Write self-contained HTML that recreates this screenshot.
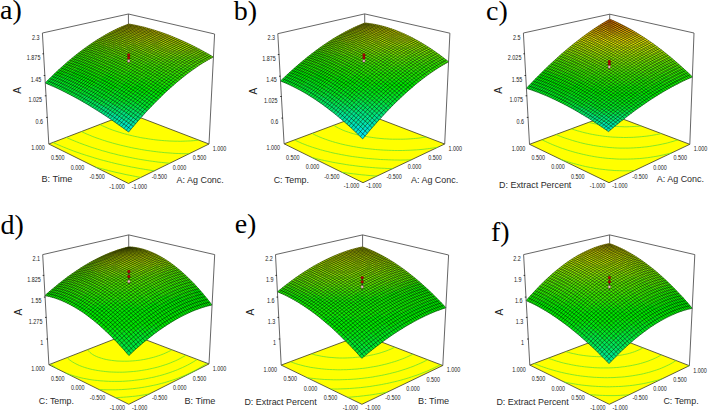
<!DOCTYPE html><html><head><meta charset="utf-8"><style>
html,body{margin:0;padding:0;background:#fff;}
svg{display:block;}
text{font-family:"Liberation Sans",sans-serif;fill:#333;}
.tk{font-size:6.6px;fill:#222;}
.tt{font-size:9.7px;fill:#2a2a2a;}
.pl{font-family:"Liberation Serif",serif;font-size:28px;fill:#000;}
</style></head><body>
<svg width="708" height="411" viewBox="0 0 708 411">
<path d="M48.8 144.0L128.5 183.5L209.0 144.0L129.0 113.3Z" fill="#ffff00" stroke="#3a3a20" stroke-width="0.8"/>
<path d="M141.1 177.5L137.8 176.9L135.3 176.4L132.4 175.8L129.2 175.2L126.1 174.6L123.0 173.9L120.0 173.2L117.0 172.6L114.1 171.9L111.2 171.2L108.3 170.5L105.5 169.7L102.7 169.0L100.0 168.3L97.2 167.5L95.6 167.1M154.5 170.9L152.1 170.5L148.9 170.0L145.6 169.5L143.3 169.1L140.2 168.6L137.0 168.0L133.9 167.4L131.4 167.0L128.8 166.4L125.8 165.8L122.8 165.2L119.9 164.5L117.1 163.9L114.2 163.2L111.5 162.5L108.7 161.8L106.0 161.1L103.3 160.4L99.9 159.5L97.3 158.7L94.8 158.0L92.3 157.2L89.1 156.2L86.7 155.5L84.3 154.7L81.2 153.7L79.0 152.9L76.0 151.9L73.8 151.1L71.0 150.0L68.8 149.2L66.1 148.1L63.4 147.0L61.4 146.2L58.9 145.1L56.3 144.0L53.9 142.9L52.7 142.3M169.9 163.3L167.0 163.0L164.0 162.7L161.5 162.4L158.2 162.1L155.6 161.7L152.6 161.3L149.5 160.9L147.2 160.5L144.0 160.0L140.9 159.5L138.4 159.1L135.8 158.6L132.8 158.0L129.9 157.4L127.0 156.8L124.2 156.2L121.4 155.6L118.6 155.0L116.0 154.3L113.3 153.6L110.7 153.0L108.1 152.3L105.1 151.4L102.3 150.7L99.9 149.9L97.5 149.2L94.4 148.2L92.1 147.5L89.2 146.5L87.0 145.7L84.1 144.7L82.0 143.9L79.3 142.9L76.6 141.8L74.6 141.0L72.1 140.0L69.6 138.9L67.2 137.8L66.0 137.2M189.5 153.7L186.7 153.7L184.0 153.7L181.2 153.6L178.2 153.5L175.1 153.4L172.5 153.2L170.1 153.0L167.0 152.8L164.2 152.6L161.7 152.3L158.6 152.0L156.2 151.7L153.1 151.3L150.3 150.9L147.9 150.6L144.8 150.1L141.8 149.6L139.5 149.2L137.0 148.7L134.1 148.2L131.3 147.6L128.6 147.0L125.9 146.4L123.3 145.8L120.7 145.2L118.1 144.5L114.9 143.7L112.5 143.0L110.1 142.3L107.2 141.5L104.8 140.7L102.5 140.0L99.7 139.0L97.0 138.1L94.8 137.3L92.2 136.3L89.6 135.2L87.1 134.2L84.7 133.1L82.3 132.0L81.2 131.5M198.3 140.1L195.3 140.5L193.2 140.7L190.5 140.9L187.7 141.0L185.3 141.1L182.9 141.2L180.3 141.3L177.7 141.2L175.0 141.2L172.1 141.1L169.2 141.0L166.7 140.8L164.4 140.7L161.2 140.4L158.9 140.2L155.9 139.9L153.7 139.6L150.7 139.2L148.2 138.8L145.8 138.4L143.0 138.0L140.2 137.5L137.6 136.9L134.9 136.4L132.4 135.8L129.9 135.2L127.5 134.6L124.6 133.8L122.1 133.1L119.9 132.4L117.0 131.5L114.9 130.8L112.2 129.9L109.6 128.9L107.2 127.9L104.8 126.8L102.5 125.8L100.3 124.7L99.8 124.4" fill="none" stroke="#5ee030" stroke-width="0.75"/>
<path d="M129.0 113.3L128.4 14.0" stroke="#555" stroke-width="0.9"/>
<path d="M128.6 132.0L133.3 126.4L128.6 123.0L123.9 128.5Z" fill="#00e6c9" stroke="#00e6c9" stroke-width="0.4"/>
<path d="M123.9 128.5L128.6 123.0L123.9 119.7L119.2 125.2Z" fill="#00e6ba" stroke="#00e6ba" stroke-width="0.4"/>
<path d="M119.2 125.2L123.9 119.7L119.3 116.5L114.6 122.0Z" fill="#00e6ac" stroke="#00e6ac" stroke-width="0.4"/>
<path d="M114.6 122.0L119.3 116.5L114.8 113.4L110.1 118.8ZM133.3 126.4L138.0 121.0L133.2 117.6L128.6 123.0Z" fill="#00e69e" stroke="#00e69e" stroke-width="0.4"/>
<path d="M110.1 118.8L114.8 113.4L110.3 110.5L105.6 115.8ZM128.6 123.0L133.2 117.6L128.6 114.4L123.9 119.7Z" fill="#00e68f" stroke="#00e68f" stroke-width="0.4"/>
<path d="M105.6 115.8L110.3 110.5L105.8 107.6L101.2 112.9ZM123.9 119.7L128.6 114.4L124.0 111.2L119.3 116.5Z" fill="#00e681" stroke="#00e681" stroke-width="0.4"/>
<path d="M101.2 112.9L105.8 107.6L101.5 104.9L96.8 110.1ZM119.3 116.5L124.0 111.2L119.4 108.2L114.8 113.4ZM138.0 121.0L142.6 115.8L137.8 112.5L133.2 117.6Z" fill="#00e673" stroke="#00e673" stroke-width="0.4"/>
<path d="M96.8 110.1L101.5 104.9L97.2 102.3L92.5 107.5ZM114.8 113.4L119.4 108.2L114.9 105.3L110.3 110.5ZM133.2 117.6L137.8 112.5L133.2 109.3L128.6 114.4Z" fill="#00e664" stroke="#00e664" stroke-width="0.4"/>
<path d="M92.5 107.5L97.2 102.3L92.9 99.7L88.3 104.9ZM88.3 104.9L92.9 99.7L88.7 97.3L84.1 102.4ZM110.3 110.5L114.9 105.3L110.5 102.5L105.8 107.6ZM128.6 114.4L133.2 109.3L128.6 106.2L124.0 111.2ZM142.6 115.8L147.1 110.8L142.4 107.5L137.8 112.5Z" fill="#00e656" stroke="#00e656" stroke-width="0.4"/>
<path d="M84.1 102.4L88.7 97.3L84.6 95.0L79.9 100.0ZM105.8 107.6L110.5 102.5L106.1 99.8L101.5 104.9ZM124.0 111.2L128.6 106.2L124.0 103.2L119.4 108.2ZM137.8 112.5L142.4 107.5L137.7 104.4L133.2 109.3Z" fill="#00e648" stroke="#00e648" stroke-width="0.4"/>
<path d="M79.9 100.0L84.6 95.0L80.5 92.8L75.9 97.8ZM75.9 97.8L80.5 92.8L76.4 90.7L71.8 95.6ZM101.5 104.9L106.1 99.8L101.8 97.3L97.2 102.3ZM119.4 108.2L124.0 103.2L119.5 100.4L114.9 105.3ZM133.2 109.3L137.7 104.4L133.1 101.3L128.6 106.2Z" fill="#00e639" stroke="#00e639" stroke-width="0.4"/>
<path d="M71.8 95.6L76.4 90.7L72.5 88.6L67.9 93.5ZM67.9 93.5L72.5 88.6L68.5 86.7L64.0 91.5ZM64.0 91.5L68.5 86.7L64.7 84.9L60.1 89.6ZM60.1 89.6L64.7 84.9L60.8 83.1L56.3 87.8ZM56.3 87.8L60.8 83.1L57.1 81.5L52.5 86.1ZM52.5 86.1L57.1 81.5L53.4 79.9L48.8 84.5ZM48.8 84.5L53.4 79.9L49.7 78.5L45.2 83.0ZM97.2 102.3L101.8 97.3L97.5 94.8L92.9 99.7ZM92.9 99.7L97.5 94.8L93.3 92.4L88.7 97.3ZM88.7 97.3L93.3 92.4L89.2 90.1L84.6 95.0ZM84.6 95.0L89.2 90.1L85.1 88.0L80.5 92.8ZM114.9 105.3L119.5 100.4L115.1 97.6L110.5 102.5ZM110.5 102.5L115.1 97.6L110.7 95.0L106.1 99.8ZM128.6 106.2L133.1 101.3L128.6 98.4L124.0 103.2ZM147.1 110.8L151.7 106.0L146.9 102.8L142.4 107.5ZM142.4 107.5L146.9 102.8L142.3 99.7L137.7 104.4Z" fill="#00e62b" stroke="#00e62b" stroke-width="0.4"/>
<path d="M80.5 92.8L85.1 88.0L81.0 85.9L76.4 90.7ZM76.4 90.7L81.0 85.9L77.0 83.9L72.5 88.6ZM72.5 88.6L77.0 83.9L73.1 82.1L68.5 86.7ZM68.5 86.7L73.1 82.1L69.2 80.3L64.7 84.9ZM64.7 84.9L69.2 80.3L65.4 78.6L60.8 83.1ZM60.8 83.1L65.4 78.6L61.6 77.0L57.1 81.5ZM57.1 81.5L61.6 77.0L57.9 75.5L53.4 79.9ZM53.4 79.9L57.9 75.5L54.2 74.1L49.7 78.5ZM106.1 99.8L110.7 95.0L106.4 92.4L101.8 97.3ZM101.8 97.3L106.4 92.4L102.1 90.0L97.5 94.8ZM97.5 94.8L102.1 90.0L97.9 87.7L93.3 92.4ZM93.3 92.4L97.9 87.7L93.7 85.5L89.2 90.1ZM124.0 103.2L128.6 98.4L124.1 95.6L119.5 100.4ZM119.5 100.4L124.1 95.6L119.6 92.9L115.1 97.6ZM115.1 97.6L119.6 92.9L115.2 90.3L110.7 95.0ZM137.7 104.4L142.3 99.7L137.6 96.7L133.1 101.3ZM133.1 101.3L137.6 96.7L133.1 93.8L128.6 98.4ZM151.7 106.0L156.1 101.4L151.4 98.2L146.9 102.8ZM146.9 102.8L151.4 98.2L146.7 95.2L142.3 99.7Z" fill="#00e61d" stroke="#00e61d" stroke-width="0.4"/>
<path d="M89.2 90.1L93.7 85.5L89.6 83.4L85.1 88.0ZM85.1 88.0L89.6 83.4L85.5 81.4L81.0 85.9ZM81.0 85.9L85.5 81.4L81.5 79.4L77.0 83.9ZM77.0 83.9L81.5 79.4L77.6 77.6L73.1 82.1ZM73.1 82.1L77.6 77.6L73.7 75.9L69.2 80.3ZM69.2 80.3L73.7 75.9L69.9 74.3L65.4 78.6ZM65.4 78.6L69.9 74.3L66.1 72.7L61.6 77.0ZM110.7 95.0L115.2 90.3L110.9 87.8L106.4 92.4ZM106.4 92.4L110.9 87.8L106.6 85.5L102.1 90.0ZM102.1 90.0L106.6 85.5L102.4 83.2L97.9 87.7ZM97.9 87.7L102.4 83.2L98.2 81.0L93.7 85.5ZM128.6 98.4L133.1 93.8L128.6 91.0L124.1 95.6ZM124.1 95.6L128.6 91.0L124.1 88.4L119.6 92.9ZM119.6 92.9L124.1 88.4L119.7 85.8L115.2 90.3ZM142.3 99.7L146.7 95.2L142.1 92.2L137.6 96.7ZM137.6 96.7L142.1 92.2L137.5 89.4L133.1 93.8ZM156.1 101.4L160.6 97.0L155.8 93.9L151.4 98.2ZM151.4 98.2L155.8 93.9L151.1 90.8L146.7 95.2Z" fill="#00e60e" stroke="#00e60e" stroke-width="0.4"/>
<path d="M61.6 77.0L66.1 72.7L62.3 71.3L57.9 75.5ZM57.9 75.5L62.3 71.3L58.6 69.9L54.2 74.1ZM93.7 85.5L98.2 81.0L94.1 79.0L89.6 83.4ZM89.6 83.4L94.1 79.0L90.0 77.0L85.5 81.4ZM85.5 81.4L90.0 77.0L86.0 75.1L81.5 79.4ZM81.5 79.4L86.0 75.1L82.1 73.4L77.6 77.6ZM77.6 77.6L82.1 73.4L78.2 71.7L73.7 75.9ZM73.7 75.9L78.2 71.7L74.3 70.1L69.9 74.3ZM115.2 90.3L119.7 85.8L115.4 83.4L110.9 87.8ZM110.9 87.8L115.4 83.4L111.1 81.1L106.6 85.5ZM106.6 85.5L111.1 81.1L106.9 78.9L102.4 83.2ZM102.4 83.2L106.9 78.9L102.7 76.7L98.2 81.0ZM133.1 93.8L137.5 89.4L133.0 86.7L128.6 91.0ZM128.6 91.0L133.0 86.7L128.6 84.1L124.1 88.4ZM124.1 88.4L128.6 84.1L124.2 81.6L119.7 85.8ZM146.7 95.2L151.1 90.8L146.5 87.9L142.1 92.2ZM142.1 92.2L146.5 87.9L141.9 85.2L137.5 89.4ZM137.5 89.4L141.9 85.2L137.4 82.5L133.0 86.7ZM160.6 97.0L164.9 92.8L160.2 89.7L155.8 93.9ZM155.8 93.9L160.2 89.7L155.5 86.7L151.1 90.8ZM164.9 92.8L169.3 88.8L164.5 85.7L160.2 89.7Z" fill="#00e600" stroke="#00e600" stroke-width="0.4"/>
<path d="M69.9 74.3L74.3 70.1L70.5 68.6L66.1 72.7ZM66.1 72.7L70.5 68.6L66.8 67.2L62.3 71.3ZM62.3 71.3L66.8 67.2L63.1 65.9L58.6 69.9ZM98.2 81.0L102.7 76.7L98.6 74.7L94.1 79.0ZM94.1 79.0L98.6 74.7L94.5 72.8L90.0 77.0ZM90.0 77.0L94.5 72.8L90.5 71.0L86.0 75.1ZM86.0 75.1L90.5 71.0L86.5 69.3L82.1 73.4ZM82.1 73.4L86.5 69.3L82.6 67.6L78.2 71.7ZM78.2 71.7L82.6 67.6L78.7 66.1L74.3 70.1ZM119.7 85.8L124.2 81.6L119.8 79.2L115.4 83.4ZM115.4 83.4L119.8 79.2L115.5 76.9L111.1 81.1ZM111.1 81.1L115.5 76.9L111.3 74.7L106.9 78.9ZM106.9 78.9L111.3 74.7L107.1 72.6L102.7 76.7ZM133.0 86.7L137.4 82.5L133.0 79.9L128.6 84.1ZM128.6 84.1L133.0 79.9L128.6 77.5L124.2 81.6ZM151.1 90.8L155.5 86.7L150.9 83.9L146.5 87.9ZM146.5 87.9L150.9 83.9L146.3 81.1L141.9 85.2ZM141.9 85.2L146.3 81.1L141.8 78.5L137.4 82.5ZM160.2 89.7L164.5 85.7L159.8 82.8L155.5 86.7ZM155.5 86.7L159.8 82.8L155.2 80.0L150.9 83.9ZM169.3 88.8L173.5 85.0L168.8 82.0L164.5 85.7Z" fill="#0ee600" stroke="#0ee600" stroke-width="0.4"/>
<path d="M74.3 70.1L78.7 66.1L74.9 64.7L70.5 68.6ZM70.5 68.6L74.9 64.7L71.2 63.3L66.8 67.2ZM66.8 67.2L71.2 63.3L67.5 62.1L63.1 65.9ZM102.7 76.7L107.1 72.6L103.0 70.7L98.6 74.7ZM98.6 74.7L103.0 70.7L98.9 68.8L94.5 72.8ZM94.5 72.8L98.9 68.8L94.9 67.0L90.5 71.0ZM90.5 71.0L94.9 67.0L90.9 65.4L86.5 69.3ZM86.5 69.3L90.9 65.4L87.0 63.8L82.6 67.6ZM82.6 67.6L87.0 63.8L83.1 62.3L78.7 66.1ZM78.7 66.1L83.1 62.3L79.3 60.9L74.9 64.7ZM74.9 64.7L79.3 60.9L75.5 59.6L71.2 63.3ZM124.2 81.6L128.6 77.5L124.2 75.1L119.8 79.2ZM119.8 79.2L124.2 75.1L119.9 72.9L115.5 76.9ZM115.5 76.9L119.9 72.9L115.7 70.7L111.3 74.7ZM111.3 74.7L115.7 70.7L111.5 68.7L107.1 72.6ZM137.4 82.5L141.8 78.5L137.3 76.0L133.0 79.9ZM133.0 79.9L137.3 76.0L132.9 73.6L128.6 77.5ZM128.6 77.5L132.9 73.6L128.6 71.3L124.2 75.1ZM150.9 83.9L155.2 80.0L150.6 77.3L146.3 81.1ZM146.3 81.1L150.6 77.3L146.1 74.7L141.8 78.5ZM164.5 85.7L168.8 82.0L164.1 79.1L159.8 82.8ZM159.8 82.8L164.1 79.1L159.5 76.3L155.2 80.0ZM173.5 85.0L177.7 81.4L173.0 78.4L168.8 82.0ZM168.8 82.0L173.0 78.4L168.3 75.5L164.1 79.1Z" fill="#1de600" stroke="#1de600" stroke-width="0.4"/>
<path d="M71.2 63.3L75.5 59.6L71.8 58.4L67.5 62.1ZM107.1 72.6L111.5 68.7L107.3 66.8L103.0 70.7ZM103.0 70.7L107.3 66.8L103.3 65.0L98.9 68.8ZM98.9 68.8L103.3 65.0L99.2 63.3L94.9 67.0ZM94.9 67.0L99.2 63.3L95.3 61.6L90.9 65.4ZM90.9 65.4L95.3 61.6L91.3 60.1L87.0 63.8ZM87.0 63.8L91.3 60.1L87.5 58.7L83.1 62.3ZM83.1 62.3L87.5 58.7L83.6 57.3L79.3 60.9ZM79.3 60.9L83.6 57.3L79.9 56.1L75.5 59.6ZM75.5 59.6L79.9 56.1L76.1 54.9L71.8 58.4ZM124.2 75.1L128.6 71.3L124.3 69.1L119.9 72.9ZM119.9 72.9L124.3 69.1L120.0 67.0L115.7 70.7ZM115.7 70.7L120.0 67.0L115.8 65.0L111.5 68.7ZM111.5 68.7L115.8 65.0L111.7 63.1L107.3 66.8ZM141.8 78.5L146.1 74.7L141.6 72.2L137.3 76.0ZM137.3 76.0L141.6 72.2L137.2 69.8L132.9 73.6ZM132.9 73.6L137.2 69.8L132.9 67.6L128.6 71.3ZM155.2 80.0L159.5 76.3L154.9 73.6L150.6 77.3ZM150.6 77.3L154.9 73.6L150.4 71.1L146.1 74.7ZM146.1 74.7L150.4 71.1L145.9 68.6L141.6 72.2ZM164.1 79.1L168.3 75.5L163.7 72.8L159.5 76.3ZM159.5 76.3L163.7 72.8L159.1 70.1L154.9 73.6ZM177.7 81.4L181.9 78.0L177.2 75.0L173.0 78.4ZM173.0 78.4L177.2 75.0L172.5 72.2L168.3 75.5ZM181.9 78.0L186.0 74.7L181.3 71.8L177.2 75.0Z" fill="#2be600" stroke="#2be600" stroke-width="0.4"/>
<path d="M107.3 66.8L111.7 63.1L107.6 61.3L103.3 65.0ZM103.3 65.0L107.6 61.3L103.6 59.6L99.2 63.3ZM99.2 63.3L103.6 59.6L99.6 58.1L95.3 61.6ZM95.3 61.6L99.6 58.1L95.6 56.6L91.3 60.1ZM91.3 60.1L95.6 56.6L91.8 55.2L87.5 58.7ZM87.5 58.7L91.8 55.2L87.9 53.9L83.6 57.3ZM83.6 57.3L87.9 53.9L84.1 52.7L79.9 56.1ZM79.9 56.1L84.1 52.7L80.4 51.6L76.1 54.9ZM128.6 71.3L132.9 67.6L128.6 65.4L124.3 69.1ZM124.3 69.1L128.6 65.4L124.3 63.4L120.0 67.0ZM120.0 67.0L124.3 63.4L120.1 61.4L115.8 65.0ZM115.8 65.0L120.1 61.4L116.0 59.6L111.7 63.1ZM111.7 63.1L116.0 59.6L111.9 57.9L107.6 61.3ZM141.6 72.2L145.9 68.6L141.5 66.3L137.2 69.8ZM137.2 69.8L141.5 66.3L137.1 64.1L132.9 67.6ZM132.9 67.6L137.1 64.1L132.8 62.0L128.6 65.4ZM154.9 73.6L159.1 70.1L154.6 67.6L150.4 71.1ZM150.4 71.1L154.6 67.6L150.1 65.2L145.9 68.6ZM145.9 68.6L150.1 65.2L145.7 62.9L141.5 66.3ZM168.3 75.5L172.5 72.2L167.9 69.4L163.7 72.8ZM163.7 72.8L167.9 69.4L163.3 66.9L159.1 70.1ZM159.1 70.1L163.3 66.9L158.8 64.4L154.6 67.6ZM177.2 75.0L181.3 71.8L176.6 69.0L172.5 72.2ZM172.5 72.2L176.6 69.0L172.0 66.3L167.9 69.4ZM186.0 74.7L190.1 71.6L185.4 68.8L181.3 71.8ZM181.3 71.8L185.4 68.8L180.7 66.0L176.6 69.0ZM190.1 71.6L194.1 68.8L189.4 65.9L185.4 68.8Z" fill="#39e600" stroke="#39e600" stroke-width="0.4"/>
<path d="M107.6 61.3L111.9 57.9L107.8 56.2L103.6 59.6ZM103.6 59.6L107.8 56.2L103.8 54.7L99.6 58.1ZM99.6 58.1L103.8 54.7L99.9 53.2L95.6 56.6ZM95.6 56.6L99.9 53.2L96.0 51.9L91.8 55.2ZM91.8 55.2L96.0 51.9L92.2 50.6L87.9 53.9ZM87.9 53.9L92.2 50.6L88.4 49.5L84.1 52.7ZM84.1 52.7L88.4 49.5L84.7 48.4L80.4 51.6ZM128.6 65.4L132.8 62.0L128.6 59.9L124.3 63.4ZM124.3 63.4L128.6 59.9L124.4 58.0L120.1 61.4ZM120.1 61.4L124.4 58.0L120.2 56.3L116.0 59.6ZM116.0 59.6L120.2 56.3L116.1 54.6L111.9 57.9ZM141.5 66.3L145.7 62.9L141.4 60.7L137.1 64.1ZM137.1 64.1L141.4 60.7L137.0 58.7L132.8 62.0ZM154.6 67.6L158.8 64.4L154.3 62.0L150.1 65.2ZM150.1 65.2L154.3 62.0L149.9 59.7L145.7 62.9ZM167.9 69.4L172.0 66.3L167.4 63.7L163.3 66.9ZM163.3 66.9L167.4 63.7L162.9 61.3L158.8 64.4ZM176.6 69.0L180.7 66.0L176.1 63.3L172.0 66.3ZM172.0 66.3L176.1 63.3L171.5 60.8L167.4 63.7ZM185.4 68.8L189.4 65.9L184.7 63.2L180.7 66.0ZM194.1 68.8L198.0 66.1L193.3 63.2L189.4 65.9Z" fill="#48e600" stroke="#48e600" stroke-width="0.4"/>
<path d="M111.9 57.9L116.1 54.6L112.1 53.0L107.8 56.2ZM107.8 56.2L112.1 53.0L108.1 51.5L103.8 54.7ZM103.8 54.7L108.1 51.5L104.1 50.1L99.9 53.2ZM99.9 53.2L104.1 50.1L100.2 48.8L96.0 51.9ZM96.0 51.9L100.2 48.8L96.4 47.5L92.2 50.6ZM92.2 50.6L96.4 47.5L92.6 46.4L88.4 49.5ZM88.4 49.5L92.6 46.4L88.9 45.4L84.7 48.4ZM132.8 62.0L137.0 58.7L132.8 56.7L128.6 59.9ZM128.6 59.9L132.8 56.7L128.6 54.8L124.4 58.0ZM124.4 58.0L128.6 54.8L124.4 53.1L120.2 56.3ZM145.7 62.9L149.9 59.7L145.5 57.6L141.4 60.7ZM141.4 60.7L145.5 57.6L141.2 55.6L137.0 58.7ZM158.8 64.4L162.9 61.3L158.4 59.0L154.3 62.0ZM154.3 62.0L158.4 59.0L154.0 56.7L149.9 59.7ZM167.4 63.7L171.5 60.8L167.0 58.4L162.9 61.3ZM180.7 66.0L184.7 63.2L180.1 60.6L176.1 63.3ZM176.1 63.3L180.1 60.6L175.5 58.1L171.5 60.8ZM189.4 65.9L193.3 63.2L188.7 60.5L184.7 63.2ZM184.7 63.2L188.7 60.5L184.0 57.9L180.1 60.6ZM198.0 66.1L201.9 63.5L197.2 60.7L193.3 63.2ZM193.3 63.2L197.2 60.7L192.6 58.1L188.7 60.5ZM201.9 63.5L205.8 61.2L201.1 58.4L197.2 60.7Z" fill="#56e600" stroke="#56e600" stroke-width="0.4"/>
<path d="M120.2 56.3L124.4 53.1L120.3 51.4L116.1 54.6ZM116.1 54.6L120.3 51.4L116.3 49.9L112.1 53.0ZM112.1 53.0L116.3 49.9L112.3 48.4L108.1 51.5ZM108.1 51.5L112.3 48.4L108.3 47.1L104.1 50.1ZM104.1 50.1L108.3 47.1L104.4 45.8L100.2 48.8ZM100.2 48.8L104.4 45.8L100.6 44.6L96.4 47.5ZM96.4 47.5L100.6 44.6L96.8 43.5L92.6 46.4ZM92.6 46.4L96.8 43.5L93.0 42.6L88.9 45.4ZM137.0 58.7L141.2 55.6L136.9 53.6L132.8 56.7ZM132.8 56.7L136.9 53.6L132.7 51.8L128.6 54.8ZM149.9 59.7L154.0 56.7L149.6 54.6L145.5 57.6ZM145.5 57.6L149.6 54.6L145.3 52.6L141.2 55.6ZM162.9 61.3L167.0 58.4L162.5 56.1L158.4 59.0ZM158.4 59.0L162.5 56.1L158.1 53.9L154.0 56.7ZM171.5 60.8L175.5 58.1L171.0 55.7L167.0 58.4ZM180.1 60.6L184.0 57.9L179.5 55.5L175.5 58.1ZM188.7 60.5L192.6 58.1L187.9 55.5L184.0 57.9ZM197.2 60.7L201.1 58.4L196.4 55.8L192.6 58.1ZM205.8 61.2L209.6 59.0L204.9 56.3L201.1 58.4ZM209.6 59.0L213.3 57.0L208.6 54.3L204.9 56.3Z" fill="#64e600" stroke="#64e600" stroke-width="0.4"/>
<path d="M128.6 54.8L132.7 51.8L128.6 50.1L124.4 53.1ZM124.4 53.1L128.6 50.1L124.5 48.5L120.3 51.4ZM120.3 51.4L124.5 48.5L120.4 47.0L116.3 49.9ZM116.3 49.9L120.4 47.0L116.4 45.5L112.3 48.4ZM141.2 55.6L145.3 52.6L141.1 50.7L136.9 53.6ZM136.9 53.6L141.1 50.7L136.9 48.9L132.7 51.8ZM154.0 56.7L158.1 53.9L153.7 51.8L149.6 54.6ZM167.0 58.4L171.0 55.7L166.5 53.4L162.5 56.1ZM175.5 58.1L179.5 55.5L175.0 53.1L171.0 55.7ZM184.0 57.9L187.9 55.5L183.4 53.1L179.5 55.5ZM192.6 58.1L196.4 55.8L191.8 53.2L187.9 55.5ZM201.1 58.4L204.9 56.3L200.2 53.6L196.4 55.8ZM204.9 56.3L208.6 54.3L204.0 51.7L200.2 53.6Z" fill="#73e600" stroke="#73e600" stroke-width="0.4"/>
<path d="M112.3 48.4L116.4 45.5L112.5 44.2L108.3 47.1ZM108.3 47.1L112.5 44.2L108.6 43.0L104.4 45.8ZM104.4 45.8L108.6 43.0L104.7 41.9L100.6 44.6ZM100.6 44.6L104.7 41.9L100.9 40.8L96.8 43.5ZM96.8 43.5L100.9 40.8L97.1 39.9L93.0 42.6ZM132.7 51.8L136.9 48.9L132.7 47.3L128.6 50.1ZM128.6 50.1L132.7 47.3L128.6 45.7L124.5 48.5ZM149.6 54.6L153.7 51.8L149.4 49.9L145.3 52.6ZM145.3 52.6L149.4 49.9L145.1 48.0L141.1 50.7ZM162.5 56.1L166.5 53.4L162.1 51.2L158.1 53.9ZM158.1 53.9L162.1 51.2L157.7 49.2L153.7 51.8ZM171.0 55.7L175.0 53.1L170.5 50.9L166.5 53.4ZM179.5 55.5L183.4 53.1L178.9 50.7L175.0 53.1ZM187.9 55.5L191.8 53.2L187.3 50.8L183.4 53.1ZM196.4 55.8L200.2 53.6L195.6 51.1L191.8 53.2ZM200.2 53.6L204.0 51.7L199.4 49.2L195.6 51.1Z" fill="#81e600" stroke="#81e600" stroke-width="0.4"/>
<path d="M124.5 48.5L128.6 45.7L124.5 44.2L120.4 47.0ZM120.4 47.0L124.5 44.2L120.5 42.8L116.4 45.5ZM116.4 45.5L120.5 42.8L116.6 41.5L112.5 44.2ZM112.5 44.2L116.6 41.5L112.7 40.4L108.6 43.0ZM108.6 43.0L112.7 40.4L108.8 39.3L104.7 41.9ZM104.7 41.9L108.8 39.3L105.0 38.3L100.9 40.8ZM100.9 40.8L105.0 38.3L101.2 37.4L97.1 39.9ZM141.1 50.7L145.1 48.0L140.9 46.3L136.9 48.9ZM136.9 48.9L140.9 46.3L136.8 44.6L132.7 47.3ZM132.7 47.3L136.8 44.6L132.7 43.1L128.6 45.7ZM153.7 51.8L157.7 49.2L153.4 47.3L149.4 49.9ZM149.4 49.9L153.4 47.3L149.2 45.4L145.1 48.0ZM166.5 53.4L170.5 50.9L166.1 48.8L162.1 51.2ZM162.1 51.2L166.1 48.8L161.7 46.7L157.7 49.2ZM175.0 53.1L178.9 50.7L174.4 48.5L170.5 50.9ZM183.4 53.1L187.3 50.8L182.8 48.5L178.9 50.7ZM191.8 53.2L195.6 51.1L191.1 48.7L187.3 50.8ZM195.6 51.1L199.4 49.2L194.8 46.8L191.1 48.7Z" fill="#8fe600" stroke="#8fe600" stroke-width="0.4"/>
<path d="M128.6 45.7L132.7 43.1L128.6 41.6L124.5 44.2ZM124.5 44.2L128.6 41.6L124.6 40.3L120.5 42.8ZM120.5 42.8L124.6 40.3L120.6 39.0L116.6 41.5ZM116.6 41.5L120.6 39.0L116.7 37.9L112.7 40.4ZM112.7 40.4L116.7 37.9L112.8 36.8L108.8 39.3ZM108.8 39.3L112.8 36.8L109.0 35.9L105.0 38.3ZM105.0 38.3L109.0 35.9L105.3 35.0L101.2 37.4ZM145.1 48.0L149.2 45.4L145.0 43.7L140.9 46.3ZM140.9 46.3L145.0 43.7L140.8 42.1L136.8 44.6ZM157.7 49.2L161.7 46.7L157.4 44.8L153.4 47.3ZM153.4 47.3L157.4 44.8L153.1 43.1L149.2 45.4ZM170.5 50.9L174.4 48.5L170.0 46.4L166.1 48.8ZM166.1 48.8L170.0 46.4L165.6 44.5L161.7 46.7ZM178.9 50.7L182.8 48.5L178.3 46.4L174.4 48.5ZM174.4 48.5L178.3 46.4L173.9 44.3L170.0 46.4ZM187.3 50.8L191.1 48.7L186.6 46.5L182.8 48.5ZM182.8 48.5L186.6 46.5L182.1 44.3L178.3 46.4ZM191.1 48.7L194.8 46.8L190.3 44.6L186.6 46.5Z" fill="#9ee600" stroke="#9ee600" stroke-width="0.4"/>
<path d="M136.8 44.6L140.8 42.1L136.7 40.6L132.7 43.1ZM132.7 43.1L136.7 40.6L132.6 39.2L128.6 41.6ZM128.6 41.6L132.6 39.2L128.6 37.9L124.6 40.3ZM124.6 40.3L128.6 37.9L124.6 36.7L120.6 39.0ZM120.6 39.0L124.6 36.7L120.7 35.6L116.7 37.9ZM116.7 37.9L120.7 35.6L116.9 34.5L112.8 36.8ZM112.8 36.8L116.9 34.5L113.0 33.6L109.0 35.9ZM109.0 35.9L113.0 33.6L109.3 32.8L105.3 35.0ZM149.2 45.4L153.1 43.1L148.9 41.4L145.0 43.7ZM145.0 43.7L148.9 41.4L144.8 39.8L140.8 42.1ZM161.7 46.7L165.6 44.5L161.3 42.6L157.4 44.8ZM157.4 44.8L161.3 42.6L157.1 40.8L153.1 43.1ZM170.0 46.4L173.9 44.3L169.5 42.3L165.6 44.5ZM178.3 46.4L182.1 44.3L177.7 42.3L173.9 44.3ZM186.6 46.5L190.3 44.6L185.9 42.5L182.1 44.3Z" fill="#ace600" stroke="#ace600" stroke-width="0.4"/>
<path d="M140.8 42.1L144.8 39.8L140.7 38.3L136.7 40.6ZM136.7 40.6L140.7 38.3L136.6 36.9L132.6 39.2ZM132.6 39.2L136.6 36.9L132.6 35.7L128.6 37.9ZM128.6 37.9L132.6 35.7L128.6 34.5L124.6 36.7ZM124.6 36.7L128.6 34.5L124.7 33.4L120.7 35.6ZM120.7 35.6L124.7 33.4L120.8 32.4L116.9 34.5ZM116.9 34.5L120.8 32.4L117.0 31.5L113.0 33.6ZM113.0 33.6L117.0 31.5L113.2 30.7L109.3 32.8ZM153.1 43.1L157.1 40.8L152.9 39.2L148.9 41.4ZM148.9 41.4L152.9 39.2L148.7 37.6L144.8 39.8ZM165.6 44.5L169.5 42.3L165.2 40.5L161.3 42.6ZM161.3 42.6L165.2 40.5L161.0 38.8L157.1 40.8ZM173.9 44.3L177.7 42.3L173.4 40.4L169.5 42.3ZM169.5 42.3L173.4 40.4L169.1 38.6L165.2 40.5ZM182.1 44.3L185.9 42.5L181.5 40.5L177.7 42.3ZM177.7 42.3L181.5 40.5L177.1 38.6L173.4 40.4Z" fill="#bae600" stroke="#bae600" stroke-width="0.4"/>
<path d="M144.8 39.8L148.7 37.6L144.6 36.2L140.7 38.3ZM140.7 38.3L144.6 36.2L140.5 34.8L136.6 36.9ZM136.6 36.9L140.5 34.8L136.5 33.6L132.6 35.7ZM132.6 35.7L136.5 33.6L132.5 32.4L128.6 34.5ZM128.6 34.5L132.5 32.4L128.6 31.4L124.7 33.4ZM124.7 33.4L128.6 31.4L124.7 30.4L120.8 32.4ZM120.8 32.4L124.7 30.4L120.9 29.6L117.0 31.5ZM117.0 31.5L120.9 29.6L117.1 28.8L113.2 30.7ZM157.1 40.8L161.0 38.8L156.8 37.1L152.9 39.2ZM152.9 39.2L156.8 37.1L152.6 35.6L148.7 37.6ZM148.7 37.6L152.6 35.6L148.5 34.2L144.6 36.2ZM165.2 40.5L169.1 38.6L164.8 36.9L161.0 38.8ZM161.0 38.8L164.8 36.9L160.6 35.3L156.8 37.1ZM173.4 40.4L177.1 38.6L172.8 36.8L169.1 38.6Z" fill="#c9e600" stroke="#c9e600" stroke-width="0.4"/>
<path d="M144.6 36.2L148.5 34.2L144.4 32.9L140.5 34.8ZM140.5 34.8L144.4 32.9L140.4 31.7L136.5 33.6ZM136.5 33.6L140.4 31.7L136.4 30.6L132.5 32.4ZM132.5 32.4L136.4 30.6L132.5 29.5L128.6 31.4ZM128.6 31.4L132.5 29.5L128.6 28.6L124.7 30.4ZM124.7 30.4L128.6 28.6L124.8 27.8L120.9 29.6ZM120.9 29.6L124.8 27.8L121.0 27.1L117.1 28.8ZM156.8 37.1L160.6 35.3L156.4 33.8L152.6 35.6ZM152.6 35.6L156.4 33.8L152.3 32.4L148.5 34.2ZM148.5 34.2L152.3 32.4L148.3 31.1L144.4 32.9ZM144.4 32.9L148.3 31.1L144.2 29.9L140.4 31.7ZM124.8 27.8L128.6 26.2L124.9 25.5L121.0 27.1ZM169.1 38.6L172.8 36.8L168.6 35.1L164.8 36.9ZM164.8 36.9L168.6 35.1L164.4 33.5L160.6 35.3ZM160.6 35.3L164.4 33.5L160.2 32.1L156.4 33.8Z" fill="#d7e600" stroke="#d7e600" stroke-width="0.4"/>
<path d="M140.4 31.7L144.2 29.9L140.3 28.8L136.4 30.6ZM136.4 30.6L140.3 28.8L136.3 27.8L132.5 29.5ZM132.5 29.5L136.3 27.8L132.5 27.0L128.6 28.6ZM128.6 28.6L132.5 27.0L128.6 26.2L124.8 27.8ZM156.4 33.8L160.2 32.1L156.1 30.7L152.3 32.4ZM152.3 32.4L156.1 30.7L152.1 29.5L148.3 31.1ZM148.3 31.1L152.1 29.5L148.0 28.3L144.2 29.9ZM144.2 29.9L148.0 28.3L144.1 27.2L140.3 28.8ZM140.3 28.8L144.1 27.2L140.1 26.3L136.3 27.8ZM136.3 27.8L140.1 26.3L136.3 25.4L132.5 27.0ZM132.5 27.0L136.3 25.4L132.4 24.7L128.6 26.2ZM128.6 26.2L132.4 24.7L128.7 24.0L124.9 25.5Z" fill="#e6e600" stroke="#e6e600" stroke-width="0.4"/>
<path d="M128.6 132.0L122.3 127.4L116.1 123.0L110.1 118.8L104.1 114.8L98.3 111.1L92.5 107.5L86.9 104.0L81.3 100.8L75.9 97.8L70.5 94.9L65.3 92.2L60.1 89.6L55.0 87.3L50.0 85.1L45.2 83.0M128.6 132.0L134.8 124.6L141.0 117.5L147.1 110.8L153.2 104.4L159.1 98.5L164.9 92.8L170.7 87.5L176.3 82.6L181.9 78.0L187.4 73.7L192.8 69.7L198.0 66.1L203.2 62.7L208.3 59.7L213.3 57.0M130.9 129.2L124.7 124.6L118.5 120.3L112.4 116.1L106.5 112.2L100.6 108.4L94.8 104.8L89.2 101.5L83.6 98.3L78.2 95.2L72.8 92.4L67.6 89.7L62.4 87.2L57.3 84.9L52.3 82.7L47.4 80.7M126.2 130.3L132.5 122.8L138.7 115.8L144.8 109.1L150.8 102.8L156.7 96.9L162.6 91.2L168.3 86.0L174.0 81.1L179.5 76.5L185.0 72.2L190.4 68.3L195.7 64.6L200.9 61.3L206.0 58.3L211.0 55.6M133.3 126.4L127.0 121.9L120.8 117.5L114.8 113.4L108.8 109.5L102.9 105.8L97.2 102.3L91.5 98.9L85.9 95.8L80.5 92.8L75.1 90.0L69.8 87.3L64.7 84.9L59.6 82.6L54.6 80.4L49.7 78.5M123.9 128.5L130.1 121.2L136.3 114.2L142.4 107.5L148.4 101.2L154.4 95.3L160.2 89.7L165.9 84.5L171.6 79.6L177.2 75.0L182.6 70.8L188.0 66.8L193.3 63.2L198.5 59.9L203.6 57.0L208.6 54.3M135.6 123.7L129.3 119.2L123.2 114.9L117.1 110.8L111.1 106.9L105.2 103.2L99.5 99.7L93.8 96.4L88.2 93.3L82.8 90.4L77.4 87.6L72.1 85.0L66.9 82.6L61.8 80.3L56.9 78.2L51.9 76.3M121.5 126.8L127.8 119.5L134.0 112.5L140.1 105.9L146.1 99.7L152.0 93.8L157.8 88.2L163.6 83.0L169.3 78.1L174.8 73.6L180.3 69.3L185.7 65.4L191.0 61.9L196.2 58.6L201.3 55.6L206.3 53.0M138.0 121.0L131.7 116.5L125.5 112.3L119.4 108.2L113.4 104.4L107.6 100.7L101.8 97.3L96.1 94.0L90.5 90.9L85.1 88.0L79.7 85.3L74.4 82.7L69.2 80.3L64.1 78.1L59.1 76.0L54.2 74.1M119.2 125.2L125.5 117.9L131.6 110.9L137.7 104.4L143.8 98.1L149.7 92.3L155.5 86.7L161.3 81.5L166.9 76.7L172.5 72.2L178.0 68.0L183.4 64.1L188.7 60.5L193.9 57.3L199.0 54.3L204.0 51.7M140.3 118.4L134.0 113.9L127.8 109.7L121.7 105.7L115.7 101.9L109.9 98.3L104.1 94.8L98.4 91.6L92.8 88.5L87.3 85.7L81.9 83.0L76.7 80.4L71.5 78.1L66.4 75.9L61.3 73.9L56.4 72.0M116.9 123.6L123.2 116.3L129.3 109.4L135.4 102.8L141.4 96.6L147.4 90.8L153.2 85.3L158.9 80.1L164.6 75.3L170.2 70.8L175.7 66.6L181.0 62.8L186.3 59.2L191.5 56.0L196.7 53.1L201.7 50.4M142.6 115.8L136.3 111.4L130.1 107.2L124.0 103.2L118.0 99.4L112.1 95.8L106.4 92.4L100.7 89.2L95.1 86.2L89.6 83.4L84.2 80.7L78.9 78.2L73.7 75.9L68.6 73.7L63.6 71.8L58.6 69.9M114.6 122.0L120.9 114.7L127.0 107.8L133.1 101.3L139.1 95.2L145.0 89.3L150.9 83.9L156.6 78.7L162.3 73.9L167.9 69.4L173.3 65.3L178.7 61.5L184.0 57.9L189.2 54.7L194.4 51.8L199.4 49.2M144.9 113.3L138.6 108.9L132.4 104.7L126.3 100.8L120.3 97.0L114.4 93.5L108.6 90.1L102.9 86.9L97.3 84.0L91.9 81.1L86.5 78.5L81.2 76.1L75.9 73.8L70.8 71.7L65.8 69.7L60.9 67.9M112.3 120.4L118.6 113.2L124.7 106.3L130.8 99.9L136.8 93.7L142.8 87.9L148.6 82.5L154.3 77.4L160.0 72.6L165.6 68.1L171.1 64.0L176.4 60.2L181.7 56.7L187.0 53.5L192.1 50.6L197.1 48.0M147.1 110.8L140.9 106.5L134.7 102.3L128.6 98.4L122.6 94.7L116.7 91.2L110.9 87.8L105.2 84.7L99.6 81.7L94.1 79.0L88.7 76.4L83.4 73.9L78.2 71.7L73.0 69.6L68.0 67.7L63.1 65.9M110.1 118.8L116.3 111.7L122.5 104.9L128.6 98.4L134.6 92.3L140.5 86.5L146.3 81.1L152.1 76.0L157.7 71.3L163.3 66.9L168.8 62.7L174.2 59.0L179.5 55.5L184.7 52.3L189.8 49.4L194.8 46.8M149.4 108.4L143.1 104.1L136.9 100.0L130.8 96.1L124.8 92.4L118.9 88.9L113.1 85.6L107.4 82.5L101.8 79.6L96.3 76.8L90.9 74.3L85.6 71.9L80.4 69.6L75.3 67.6L70.2 65.7L65.3 64.0M107.8 117.3L114.1 110.2L120.2 103.4L126.3 97.0L132.3 90.9L138.2 85.2L144.0 79.8L149.8 74.7L155.5 70.0L161.0 65.6L166.5 61.5L171.9 57.7L177.2 54.3L182.4 51.1L187.6 48.3L192.6 45.7M151.7 106.0L145.4 101.7L139.2 97.7L133.1 93.8L127.1 90.1L121.2 86.7L115.4 83.4L109.7 80.3L104.1 77.4L98.6 74.7L93.1 72.2L87.8 69.8L82.6 67.6L77.5 65.6L72.4 63.8L67.5 62.1M105.6 115.8L111.8 108.7L118.0 102.0L124.1 95.6L130.1 89.6L136.0 83.8L141.8 78.5L147.5 73.5L153.2 68.7L158.8 64.4L164.3 60.3L169.6 56.6L175.0 53.1L180.2 50.0L185.3 47.1L190.3 44.6M153.9 103.7L147.6 99.4L141.4 95.4L135.3 91.6L129.3 87.9L123.4 84.5L117.6 81.3L111.9 78.2L106.3 75.4L100.8 72.7L95.4 70.2L90.0 67.8L84.8 65.7L79.7 63.7L74.6 61.9L69.6 60.2M103.4 114.4L109.6 107.3L115.8 100.6L121.8 94.2L127.8 88.2L133.7 82.5L139.6 77.2L145.3 72.2L151.0 67.5L156.5 63.2L162.0 59.1L167.4 55.4L172.7 52.0L177.9 48.9L183.1 46.1L188.1 43.5M156.1 101.4L149.8 97.2L143.6 93.2L137.5 89.4L131.5 85.8L125.6 82.4L119.8 79.2L114.1 76.1L108.5 73.3L103.0 70.7L97.5 68.2L92.2 65.9L87.0 63.8L81.8 61.8L76.8 60.0L71.8 58.4M101.2 112.9L107.4 105.9L113.5 99.2L119.6 92.9L125.6 86.9L131.5 81.3L137.3 76.0L143.1 71.0L148.7 66.3L154.3 62.0L159.8 58.0L165.2 54.3L170.5 50.9L175.7 47.8L180.9 45.0L185.9 42.5M158.4 99.2L152.1 95.0L145.8 91.0L139.7 87.2L133.7 83.7L127.8 80.3L122.0 77.1L116.3 74.1L110.7 71.3L105.2 68.7L99.7 66.3L94.4 64.0L89.2 61.9L84.0 60.0L79.0 58.2L74.0 56.6M99.0 111.5L105.2 104.5L111.3 97.9L117.4 91.6L123.4 85.6L129.3 80.0L135.1 74.7L140.9 69.8L146.5 65.2L152.1 60.9L157.6 56.9L163.0 53.2L168.3 49.8L173.5 46.7L178.6 43.9L183.7 41.5M160.6 97.0L154.3 92.8L148.1 88.9L141.9 85.2L135.9 81.6L130.0 78.3L124.2 75.1L118.5 72.2L112.9 69.4L107.3 66.8L101.9 64.4L96.6 62.2L91.3 60.1L86.2 58.2L81.1 56.5L76.1 54.9M96.8 110.1L103.0 103.2L109.2 96.6L115.2 90.3L121.2 84.4L127.1 78.8L132.9 73.6L138.7 68.6L144.3 64.0L149.9 59.7L155.4 55.8L160.8 52.1L166.1 48.8L171.3 45.7L176.4 42.9L181.5 40.5M162.8 94.9L156.5 90.8L150.2 86.8L144.1 83.1L138.1 79.6L132.2 76.3L126.4 73.2L120.7 70.2L115.1 67.5L109.5 64.9L104.1 62.6L98.7 60.3L93.5 58.3L88.3 56.5L83.3 54.8L78.3 53.2M94.7 108.8L100.9 101.9L107.0 95.3L113.0 89.1L119.0 83.2L124.9 77.6L130.7 72.4L136.5 67.5L142.1 62.9L147.7 58.7L153.2 54.7L158.6 51.1L163.9 47.7L169.1 44.7L174.3 42.0L179.3 39.5M164.9 92.8L158.6 88.7L152.4 84.8L146.3 81.1L140.3 77.6L134.4 74.3L128.6 71.3L122.8 68.3L117.2 65.6L111.7 63.1L106.2 60.8L100.9 58.6L95.6 56.6L90.5 54.7L85.4 53.1L80.4 51.6M92.5 107.5L98.7 100.6L104.8 94.0L110.9 87.8L116.9 82.0L122.8 76.4L128.6 71.3L134.3 66.4L140.0 61.8L145.5 57.6L151.0 53.7L156.4 50.1L161.7 46.7L166.9 43.7L172.1 41.0L177.1 38.6M167.1 90.8L160.8 86.7L154.6 82.8L148.5 79.2L142.5 75.7L136.5 72.5L130.7 69.4L125.0 66.5L119.4 63.8L113.8 61.3L108.4 59.0L103.0 56.9L97.8 54.9L92.6 53.1L87.5 51.4L82.5 50.0M90.4 106.1L96.6 99.3L102.7 92.8L108.7 86.6L114.7 80.8L120.6 75.3L126.4 70.1L132.1 65.3L137.8 60.8L143.4 56.6L148.8 52.7L154.2 49.1L159.6 45.8L164.8 42.8L169.9 40.1L175.0 37.7M169.3 88.8L163.0 84.8L156.7 80.9L150.6 77.3L144.6 73.8L138.7 70.6L132.9 67.6L127.1 64.7L121.5 62.1L116.0 59.6L110.5 57.3L105.2 55.2L99.9 53.2L94.7 51.5L89.6 49.9L84.7 48.4M88.3 104.9L94.5 98.1L100.6 91.6L106.6 85.5L112.6 79.7L118.5 74.2L124.3 69.1L130.0 64.2L135.6 59.7L141.2 55.6L146.7 51.7L152.1 48.1L157.4 44.8L162.6 41.9L167.8 39.2L172.8 36.8M171.4 86.9L165.1 82.8L158.9 79.0L152.8 75.4L146.8 72.0L140.8 68.8L135.0 65.8L129.3 63.0L123.6 60.3L118.1 57.9L112.7 55.6L107.3 53.5L102.0 51.6L96.8 49.9L91.8 48.3L86.8 46.9M86.2 103.6L92.3 96.8L98.5 90.4L104.5 84.3L110.4 78.5L116.3 73.1L122.1 68.0L127.9 63.2L133.5 58.7L139.1 54.6L144.6 50.7L150.0 47.2L155.3 43.9L160.5 41.0L165.7 38.3L170.7 35.9M173.5 85.0L167.2 81.0L161.0 77.2L154.9 73.6L148.9 70.2L143.0 67.1L137.1 64.1L131.4 61.3L125.8 58.7L120.2 56.3L114.8 54.0L109.4 52.0L104.1 50.1L99.0 48.3L93.9 46.8L88.9 45.4M84.1 102.4L90.2 95.7L96.4 89.3L102.4 83.2L108.3 77.5L114.2 72.0L120.0 67.0L125.7 62.2L131.4 57.8L136.9 53.6L142.4 49.8L147.8 46.3L153.1 43.1L158.4 40.1L163.5 37.5L168.6 35.1M175.6 83.2L169.3 79.2L163.1 75.4L157.0 71.9L151.0 68.5L145.1 65.3L139.2 62.4L133.5 59.6L127.9 57.0L122.3 54.6L116.9 52.4L111.5 50.4L106.2 48.5L101.0 46.8L96.0 45.3L90.9 44.0M82.0 101.2L88.2 94.5L94.3 88.1L100.3 82.1L106.2 76.4L112.1 71.0L117.9 66.0L123.6 61.2L129.3 56.8L134.8 52.7L140.3 48.9L145.7 45.4L151.0 42.2L156.3 39.3L161.4 36.7L166.5 34.3M177.7 81.4L171.4 77.4L165.2 73.7L159.1 70.1L153.1 66.8L147.2 63.7L141.4 60.7L135.6 58.0L130.0 55.5L124.4 53.1L119.0 50.9L113.6 48.9L108.3 47.1L103.1 45.4L98.0 43.9L93.0 42.6M79.9 100.0L86.1 93.4L92.2 87.0L98.2 81.0L104.2 75.4L110.0 70.0L115.8 65.0L121.5 60.3L127.2 55.9L132.7 51.8L138.2 48.0L143.6 44.6L148.9 41.4L154.2 38.5L159.3 35.9L164.4 33.5M179.8 79.6L173.5 75.7L167.3 72.0L161.2 68.5L155.2 65.2L149.3 62.1L143.4 59.1L137.7 56.4L132.1 53.9L126.5 51.6L121.0 49.4L115.7 47.4L110.4 45.6L105.2 44.0L100.1 42.5L95.1 41.2M77.9 98.9L84.0 92.2L90.1 85.9L96.1 80.0L102.1 74.3L108.0 69.0L113.7 64.0L119.5 59.4L125.1 55.0L130.7 50.9L136.1 47.2L141.5 43.7L146.8 40.6L152.1 37.7L157.2 35.1L162.3 32.8M181.9 78.0L175.6 74.0L169.4 70.3L163.3 66.9L157.3 63.6L151.3 60.5L145.5 57.6L139.8 54.9L134.1 52.4L128.6 50.1L123.1 48.0L117.7 46.0L112.5 44.2L107.3 42.6L102.2 41.2L97.1 39.9M75.9 97.8L82.0 91.2L88.1 84.9L94.1 79.0L100.0 73.4L105.9 68.1L111.7 63.1L117.4 58.5L123.0 54.1L128.6 50.1L134.1 46.4L139.5 42.9L144.8 39.8L150.0 36.9L155.2 34.4L160.2 32.1M184.0 76.3L177.7 72.4L171.5 68.7L165.4 65.3L159.3 62.0L153.4 59.0L147.6 56.1L141.8 53.4L136.2 50.9L130.6 48.7L125.2 46.5L119.8 44.6L114.5 42.9L109.3 41.3L104.2 39.9L99.2 38.6M73.8 96.7L80.0 90.1L86.1 83.9L92.1 78.0L98.0 72.4L103.8 67.1L109.6 62.2L115.3 57.6L121.0 53.3L126.5 49.3L132.0 45.6L137.4 42.2L142.7 39.0L147.9 36.2L153.1 33.7L158.2 31.4M186.0 74.7L179.7 70.8L173.5 67.2L167.4 63.7L161.4 60.5L155.5 57.5L149.6 54.6L143.9 52.0L138.3 49.5L132.7 47.3L127.2 45.2L121.9 43.3L116.6 41.5L111.4 40.0L106.3 38.6L101.2 37.4M71.8 95.6L78.0 89.1L84.0 82.9L90.0 77.0L96.0 71.5L101.8 66.2L107.6 61.3L113.3 56.7L118.9 52.5L124.5 48.5L130.0 44.8L135.3 41.4L140.7 38.3L145.9 35.5L151.0 33.0L156.1 30.7M188.1 73.2L181.8 69.3L175.6 65.7L169.5 62.3L163.4 59.0L157.5 56.0L151.7 53.2L145.9 50.6L140.3 48.2L134.7 45.9L129.3 43.9L123.9 42.0L118.6 40.3L113.4 38.7L108.3 37.4L103.2 36.2M69.8 94.5L76.0 88.0L82.0 81.9L88.0 76.0L93.9 70.5L99.8 65.3L105.6 60.5L111.3 55.9L116.9 51.7L122.4 47.7L127.9 44.0L133.3 40.7L138.6 37.6L143.9 34.8L149.0 32.3L154.1 30.1M190.1 71.6L183.8 67.8L177.6 64.2L171.5 60.8L165.5 57.6L159.5 54.6L153.7 51.8L148.0 49.2L142.3 46.8L136.8 44.6L131.3 42.6L125.9 40.7L120.6 39.0L115.4 37.5L110.3 36.2L105.3 35.0M67.9 93.5L74.0 87.1L80.0 80.9L86.0 75.1L91.9 69.7L97.8 64.5L103.6 59.6L109.3 55.1L114.9 50.9L120.4 47.0L125.9 43.3L131.3 40.0L136.6 36.9L141.8 34.2L147.0 31.7L152.1 29.5M192.1 70.2L185.8 66.4L179.6 62.8L173.5 59.4L167.5 56.2L161.6 53.3L155.7 50.5L150.0 47.9L144.3 45.5L138.8 43.3L133.3 41.3L127.9 39.5L122.6 37.8L117.4 36.3L112.3 35.0L107.3 33.9M65.9 92.5L72.0 86.1L78.1 80.0L84.0 74.2L90.0 68.8L95.8 63.7L101.6 58.8L107.3 54.3L112.9 50.1L118.4 46.2L123.9 42.6L129.3 39.3L134.6 36.3L139.8 33.5L145.0 31.1L150.0 28.9M194.1 68.8L187.8 65.0L181.6 61.4L175.5 58.1L169.5 54.9L163.6 52.0L157.7 49.2L152.0 46.7L146.4 44.3L140.8 42.1L135.3 40.1L129.9 38.3L124.6 36.7L119.4 35.2L114.3 33.9L109.3 32.8M64.0 91.5L70.1 85.1L76.1 79.1L82.1 73.4L88.0 67.9L93.8 62.9L99.6 58.1L105.3 53.6L110.9 49.4L116.4 45.5L121.9 42.0L127.3 38.7L132.6 35.7L137.8 32.9L143.0 30.5L148.0 28.3M196.1 67.4L189.8 63.6L183.6 60.1L177.5 56.7L171.5 53.6L165.6 50.7L159.7 48.0L154.0 45.4L148.3 43.1L142.8 40.9L137.3 39.0L131.9 37.2L126.6 35.6L121.4 34.1L116.3 32.8L111.3 31.7M62.0 90.6L68.1 84.2L74.1 78.2L80.1 72.5L86.0 67.1L91.8 62.1L97.6 57.3L103.3 52.9L108.9 48.7L114.4 44.9L119.9 41.3L125.3 38.0L130.6 35.1L135.8 32.4L141.0 29.9L146.0 27.8M198.0 66.1L191.8 62.3L185.6 58.8L179.5 55.5L173.5 52.4L167.5 49.5L161.7 46.7L156.0 44.2L150.3 41.9L144.8 39.8L139.3 37.8L133.9 36.1L128.6 34.5L123.4 33.1L118.3 31.8L113.2 30.7M60.1 89.6L66.2 83.3L72.2 77.3L78.2 71.7L84.1 66.3L89.9 61.3L95.6 56.6L101.3 52.2L106.9 48.0L112.5 44.2L117.9 40.7L123.3 37.4L128.6 34.5L133.8 31.8L139.0 29.4L144.1 27.2M200.0 64.8L193.7 61.1L187.5 57.5L181.4 54.2L175.4 51.2L169.5 48.3L163.7 45.6L158.0 43.1L152.3 40.8L146.7 38.7L141.3 36.8L135.9 35.0L130.6 33.4L125.4 32.0L120.2 30.8L115.2 29.8M58.2 88.7L64.3 82.5L70.3 76.5L76.2 70.9L82.1 65.6L87.9 60.6L93.7 55.9L99.4 51.5L105.0 47.4L110.5 43.6L116.0 40.1L121.3 36.9L126.6 33.9L131.9 31.3L137.0 28.9L142.1 26.8M201.9 63.5L195.7 59.8L189.5 56.3L183.4 53.1L177.4 50.0L171.5 47.1L165.6 44.5L159.9 42.0L154.3 39.7L148.7 37.6L143.2 35.7L137.8 34.0L132.5 32.4L127.3 31.1L122.2 29.9L117.1 28.8M56.3 87.8L62.4 81.6L68.4 75.7L74.3 70.1L80.2 64.8L86.0 59.9L91.8 55.2L97.4 50.8L103.0 46.8L108.6 43.0L114.0 39.5L119.4 36.3L124.7 33.4L129.9 30.8L135.1 28.4L140.1 26.3M203.9 62.3L197.6 58.7L191.4 55.2L185.3 51.9L179.3 48.9L173.4 46.0L167.6 43.4L161.9 40.9L156.2 38.7L150.7 36.6L145.2 34.7L139.8 33.0L134.5 31.5L129.3 30.1L124.1 28.9L119.1 27.9M54.4 87.0L60.5 80.8L66.5 74.9L72.4 69.3L78.3 64.1L84.1 59.2L89.8 54.5L95.5 50.2L101.1 46.2L106.6 42.4L112.1 39.0L117.5 35.8L122.8 32.9L128.0 30.3L133.1 27.9L138.2 25.9M205.8 61.2L199.5 57.5L193.3 54.1L187.3 50.8L181.3 47.8L175.4 45.0L169.5 42.3L163.8 39.9L158.2 37.7L152.6 35.6L147.1 33.7L141.7 32.1L136.4 30.6L131.2 29.2L126.1 28.1L121.0 27.1M52.5 86.1L58.6 80.0L64.6 74.1L70.5 68.6L76.4 63.4L82.2 58.5L87.9 53.9L93.6 49.6L99.2 45.6L104.7 41.9L110.2 38.4L115.5 35.3L120.8 32.4L126.0 29.8L131.2 27.5L136.3 25.4M207.7 60.1L201.4 56.4L195.3 53.0L189.2 49.8L183.2 46.8L177.3 43.9L171.5 41.3L165.7 38.9L160.1 36.7L154.5 34.7L149.0 32.8L143.7 31.2L138.4 29.7L133.1 28.4L128.0 27.2L122.9 26.2M50.7 85.3L56.7 79.2L62.7 73.4L68.6 67.9L74.5 62.7L80.3 57.8L86.0 53.3L91.7 49.0L97.3 45.0L102.8 41.3L108.2 37.9L113.6 34.8L118.9 32.0L124.1 29.4L129.3 27.1L134.3 25.0M209.6 59.0L203.3 55.4L197.2 52.0L191.1 48.7L185.1 45.8L179.2 43.0L173.4 40.4L167.6 38.0L162.0 35.8L156.4 33.8L151.0 31.9L145.6 30.3L140.3 28.8L135.0 27.5L129.9 26.4L124.9 25.5M48.8 84.5L54.9 78.4L60.8 72.7L66.8 67.2L72.6 62.1L78.4 57.2L84.1 52.7L89.8 48.4L95.4 44.5L100.9 40.8L106.3 37.4L111.7 34.4L117.0 31.5L122.2 29.0L127.4 26.7L132.4 24.7M211.4 58.0L205.2 54.4L199.0 51.0L193.0 47.8L187.0 44.8L181.1 42.0L175.3 39.4L169.5 37.1L163.9 34.9L158.3 32.9L152.9 31.1L147.5 29.5L142.2 28.0L137.0 26.7L131.8 25.6L126.8 24.7M47.0 83.8L53.0 77.7L59.0 72.0L64.9 66.6L70.8 61.4L76.6 56.6L82.3 52.1L87.9 47.9L93.5 44.0L99.0 40.3L104.5 37.0L109.8 33.9L115.1 31.1L120.3 28.6L125.5 26.3L130.5 24.3M213.3 57.0L207.1 53.4L200.9 50.0L194.8 46.8L188.9 43.9L183.0 41.1L177.1 38.6L171.4 36.2L165.8 34.0L160.2 32.1L154.8 30.3L149.4 28.7L144.1 27.2L138.8 26.0L133.7 24.9L128.7 24.0M45.2 83.0L51.2 77.0L57.2 71.3L63.1 65.9L68.9 60.8L74.7 56.0L80.4 51.6L86.1 47.4L91.6 43.5L97.1 39.9L102.6 36.6L107.9 33.5L113.2 30.7L118.4 28.2L123.6 26.0L128.7 24.0" fill="none" stroke="#000" stroke-opacity="0.75" stroke-width="0.6"/>
<path d="M48.8 144.0L42.4 33.0L128.4 14.0L214.6 34.0L209.0 144.0" fill="none" stroke="#555" stroke-width="0.9"/>
<text x="0.0" y="19.3" class="pl">a)</text>
<text x="39.6" y="39.6" class="tk" text-anchor="end" textLength="7.52" lengthAdjust="spacingAndGlyphs">2.3</text>
<text x="40.4" y="60.1" class="tk" text-anchor="end" textLength="13.54" lengthAdjust="spacingAndGlyphs">1.875</text>
<path d="M42.4 53.8H43.9" stroke="#222" stroke-width="0.9"/>
<text x="41.3" y="81.8" class="tk" text-anchor="end" textLength="10.53" lengthAdjust="spacingAndGlyphs">1.45</text>
<path d="M43.7 75.5H45.2" stroke="#222" stroke-width="0.9"/>
<text x="42.1" y="102.0" class="tk" text-anchor="end" textLength="13.54" lengthAdjust="spacingAndGlyphs">1.025</text>
<path d="M44.8 95.8H46.3" stroke="#222" stroke-width="0.9"/>
<text x="42.9" y="123.6" class="tk" text-anchor="end" textLength="7.52" lengthAdjust="spacingAndGlyphs">0.6</text>
<path d="M46.1 117.4H47.6" stroke="#222" stroke-width="0.9"/>
<text x="37.9" y="150.4" class="tk" text-anchor="middle" textLength="13.54" lengthAdjust="spacingAndGlyphs">1.000</text>
<text x="57.7" y="160.1" class="tk" text-anchor="middle" textLength="13.54" lengthAdjust="spacingAndGlyphs">0.500</text>
<text x="77.4" y="169.7" class="tk" text-anchor="middle" textLength="13.54" lengthAdjust="spacingAndGlyphs">0.000</text>
<text x="97.2" y="179.3" class="tk" text-anchor="middle" textLength="15.34" lengthAdjust="spacingAndGlyphs">-0.500</text>
<text x="117.0" y="189.0" class="tk" text-anchor="middle" textLength="15.34" lengthAdjust="spacingAndGlyphs">-1.000</text>
<text x="139.4" y="188.7" class="tk" text-anchor="middle" textLength="15.34" lengthAdjust="spacingAndGlyphs">-1.000</text>
<text x="159.4" y="179.2" class="tk" text-anchor="middle" textLength="15.34" lengthAdjust="spacingAndGlyphs">-0.500</text>
<text x="179.5" y="169.8" class="tk" text-anchor="middle" textLength="13.54" lengthAdjust="spacingAndGlyphs">0.000</text>
<text x="199.6" y="160.3" class="tk" text-anchor="middle" textLength="13.54" lengthAdjust="spacingAndGlyphs">0.500</text>
<text x="219.6" y="150.9" class="tk" text-anchor="middle" textLength="13.54" lengthAdjust="spacingAndGlyphs">1.000</text>
<text x="56.9" y="182.3" class="tt" text-anchor="middle" textLength="31.0" lengthAdjust="spacingAndGlyphs">B: Time</text>
<text x="200.2" y="182.6" class="tt" text-anchor="middle" textLength="47.2" lengthAdjust="spacingAndGlyphs">A: Ag Conc.</text>
<text x="21.4" y="90.5" class="tt" text-anchor="middle" style="font-size:10px;fill:#222" transform="rotate(-90 21.4 90.5)">A</text>
<path d="M128.7 55.0V63.6" stroke="#222" stroke-width="0.8"/>
<circle cx="128.7" cy="55.0" r="1.4" fill="#b00606" stroke="#500" stroke-width="0.3"/>
<circle cx="128.7" cy="57.8" r="1.4" fill="#b00606" stroke="#500" stroke-width="0.3"/>
<circle cx="128.7" cy="61.0" r="1.4" fill="#e8c0cc" stroke="#500" stroke-width="0.3"/>
<path d="M284.1 143.8L363.0 182.7L444.7 144.0L365.1 113.5Z" fill="#ffff00" stroke="#3a3a20" stroke-width="0.8"/>
<path d="M377.0 176.0L374.3 175.9L370.8 175.6L368.0 175.4L365.4 175.1L361.8 174.8L359.4 174.5L356.0 174.1L353.4 173.8L350.0 173.4L347.6 173.1L344.2 172.6L341.8 172.3M392.7 168.6L389.9 168.6L387.2 168.5L384.5 168.3L381.3 168.2L378.0 168.0L375.4 167.8L372.8 167.6L369.3 167.3L366.8 167.1L363.9 166.8L360.9 166.5L358.2 166.2L355.2 165.8L352.3 165.4L349.6 165.1L346.4 164.6L344.1 164.2L341.1 163.7L338.0 163.2L335.2 162.7L332.9 162.3L330.1 161.7L327.2 161.1L324.4 160.5L321.6 159.9L318.9 159.3L316.3 158.6L313.7 157.9L311.7 157.4M411.2 159.8L408.5 159.9L405.8 160.0L403.0 160.0L400.2 160.1L397.4 160.0L394.5 160.0L391.5 159.9L388.5 159.8L385.9 159.7L383.3 159.6L380.5 159.5L377.2 159.2L374.6 159.0L372.1 158.8L368.7 158.5L366.4 158.3L363.1 157.9L360.8 157.6L357.6 157.2L355.2 156.9L352.3 156.5L349.2 156.0L346.8 155.6L344.2 155.1L341.3 154.6L338.5 154.0L335.7 153.5L333.0 152.9L330.4 152.3L327.8 151.6L325.2 151.0L322.7 150.3L320.3 149.7L317.2 148.7L314.9 148.0L312.6 147.3L309.7 146.3L307.6 145.6L304.9 144.5L302.3 143.5L299.8 142.4L298.0 141.6L295.7 140.5L294.6 139.9M437.8 147.3L435.3 147.7L432.4 148.1L429.6 148.5L427.3 148.8L424.2 149.2L422.0 149.4L418.9 149.7L416.3 149.9L414.0 150.0L410.9 150.2L407.9 150.3L405.3 150.4L402.7 150.5L400.0 150.5L397.3 150.5L394.5 150.5L391.6 150.4L388.7 150.3L386.2 150.2L383.7 150.1L380.8 149.9L377.8 149.7L375.5 149.5L372.3 149.2L369.9 148.9L366.9 148.6L364.6 148.3L361.5 147.9L358.9 147.5L356.6 147.1L353.7 146.6L350.9 146.1L348.2 145.5L345.5 145.0L342.9 144.4L340.4 143.8L337.9 143.1L335.5 142.5L332.5 141.6L330.2 140.9L327.8 140.1L325.3 139.2L322.6 138.2L320.1 137.2L318.2 136.4L316.5 135.6L314.2 134.5L312.1 133.3M426.4 137.0L423.6 137.4L420.8 137.8L418.8 138.1L415.7 138.4L413.5 138.6L410.7 138.8L407.9 139.0L405.6 139.1L403.2 139.2L400.5 139.2L397.8 139.2L395.2 139.2L392.6 139.2L389.7 139.1L386.7 138.9L384.4 138.8L382.0 138.6L378.9 138.3L376.8 138.1L373.8 137.7L371.2 137.3L368.9 137.0L366.1 136.5L363.4 136.0L360.8 135.5L358.3 135.0L355.9 134.4L353.4 133.7L350.6 132.9L348.5 132.2L345.8 131.3L343.2 130.3L340.8 129.2L338.6 128.2L337.0 127.3L335.1 126.2L333.8 125.2" fill="none" stroke="#5ee030" stroke-width="0.75"/>
<path d="M365.1 113.5L364.7 13.9" stroke="#555" stroke-width="0.9"/>
<path d="M362.7 138.9L367.4 133.2L362.8 128.8L358.1 134.4Z" fill="#00e6e6" stroke="#00e6e6" stroke-width="0.4"/>
<path d="M358.1 134.4L362.8 128.8L358.2 124.5L353.5 130.1Z" fill="#00e6d7" stroke="#00e6d7" stroke-width="0.4"/>
<path d="M367.4 133.2L372.1 127.7L367.5 123.3L362.8 128.8Z" fill="#00e6c9" stroke="#00e6c9" stroke-width="0.4"/>
<path d="M353.5 130.1L358.2 124.5L353.7 120.5L349.0 126.0Z" fill="#00e6ba" stroke="#00e6ba" stroke-width="0.4"/>
<path d="M349.0 126.0L353.7 120.5L349.2 116.6L344.5 122.0ZM362.8 128.8L367.5 123.3L362.9 119.2L358.2 124.5ZM372.1 127.7L376.8 122.4L372.1 118.1L367.5 123.3Z" fill="#00e6ac" stroke="#00e6ac" stroke-width="0.4"/>
<path d="M344.5 122.0L349.2 116.6L344.8 112.9L340.1 118.2ZM358.2 124.5L362.9 119.2L358.4 115.2L353.7 120.5Z" fill="#00e69e" stroke="#00e69e" stroke-width="0.4"/>
<path d="M340.1 118.2L344.8 112.9L340.5 109.3L335.8 114.6ZM353.7 120.5L358.4 115.2L353.9 111.3L349.2 116.6ZM367.5 123.3L372.1 118.1L367.6 114.0L362.9 119.2ZM376.8 122.4L381.4 117.3L376.7 113.1L372.1 118.1Z" fill="#00e68f" stroke="#00e68f" stroke-width="0.4"/>
<path d="M349.2 116.6L353.9 111.3L349.5 107.7L344.8 112.9ZM362.9 119.2L367.6 114.0L363.0 110.0L358.4 115.2Z" fill="#00e681" stroke="#00e681" stroke-width="0.4"/>
<path d="M335.8 114.6L340.5 109.3L336.2 106.0L331.5 111.2ZM358.4 115.2L363.0 110.0L358.5 106.3L353.9 111.3ZM372.1 118.1L376.7 113.1L372.1 109.0L367.6 114.0ZM381.4 117.3L385.9 112.4L381.3 108.2L376.7 113.1Z" fill="#00e673" stroke="#00e673" stroke-width="0.4"/>
<path d="M331.5 111.2L336.2 106.0L331.9 102.8L327.2 107.9ZM327.2 107.9L331.9 102.8L327.7 99.7L323.0 104.8ZM344.8 112.9L349.5 107.7L345.1 104.2L340.5 109.3ZM367.6 114.0L372.1 109.0L367.6 105.1L363.0 110.0Z" fill="#00e664" stroke="#00e664" stroke-width="0.4"/>
<path d="M323.0 104.8L327.7 99.7L323.6 96.9L318.9 101.9ZM340.5 109.3L345.1 104.2L340.8 100.9L336.2 106.0ZM353.9 111.3L358.5 106.3L354.1 102.7L349.5 107.7ZM363.0 110.0L367.6 105.1L363.1 101.4L358.5 106.3ZM376.7 113.1L381.3 108.2L376.7 104.2L372.1 109.0ZM385.9 112.4L390.4 107.7L385.8 103.6L381.3 108.2Z" fill="#00e656" stroke="#00e656" stroke-width="0.4"/>
<path d="M318.9 101.9L323.6 96.9L319.5 94.1L314.8 99.1ZM336.2 106.0L340.8 100.9L336.5 97.8L331.9 102.8ZM349.5 107.7L354.1 102.7L349.7 99.3L345.1 104.2ZM358.5 106.3L363.1 101.4L358.7 97.9L354.1 102.7ZM372.1 109.0L376.7 104.2L372.2 100.4L367.6 105.1ZM381.3 108.2L385.8 103.6L381.2 99.6L376.7 104.2Z" fill="#00e648" stroke="#00e648" stroke-width="0.4"/>
<path d="M314.8 99.1L319.5 94.1L315.4 91.6L310.8 96.5ZM310.8 96.5L315.4 91.6L311.5 89.2L306.8 94.0ZM331.9 102.8L336.5 97.8L332.3 94.8L327.7 99.7ZM327.7 99.7L332.3 94.8L328.2 92.0L323.6 96.9ZM345.1 104.2L349.7 99.3L345.4 96.0L340.8 100.9ZM367.6 105.1L372.2 100.4L367.7 96.8L363.1 101.4ZM390.4 107.7L394.9 103.2L390.3 99.1L385.8 103.6Z" fill="#00e639" stroke="#00e639" stroke-width="0.4"/>
<path d="M306.8 94.0L311.5 89.2L307.5 87.0L302.9 91.7ZM302.9 91.7L307.5 87.0L303.6 84.9L299.0 89.6ZM323.6 96.9L328.2 92.0L324.1 89.4L319.5 94.1ZM340.8 100.9L345.4 96.0L341.1 93.0L336.5 97.8ZM354.1 102.7L358.7 97.9L354.3 94.5L349.7 99.3ZM363.1 101.4L367.7 96.8L363.2 93.3L358.7 97.9ZM376.7 104.2L381.2 99.6L376.7 95.9L372.2 100.4ZM385.8 103.6L390.3 99.1L385.7 95.2L381.2 99.6ZM394.9 103.2L399.3 98.9L394.7 94.9L390.3 99.1Z" fill="#00e62b" stroke="#00e62b" stroke-width="0.4"/>
<path d="M299.0 89.6L303.6 84.9L299.8 82.9L295.2 87.6ZM295.2 87.6L299.8 82.9L296.1 81.2L291.5 85.7ZM291.5 85.7L296.1 81.2L292.3 79.5L287.8 84.0ZM287.8 84.0L292.3 79.5L288.7 78.0L284.1 82.4ZM284.1 82.4L288.7 78.0L285.1 76.7L280.5 81.0ZM319.5 94.1L324.1 89.4L320.0 86.9L315.4 91.6ZM315.4 91.6L320.0 86.9L316.0 84.5L311.5 89.2ZM311.5 89.2L316.0 84.5L312.1 82.4L307.5 87.0ZM307.5 87.0L312.1 82.4L308.2 80.4L303.6 84.9ZM336.5 97.8L341.1 93.0L336.9 90.1L332.3 94.8ZM332.3 94.8L336.9 90.1L332.8 87.3L328.2 92.0ZM328.2 92.0L332.8 87.3L328.7 84.7L324.1 89.4ZM349.7 99.3L354.3 94.5L350.0 91.4L345.4 96.0ZM345.4 96.0L350.0 91.4L345.7 88.3L341.1 93.0ZM358.7 97.9L363.2 93.3L358.8 90.0L354.3 94.5ZM372.2 100.4L376.7 95.9L372.2 92.3L367.7 96.8ZM367.7 96.8L372.2 92.3L367.7 88.9L363.2 93.3ZM381.2 99.6L385.7 95.2L381.1 91.5L376.7 95.9ZM390.3 99.1L394.7 94.9L390.1 91.0L385.7 95.2ZM399.3 98.9L403.7 94.8L399.1 90.8L394.7 94.9Z" fill="#00e61d" stroke="#00e61d" stroke-width="0.4"/>
<path d="M303.6 84.9L308.2 80.4L304.4 78.5L299.8 82.9ZM299.8 82.9L304.4 78.5L300.6 76.8L296.1 81.2ZM296.1 81.2L300.6 76.8L296.9 75.2L292.3 79.5ZM292.3 79.5L296.9 75.2L293.2 73.8L288.7 78.0ZM288.7 78.0L293.2 73.8L289.6 72.5L285.1 76.7ZM324.1 89.4L328.7 84.7L324.6 82.3L320.0 86.9ZM320.0 86.9L324.6 82.3L320.6 80.1L316.0 84.5ZM316.0 84.5L320.6 80.1L316.6 77.9L312.1 82.4ZM312.1 82.4L316.6 77.9L312.8 76.0L308.2 80.4ZM341.1 93.0L345.7 88.3L341.5 85.5L336.9 90.1ZM336.9 90.1L341.5 85.5L337.3 82.8L332.8 87.3ZM332.8 87.3L337.3 82.8L333.2 80.3L328.7 84.7ZM354.3 94.5L358.8 90.0L354.5 86.9L350.0 91.4ZM350.0 91.4L354.5 86.9L350.2 83.9L345.7 88.3ZM363.2 93.3L367.7 88.9L363.3 85.6L358.8 90.0ZM358.8 90.0L363.3 85.6L359.0 82.5L354.5 86.9ZM376.7 95.9L381.1 91.5L376.6 88.0L372.2 92.3ZM372.2 92.3L376.6 88.0L372.2 84.6L367.7 88.9ZM385.7 95.2L390.1 91.0L385.5 87.4L381.1 91.5ZM381.1 91.5L385.5 87.4L381.0 83.9L376.6 88.0ZM394.7 94.9L399.1 90.8L394.5 87.0L390.1 91.0ZM403.7 94.8L408.0 90.9L403.4 87.0L399.1 90.8Z" fill="#00e60e" stroke="#00e60e" stroke-width="0.4"/>
<path d="M308.2 80.4L312.8 76.0L308.9 74.2L304.4 78.5ZM304.4 78.5L308.9 74.2L305.1 72.5L300.6 76.8ZM300.6 76.8L305.1 72.5L301.4 71.0L296.9 75.2ZM296.9 75.2L301.4 71.0L297.7 69.7L293.2 73.8ZM293.2 73.8L297.7 69.7L294.1 68.4L289.6 72.5ZM328.7 84.7L333.2 80.3L329.1 77.9L324.6 82.3ZM324.6 82.3L329.1 77.9L325.1 75.7L320.6 80.1ZM320.6 80.1L325.1 75.7L321.2 73.7L316.6 77.9ZM316.6 77.9L321.2 73.7L317.3 71.8L312.8 76.0ZM345.7 88.3L350.2 83.9L346.0 81.1L341.5 85.5ZM341.5 85.5L346.0 81.1L341.8 78.5L337.3 82.8ZM337.3 82.8L341.8 78.5L337.7 76.0L333.2 80.3ZM354.5 86.9L359.0 82.5L354.7 79.6L350.2 83.9ZM350.2 83.9L354.7 79.6L350.5 76.9L346.0 81.1ZM367.7 88.9L372.2 84.6L367.8 81.4L363.3 85.6ZM363.3 85.6L367.8 81.4L363.4 78.4L359.0 82.5ZM376.6 88.0L381.0 83.9L376.6 80.6L372.2 84.6ZM390.1 91.0L394.5 87.0L389.9 83.4L385.5 87.4ZM385.5 87.4L389.9 83.4L385.4 80.0L381.0 83.9ZM399.1 90.8L403.4 87.0L398.8 83.2L394.5 87.0ZM394.5 87.0L398.8 83.2L394.2 79.6L389.9 83.4ZM408.0 90.9L412.3 87.2L407.7 83.3L403.4 87.0ZM403.4 87.0L407.7 83.3L403.1 79.6L398.8 83.2ZM412.3 87.2L416.5 83.6L411.9 79.8L407.7 83.3Z" fill="#00e600" stroke="#00e600" stroke-width="0.4"/>
<path d="M312.8 76.0L317.3 71.8L313.4 70.1L308.9 74.2ZM308.9 74.2L313.4 70.1L309.6 68.5L305.1 72.5ZM305.1 72.5L309.6 68.5L305.9 67.0L301.4 71.0ZM301.4 71.0L305.9 67.0L302.2 65.7L297.7 69.7ZM297.7 69.7L302.2 65.7L298.5 64.6L294.1 68.4ZM333.2 80.3L337.7 76.0L333.6 73.7L329.1 77.9ZM329.1 77.9L333.6 73.7L329.6 71.6L325.1 75.7ZM325.1 75.7L329.6 71.6L325.6 69.6L321.2 73.7ZM321.2 73.7L325.6 69.6L321.7 67.8L317.3 71.8ZM346.0 81.1L350.5 76.9L346.3 74.4L341.8 78.5ZM341.8 78.5L346.3 74.4L342.2 71.9L337.7 76.0ZM359.0 82.5L363.4 78.4L359.1 75.6L354.7 79.6ZM354.7 79.6L359.1 75.6L354.9 72.9L350.5 76.9ZM372.2 84.6L376.6 80.6L372.2 77.4L367.8 81.4ZM367.8 81.4L372.2 77.4L367.8 74.5L363.4 78.4ZM381.0 83.9L385.4 80.0L381.0 76.7L376.6 80.6ZM389.9 83.4L394.2 79.6L389.7 76.2L385.4 80.0ZM398.8 83.2L403.1 79.6L398.5 76.0L394.2 79.6ZM407.7 83.3L411.9 79.8L407.3 76.1L403.1 79.6ZM416.5 83.6L420.7 80.3L416.1 76.5L411.9 79.8Z" fill="#0ee600" stroke="#0ee600" stroke-width="0.4"/>
<path d="M317.3 71.8L321.7 67.8L317.9 66.1L313.4 70.1ZM313.4 70.1L317.9 66.1L314.0 64.6L309.6 68.5ZM309.6 68.5L314.0 64.6L310.3 63.2L305.9 67.0ZM305.9 67.0L310.3 63.2L306.6 62.0L302.2 65.7ZM302.2 65.7L306.6 62.0L302.9 60.9L298.5 64.6ZM337.7 76.0L342.2 71.9L338.1 69.7L333.6 73.7ZM333.6 73.7L338.1 69.7L334.0 67.6L329.6 71.6ZM329.6 71.6L334.0 67.6L330.1 65.7L325.6 69.6ZM325.6 69.6L330.1 65.7L326.1 63.9L321.7 67.8ZM321.7 67.8L326.1 63.9L322.3 62.3L317.9 66.1ZM350.5 76.9L354.9 72.9L350.7 70.4L346.3 74.4ZM346.3 74.4L350.7 70.4L346.6 68.0L342.2 71.9ZM342.2 71.9L346.6 68.0L342.5 65.8L338.1 69.7ZM363.4 78.4L367.8 74.5L363.5 71.7L359.1 75.6ZM359.1 75.6L363.5 71.7L359.3 69.0L354.9 72.9ZM376.6 80.6L381.0 76.7L376.6 73.6L372.2 77.4ZM372.2 77.4L376.6 73.6L372.2 70.7L367.8 74.5ZM385.4 80.0L389.7 76.2L385.3 73.0L381.0 76.7ZM381.0 76.7L385.3 73.0L380.9 70.0L376.6 73.6ZM394.2 79.6L398.5 76.0L394.0 72.7L389.7 76.2ZM389.7 76.2L394.0 72.7L389.6 69.5L385.3 73.0ZM403.1 79.6L407.3 76.1L402.7 72.6L398.5 76.0ZM398.5 76.0L402.7 72.6L398.2 69.3L394.0 72.7ZM411.9 79.8L416.1 76.5L411.5 72.8L407.3 76.1ZM407.3 76.1L411.5 72.8L406.9 69.4L402.7 72.6ZM420.7 80.3L424.8 77.1L420.2 73.3L416.1 76.5ZM416.1 76.5L420.2 73.3L415.6 69.7L411.5 72.8ZM424.8 77.1L428.9 74.1L424.3 70.4L420.2 73.3Z" fill="#1de600" stroke="#1de600" stroke-width="0.4"/>
<path d="M317.9 66.1L322.3 62.3L318.5 60.8L314.0 64.6ZM314.0 64.6L318.5 60.8L314.7 59.5L310.3 63.2ZM310.3 63.2L314.7 59.5L311.0 58.3L306.6 62.0ZM306.6 62.0L311.0 58.3L307.3 57.3L302.9 60.9ZM338.1 69.7L342.5 65.8L338.4 63.8L334.0 67.6ZM334.0 67.6L338.4 63.8L334.5 62.0L330.1 65.7ZM330.1 65.7L334.5 62.0L330.5 60.2L326.1 63.9ZM326.1 63.9L330.5 60.2L326.7 58.7L322.3 62.3ZM322.3 62.3L326.7 58.7L322.8 57.3L318.5 60.8ZM318.5 60.8L322.8 57.3L319.0 56.0L314.7 59.5ZM314.7 59.5L319.0 56.0L315.3 54.9L311.0 58.3ZM311.0 58.3L315.3 54.9L311.7 53.9L307.3 57.3ZM354.9 72.9L359.3 69.0L355.1 66.6L350.7 70.4ZM350.7 70.4L355.1 66.6L351.0 64.3L346.6 68.0ZM346.6 68.0L351.0 64.3L346.9 62.2L342.5 65.8ZM367.8 74.5L372.2 70.7L367.9 67.9L363.5 71.7ZM363.5 71.7L367.9 67.9L363.6 65.4L359.3 69.0ZM359.3 69.0L363.6 65.4L359.4 63.0L355.1 66.6ZM376.6 73.6L380.9 70.0L376.5 67.1L372.2 70.7ZM372.2 70.7L376.5 67.1L372.2 64.4L367.9 67.9ZM385.3 73.0L389.6 69.5L385.1 66.5L380.9 70.0ZM394.0 72.7L398.2 69.3L393.8 66.2L389.6 69.5ZM402.7 72.6L406.9 69.4L402.4 66.1L398.2 69.3ZM411.5 72.8L415.6 69.7L411.1 66.3L406.9 69.4ZM420.2 73.3L424.3 70.4L419.7 66.8L415.6 69.7ZM428.9 74.1L433.0 71.3L428.3 67.6L424.3 70.4ZM424.3 70.4L428.3 67.6L423.7 64.1L419.7 66.8ZM433.0 71.3L436.9 68.7L432.3 65.0L428.3 67.6ZM436.9 68.7L440.9 66.2L436.2 62.5L432.3 65.0Z" fill="#2be600" stroke="#2be600" stroke-width="0.4"/>
<path d="M342.5 65.8L346.9 62.2L342.8 60.2L338.4 63.8ZM338.4 63.8L342.8 60.2L338.8 58.4L334.5 62.0ZM334.5 62.0L338.8 58.4L334.9 56.7L330.5 60.2ZM330.5 60.2L334.9 56.7L331.0 55.2L326.7 58.7ZM326.7 58.7L331.0 55.2L327.2 53.8L322.8 57.3ZM322.8 57.3L327.2 53.8L323.4 52.6L319.0 56.0ZM319.0 56.0L323.4 52.6L319.6 51.6L315.3 54.9ZM315.3 54.9L319.6 51.6L316.0 50.6L311.7 53.9ZM355.1 66.6L359.4 63.0L355.3 60.7L351.0 64.3ZM351.0 64.3L355.3 60.7L351.2 58.6L346.9 62.2ZM367.9 67.9L372.2 64.4L368.0 61.9L363.6 65.4ZM363.6 65.4L368.0 61.9L363.7 59.5L359.4 63.0ZM380.9 70.0L385.1 66.5L380.8 63.7L376.5 67.1ZM376.5 67.1L380.8 63.7L376.5 61.0L372.2 64.4ZM389.6 69.5L393.8 66.2L389.4 63.2L385.1 66.5ZM385.1 66.5L389.4 63.2L385.0 60.4L380.8 63.7ZM398.2 69.3L402.4 66.1L398.0 63.0L393.8 66.2ZM406.9 69.4L411.1 66.3L406.6 63.1L402.4 66.1ZM415.6 69.7L419.7 66.8L415.2 63.4L411.1 66.3ZM411.1 66.3L415.2 63.4L410.7 60.2L406.6 63.1ZM419.7 66.8L423.7 64.1L419.2 60.7L415.2 63.4ZM428.3 67.6L432.3 65.0L427.7 61.5L423.7 64.1ZM432.3 65.0L436.2 62.5L431.7 59.1L427.7 61.5ZM440.9 66.2L444.7 63.9L440.1 60.3L436.2 62.5ZM444.7 63.9L448.6 61.8L444.0 58.2L440.1 60.3Z" fill="#39e600" stroke="#39e600" stroke-width="0.4"/>
<path d="M346.9 62.2L351.2 58.6L347.1 56.7L342.8 60.2ZM342.8 60.2L347.1 56.7L343.1 55.0L338.8 58.4ZM338.8 58.4L343.1 55.0L339.2 53.3L334.9 56.7ZM334.9 56.7L339.2 53.3L335.3 51.9L331.0 55.2ZM319.6 51.6L323.9 48.4L320.2 47.5L316.0 50.6ZM359.4 63.0L363.7 59.5L359.6 57.3L355.3 60.7ZM355.3 60.7L359.6 57.3L355.5 55.3L351.2 58.6ZM372.2 64.4L376.5 61.0L372.2 58.5L368.0 61.9ZM368.0 61.9L372.2 58.5L368.0 56.2L363.7 59.5ZM380.8 63.7L385.0 60.4L380.7 57.8L376.5 61.0ZM393.8 66.2L398.0 63.0L393.6 60.1L389.4 63.2ZM389.4 63.2L393.6 60.1L389.2 57.3L385.0 60.4ZM402.4 66.1L406.6 63.1L402.1 60.0L398.0 63.0ZM415.2 63.4L419.2 60.7L414.7 57.5L410.7 60.2ZM423.7 64.1L427.7 61.5L423.2 58.2L419.2 60.7ZM436.2 62.5L440.1 60.3L435.6 56.9L431.7 59.1Z" fill="#48e600" stroke="#48e600" stroke-width="0.4"/>
<path d="M331.0 55.2L335.3 51.9L331.5 50.6L327.2 53.8ZM327.2 53.8L331.5 50.6L327.7 49.4L323.4 52.6ZM323.4 52.6L327.7 49.4L323.9 48.4L319.6 51.6ZM351.2 58.6L355.5 55.3L351.4 53.4L347.1 56.7ZM347.1 56.7L351.4 53.4L347.4 51.7L343.1 55.0ZM363.7 59.5L368.0 56.2L363.8 54.1L359.6 57.3ZM376.5 61.0L380.7 57.8L376.4 55.4L372.2 58.5ZM385.0 60.4L389.2 57.3L384.9 54.8L380.7 57.8ZM398.0 63.0L402.1 60.0L397.7 57.1L393.6 60.1ZM406.6 63.1L410.7 60.2L406.2 57.2L402.1 60.0ZM410.7 60.2L414.7 57.5L410.2 54.6L406.2 57.2ZM419.2 60.7L423.2 58.2L418.7 55.0L414.7 57.5ZM427.7 61.5L431.7 59.1L427.1 55.8L423.2 58.2ZM431.7 59.1L435.6 56.9L431.0 53.6L427.1 55.8ZM440.1 60.3L444.0 58.2L439.4 54.8L435.6 56.9Z" fill="#56e600" stroke="#56e600" stroke-width="0.4"/>
<path d="M343.1 55.0L347.4 51.7L343.5 50.1L339.2 53.3ZM339.2 53.3L343.5 50.1L339.6 48.7L335.3 51.9ZM335.3 51.9L339.6 48.7L335.7 47.5L331.5 50.6ZM331.5 50.6L335.7 47.5L331.9 46.4L327.7 49.4ZM327.7 49.4L331.9 46.4L328.2 45.4L323.9 48.4ZM323.9 48.4L328.2 45.4L324.5 44.6L320.2 47.5ZM359.6 57.3L363.8 54.1L359.7 52.1L355.5 55.3ZM355.5 55.3L359.7 52.1L355.7 50.3L351.4 53.4ZM372.2 58.5L376.4 55.4L372.2 53.1L368.0 56.2ZM368.0 56.2L372.2 53.1L368.1 51.0L363.8 54.1ZM380.7 57.8L384.9 54.8L380.6 52.4L376.4 55.4ZM393.6 60.1L397.7 57.1L393.3 54.4L389.2 57.3ZM389.2 57.3L393.3 54.4L389.0 51.9L384.9 54.8ZM402.1 60.0L406.2 57.2L401.8 54.4L397.7 57.1ZM414.7 57.5L418.7 55.0L414.2 52.1L410.2 54.6ZM423.2 58.2L427.1 55.8L422.6 52.7L418.7 55.0ZM435.6 56.9L439.4 54.8L434.9 51.6L431.0 53.6Z" fill="#64e600" stroke="#64e600" stroke-width="0.4"/>
<path d="M351.4 53.4L355.7 50.3L351.7 48.6L347.4 51.7ZM347.4 51.7L351.7 48.6L347.7 47.1L343.5 50.1ZM343.5 50.1L347.7 47.1L343.8 45.7L339.6 48.7ZM339.6 48.7L343.8 45.7L339.9 44.5L335.7 47.5ZM335.7 47.5L339.9 44.5L336.1 43.5L331.9 46.4ZM331.9 46.4L336.1 43.5L332.4 42.6L328.2 45.4ZM328.2 45.4L332.4 42.6L328.7 41.8L324.5 44.6ZM363.8 54.1L368.1 51.0L363.9 49.1L359.7 52.1ZM359.7 52.1L363.9 49.1L359.9 47.3L355.7 50.3ZM376.4 55.4L380.6 52.4L376.4 50.2L372.2 53.1ZM384.9 54.8L389.0 51.9L384.8 49.6L380.6 52.4ZM397.7 57.1L401.8 54.4L397.4 51.7L393.3 54.4ZM406.2 57.2L410.2 54.6L405.8 51.8L401.8 54.4ZM410.2 54.6L414.2 52.1L409.8 49.3L405.8 51.8ZM418.7 55.0L422.6 52.7L418.2 49.8L414.2 52.1ZM427.1 55.8L431.0 53.6L426.5 50.5L422.6 52.7ZM431.0 53.6L434.9 51.6L430.4 48.5L426.5 50.5Z" fill="#73e600" stroke="#73e600" stroke-width="0.4"/>
<path d="M355.7 50.3L359.9 47.3L355.9 45.7L351.7 48.6ZM351.7 48.6L355.9 45.7L351.9 44.2L347.7 47.1ZM347.7 47.1L351.9 44.2L348.0 42.9L343.8 45.7ZM343.8 45.7L348.0 42.9L344.1 41.7L339.9 44.5ZM339.9 44.5L344.1 41.7L340.3 40.7L336.1 43.5ZM336.1 43.5L340.3 40.7L336.5 39.9L332.4 42.6ZM332.4 42.6L336.5 39.9L332.8 39.1L328.7 41.8ZM372.2 53.1L376.4 50.2L372.2 48.1L368.1 51.0ZM368.1 51.0L372.2 48.1L368.1 46.2L363.9 49.1ZM380.6 52.4L384.8 49.6L380.5 47.4L376.4 50.2ZM393.3 54.4L397.4 51.7L393.1 49.2L389.0 51.9ZM389.0 51.9L393.1 49.2L388.8 46.9L384.8 49.6ZM401.8 54.4L405.8 51.8L401.5 49.1L397.4 51.7ZM397.4 51.7L401.5 49.1L397.2 46.7L393.1 49.2ZM405.8 51.8L409.8 49.3L405.5 46.7L401.5 49.1ZM414.2 52.1L418.2 49.8L413.8 47.0L409.8 49.3ZM422.6 52.7L426.5 50.5L422.1 47.6L418.2 49.8ZM426.5 50.5L430.4 48.5L426.0 45.7L422.1 47.6Z" fill="#81e600" stroke="#81e600" stroke-width="0.4"/>
<path d="M363.9 49.1L368.1 46.2L364.0 44.5L359.9 47.3ZM359.9 47.3L364.0 44.5L360.0 42.9L355.9 45.7ZM355.9 45.7L360.0 42.9L356.1 41.5L351.9 44.2ZM351.9 44.2L356.1 41.5L352.1 40.2L348.0 42.9ZM340.3 40.7L344.4 38.1L340.7 37.3L336.5 39.9ZM336.5 39.9L340.7 37.3L336.9 36.6L332.8 39.1ZM376.4 50.2L380.5 47.4L376.4 45.4L372.2 48.1ZM372.2 48.1L376.4 45.4L372.2 43.5L368.1 46.2ZM384.8 49.6L388.8 46.9L384.6 44.8L380.5 47.4ZM393.1 49.2L397.2 46.7L392.9 44.4L388.8 46.9ZM401.5 49.1L405.5 46.7L401.2 44.3L397.2 46.7ZM409.8 49.3L413.8 47.0L409.4 44.5L405.5 46.7ZM418.2 49.8L422.1 47.6L417.7 44.9L413.8 47.0ZM422.1 47.6L426.0 45.7L421.6 43.0L417.7 44.9Z" fill="#8fe600" stroke="#8fe600" stroke-width="0.4"/>
<path d="M348.0 42.9L352.1 40.2L348.3 39.1L344.1 41.7ZM344.1 41.7L348.3 39.1L344.4 38.1L340.3 40.7ZM368.1 46.2L372.2 43.5L368.2 41.8L364.0 44.5ZM364.0 44.5L368.2 41.8L364.1 40.3L360.0 42.9ZM360.0 42.9L364.1 40.3L360.2 38.9L356.1 41.5ZM356.1 41.5L360.2 38.9L356.2 37.7L352.1 40.2ZM344.4 38.1L348.5 35.7L344.8 34.9L340.7 37.3ZM340.7 37.3L344.8 34.9L341.0 34.3L336.9 36.6ZM380.5 47.4L384.6 44.8L380.5 42.8L376.4 45.4ZM376.4 45.4L380.5 42.8L376.3 41.0L372.2 43.5ZM388.8 46.9L392.9 44.4L388.7 42.3L384.6 44.8ZM397.2 46.7L401.2 44.3L396.9 42.1L392.9 44.4ZM405.5 46.7L409.4 44.5L405.1 42.1L401.2 44.3ZM413.8 47.0L417.7 44.9L413.3 42.4L409.4 44.5ZM417.7 44.9L421.6 43.0L417.2 40.5L413.3 42.4Z" fill="#9ee600" stroke="#9ee600" stroke-width="0.4"/>
<path d="M352.1 40.2L356.2 37.7L352.4 36.6L348.3 39.1ZM348.3 39.1L352.4 36.6L348.5 35.7L344.4 38.1ZM372.2 43.5L376.3 41.0L372.2 39.3L368.2 41.8ZM368.2 41.8L372.2 39.3L368.2 37.8L364.1 40.3ZM364.1 40.3L368.2 37.8L364.2 36.5L360.2 38.9ZM360.2 38.9L364.2 36.5L360.3 35.3L356.2 37.7ZM356.2 37.7L360.3 35.3L356.4 34.3L352.4 36.6ZM352.4 36.6L356.4 34.3L352.6 33.4L348.5 35.7ZM348.5 35.7L352.6 33.4L348.8 32.6L344.8 34.9ZM344.8 34.9L348.8 32.6L345.1 32.0L341.0 34.3ZM384.6 44.8L388.7 42.3L384.5 40.3L380.5 42.8ZM380.5 42.8L384.5 40.3L380.4 38.6L376.3 41.0ZM392.9 44.4L396.9 42.1L392.7 40.0L388.7 42.3ZM388.7 42.3L392.7 40.0L388.5 38.1L384.5 40.3ZM401.2 44.3L405.1 42.1L400.9 39.9L396.9 42.1ZM409.4 44.5L413.3 42.4L409.0 40.0L405.1 42.1ZM413.3 42.4L417.2 40.5L412.9 38.1L409.0 40.0Z" fill="#ace600" stroke="#ace600" stroke-width="0.4"/>
<path d="M376.3 41.0L380.4 38.6L376.3 36.9L372.2 39.3ZM372.2 39.3L376.3 36.9L372.3 35.5L368.2 37.8ZM368.2 37.8L372.3 35.5L368.3 34.2L364.2 36.5ZM364.2 36.5L368.3 34.2L364.3 33.0L360.3 35.3ZM360.3 35.3L364.3 33.0L360.5 32.1L356.4 34.3ZM356.4 34.3L360.5 32.1L356.6 31.2L352.6 33.4ZM352.6 33.4L356.6 31.2L352.8 30.5L348.8 32.6ZM348.8 32.6L352.8 30.5L349.1 30.0L345.1 32.0ZM384.5 40.3L388.5 38.1L384.4 36.3L380.4 38.6ZM380.4 38.6L384.4 36.3L380.3 34.7L376.3 36.9ZM396.9 42.1L400.9 39.9L396.6 37.8L392.7 40.0ZM392.7 40.0L396.6 37.8L392.5 36.0L388.5 38.1ZM405.1 42.1L409.0 40.0L404.8 37.9L400.9 39.9ZM400.9 39.9L404.8 37.9L400.5 35.8L396.6 37.8ZM409.0 40.0L412.9 38.1L408.6 36.0L404.8 37.9Z" fill="#bae600" stroke="#bae600" stroke-width="0.4"/>
<path d="M376.3 36.9L380.3 34.7L376.3 33.3L372.3 35.5ZM372.3 35.5L376.3 33.3L372.3 32.1L368.3 34.2ZM368.3 34.2L372.3 32.1L368.3 31.0L364.3 33.0ZM364.3 33.0L368.3 31.0L364.4 30.0L360.5 32.1ZM360.5 32.1L364.4 30.0L360.6 29.2L356.6 31.2ZM356.6 31.2L360.6 29.2L356.8 28.5L352.8 30.5ZM352.8 30.5L356.8 28.5L353.1 28.0L349.1 30.0ZM388.5 38.1L392.5 36.0L388.3 34.2L384.4 36.3ZM384.4 36.3L388.3 34.2L384.2 32.7L380.3 34.7ZM380.3 34.7L384.2 32.7L380.2 31.3L376.3 33.3ZM356.8 28.5L360.7 26.7L357.0 26.2L353.1 28.0ZM396.6 37.8L400.5 35.8L396.4 34.0L392.5 36.0ZM392.5 36.0L396.4 34.0L392.2 32.3L388.3 34.2ZM404.8 37.9L408.6 36.0L404.4 34.0L400.5 35.8ZM400.5 35.8L404.4 34.0L400.2 32.2L396.4 34.0Z" fill="#c9e600" stroke="#c9e600" stroke-width="0.4"/>
<path d="M376.3 33.3L380.2 31.3L376.2 30.1L372.3 32.1ZM372.3 32.1L376.2 30.1L372.3 29.0L368.3 31.0ZM368.3 31.0L372.3 29.0L368.4 28.1L364.4 30.0ZM364.4 30.0L368.4 28.1L364.5 27.3L360.6 29.2ZM360.6 29.2L364.5 27.3L360.7 26.7L356.8 28.5ZM388.3 34.2L392.2 32.3L388.2 30.8L384.2 32.7ZM384.2 32.7L388.2 30.8L384.1 29.4L380.2 31.3ZM380.2 31.3L384.1 29.4L380.1 28.2L376.2 30.1ZM376.2 30.1L380.1 28.2L376.2 27.2L372.3 29.0ZM372.3 29.0L376.2 27.2L372.3 26.3L368.4 28.1ZM368.4 28.1L372.3 26.3L368.4 25.6L364.5 27.3ZM364.5 27.3L368.4 25.6L364.6 25.0L360.7 26.7ZM360.7 26.7L364.6 25.0L360.9 24.5L357.0 26.2ZM396.4 34.0L400.2 32.2L396.1 30.5L392.2 32.3ZM392.2 32.3L396.1 30.5L392.0 29.0L388.2 30.8ZM388.2 30.8L392.0 29.0L388.0 27.7L384.1 29.4ZM384.1 29.4L388.0 27.7L384.0 26.5L380.1 28.2ZM380.1 28.2L384.0 26.5L380.0 25.5L376.2 27.2ZM376.2 27.2L380.0 25.5L376.1 24.7L372.3 26.3ZM372.3 26.3L376.1 24.7L372.3 24.0L368.4 25.6ZM368.4 25.6L372.3 24.0L368.5 23.4L364.6 25.0ZM364.6 25.0L368.5 23.4L364.7 23.0L360.9 24.5Z" fill="#d7e600" stroke="#d7e600" stroke-width="0.4"/>
<path d="M362.7 138.9L356.6 133.0L350.5 127.3L344.5 122.0L338.7 117.0L332.9 112.3L327.2 107.9L321.7 103.8L316.2 100.0L310.8 96.5L305.5 93.3L300.3 90.3L295.2 87.6L290.2 85.1L285.3 82.9L280.5 81.0M362.7 138.9L369.0 131.3L375.2 124.2L381.4 117.3L387.4 110.8L393.4 104.7L399.3 98.9L405.2 93.5L410.9 88.4L416.5 83.6L422.1 79.2L427.6 75.1L433.0 71.3L438.2 67.8L443.5 64.7L448.6 61.8M365.1 136.0L358.9 130.1L352.9 124.5L346.9 119.3L341.0 114.3L335.3 109.7L329.6 105.3L324.0 101.3L318.5 97.5L313.1 94.0L307.8 90.8L302.6 87.9L297.5 85.2L292.5 82.8L287.6 80.7L282.8 78.8M360.4 136.6L366.7 129.1L372.9 122.0L379.1 115.2L385.1 108.7L391.1 102.6L397.0 96.9L402.8 91.5L408.6 86.4L414.2 81.7L419.8 77.3L425.2 73.2L430.6 69.4L435.9 66.0L441.1 62.8L446.3 60.0M367.4 133.2L361.3 127.3L355.2 121.8L349.2 116.6L343.4 111.7L337.6 107.1L331.9 102.8L326.3 98.8L320.8 95.0L315.4 91.6L310.1 88.4L304.9 85.6L299.8 82.9L294.8 80.6L289.9 78.5L285.1 76.7M358.1 134.4L364.4 126.9L370.6 119.8L376.7 113.1L382.8 106.7L388.8 100.6L394.7 94.9L400.5 89.5L406.2 84.5L411.9 79.8L417.5 75.4L422.9 71.3L428.3 67.6L433.6 64.1L438.8 61.0L444.0 58.2M369.8 130.4L363.6 124.6L357.6 119.1L351.6 113.9L345.7 109.1L339.9 104.5L334.2 100.2L328.6 96.3L323.1 92.6L317.7 89.2L312.4 86.1L307.2 83.3L302.1 80.7L297.1 78.4L292.2 76.3L287.3 74.5M355.8 132.2L362.1 124.8L368.3 117.7L374.4 111.0L380.5 104.6L386.5 98.6L392.4 92.9L398.2 87.6L403.9 82.6L409.6 77.9L415.2 73.6L420.6 69.5L426.0 65.8L431.3 62.4L436.5 59.3L441.7 56.5M372.1 127.7L366.0 121.9L359.9 116.5L353.9 111.3L348.0 106.5L342.2 102.0L336.5 97.8L330.9 93.8L325.4 90.2L320.0 86.9L314.7 83.8L309.5 81.0L304.4 78.5L299.4 76.2L294.4 74.2L289.6 72.5M353.5 130.1L359.8 122.7L366.0 115.7L372.1 109.0L378.2 102.7L384.2 96.7L390.1 91.0L395.9 85.7L401.6 80.7L407.3 76.1L412.9 71.8L418.3 67.8L423.7 64.1L429.0 60.7L434.3 57.6L439.4 54.8M374.5 125.0L368.3 119.3L362.2 113.9L356.2 108.8L350.3 104.0L344.6 99.5L338.9 95.3L333.2 91.5L327.7 87.9L322.3 84.6L317.0 81.5L311.8 78.8L306.6 76.3L301.6 74.1L296.7 72.1L291.8 70.4M351.3 128.0L357.5 120.7L363.7 113.7L369.9 107.0L375.9 100.8L381.9 94.8L387.8 89.2L393.6 83.9L399.4 78.9L405.0 74.3L410.6 70.0L416.1 66.0L421.5 62.4L426.8 59.0L432.0 55.9L437.1 53.2M376.8 122.4L370.6 116.7L364.5 111.3L358.5 106.3L352.6 101.5L346.9 97.1L341.1 93.0L335.5 89.1L330.0 85.6L324.6 82.3L319.3 79.3L314.0 76.6L308.9 74.2L303.9 72.0L298.9 70.1L294.1 68.4M349.0 126.0L355.3 118.7L361.5 111.7L367.6 105.1L373.7 98.9L379.6 93.0L385.5 87.4L391.4 82.1L397.1 77.2L402.7 72.6L408.3 68.3L413.8 64.4L419.2 60.7L424.5 57.4L429.7 54.3L434.9 51.6M379.1 119.8L372.9 114.2L366.8 108.8L360.8 103.8L354.9 99.1L349.1 94.7L343.4 90.6L337.8 86.8L332.3 83.3L326.9 80.1L321.5 77.2L316.3 74.5L311.2 72.1L306.1 70.0L301.2 68.1L296.3 66.5M346.8 124.0L353.0 116.7L359.2 109.8L365.4 103.3L371.4 97.0L377.4 91.1L383.3 85.6L389.1 80.4L394.8 75.5L400.5 70.9L406.1 66.7L411.5 62.7L416.9 59.1L422.3 55.8L427.5 52.8L432.6 50.0M381.4 117.3L375.2 111.7L369.1 106.4L363.1 101.4L357.2 96.8L351.4 92.4L345.7 88.3L340.1 84.6L334.6 81.1L329.1 77.9L323.8 75.0L318.5 72.4L313.4 70.1L308.3 68.0L303.4 66.1L298.5 64.6M344.5 122.0L350.8 114.8L357.0 107.9L363.1 101.4L369.2 95.2L375.1 89.4L381.0 83.9L386.9 78.7L392.6 73.8L398.2 69.3L403.8 65.1L409.3 61.2L414.7 57.5L420.0 54.2L425.2 51.2L430.4 48.5M383.7 114.8L377.5 109.3L371.4 104.0L365.4 99.1L359.5 94.4L353.7 90.1L348.0 86.1L342.3 82.4L336.8 79.0L331.4 75.8L326.0 73.0L320.8 70.4L315.6 68.1L310.6 66.0L305.6 64.2L300.7 62.7M342.3 120.1L348.6 112.9L354.8 106.1L360.9 99.6L366.9 93.5L372.9 87.7L378.8 82.2L384.6 77.0L390.4 72.2L396.0 67.7L401.6 63.5L407.1 59.6L412.5 56.0L417.8 52.7L423.0 49.8L428.2 47.1M385.9 112.4L379.8 106.9L373.7 101.7L367.7 96.8L361.8 92.2L355.9 87.9L350.2 83.9L344.6 80.2L339.1 76.8L333.6 73.7L328.3 70.9L323.0 68.4L317.9 66.1L312.8 64.1L307.8 62.4L302.9 60.9M340.1 118.2L346.4 111.1L352.6 104.3L358.7 97.9L364.7 91.8L370.7 86.0L376.6 80.6L382.4 75.4L388.1 70.6L393.8 66.2L399.4 62.0L404.8 58.1L410.2 54.6L415.6 51.3L420.8 48.3L426.0 45.7M388.2 110.1L382.0 104.5L375.9 99.4L369.9 94.5L364.0 89.9L358.2 85.7L352.5 81.8L346.8 78.1L341.3 74.8L335.8 71.7L330.5 68.9L325.2 66.4L320.1 64.2L315.0 62.2L310.0 60.5L305.1 59.1M337.9 116.4L344.2 109.3L350.4 102.6L356.5 96.2L362.5 90.1L368.5 84.4L374.4 79.0L380.2 73.9L385.9 69.1L391.6 64.7L397.1 60.5L402.6 56.7L408.0 53.1L413.4 49.9L418.6 47.0L423.7 44.3M390.4 107.7L384.3 102.3L378.2 97.1L372.2 92.3L366.3 87.8L360.4 83.5L354.7 79.6L349.1 76.0L343.5 72.7L338.1 69.7L332.7 67.0L327.4 64.5L322.3 62.3L317.2 60.4L312.2 58.7L307.3 57.3M335.8 114.6L342.0 107.6L348.2 100.9L354.3 94.5L360.3 88.5L366.3 82.8L372.2 77.4L378.0 72.4L383.7 67.6L389.4 63.2L394.9 59.1L400.4 55.3L405.8 51.8L411.2 48.5L416.4 45.6L421.6 43.0M392.7 105.5L386.5 100.0L380.4 94.9L374.4 90.1L368.5 85.6L362.7 81.5L356.9 77.6L351.3 74.0L345.7 70.7L340.3 67.8L334.9 65.1L329.6 62.6L324.5 60.5L319.4 58.6L314.4 57.0L309.5 55.6M333.6 112.9L339.9 105.9L346.0 99.3L352.1 92.9L358.2 86.9L364.1 81.3L370.0 75.9L375.8 70.9L381.5 66.2L387.2 61.8L392.8 57.7L398.2 53.9L403.6 50.4L409.0 47.2L414.2 44.3L419.4 41.7M394.9 103.2L388.7 97.8L382.6 92.7L376.6 88.0L370.7 83.5L364.9 79.4L359.1 75.6L353.5 72.0L347.9 68.8L342.5 65.8L337.1 63.2L331.8 60.8L326.7 58.7L321.6 56.8L316.6 55.2L311.7 53.9M331.5 111.2L337.7 104.3L343.9 97.6L350.0 91.4L356.0 85.4L362.0 79.8L367.8 74.5L373.6 69.5L379.4 64.8L385.0 60.4L390.6 56.4L396.1 52.6L401.5 49.1L406.8 46.0L412.0 43.1L417.2 40.5M397.1 101.1L390.9 95.7L384.8 90.6L378.8 85.9L372.9 81.5L367.1 77.4L361.3 73.6L355.7 70.1L350.1 66.9L344.7 64.0L339.3 61.4L334.0 59.0L328.8 56.9L323.7 55.1L318.7 53.6L313.8 52.3M329.4 109.6L335.6 102.6L341.7 96.1L347.8 89.8L353.9 83.9L359.8 78.3L365.7 73.0L371.5 68.1L377.2 63.4L382.9 59.1L388.4 55.1L393.9 51.3L399.3 47.9L404.6 44.7L409.9 41.9L415.0 39.3M399.3 98.9L393.1 93.6L387.0 88.6L381.0 83.9L375.1 79.5L369.3 75.4L363.5 71.7L357.9 68.2L352.3 65.0L346.9 62.2L341.5 59.6L336.2 57.3L331.0 55.2L325.9 53.4L320.9 51.9L316.0 50.6M327.2 107.9L333.5 101.1L339.6 94.5L345.7 88.3L351.7 82.5L357.7 76.9L363.5 71.7L369.3 66.7L375.1 62.1L380.7 57.8L386.3 53.8L391.8 50.1L397.2 46.7L402.5 43.6L407.7 40.7L412.9 38.1M401.5 96.9L395.3 91.5L389.2 86.6L383.2 81.9L377.3 77.5L371.5 73.5L365.7 69.8L360.1 66.4L354.5 63.2L349.0 60.4L343.6 57.8L338.4 55.5L333.2 53.5L328.0 51.8L323.0 50.3L318.1 49.1M325.1 106.4L331.4 99.6L337.5 93.1L343.6 86.9L349.6 81.1L355.5 75.5L361.4 70.3L367.2 65.4L372.9 60.9L378.6 56.6L384.1 52.6L389.6 48.9L395.0 45.5L400.3 42.4L405.6 39.6L410.8 37.0M403.7 94.8L397.5 89.5L391.4 84.6L385.4 80.0L379.5 75.6L373.6 71.6L367.9 67.9L362.2 64.5L356.7 61.4L351.2 58.6L345.8 56.1L340.5 53.9L335.3 51.9L330.2 50.2L325.2 48.7L320.2 47.5M323.0 104.8L329.3 98.1L335.4 91.6L341.5 85.5L347.5 79.7L353.4 74.2L359.3 69.0L365.1 64.2L370.8 59.6L376.4 55.4L382.0 51.4L387.5 47.8L392.9 44.4L398.2 41.3L403.5 38.5L408.6 36.0M405.9 92.8L399.7 87.6L393.6 82.7L387.6 78.1L381.6 73.8L375.8 69.8L370.1 66.1L364.4 62.8L358.8 59.7L353.3 56.9L347.9 54.4L342.6 52.2L337.4 50.3L332.3 48.6L327.3 47.2L322.4 46.1M321.0 103.3L327.2 96.6L333.3 90.2L339.4 84.1L345.4 78.4L351.3 72.9L357.2 67.8L363.0 63.0L368.7 58.4L374.3 54.2L379.9 50.3L385.4 46.7L390.8 43.3L396.1 40.3L401.3 37.5L406.5 35.0M408.0 90.9L401.8 85.7L395.7 80.8L389.7 76.2L383.8 72.0L378.0 68.0L372.2 64.4L366.5 61.1L361.0 58.0L355.5 55.3L350.1 52.8L344.8 50.6L339.6 48.7L334.4 47.1L329.4 45.7L324.5 44.6M318.9 101.9L325.1 95.2L331.2 88.9L337.3 82.8L343.3 77.1L349.2 71.7L355.1 66.6L360.9 61.8L366.6 57.3L372.2 53.1L377.8 49.2L383.3 45.6L388.7 42.3L394.0 39.3L399.2 36.5L404.4 34.0M410.2 89.0L404.0 83.8L397.9 79.0L391.9 74.4L385.9 70.2L380.1 66.3L374.3 62.7L368.7 59.4L363.1 56.4L357.6 53.7L352.2 51.2L346.9 49.1L341.7 47.2L336.6 45.6L331.5 44.3L326.6 43.2M316.9 100.5L323.1 93.9L329.2 87.5L335.2 81.5L341.2 75.9L347.2 70.5L353.0 65.4L358.8 60.7L364.5 56.2L370.1 52.0L375.7 48.2L381.2 44.6L386.6 41.3L391.9 38.3L397.1 35.5L402.3 33.1M412.3 87.2L406.1 82.0L400.0 77.2L394.0 72.7L388.1 68.5L382.2 64.6L376.5 61.0L370.8 57.8L365.2 54.8L359.7 52.1L354.3 49.7L349.0 47.6L343.8 45.7L338.7 44.2L333.6 42.9L328.7 41.8M314.8 99.1L321.0 92.5L327.1 86.3L333.2 80.3L339.2 74.7L345.1 69.3L351.0 64.3L356.7 59.6L362.4 55.1L368.1 51.0L373.6 47.2L379.1 43.6L384.5 40.3L389.8 37.4L395.1 34.6L400.2 32.2M414.4 85.4L408.2 80.2L402.1 75.4L396.1 71.0L390.2 66.8L384.4 62.9L378.6 59.4L372.9 56.2L367.3 53.2L361.8 50.6L356.4 48.2L351.1 46.1L345.9 44.3L340.8 42.8L335.7 41.5L330.7 40.5M312.8 97.8L319.0 91.2L325.1 85.0L331.2 79.1L337.1 73.5L343.1 68.2L348.9 63.2L354.7 58.5L360.4 54.1L366.0 50.0L371.5 46.2L377.0 42.7L382.4 39.4L387.7 36.5L393.0 33.8L398.2 31.3M416.5 83.6L410.4 78.5L404.3 73.7L398.2 69.3L392.3 65.2L386.5 61.3L380.7 57.8L375.0 54.6L369.4 51.7L363.9 49.1L358.5 46.7L353.2 44.7L348.0 42.9L342.8 41.4L337.8 40.1L332.8 39.1M310.8 96.5L317.0 90.0L323.1 83.8L329.1 77.9L335.1 72.4L341.0 67.1L346.9 62.2L352.6 57.5L358.3 53.1L363.9 49.1L369.5 45.3L375.0 41.8L380.4 38.6L385.7 35.6L390.9 32.9L396.1 30.5M418.6 81.9L412.5 76.8L406.4 72.1L400.3 67.7L394.4 63.6L388.6 59.8L382.8 56.3L377.1 53.1L371.5 50.2L366.0 47.6L360.6 45.3L355.3 43.3L350.1 41.5L344.9 40.1L339.9 38.8L334.9 37.9M308.8 95.3L315.0 88.8L321.1 82.7L327.1 76.8L333.1 71.3L339.0 66.1L344.8 61.2L350.6 56.5L356.3 52.2L361.9 48.2L367.5 44.4L372.9 40.9L378.3 37.7L383.6 34.8L388.9 32.2L394.1 29.8M420.7 80.3L414.5 75.2L408.4 70.5L402.4 66.1L396.5 62.0L390.6 58.2L384.9 54.8L379.2 51.6L373.6 48.8L368.1 46.2L362.7 43.9L357.4 41.9L352.1 40.2L347.0 38.8L341.9 37.6L336.9 36.6M306.8 94.0L313.0 87.6L319.1 81.5L325.1 75.7L331.1 70.3L337.0 65.1L342.8 60.2L348.6 55.6L354.3 51.3L359.9 47.3L365.4 43.6L370.9 40.1L376.3 36.9L381.6 34.0L386.9 31.4L392.0 29.0M422.8 78.7L416.6 73.6L410.5 68.9L404.5 64.6L398.6 60.5L392.7 56.8L387.0 53.3L381.3 50.2L375.7 47.4L370.2 44.8L364.8 42.6L359.4 40.6L354.2 38.9L349.0 37.5L344.0 36.3L339.0 35.4M304.9 92.9L311.0 86.5L317.1 80.4L323.1 74.7L329.1 69.3L335.0 64.1L340.8 59.3L346.6 54.7L352.3 50.4L357.9 46.5L363.4 42.8L368.9 39.3L374.3 36.2L379.6 33.3L384.8 30.7L390.0 28.4M424.8 77.1L418.7 72.1L412.6 67.4L406.6 63.1L400.6 59.0L394.8 55.3L389.0 51.9L383.3 48.8L377.7 46.0L372.2 43.5L366.8 41.3L361.5 39.3L356.2 37.7L351.1 36.3L346.0 35.1L341.0 34.3M302.9 91.7L309.1 85.4L315.1 79.4L321.2 73.7L327.1 68.3L333.0 63.2L338.8 58.4L344.6 53.9L350.3 49.6L355.9 45.7L361.4 42.0L366.9 38.6L372.3 35.5L377.6 32.6L382.8 30.0L388.0 27.7M426.9 75.6L420.7 70.6L414.6 65.9L408.6 61.6L402.7 57.6L396.8 53.9L391.1 50.5L385.4 47.5L379.8 44.7L374.3 42.2L368.9 40.0L363.5 38.1L358.3 36.5L353.1 35.1L348.0 34.0L343.1 33.1M301.0 90.6L307.1 84.4L313.2 78.4L319.2 72.7L325.1 67.4L331.0 62.3L336.8 57.5L342.6 53.0L348.3 48.8L353.9 44.9L359.4 41.3L364.9 37.9L370.3 34.8L375.6 32.0L380.8 29.4L386.0 27.1M428.9 74.1L422.8 69.2L416.7 64.5L410.7 60.2L404.7 56.2L398.9 52.6L393.1 49.2L387.4 46.2L381.8 43.4L376.3 41.0L370.9 38.8L365.6 36.9L360.3 35.3L355.1 33.9L350.1 32.9L345.1 32.0M299.0 89.6L305.2 83.4L311.2 77.4L317.3 71.8L323.2 66.5L329.1 61.5L334.9 56.7L340.6 52.3L346.3 48.1L351.9 44.2L357.4 40.6L362.9 37.3L368.3 34.2L373.6 31.4L378.8 28.8L384.0 26.5M430.9 72.7L424.8 67.7L418.7 63.1L412.7 58.9L406.8 54.9L400.9 51.3L395.1 47.9L389.5 44.9L383.9 42.2L378.4 39.7L372.9 37.6L367.6 35.7L362.3 34.1L357.2 32.8L352.1 31.8L347.1 31.0M297.1 88.6L303.3 82.4L309.3 76.5L315.3 70.9L321.3 65.6L327.1 60.6L332.9 55.9L338.7 51.5L344.3 47.4L349.9 43.5L355.5 40.0L360.9 36.6L366.3 33.6L371.6 30.8L376.8 28.3L382.0 26.0M433.0 71.3L426.8 66.4L420.7 61.8L414.7 57.5L408.8 53.6L402.9 50.0L397.2 46.7L391.5 43.7L385.9 41.0L380.4 38.6L374.9 36.4L369.6 34.6L364.3 33.0L359.2 31.8L354.1 30.7L349.1 30.0M295.2 87.6L301.3 81.4L307.4 75.6L313.4 70.1L319.3 64.8L325.2 59.9L331.0 55.2L336.7 50.8L342.4 46.7L348.0 42.9L353.5 39.3L359.0 36.1L364.3 33.0L369.6 30.3L374.9 27.8L380.0 25.5M435.0 70.0L428.8 65.1L422.7 60.5L416.7 56.3L410.8 52.4L404.9 48.8L399.2 45.5L393.5 42.5L387.9 39.8L382.4 37.4L376.9 35.3L371.6 33.5L366.3 32.0L361.2 30.7L356.1 29.7L351.1 29.0M293.3 86.6L299.5 80.5L305.5 74.7L311.5 69.3L317.4 64.1L323.3 59.1L329.1 54.5L334.8 50.2L340.5 46.1L346.0 42.3L351.6 38.8L357.0 35.5L362.4 32.5L367.7 29.8L372.9 27.3L378.1 25.1M436.9 68.7L430.8 63.8L424.7 59.3L418.7 55.0L412.8 51.1L406.9 47.6L401.2 44.3L395.5 41.4L389.9 38.7L384.4 36.3L378.9 34.3L373.6 32.5L368.3 31.0L363.2 29.7L358.1 28.7L353.1 28.0M291.5 85.7L297.6 79.7L303.6 73.9L309.6 68.5L315.5 63.3L321.4 58.4L327.2 53.8L332.9 49.5L338.5 45.5L344.1 41.7L349.6 38.2L355.1 35.0L360.5 32.1L365.8 29.3L371.0 26.9L376.1 24.7M438.9 67.4L432.8 62.6L426.7 58.0L420.7 53.8L414.8 50.0L408.9 46.4L403.1 43.2L397.5 40.2L391.9 37.6L386.3 35.3L380.9 33.2L375.6 31.5L370.3 30.0L365.1 28.7L360.0 27.8L355.0 27.1M289.6 84.8L295.7 78.8L301.7 73.1L307.7 67.7L313.6 62.6L319.5 57.8L325.3 53.2L331.0 48.9L336.6 44.9L342.2 41.2L347.7 37.8L353.2 34.6L358.5 31.6L363.8 28.9L369.1 26.5L374.2 24.3M440.9 66.2L434.7 61.4L428.6 56.9L422.6 52.7L416.7 48.9L410.9 45.3L405.1 42.1L399.4 39.2L393.8 36.6L388.3 34.2L382.9 32.2L377.5 30.5L372.3 29.0L367.1 27.8L362.0 26.9L357.0 26.2M287.8 84.0L293.9 78.1L299.9 72.4L305.9 67.0L311.8 62.0L317.6 57.2L323.4 52.6L329.1 48.4L334.7 44.4L340.3 40.7L345.8 37.3L351.2 34.1L356.6 31.2L361.9 28.5L367.1 26.1L372.3 24.0M442.8 65.0L436.7 60.2L430.6 55.7L424.6 51.6L418.7 47.8L412.8 44.2L407.1 41.0L401.4 38.2L395.8 35.6L390.3 33.3L384.8 31.3L379.5 29.5L374.2 28.1L369.0 26.9L363.9 26.0L358.9 25.4M285.9 83.2L292.0 77.3L298.0 71.7L304.0 66.4L309.9 61.3L315.7 56.6L321.5 52.1L327.2 47.9L332.8 43.9L338.4 40.3L343.9 36.9L349.4 33.7L354.7 30.8L360.0 28.2L365.2 25.8L370.4 23.7M444.7 63.9L438.6 59.1L432.5 54.7L426.5 50.5L420.6 46.7L414.8 43.2L409.0 40.0L403.3 37.2L397.8 34.6L392.2 32.3L386.8 30.3L381.4 28.6L376.2 27.2L371.0 26.0L365.9 25.2L360.9 24.5M284.1 82.4L290.2 76.6L296.2 71.0L302.2 65.7L308.0 60.7L313.9 56.0L319.6 51.6L325.3 47.4L331.0 43.5L336.5 39.9L342.0 36.5L347.5 33.4L352.8 30.5L358.1 27.9L363.3 25.5L368.5 23.4M446.7 62.8L440.5 58.1L434.5 53.6L428.5 49.5L422.6 45.7L416.7 42.2L411.0 39.1L405.3 36.2L399.7 33.7L394.2 31.4L388.7 29.4L383.4 27.8L378.1 26.4L372.9 25.2L367.8 24.4L362.8 23.8M282.3 81.7L288.4 75.9L294.4 70.4L300.3 65.1L306.2 60.2L312.0 55.5L317.8 51.1L323.5 47.0L329.1 43.1L334.7 39.5L340.2 36.1L345.6 33.1L351.0 30.2L356.2 27.6L361.5 25.3L366.6 23.2M448.6 61.8L442.4 57.0L436.4 52.6L430.4 48.5L424.5 44.7L418.6 41.3L412.9 38.1L407.2 35.3L401.6 32.8L396.1 30.5L390.7 28.6L385.3 26.9L380.0 25.5L374.9 24.4L369.7 23.6L364.7 23.0M280.5 81.0L286.6 75.2L292.6 69.8L298.5 64.6L304.4 59.7L310.2 55.0L316.0 50.6L321.6 46.5L327.3 42.7L332.8 39.1L338.3 35.8L343.7 32.8L349.1 30.0L354.4 27.4L359.6 25.1L364.7 23.0" fill="none" stroke="#000" stroke-opacity="0.75" stroke-width="0.6"/>
<path d="M284.1 143.8L277.8 33.7L364.7 13.9L449.9 33.2L444.7 144.0" fill="none" stroke="#555" stroke-width="0.9"/>
<text x="233.8" y="19.7" class="pl">b)</text>
<text x="275.0" y="40.3" class="tk" text-anchor="end" textLength="7.52" lengthAdjust="spacingAndGlyphs">2.3</text>
<text x="275.8" y="60.8" class="tk" text-anchor="end" textLength="13.54" lengthAdjust="spacingAndGlyphs">1.875</text>
<path d="M277.8 54.5H279.3" stroke="#222" stroke-width="0.9"/>
<text x="276.7" y="82.4" class="tk" text-anchor="end" textLength="10.53" lengthAdjust="spacingAndGlyphs">1.45</text>
<path d="M279.0 76.2H280.5" stroke="#222" stroke-width="0.9"/>
<text x="277.5" y="102.8" class="tk" text-anchor="end" textLength="13.54" lengthAdjust="spacingAndGlyphs">1.025</text>
<path d="M280.2 96.5H281.7" stroke="#222" stroke-width="0.9"/>
<text x="278.3" y="124.3" class="tk" text-anchor="end" textLength="7.52" lengthAdjust="spacingAndGlyphs">0.6</text>
<path d="M281.4 118.1H282.9" stroke="#222" stroke-width="0.9"/>
<text x="273.2" y="150.2" class="tk" text-anchor="middle" textLength="13.54" lengthAdjust="spacingAndGlyphs">1.000</text>
<text x="292.8" y="159.7" class="tk" text-anchor="middle" textLength="13.54" lengthAdjust="spacingAndGlyphs">0.500</text>
<text x="312.4" y="169.2" class="tk" text-anchor="middle" textLength="13.54" lengthAdjust="spacingAndGlyphs">0.000</text>
<text x="331.9" y="178.7" class="tk" text-anchor="middle" textLength="15.34" lengthAdjust="spacingAndGlyphs">-0.500</text>
<text x="351.5" y="188.2" class="tk" text-anchor="middle" textLength="15.34" lengthAdjust="spacingAndGlyphs">-1.000</text>
<text x="373.9" y="187.9" class="tk" text-anchor="middle" textLength="15.34" lengthAdjust="spacingAndGlyphs">-1.000</text>
<text x="394.2" y="178.6" class="tk" text-anchor="middle" textLength="15.34" lengthAdjust="spacingAndGlyphs">-0.500</text>
<text x="414.6" y="169.4" class="tk" text-anchor="middle" textLength="13.54" lengthAdjust="spacingAndGlyphs">0.000</text>
<text x="434.9" y="160.2" class="tk" text-anchor="middle" textLength="13.54" lengthAdjust="spacingAndGlyphs">0.500</text>
<text x="455.3" y="150.9" class="tk" text-anchor="middle" textLength="13.54" lengthAdjust="spacingAndGlyphs">1.000</text>
<text x="291.3" y="182.5" class="tt" text-anchor="middle" textLength="35.2" lengthAdjust="spacingAndGlyphs">C: Temp.</text>
<text x="434.6" y="182.5" class="tt" text-anchor="middle" textLength="47.2" lengthAdjust="spacingAndGlyphs">A: Ag Conc.</text>
<text x="256.8" y="91.2" class="tt" text-anchor="middle" style="font-size:10px;fill:#222" transform="rotate(-90 256.8 91.2)">A</text>
<path d="M363.9 55.0V63.5" stroke="#222" stroke-width="0.8"/>
<circle cx="363.9" cy="55.0" r="1.4" fill="#b00606" stroke="#500" stroke-width="0.3"/>
<circle cx="363.9" cy="57.7" r="1.4" fill="#b00606" stroke="#500" stroke-width="0.3"/>
<circle cx="363.9" cy="60.9" r="1.4" fill="#e8c0cc" stroke="#500" stroke-width="0.3"/>
<path d="M529.5 144.3L609.0 182.7L689.8 144.3L610.4 114.3Z" fill="#ffff00" stroke="#3a3a20" stroke-width="0.8"/>
<path d="M634.5 170.5L631.3 170.7L628.3 170.8L625.4 170.8L622.4 170.8L619.5 170.7L616.8 170.6L614.2 170.5L611.0 170.2L608.0 170.0L605.5 169.7L602.1 169.3L599.5 169.0L596.6 168.6L593.4 168.0L590.5 167.5L588.0 167.0L585.4 166.5L582.6 165.8L579.7 165.1L576.6 164.3L573.7 163.5L571.1 162.8L568.7 162.0L565.5 161.0L563.1 160.2L560.3 159.2M671.9 152.8L669.0 153.6L666.4 154.2L663.8 154.8L661.0 155.4L658.2 156.0L655.9 156.4L653.3 156.8L650.3 157.3L647.6 157.7L644.9 158.0L642.1 158.3L639.2 158.6L636.8 158.7L633.7 158.9L630.6 159.0L627.8 159.1L625.1 159.1L622.2 159.1L619.4 159.1L616.8 159.0L614.2 158.8L611.2 158.6L608.2 158.4L605.9 158.2L602.6 157.8L600.2 157.5L597.3 157.1L594.2 156.6L591.6 156.1L589.3 155.7L586.5 155.1L583.8 154.5L581.2 153.9L578.3 153.2L575.2 152.4L572.8 151.7L570.4 151.0L567.3 150.1L565.1 149.3L562.3 148.4L560.1 147.6L557.3 146.5L555.2 145.7L552.7 144.7L550.2 143.6L547.7 142.5L545.4 141.4L543.0 140.3L541.9 139.8M678.1 139.8L675.2 140.7L673.0 141.4L670.7 142.0L667.6 142.9L665.1 143.5L662.6 144.0L660.0 144.6L657.3 145.1L655.0 145.5L652.6 145.9L649.7 146.4L646.9 146.8L644.6 147.0L641.6 147.3L639.1 147.6L636.6 147.7L633.5 147.9L630.8 148.0L628.2 148.1L625.6 148.1L622.9 148.1L620.0 148.1L617.2 148.0L614.7 147.9L612.4 147.7L609.1 147.5L606.7 147.2L603.8 146.9L601.5 146.6L598.4 146.2L595.9 145.8L593.6 145.5L590.8 144.9L588.1 144.4L585.5 143.9L583.0 143.3L580.5 142.7L577.6 141.9L575.0 141.2L572.7 140.5L569.8 139.6L567.7 138.9L564.9 138.0L562.9 137.3L560.3 136.3L557.8 135.3L556.0 134.5M661.4 133.5L659.0 134.1L656.4 134.6L653.9 135.0L651.8 135.4L649.2 135.8L646.3 136.2L644.2 136.4L641.3 136.7L639.1 136.9L636.1 137.1L633.6 137.3L631.2 137.4L628.8 137.4L626.1 137.5L623.5 137.5L620.9 137.4L618.1 137.3L615.2 137.2L612.8 137.1L610.4 136.9L607.5 136.6L605.3 136.4L602.5 136.0L599.6 135.6L597.6 135.3L595.0 134.9L592.4 134.4L589.8 133.9L587.4 133.3L585.0 132.8L582.3 132.1L579.6 131.4L577.5 130.8L574.7 129.9L572.6 129.3L571.3 128.8M641.4 126.0L639.4 126.2L636.5 126.4L634.1 126.5L631.9 126.6L629.5 126.7L626.9 126.8L624.4 126.8L622.0 126.7L619.4 126.6L616.5 126.5L614.2 126.4L612.0 126.2L609.1 125.9L606.9 125.7L604.3 125.3L601.6 125.0L599.1 124.5L596.8 124.1L594.4 123.7L591.7 123.1L589.5 122.6L588.7 122.4" fill="none" stroke="#5ee030" stroke-width="0.75"/>
<path d="M610.4 114.3L609.7 14.2" stroke="#555" stroke-width="0.9"/>
<path d="M608.5 131.6L613.2 127.6L608.5 124.3L603.8 128.3Z" fill="#00e6ba" stroke="#00e6ba" stroke-width="0.4"/>
<path d="M603.8 128.3L608.5 124.3L603.9 121.1L599.2 125.2Z" fill="#00e6ac" stroke="#00e6ac" stroke-width="0.4"/>
<path d="M613.2 127.6L617.8 123.8L613.2 120.4L608.5 124.3Z" fill="#00e69e" stroke="#00e69e" stroke-width="0.4"/>
<path d="M599.2 125.2L603.9 121.1L599.4 118.1L594.7 122.2Z" fill="#00e68f" stroke="#00e68f" stroke-width="0.4"/>
<path d="M594.7 122.2L599.4 118.1L595.0 115.1L590.3 119.3ZM608.5 124.3L613.2 120.4L608.6 117.2L603.9 121.1ZM617.8 123.8L622.4 120.1L617.8 116.7L613.2 120.4Z" fill="#00e681" stroke="#00e681" stroke-width="0.4"/>
<path d="M590.3 119.3L595.0 115.1L590.5 112.3L585.9 116.6ZM603.9 121.1L608.6 117.2L604.1 114.1L599.4 118.1Z" fill="#00e673" stroke="#00e673" stroke-width="0.4"/>
<path d="M585.9 116.6L590.5 112.3L586.2 109.6L581.5 113.9ZM613.2 120.4L617.8 116.7L613.2 113.4L608.6 117.2ZM622.4 120.1L627.0 116.5L622.3 113.1L617.8 116.7Z" fill="#00e664" stroke="#00e664" stroke-width="0.4"/>
<path d="M581.5 113.9L586.2 109.6L581.9 107.1L577.2 111.4ZM599.4 118.1L604.1 114.1L599.6 111.1L595.0 115.1Z" fill="#00e656" stroke="#00e656" stroke-width="0.4"/>
<path d="M577.2 111.4L581.9 107.1L577.7 104.6L573.0 109.0ZM595.0 115.1L599.6 111.1L595.2 108.2L590.5 112.3ZM608.6 117.2L613.2 113.4L608.7 110.2L604.1 114.1ZM617.8 116.7L622.3 113.1L617.7 109.7L613.2 113.4ZM627.0 116.5L631.5 113.1L626.8 109.6L622.3 113.1Z" fill="#00e648" stroke="#00e648" stroke-width="0.4"/>
<path d="M573.0 109.0L577.7 104.6L573.5 102.3L568.8 106.7ZM590.5 112.3L595.2 108.2L590.8 105.5L586.2 109.6ZM604.1 114.1L608.7 110.2L604.2 107.2L599.6 111.1Z" fill="#00e639" stroke="#00e639" stroke-width="0.4"/>
<path d="M568.8 106.7L573.5 102.3L569.3 100.0L564.7 104.5ZM586.2 109.6L590.8 105.5L586.5 102.9L581.9 107.1ZM613.2 113.4L617.7 109.7L613.2 106.5L608.7 110.2ZM622.3 113.1L626.8 109.6L622.2 106.2L617.7 109.7ZM631.5 113.1L635.9 109.8L631.3 106.2L626.8 109.6Z" fill="#00e62b" stroke="#00e62b" stroke-width="0.4"/>
<path d="M564.7 104.5L569.3 100.0L565.3 97.9L560.6 102.4ZM560.6 102.4L565.3 97.9L561.2 95.9L556.6 100.4ZM556.6 100.4L561.2 95.9L557.3 94.0L552.7 98.6ZM552.7 98.6L557.3 94.0L553.4 92.2L548.8 96.8ZM548.8 96.8L553.4 92.2L549.5 90.5L544.9 95.1ZM544.9 95.1L549.5 90.5L545.7 88.9L541.1 93.6ZM541.1 93.6L545.7 88.9L541.9 87.4L537.4 92.1ZM537.4 92.1L541.9 87.4L538.2 86.0L533.7 90.8ZM533.7 90.8L538.2 86.0L534.6 84.7L530.1 89.5ZM530.1 89.5L534.6 84.7L531.0 83.5L526.5 88.3ZM581.9 107.1L586.5 102.9L582.3 100.3L577.7 104.6ZM577.7 104.6L582.3 100.3L578.1 98.0L573.5 102.3ZM573.5 102.3L578.1 98.0L573.9 95.7L569.3 100.0ZM569.3 100.0L573.9 95.7L569.9 93.5L565.3 97.9ZM599.6 111.1L604.2 107.2L599.8 104.2L595.2 108.2ZM595.2 108.2L599.8 104.2L595.4 101.5L590.8 105.5ZM590.8 105.5L595.4 101.5L591.1 98.8L586.5 102.9ZM608.7 110.2L613.2 106.5L608.7 103.4L604.2 107.2ZM604.2 107.2L608.7 103.4L604.3 100.4L599.8 104.2ZM617.7 109.7L622.2 106.2L617.7 102.9L613.2 106.5ZM613.2 106.5L617.7 102.9L613.2 99.8L608.7 103.4ZM626.8 109.6L631.3 106.2L626.7 102.8L622.2 106.2ZM635.9 109.8L640.3 106.7L635.6 103.0L631.3 106.2ZM640.3 106.7L644.6 103.7L640.0 100.0L635.6 103.0Z" fill="#00e61d" stroke="#00e61d" stroke-width="0.4"/>
<path d="M565.3 97.9L569.9 93.5L565.8 91.5L561.2 95.9ZM561.2 95.9L565.8 91.5L561.8 89.5L557.3 94.0ZM557.3 94.0L561.8 89.5L557.9 87.7L553.4 92.2ZM553.4 92.2L557.9 87.7L554.0 86.0L549.5 90.5ZM549.5 90.5L554.0 86.0L550.2 84.4L545.7 88.9ZM545.7 88.9L550.2 84.4L546.5 82.9L541.9 87.4ZM541.9 87.4L546.5 82.9L542.7 81.4L538.2 86.0ZM538.2 86.0L542.7 81.4L539.1 80.1L534.6 84.7ZM534.6 84.7L539.1 80.1L535.4 78.9L531.0 83.5ZM586.5 102.9L591.1 98.8L586.8 96.2L582.3 100.3ZM582.3 100.3L586.8 96.2L582.6 93.8L578.1 98.0ZM578.1 98.0L582.6 93.8L578.5 91.5L573.9 95.7ZM573.9 95.7L578.5 91.5L574.4 89.3L569.9 93.5ZM599.8 104.2L604.3 100.4L599.9 97.6L595.4 101.5ZM595.4 101.5L599.9 97.6L595.6 94.9L591.1 98.8ZM591.1 98.8L595.6 94.9L591.4 92.3L586.8 96.2ZM608.7 103.4L613.2 99.8L608.8 96.7L604.3 100.4ZM604.3 100.4L608.8 96.7L604.4 93.9L599.9 97.6ZM622.2 106.2L626.7 102.8L622.1 99.4L617.7 102.9ZM617.7 102.9L622.1 99.4L617.7 96.3L613.2 99.8ZM631.3 106.2L635.6 103.0L631.1 99.5L626.7 102.8ZM626.7 102.8L631.1 99.5L626.5 96.1L622.1 99.4ZM635.6 103.0L640.0 100.0L635.4 96.4L631.1 99.5ZM644.6 103.7L648.9 100.8L644.2 97.0L640.0 100.0ZM640.0 100.0L644.2 97.0L639.7 93.4L635.4 96.4ZM648.9 100.8L653.1 98.0L648.5 94.2L644.2 97.0Z" fill="#00e60e" stroke="#00e60e" stroke-width="0.4"/>
<path d="M569.9 93.5L574.4 89.3L570.4 87.2L565.8 91.5ZM565.8 91.5L570.4 87.2L566.4 85.3L561.8 89.5ZM561.8 89.5L566.4 85.3L562.4 83.4L557.9 87.7ZM557.9 87.7L562.4 83.4L558.5 81.6L554.0 86.0ZM554.0 86.0L558.5 81.6L554.7 80.0L550.2 84.4ZM550.2 84.4L554.7 80.0L550.9 78.4L546.5 82.9ZM546.5 82.9L550.9 78.4L547.2 77.0L542.7 81.4ZM542.7 81.4L547.2 77.0L543.5 75.7L539.1 80.1ZM539.1 80.1L543.5 75.7L539.9 74.4L535.4 78.9ZM586.8 96.2L591.4 92.3L587.2 89.8L582.6 93.8ZM582.6 93.8L587.2 89.8L583.0 87.5L578.5 91.5ZM578.5 91.5L583.0 87.5L578.9 85.2L574.4 89.3ZM574.4 89.3L578.9 85.2L574.8 83.1L570.4 87.2ZM599.9 97.6L604.4 93.9L600.1 91.1L595.6 94.9ZM595.6 94.9L600.1 91.1L595.8 88.5L591.4 92.3ZM591.4 92.3L595.8 88.5L591.6 86.0L587.2 89.8ZM613.2 99.8L617.7 96.3L613.2 93.2L608.8 96.7ZM608.8 96.7L613.2 93.2L608.9 90.3L604.4 93.9ZM604.4 93.9L608.9 90.3L604.5 87.5L600.1 91.1ZM622.1 99.4L626.5 96.1L622.0 92.9L617.7 96.3ZM617.7 96.3L622.0 92.9L617.6 89.8L613.2 93.2ZM631.1 99.5L635.4 96.4L630.9 93.0L626.5 96.1ZM626.5 96.1L630.9 93.0L626.4 89.7L622.0 92.9ZM635.4 96.4L639.7 93.4L635.1 89.9L630.9 93.0ZM644.2 97.0L648.5 94.2L643.9 90.5L639.7 93.4ZM653.1 98.0L657.2 95.4L652.6 91.5L648.5 94.2ZM648.5 94.2L652.6 91.5L648.1 87.8L643.9 90.5ZM657.2 95.4L661.4 92.8L656.8 88.9L652.6 91.5ZM661.4 92.8L665.4 90.4L660.8 86.5L656.8 88.9Z" fill="#00e600" stroke="#00e600" stroke-width="0.4"/>
<path d="M570.4 87.2L574.8 83.1L570.9 81.1L566.4 85.3ZM566.4 85.3L570.9 81.1L566.9 79.2L562.4 83.4ZM562.4 83.4L566.9 79.2L563.0 77.4L558.5 81.6ZM558.5 81.6L563.0 77.4L559.2 75.7L554.7 80.0ZM554.7 80.0L559.2 75.7L555.4 74.2L550.9 78.4ZM550.9 78.4L555.4 74.2L551.6 72.7L547.2 77.0ZM547.2 77.0L551.6 72.7L547.9 71.3L543.5 75.7ZM543.5 75.7L547.9 71.3L544.3 70.1L539.9 74.4ZM587.2 89.8L591.6 86.0L587.5 83.6L583.0 87.5ZM583.0 87.5L587.5 83.6L583.4 81.3L578.9 85.2ZM578.9 85.2L583.4 81.3L579.3 79.1L574.8 83.1ZM600.1 91.1L604.5 87.5L600.3 84.8L595.8 88.5ZM595.8 88.5L600.3 84.8L596.0 82.2L591.6 86.0ZM613.2 93.2L617.6 89.8L613.2 86.8L608.9 90.3ZM608.9 90.3L613.2 86.8L608.9 84.0L604.5 87.5ZM622.0 92.9L626.4 89.7L622.0 86.5L617.6 89.8ZM617.6 89.8L622.0 86.5L617.6 83.5L613.2 86.8ZM630.9 93.0L635.1 89.9L630.7 86.6L626.4 89.7ZM626.4 89.7L630.7 86.6L626.2 83.4L622.0 86.5ZM639.7 93.4L643.9 90.5L639.4 87.0L635.1 89.9ZM635.1 89.9L639.4 87.0L634.9 83.6L630.7 86.6ZM643.9 90.5L648.1 87.8L643.6 84.2L639.4 87.0ZM652.6 91.5L656.8 88.9L652.2 85.2L648.1 87.8ZM656.8 88.9L660.8 86.5L656.3 82.7L652.2 85.2ZM665.4 90.4L669.4 88.2L664.8 84.2L660.8 86.5ZM660.8 86.5L664.8 84.2L660.3 80.3L656.3 82.7ZM669.4 88.2L673.4 86.0L668.8 81.9L664.8 84.2ZM673.4 86.0L677.3 84.0L672.7 79.9L668.8 81.9ZM677.3 84.0L681.1 82.0L676.6 77.9L672.7 79.9Z" fill="#0ee600" stroke="#0ee600" stroke-width="0.4"/>
<path d="M574.8 83.1L579.3 79.1L575.3 77.1L570.9 81.1ZM570.9 81.1L575.3 77.1L571.3 75.2L566.9 79.2ZM566.9 79.2L571.3 75.2L567.4 73.3L563.0 77.4ZM563.0 77.4L567.4 73.3L563.6 71.6L559.2 75.7ZM591.6 86.0L596.0 82.2L591.9 79.8L587.5 83.6ZM587.5 83.6L591.9 79.8L587.8 77.5L583.4 81.3ZM604.5 87.5L608.9 84.0L604.6 81.2L600.3 84.8ZM600.3 84.8L604.6 81.2L600.4 78.6L596.0 82.2ZM613.2 86.8L617.6 83.5L613.3 80.6L608.9 84.0ZM622.0 86.5L626.2 83.4L621.9 80.3L617.6 83.5ZM630.7 86.6L634.9 83.6L630.5 80.4L626.2 83.4ZM639.4 87.0L643.6 84.2L639.1 80.8L634.9 83.6ZM648.1 87.8L652.2 85.2L647.7 81.5L643.6 84.2ZM643.6 84.2L647.7 81.5L643.2 78.0L639.1 80.8ZM652.2 85.2L656.3 82.7L651.8 79.0L647.7 81.5ZM664.8 84.2L668.8 81.9L664.3 78.0L660.3 80.3ZM668.8 81.9L672.7 79.9L668.2 75.9L664.3 78.0ZM681.1 82.0L684.9 80.2L680.4 76.0L676.6 77.9ZM684.9 80.2L688.7 78.5L684.2 74.3L680.4 76.0ZM688.7 78.5L692.4 76.9L687.9 72.6L684.2 74.3Z" fill="#1de600" stroke="#1de600" stroke-width="0.4"/>
<path d="M559.2 75.7L563.6 71.6L559.8 70.0L555.4 74.2ZM555.4 74.2L559.8 70.0L556.0 68.5L551.6 72.7ZM551.6 72.7L556.0 68.5L552.3 67.2L547.9 71.3ZM547.9 71.3L552.3 67.2L548.6 65.9L544.3 70.1ZM583.4 81.3L587.8 77.5L583.7 75.3L579.3 79.1ZM579.3 79.1L583.7 75.3L579.7 73.2L575.3 77.1ZM575.3 77.1L579.7 73.2L575.7 71.3L571.3 75.2ZM571.3 75.2L575.7 71.3L571.8 69.4L567.4 73.3ZM596.0 82.2L600.4 78.6L596.3 76.2L591.9 79.8ZM591.9 79.8L596.3 76.2L592.1 73.8L587.8 77.5ZM608.9 84.0L613.3 80.6L609.0 77.8L604.6 81.2ZM604.6 81.2L609.0 77.8L604.8 75.2L600.4 78.6ZM617.6 83.5L621.9 80.3L617.5 77.4L613.3 80.6ZM613.3 80.6L617.5 77.4L613.3 74.6L609.0 77.8ZM626.2 83.4L630.5 80.4L626.1 77.2L621.9 80.3ZM634.9 83.6L639.1 80.8L634.7 77.5L630.5 80.4ZM639.1 80.8L643.2 78.0L638.8 74.7L634.7 77.5ZM647.7 81.5L651.8 79.0L647.3 75.5L643.2 78.0ZM656.3 82.7L660.3 80.3L655.8 76.6L651.8 79.0ZM660.3 80.3L664.3 78.0L659.8 74.3L655.8 76.6ZM664.3 78.0L668.2 75.9L663.7 72.1L659.8 74.3ZM672.7 79.9L676.6 77.9L672.1 73.9L668.2 75.9ZM676.6 77.9L680.4 76.0L675.9 72.0L672.1 73.9ZM680.4 76.0L684.2 74.3L679.7 70.2L675.9 72.0ZM684.2 74.3L687.9 72.6L683.4 68.5L679.7 70.2Z" fill="#2be600" stroke="#2be600" stroke-width="0.4"/>
<path d="M567.4 73.3L571.8 69.4L567.9 67.7L563.6 71.6ZM563.6 71.6L567.9 67.7L564.1 66.1L559.8 70.0ZM559.8 70.0L564.1 66.1L560.4 64.5L556.0 68.5ZM556.0 68.5L560.4 64.5L556.6 63.1L552.3 67.2ZM552.3 67.2L556.6 63.1L553.0 61.8L548.6 65.9ZM587.8 77.5L592.1 73.8L588.1 71.6L583.7 75.3ZM583.7 75.3L588.1 71.6L584.0 69.5L579.7 73.2ZM579.7 73.2L584.0 69.5L580.1 67.5L575.7 71.3ZM600.4 78.6L604.8 75.2L600.6 72.7L596.3 76.2ZM596.3 76.2L600.6 72.7L596.5 70.3L592.1 73.8ZM609.0 77.8L613.3 74.6L609.0 71.9L604.8 75.2ZM621.9 80.3L626.1 77.2L621.8 74.3L617.5 77.4ZM617.5 77.4L621.8 74.3L617.5 71.4L613.3 74.6ZM630.5 80.4L634.7 77.5L630.3 74.3L626.1 77.2ZM626.1 77.2L630.3 74.3L626.0 71.3L621.8 74.3ZM634.7 77.5L638.8 74.7L634.5 71.5L630.3 74.3ZM643.2 78.0L647.3 75.5L642.9 72.1L638.8 74.7ZM651.8 79.0L655.8 76.6L651.4 73.0L647.3 75.5ZM655.8 76.6L659.8 74.3L655.4 70.7L651.4 73.0ZM668.2 75.9L672.1 73.9L667.6 70.0L663.7 72.1ZM672.1 73.9L675.9 72.0L671.4 68.1L667.6 70.0ZM675.9 72.0L679.7 70.2L675.2 66.2L671.4 68.1Z" fill="#39e600" stroke="#39e600" stroke-width="0.4"/>
<path d="M575.7 71.3L580.1 67.5L576.1 65.6L571.8 69.4ZM571.8 69.4L576.1 65.6L572.3 63.9L567.9 67.7ZM567.9 67.7L572.3 63.9L568.4 62.2L564.1 66.1ZM564.1 66.1L568.4 62.2L564.7 60.7L560.4 64.5ZM560.4 64.5L564.7 60.7L560.9 59.2L556.6 63.1ZM592.1 73.8L596.5 70.3L592.4 68.0L588.1 71.6ZM588.1 71.6L592.4 68.0L588.4 65.9L584.0 69.5ZM604.8 75.2L609.0 71.9L604.9 69.3L600.6 72.7ZM600.6 72.7L604.9 69.3L600.7 66.9L596.5 70.3ZM613.3 74.6L617.5 71.4L613.3 68.7L609.0 71.9ZM621.8 74.3L626.0 71.3L621.7 68.4L617.5 71.4ZM630.3 74.3L634.5 71.5L630.1 68.4L626.0 71.3ZM638.8 74.7L642.9 72.1L638.5 68.8L634.5 71.5ZM647.3 75.5L651.4 73.0L647.0 69.6L642.9 72.1ZM651.4 73.0L655.4 70.7L651.0 67.2L647.0 69.6ZM659.8 74.3L663.7 72.1L659.3 68.4L655.4 70.7ZM663.7 72.1L667.6 70.0L663.2 66.3L659.3 68.4ZM667.6 70.0L671.4 68.1L667.0 64.3L663.2 66.3ZM679.7 70.2L683.4 68.5L679.0 64.5L675.2 66.2Z" fill="#48e600" stroke="#48e600" stroke-width="0.4"/>
<path d="M556.6 63.1L560.9 59.2L557.3 57.9L553.0 61.8ZM584.0 69.5L588.4 65.9L584.4 63.9L580.1 67.5ZM580.1 67.5L584.4 63.9L580.4 62.0L576.1 65.6ZM576.1 65.6L580.4 62.0L576.6 60.2L572.3 63.9ZM572.3 63.9L576.6 60.2L572.7 58.5L568.4 62.2ZM596.5 70.3L600.7 66.9L596.7 64.6L592.4 68.0ZM592.4 68.0L596.7 64.6L592.6 62.4L588.4 65.9ZM609.0 71.9L613.3 68.7L609.1 66.1L604.9 69.3ZM604.9 69.3L609.1 66.1L605.0 63.7L600.7 66.9ZM617.5 71.4L621.7 68.4L617.5 65.6L613.3 68.7ZM626.0 71.3L630.1 68.4L625.9 65.5L621.7 68.4ZM634.5 71.5L638.5 68.8L634.2 65.7L630.1 68.4ZM642.9 72.1L647.0 69.6L642.6 66.3L638.5 68.8ZM647.0 69.6L651.0 67.2L646.6 63.9L642.6 66.3ZM655.4 70.7L659.3 68.4L654.9 64.9L651.0 67.2ZM659.3 68.4L663.2 66.3L658.8 62.8L654.9 64.9ZM663.2 66.3L667.0 64.3L662.7 60.7L658.8 62.8ZM671.4 68.1L675.2 66.2L670.8 62.4L667.0 64.3ZM675.2 66.2L679.0 64.5L674.6 60.7L670.8 62.4Z" fill="#56e600" stroke="#56e600" stroke-width="0.4"/>
<path d="M568.4 62.2L572.7 58.5L568.9 56.9L564.7 60.7ZM564.7 60.7L568.9 56.9L565.2 55.5L560.9 59.2ZM560.9 59.2L565.2 55.5L561.5 54.1L557.3 57.9ZM588.4 65.9L592.6 62.4L588.6 60.4L584.4 63.9ZM584.4 63.9L588.6 60.4L584.7 58.5L580.4 62.0ZM600.7 66.9L605.0 63.7L600.9 61.3L596.7 64.6ZM613.3 68.7L617.5 65.6L613.3 63.0L609.1 66.1ZM609.1 66.1L613.3 63.0L609.2 60.5L605.0 63.7ZM621.7 68.4L625.9 65.5L621.6 62.7L617.5 65.6ZM630.1 68.4L634.2 65.7L630.0 62.8L625.9 65.5ZM638.5 68.8L642.6 66.3L638.3 63.1L634.2 65.7ZM642.6 66.3L646.6 63.9L642.3 60.7L638.3 63.1ZM651.0 67.2L654.9 64.9L650.6 61.5L646.6 63.9ZM654.9 64.9L658.8 62.8L654.5 59.4L650.6 61.5ZM667.0 64.3L670.8 62.4L666.5 58.8L662.7 60.7ZM670.8 62.4L674.6 60.7L670.2 57.0L666.5 58.8Z" fill="#64e600" stroke="#64e600" stroke-width="0.4"/>
<path d="M580.4 62.0L584.7 58.5L580.8 56.6L576.6 60.2ZM576.6 60.2L580.8 56.6L577.0 54.9L572.7 58.5ZM572.7 58.5L577.0 54.9L573.2 53.3L568.9 56.9ZM596.7 64.6L600.9 61.3L596.9 59.1L592.6 62.4ZM592.6 62.4L596.9 59.1L592.9 57.0L588.6 60.4ZM605.0 63.7L609.2 60.5L605.1 58.2L600.9 61.3ZM617.5 65.6L621.6 62.7L617.4 60.1L613.3 63.0ZM625.9 65.5L630.0 62.8L625.7 59.9L621.6 62.7ZM634.2 65.7L638.3 63.1L634.0 60.1L630.0 62.8ZM646.6 63.9L650.6 61.5L646.2 58.3L642.3 60.7ZM658.8 62.8L662.7 60.7L658.3 57.3L654.5 59.4Z" fill="#73e600" stroke="#73e600" stroke-width="0.4"/>
<path d="M568.9 56.9L573.2 53.3L569.4 51.9L565.2 55.5ZM565.2 55.5L569.4 51.9L565.7 50.5L561.5 54.1ZM588.6 60.4L592.9 57.0L588.9 55.1L584.7 58.5ZM584.7 58.5L588.9 55.1L585.0 53.2L580.8 56.6ZM600.9 61.3L605.1 58.2L601.0 55.9L596.9 59.1ZM613.3 63.0L617.4 60.1L613.3 57.5L609.2 60.5ZM609.2 60.5L613.3 57.5L609.2 55.1L605.1 58.2ZM621.6 62.7L625.7 59.9L621.5 57.2L617.4 60.1ZM630.0 62.8L634.0 60.1L629.8 57.3L625.7 59.9ZM638.3 63.1L642.3 60.7L638.0 57.6L634.0 60.1ZM642.3 60.7L646.2 58.3L642.0 55.2L638.0 57.6ZM650.6 61.5L654.5 59.4L650.2 56.1L646.2 58.3ZM654.5 59.4L658.3 57.3L654.0 54.0L650.2 56.1ZM662.7 60.7L666.5 58.8L662.1 55.3L658.3 57.3ZM666.5 58.8L670.2 57.0L665.9 53.5L662.1 55.3Z" fill="#81e600" stroke="#81e600" stroke-width="0.4"/>
<path d="M580.8 56.6L585.0 53.2L581.2 51.5L577.0 54.9ZM577.0 54.9L581.2 51.5L577.4 49.9L573.2 53.3ZM573.2 53.3L577.4 49.9L573.6 48.4L569.4 51.9ZM596.9 59.1L601.0 55.9L597.0 53.8L592.9 57.0ZM592.9 57.0L597.0 53.8L593.1 51.8L588.9 55.1ZM605.1 58.2L609.2 55.1L605.2 52.9L601.0 55.9ZM617.4 60.1L621.5 57.2L617.4 54.7L613.3 57.5ZM625.7 59.9L629.8 57.3L625.6 54.5L621.5 57.2ZM634.0 60.1L638.0 57.6L633.8 54.7L629.8 57.3ZM646.2 58.3L650.2 56.1L645.9 53.0L642.0 55.2ZM658.3 57.3L662.1 55.3L657.8 52.0L654.0 54.0Z" fill="#8fe600" stroke="#8fe600" stroke-width="0.4"/>
<path d="M569.4 51.9L573.6 48.4L569.9 47.0L565.7 50.5ZM588.9 55.1L593.1 51.8L589.2 50.0L585.0 53.2ZM585.0 53.2L589.2 50.0L585.3 48.2L581.2 51.5ZM601.0 55.9L605.2 52.9L601.2 50.7L597.0 53.8ZM613.3 57.5L617.4 54.7L613.3 52.2L609.2 55.1ZM609.2 55.1L613.3 52.2L609.3 49.9L605.2 52.9ZM621.5 57.2L625.6 54.5L621.5 51.9L617.4 54.7ZM629.8 57.3L633.8 54.7L629.6 52.0L625.6 54.5ZM638.0 57.6L642.0 55.2L637.8 52.3L633.8 54.7ZM642.0 55.2L645.9 53.0L641.7 50.0L637.8 52.3ZM650.2 56.1L654.0 54.0L649.8 50.8L645.9 53.0ZM662.1 55.3L665.9 53.5L661.6 50.1L657.8 52.0Z" fill="#9ee600" stroke="#9ee600" stroke-width="0.4"/>
<path d="M581.2 51.5L585.3 48.2L581.5 46.6L577.4 49.9ZM577.4 49.9L581.5 46.6L577.8 45.0L573.6 48.4ZM573.6 48.4L577.8 45.0L574.1 43.6L569.9 47.0ZM597.0 53.8L601.2 50.7L597.2 48.7L593.1 51.8ZM593.1 51.8L597.2 48.7L593.3 46.8L589.2 50.0ZM605.2 52.9L609.3 49.9L605.3 47.8L601.2 50.7ZM617.4 54.7L621.5 51.9L617.4 49.5L613.3 52.2ZM625.6 54.5L629.6 52.0L625.5 49.3L621.5 51.9ZM633.8 54.7L637.8 52.3L633.6 49.5L629.6 52.0ZM645.9 53.0L649.8 50.8L645.6 47.8L641.7 50.0ZM654.0 54.0L657.8 52.0L653.6 48.8L649.8 50.8ZM657.8 52.0L661.6 50.1L657.4 46.9L653.6 48.8Z" fill="#ace600" stroke="#ace600" stroke-width="0.4"/>
<path d="M589.2 50.0L593.3 46.8L589.5 45.0L585.3 48.2ZM585.3 48.2L589.5 45.0L585.7 43.4L581.5 46.6ZM581.5 46.6L585.7 43.4L581.9 41.8L577.8 45.0ZM601.2 50.7L605.3 47.8L601.3 45.7L597.2 48.7ZM597.2 48.7L601.3 45.7L597.4 43.8L593.3 46.8ZM613.3 52.2L617.4 49.5L613.3 47.1L609.3 49.9ZM609.3 49.9L613.3 47.1L609.3 44.9L605.3 47.8ZM621.5 51.9L625.5 49.3L621.4 46.8L617.4 49.5ZM629.6 52.0L633.6 49.5L629.5 46.8L625.5 49.3ZM637.8 52.3L641.7 50.0L637.5 47.2L633.6 49.5ZM641.7 50.0L645.6 47.8L641.4 45.0L637.5 47.2ZM649.8 50.8L653.6 48.8L649.4 45.8L645.6 47.8ZM653.6 48.8L657.4 46.9L653.2 43.8L649.4 45.8Z" fill="#bae600" stroke="#bae600" stroke-width="0.4"/>
<path d="M577.8 45.0L581.9 41.8L578.2 40.4L574.1 43.6ZM593.3 46.8L597.4 43.8L593.6 42.0L589.5 45.0ZM589.5 45.0L593.6 42.0L589.7 40.3L585.7 43.4ZM605.3 47.8L609.3 44.9L605.4 42.9L601.3 45.7ZM617.4 49.5L621.4 46.8L617.4 44.5L613.3 47.1ZM625.5 49.3L629.5 46.8L625.4 44.3L621.4 46.8ZM633.6 49.5L637.5 47.2L633.4 44.5L629.5 46.8ZM645.6 47.8L649.4 45.8L645.2 42.9L641.4 45.0Z" fill="#c9e600" stroke="#c9e600" stroke-width="0.4"/>
<path d="M585.7 43.4L589.7 40.3L586.0 38.8L581.9 41.8ZM581.9 41.8L586.0 38.8L582.2 37.3L578.2 40.4ZM601.3 45.7L605.4 42.9L601.5 40.9L597.4 43.8ZM597.4 43.8L601.5 40.9L597.6 39.1L593.6 42.0ZM613.3 47.1L617.4 44.5L613.4 42.2L609.3 44.9ZM609.3 44.9L613.4 42.2L609.4 40.1L605.4 42.9ZM621.4 46.8L625.4 44.3L621.3 41.9L617.4 44.5ZM629.5 46.8L633.4 44.5L629.3 41.9L625.4 44.3ZM637.5 47.2L641.4 45.0L637.3 42.2L633.4 44.5ZM641.4 45.0L645.2 42.9L641.1 40.1L637.3 42.2ZM649.4 45.8L653.2 43.8L649.0 40.9L645.2 42.9Z" fill="#d7e600" stroke="#d7e600" stroke-width="0.4"/>
<path d="M593.6 42.0L597.6 39.1L593.8 37.4L589.7 40.3ZM589.7 40.3L593.8 37.4L590.0 35.8L586.0 38.8ZM605.4 42.9L609.4 40.1L605.5 38.2L601.5 40.9ZM617.4 44.5L621.3 41.9L617.3 39.7L613.4 42.2ZM613.4 42.2L617.3 39.7L613.4 37.5L609.4 40.1ZM625.4 44.3L629.3 41.9L625.3 39.5L621.3 41.9ZM633.4 44.5L637.3 42.2L633.2 39.7L629.3 41.9ZM637.3 42.2L641.1 40.1L637.0 37.5L633.2 39.7ZM645.2 42.9L649.0 40.9L644.9 38.1L641.1 40.1Z" fill="#e6e600" stroke="#e6e600" stroke-width="0.4"/>
<path d="M586.0 38.8L590.0 35.8L586.3 34.3L582.2 37.3ZM601.5 40.9L605.5 38.2L601.6 36.3L597.6 39.1ZM597.6 39.1L601.6 36.3L597.8 34.6L593.8 37.4ZM609.4 40.1L613.4 37.5L609.4 35.5L605.5 38.2ZM621.3 41.9L625.3 39.5L621.3 37.2L617.3 39.7ZM617.3 39.7L621.3 37.2L617.3 35.1L613.4 37.5ZM629.3 41.9L633.2 39.7L629.1 37.2L625.3 39.5ZM633.2 39.7L637.0 37.5L633.0 35.0L629.1 37.2ZM641.1 40.1L644.9 38.1L640.8 35.5L637.0 37.5Z" fill="#e6d700" stroke="#e6d700" stroke-width="0.4"/>
<path d="M593.8 37.4L597.8 34.6L594.0 33.0L590.0 35.8ZM590.0 35.8L594.0 33.0L590.3 31.5L586.3 34.3ZM605.5 38.2L609.4 35.5L605.6 33.7L601.6 36.3ZM601.6 36.3L605.6 33.7L601.8 31.9L597.8 34.6ZM613.4 37.5L617.3 35.1L613.4 33.0L609.4 35.5ZM625.3 39.5L629.1 37.2L625.1 34.9L621.3 37.2ZM621.3 37.2L625.1 34.9L621.2 32.7L617.3 35.1ZM629.1 37.2L633.0 35.0L629.0 32.7L625.1 34.9ZM637.0 37.5L640.8 35.5L636.8 33.0L633.0 35.0Z" fill="#e6c900" stroke="#e6c900" stroke-width="0.4"/>
<path d="M597.8 34.6L601.8 31.9L598.0 30.3L594.0 33.0ZM594.0 33.0L598.0 30.3L594.2 28.8L590.3 31.5ZM609.4 35.5L613.4 33.0L609.5 31.1L605.6 33.7ZM605.6 33.7L609.5 31.1L605.7 29.4L601.8 31.9ZM617.3 35.1L621.2 32.7L617.3 30.7L613.4 33.0ZM625.1 34.9L629.0 32.7L625.0 30.5L621.2 32.7ZM633.0 35.0L636.8 33.0L632.8 30.6L629.0 32.7Z" fill="#e6ba00" stroke="#e6ba00" stroke-width="0.4"/>
<path d="M601.8 31.9L605.7 29.4L601.9 27.7L598.0 30.3ZM598.0 30.3L601.9 27.7L598.1 26.2L594.2 28.8ZM613.4 33.0L617.3 30.7L613.4 28.7L609.5 31.1ZM621.2 32.7L625.0 30.5L621.1 28.4L617.3 30.7ZM629.0 32.7L632.8 30.6L628.8 28.4L625.0 30.5Z" fill="#e6ac00" stroke="#e6ac00" stroke-width="0.4"/>
<path d="M609.5 31.1L613.4 28.7L609.6 27.0L605.7 29.4ZM605.7 29.4L609.6 27.0L605.8 25.3L601.9 27.7ZM617.3 30.7L621.1 28.4L617.2 26.5L613.4 28.7ZM625.0 30.5L628.8 28.4L624.9 26.3L621.1 28.4Z" fill="#e69e00" stroke="#e69e00" stroke-width="0.4"/>
<path d="M601.9 27.7L605.8 25.3L602.0 23.7L598.1 26.2ZM613.4 28.7L617.2 26.5L613.4 24.7L609.6 27.0ZM609.6 27.0L613.4 24.7L609.6 23.0L605.8 25.3ZM621.1 28.4L624.9 26.3L621.0 24.3L617.2 26.5ZM617.2 26.5L621.0 24.3L617.2 22.5L613.4 24.7Z" fill="#e68f00" stroke="#e68f00" stroke-width="0.4"/>
<path d="M605.8 25.3L609.6 23.0L605.9 21.4L602.0 23.7ZM613.4 24.7L617.2 22.5L613.4 20.8L609.6 23.0Z" fill="#e68100" stroke="#e68100" stroke-width="0.4"/>
<path d="M609.6 23.0L613.4 20.8L609.7 19.2L605.9 21.4Z" fill="#e67300" stroke="#e67300" stroke-width="0.4"/>
<path d="M608.5 131.6L602.3 127.3L596.2 123.2L590.3 119.3L584.4 115.7L578.6 112.2L573.0 109.0L567.4 105.9L562.0 103.1L556.6 100.4L551.4 98.0L546.2 95.7L541.1 93.6L536.2 91.7L531.3 89.9L526.5 88.3M608.5 131.6L614.7 126.3L620.9 121.3L627.0 116.5L632.9 112.0L638.8 107.7L644.6 103.7L650.3 99.8L655.9 96.2L661.4 92.8L666.8 89.7L672.1 86.7L677.3 84.0L682.4 81.4L687.4 79.1L692.4 76.9M610.8 129.6L604.6 125.2L598.6 121.1L592.6 117.2L586.7 113.5L581.0 110.0L575.3 106.8L569.8 103.7L564.3 100.8L558.9 98.2L553.7 95.7L548.5 93.4L543.4 91.2L538.4 89.3L533.5 87.5L528.7 85.9M606.1 130.0L612.4 124.6L618.6 119.6L624.6 114.8L630.6 110.2L636.5 105.9L642.3 101.8L648.0 97.9L653.6 94.3L659.1 90.9L664.5 87.7L669.8 84.7L675.0 81.9L680.1 79.3L685.2 76.9L690.1 74.7M613.2 127.6L607.0 123.2L600.9 119.1L595.0 115.1L589.1 111.4L583.3 107.9L577.7 104.6L572.1 101.5L566.6 98.6L561.2 95.9L556.0 93.4L550.8 91.1L545.7 88.9L540.7 86.9L535.8 85.1L531.0 83.5M603.8 128.3L610.1 123.0L616.3 117.9L622.3 113.1L628.3 108.4L634.2 104.1L640.0 100.0L645.7 96.1L651.3 92.4L656.8 88.9L662.2 85.7L667.5 82.7L672.7 79.9L677.9 77.2L682.9 74.8L687.9 72.6M615.5 125.7L609.3 121.3L603.3 117.1L597.3 113.1L591.4 109.3L585.6 105.8L580.0 102.5L574.4 99.3L568.9 96.4L563.5 93.7L558.3 91.1L553.1 88.8L548.0 86.6L543.0 84.6L538.0 82.8L533.2 81.2M601.5 126.8L607.8 121.4L614.0 116.2L620.0 111.4L626.0 106.7L631.9 102.3L637.7 98.2L643.4 94.2L649.0 90.5L654.5 87.0L659.9 83.8L665.2 80.7L670.5 77.9L675.6 75.2L680.7 72.8L685.6 70.5M617.8 123.8L611.6 119.3L605.6 115.1L599.6 111.1L593.7 107.3L587.9 103.7L582.3 100.3L576.7 97.2L571.2 94.2L565.8 91.5L560.5 88.9L555.3 86.6L550.2 84.4L545.2 82.4L540.3 80.5L535.4 78.9M599.2 125.2L605.5 119.8L611.7 114.6L617.7 109.7L623.7 105.0L629.6 100.6L635.4 96.4L641.1 92.4L646.7 88.7L652.2 85.2L657.6 81.9L663.0 78.8L668.2 75.9L673.4 73.2L678.4 70.8L683.4 68.5M620.1 121.9L614.0 117.4L607.9 113.1L601.9 109.1L596.0 105.3L590.2 101.7L584.6 98.3L579.0 95.1L573.5 92.1L568.1 89.3L562.8 86.8L557.6 84.4L552.5 82.2L547.4 80.1L542.5 78.3L537.7 76.6M597.0 123.7L603.2 118.2L609.4 113.0L615.5 108.1L621.4 103.4L627.3 98.9L633.1 94.7L638.8 90.7L644.4 86.9L649.9 83.3L655.4 80.0L660.7 76.9L666.0 74.0L671.1 71.3L676.2 68.8L681.2 66.5M622.4 120.1L616.2 115.6L610.2 111.2L604.2 107.2L598.3 103.3L592.5 99.7L586.8 96.2L581.3 93.0L575.8 90.0L570.4 87.2L565.1 84.6L559.8 82.2L554.7 80.0L549.7 77.9L544.7 76.1L539.9 74.4M594.7 122.2L601.0 116.7L607.1 111.5L613.2 106.5L619.2 101.7L625.1 97.2L630.9 93.0L636.6 88.9L642.2 85.1L647.7 81.5L653.1 78.2L658.5 75.0L663.7 72.1L668.9 69.4L674.0 66.8L679.0 64.5M624.7 118.3L618.5 113.7L612.4 109.4L606.5 105.3L600.6 101.4L594.8 97.7L589.1 94.2L583.5 91.0L578.0 88.0L572.6 85.1L567.3 82.5L562.1 80.1L556.9 77.8L551.9 75.8L546.9 73.9L542.1 72.2M592.5 120.8L598.7 115.2L604.9 109.9L611.0 104.9L616.9 100.1L622.8 95.6L628.6 91.3L634.3 87.2L639.9 83.4L645.5 79.8L650.9 76.4L656.2 73.2L661.5 70.2L666.7 67.5L671.8 64.9L676.8 62.6M627.0 116.5L620.8 111.9L614.7 107.5L608.7 103.4L602.8 99.5L597.1 95.8L591.4 92.3L585.8 89.0L580.3 86.0L574.8 83.1L569.5 80.5L564.3 78.0L559.2 75.7L554.1 73.7L549.2 71.8L544.3 70.1M590.3 119.3L596.5 113.8L602.7 108.5L608.7 103.4L614.7 98.6L620.6 94.0L626.4 89.7L632.1 85.6L637.7 81.7L643.2 78.0L648.7 74.6L654.0 71.4L659.3 68.4L664.5 65.6L669.6 63.1L674.6 60.7M629.2 114.8L623.0 110.2L617.0 105.7L611.0 101.6L605.1 97.6L599.3 93.9L593.6 90.4L588.0 87.1L582.5 84.0L577.1 81.1L571.8 78.4L566.5 76.0L561.4 73.7L556.3 71.6L551.3 69.7L546.5 68.0M588.0 117.9L594.3 112.3L600.4 107.0L606.5 101.9L612.5 97.0L618.4 92.4L624.2 88.1L629.9 83.9L635.5 80.0L641.0 76.4L646.5 72.9L651.8 69.7L657.1 66.7L662.3 63.8L667.4 61.2L672.4 58.8M631.5 113.1L625.3 108.4L619.2 104.0L613.2 99.8L607.3 95.8L601.5 92.0L595.8 88.5L590.2 85.1L584.7 82.0L579.3 79.1L574.0 76.4L568.7 73.9L563.6 71.6L558.5 69.5L553.5 67.6L548.6 65.9M585.9 116.6L592.1 110.9L598.2 105.6L604.3 100.4L610.3 95.5L616.2 90.9L622.0 86.5L627.7 82.3L633.3 78.4L638.8 74.7L644.3 71.2L649.6 68.0L654.9 64.9L660.1 62.1L665.2 59.4L670.2 57.0M633.7 111.5L627.5 106.7L621.4 102.2L615.4 98.0L609.6 94.0L603.8 90.2L598.1 86.6L592.4 83.3L586.9 80.1L581.5 77.2L576.2 74.5L570.9 72.0L565.8 69.6L560.7 67.5L555.7 65.6L550.8 63.8M583.7 115.2L589.9 109.6L596.1 104.2L602.1 99.0L608.1 94.1L614.0 89.4L619.8 85.0L625.5 80.8L631.1 76.8L636.6 73.1L642.1 69.6L647.4 66.3L652.7 63.2L657.9 60.3L663.0 57.7L668.1 55.2M635.9 109.8L629.7 105.1L623.6 100.5L617.7 96.3L611.8 92.2L606.0 88.4L600.3 84.8L594.7 81.4L589.1 78.2L583.7 75.3L578.4 72.6L573.1 70.0L567.9 67.7L562.9 65.5L557.9 63.6L553.0 61.8M581.5 113.9L587.7 108.2L593.9 102.8L599.9 97.6L605.9 92.6L611.8 87.9L617.6 83.5L623.3 79.3L628.9 75.3L634.5 71.5L639.9 68.0L645.3 64.7L650.6 61.5L655.7 58.7L660.9 56.0L665.9 53.5M638.1 108.2L631.9 103.4L625.8 98.9L619.9 94.6L614.0 90.5L608.2 86.6L602.5 83.0L596.8 79.6L591.3 76.4L585.9 73.4L580.5 70.7L575.3 68.1L570.1 65.8L565.0 63.6L560.0 61.6L555.1 59.8M579.4 112.7L585.6 106.9L591.7 101.4L597.8 96.2L603.7 91.2L609.6 86.5L615.4 82.0L621.1 77.8L626.7 73.8L632.3 70.0L637.7 66.4L643.1 63.0L648.4 59.9L653.6 57.0L658.7 54.3L663.8 51.8M640.3 106.7L634.1 101.8L628.0 97.2L622.0 92.9L616.2 88.8L610.4 84.9L604.6 81.2L599.0 77.8L593.5 74.6L588.1 71.6L582.7 68.8L577.5 66.2L572.3 63.9L567.2 61.7L562.2 59.7L557.3 57.9M577.2 111.4L583.4 105.6L589.6 100.1L595.6 94.9L601.6 89.9L607.5 85.1L613.3 80.6L619.0 76.3L624.6 72.3L630.1 68.4L635.6 64.9L641.0 61.5L646.2 58.3L651.5 55.4L656.6 52.7L661.6 50.1M642.4 105.2L636.3 100.3L630.2 95.6L624.2 91.3L618.3 87.1L612.5 83.2L606.8 79.5L601.2 76.1L595.7 72.8L590.2 69.8L584.9 67.0L579.6 64.4L574.4 62.0L569.3 59.8L564.3 57.8L559.4 56.0M575.1 110.2L581.3 104.4L587.4 98.8L593.5 93.6L599.4 88.5L605.3 83.7L611.1 79.2L616.8 74.9L622.4 70.8L628.0 67.0L633.4 63.3L638.8 60.0L644.1 56.8L649.3 53.8L654.4 51.0L659.5 48.5M644.6 103.7L638.4 98.7L632.4 94.1L626.4 89.7L620.5 85.5L614.7 81.5L609.0 77.8L603.4 74.3L597.8 71.1L592.4 68.0L587.0 65.2L581.8 62.6L576.6 60.2L571.5 58.0L566.5 56.0L561.5 54.1M573.0 109.0L579.2 103.2L585.3 97.6L591.4 92.3L597.3 87.2L603.2 82.4L609.0 77.8L614.7 73.5L620.3 69.4L625.9 65.5L631.3 61.9L636.7 58.5L642.0 55.2L647.2 52.3L652.3 49.5L657.4 46.9M646.7 102.2L640.6 97.2L634.5 92.6L628.5 88.1L622.6 83.9L616.8 79.9L611.1 76.2L605.5 72.7L600.0 69.4L594.5 66.3L589.2 63.5L583.9 60.8L578.7 58.4L573.6 56.2L568.6 54.1L563.6 52.3M570.9 107.8L577.1 102.0L583.2 96.4L589.3 91.0L595.2 85.9L601.1 81.1L606.9 76.5L612.6 72.1L618.2 68.0L623.7 64.1L629.2 60.4L634.6 57.0L639.9 53.8L645.1 50.7L650.2 47.9L655.3 45.3M648.9 100.8L642.7 95.8L636.6 91.1L630.7 86.6L624.8 82.3L619.0 78.3L613.3 74.6L607.6 71.0L602.1 67.7L596.7 64.6L591.3 61.7L586.0 59.1L580.8 56.6L575.7 54.4L570.7 52.3L565.7 50.5M568.8 106.7L575.0 100.8L581.1 95.2L587.2 89.8L593.1 84.7L599.0 79.8L604.8 75.2L610.5 70.8L616.1 66.7L621.6 62.7L627.1 59.0L632.5 55.6L637.8 52.3L643.0 49.3L648.1 46.4L653.2 43.8M651.0 99.4L644.8 94.4L638.8 89.6L632.8 85.1L626.9 80.8L621.1 76.8L615.4 73.0L609.8 69.4L604.2 66.1L598.8 63.0L593.4 60.1L588.1 57.4L582.9 54.9L577.8 52.7L572.8 50.6L567.8 48.7M566.8 105.6L572.9 99.7L579.0 94.0L585.1 88.6L591.0 83.5L596.9 78.6L602.7 73.9L608.4 69.5L614.0 65.3L619.5 61.4L625.0 57.7L630.4 54.2L635.7 50.9L640.9 47.8L646.0 45.0L651.1 42.3M653.1 98.0L646.9 92.9L640.9 88.1L634.9 83.6L629.0 79.3L623.2 75.2L617.5 71.4L611.9 67.8L606.3 64.5L600.9 61.3L595.5 58.4L590.2 55.7L585.0 53.2L579.9 50.9L574.9 48.9L569.9 47.0M564.7 104.5L570.9 98.6L577.0 92.9L583.0 87.5L588.9 82.3L594.8 77.4L600.6 72.7L606.3 68.2L611.9 64.0L617.4 60.1L622.9 56.3L628.3 52.8L633.6 49.5L638.8 46.4L644.0 43.6L649.0 40.9M655.2 96.7L649.0 91.6L643.0 86.7L637.0 82.2L631.1 77.8L625.3 73.7L619.6 69.9L614.0 66.3L608.4 62.9L603.0 59.7L597.6 56.8L592.3 54.1L587.1 51.6L582.0 49.3L577.0 47.2L572.0 45.3M562.7 103.4L568.8 97.5L574.9 91.8L580.9 86.3L586.9 81.1L592.7 76.2L598.5 71.5L604.2 67.0L609.8 62.8L615.4 58.8L620.8 55.0L626.2 51.5L631.5 48.2L636.7 45.1L641.9 42.2L647.0 39.5M657.2 95.4L651.1 90.2L645.1 85.4L639.1 80.8L633.2 76.4L627.4 72.3L621.7 68.4L616.1 64.8L610.5 61.4L605.1 58.2L599.7 55.2L594.4 52.5L589.2 50.0L584.1 47.6L579.0 45.5L574.1 43.6M560.6 102.4L566.8 96.4L572.9 90.7L578.9 85.2L584.8 80.0L590.7 75.0L596.5 70.3L602.2 65.8L607.8 61.6L613.3 57.5L618.8 53.8L624.2 50.2L629.5 46.8L634.7 43.7L639.8 40.8L644.9 38.1M659.3 94.1L653.2 88.9L647.1 84.0L641.2 79.4L635.3 75.0L629.5 70.9L623.8 66.9L618.2 63.3L612.6 59.8L607.2 56.6L601.8 53.7L596.5 50.9L591.3 48.4L586.1 46.0L581.1 43.9L576.1 42.0M558.6 101.4L564.8 95.4L570.9 89.7L576.9 84.2L582.8 78.9L588.6 73.9L594.4 69.2L600.1 64.6L605.7 60.4L611.3 56.3L616.7 52.5L622.1 48.9L627.4 45.6L632.6 42.4L637.8 39.5L642.9 36.8M661.4 92.8L655.2 87.7L649.2 82.7L643.2 78.0L637.4 73.6L631.6 69.5L625.9 65.5L620.2 61.8L614.7 58.4L609.2 55.1L603.8 52.1L598.5 49.4L593.3 46.8L588.2 44.5L583.1 42.3L578.2 40.4M556.6 100.4L562.8 94.4L568.9 88.6L574.8 83.1L580.8 77.8L586.6 72.8L592.4 68.0L598.1 63.5L603.7 59.2L609.2 55.1L614.7 51.3L620.1 47.7L625.4 44.3L630.6 41.2L635.8 38.2L640.8 35.5M663.4 91.6L657.3 86.4L651.2 81.4L645.3 76.7L639.4 72.3L633.6 68.1L627.9 64.1L622.3 60.4L616.7 56.9L611.3 53.7L605.9 50.7L600.6 47.9L595.4 45.3L590.2 42.9L585.2 40.8L580.2 38.8M554.6 99.5L560.8 93.4L566.9 87.6L572.8 82.1L578.8 76.8L584.6 71.8L590.4 67.0L596.0 62.4L601.7 58.1L607.2 54.0L612.7 50.1L618.0 46.5L623.3 43.1L628.6 39.9L633.7 37.0L638.8 34.2M665.4 90.4L659.3 85.2L653.3 80.2L647.3 75.5L641.5 71.0L635.7 66.8L630.0 62.8L624.3 59.0L618.8 55.5L613.3 52.2L607.9 49.2L602.6 46.4L597.4 43.8L592.3 41.4L587.2 39.3L582.2 37.3M552.7 98.6L558.8 92.5L564.9 86.7L570.9 81.1L576.8 75.8L582.6 70.7L588.4 65.9L594.0 61.3L599.6 57.0L605.2 52.9L610.6 49.0L616.0 45.4L621.3 41.9L626.6 38.7L631.7 35.7L636.8 33.0M667.4 89.3L661.3 84.0L655.3 79.0L649.3 74.2L643.5 69.7L637.7 65.4L632.0 61.4L626.4 57.7L620.8 54.1L615.4 50.8L610.0 47.8L604.7 45.0L599.5 42.3L594.3 40.0L589.2 37.8L584.3 35.8M550.7 97.7L556.8 91.6L562.9 85.7L568.9 80.1L574.8 74.8L580.6 69.7L586.4 64.9L592.0 60.3L597.6 55.9L603.2 51.8L608.6 47.9L614.0 44.2L619.3 40.8L624.5 37.6L629.7 34.6L634.8 31.8M669.4 88.2L663.3 82.8L657.3 77.8L651.4 73.0L645.5 68.5L639.7 64.2L634.0 60.1L628.4 56.3L622.8 52.8L617.4 49.5L612.0 46.4L606.7 43.5L601.5 40.9L596.3 38.5L591.3 36.3L586.3 34.3M548.8 96.8L554.9 90.7L560.9 84.8L566.9 79.2L572.8 73.8L578.6 68.7L584.4 63.9L590.1 59.3L595.7 54.9L601.2 50.7L606.6 46.8L612.0 43.1L617.3 39.7L622.6 36.4L627.7 33.4L632.8 30.6M671.4 87.1L665.3 81.7L659.3 76.6L653.4 71.8L647.5 67.2L641.7 62.9L636.0 58.9L630.4 55.1L624.9 51.5L619.4 48.1L614.0 45.0L608.7 42.2L603.5 39.5L598.3 37.1L593.3 34.9L588.3 32.9M546.8 96.0L552.9 89.8L559.0 83.9L564.9 78.3L570.8 72.9L576.7 67.8L582.4 62.9L588.1 58.3L593.7 53.9L599.2 49.7L604.7 45.8L610.0 42.1L615.3 38.6L620.6 35.3L625.7 32.3L630.8 29.5M673.4 86.0L667.3 80.6L661.3 75.5L655.4 70.7L649.5 66.1L643.7 61.7L638.0 57.6L632.4 53.8L626.9 50.2L621.4 46.8L616.0 43.7L610.7 40.8L605.5 38.2L600.3 35.7L595.3 33.5L590.3 31.5M544.9 95.1L551.0 89.0L557.1 83.1L563.0 77.4L568.9 72.0L574.7 66.9L580.4 62.0L586.1 57.3L591.7 52.9L597.2 48.7L602.7 44.8L608.1 41.0L613.4 37.5L618.6 34.3L623.8 31.2L628.8 28.4M675.3 85.0L669.3 79.6L663.3 74.4L657.3 69.5L651.5 64.9L645.7 60.5L640.0 56.4L634.4 52.6L628.9 48.9L623.4 45.6L618.0 42.4L612.7 39.5L607.5 36.8L602.3 34.4L597.2 32.1L592.3 30.1M543.0 94.4L549.1 88.2L555.1 82.2L561.1 76.6L567.0 71.1L572.8 66.0L578.5 61.1L584.2 56.4L589.8 51.9L595.3 47.7L600.7 43.8L606.1 40.0L611.4 36.5L616.6 33.2L621.8 30.2L626.9 27.3M677.3 84.0L671.2 78.5L665.2 73.3L659.3 68.4L653.4 63.8L647.7 59.4L642.0 55.2L636.4 51.4L630.8 47.7L625.4 44.3L620.0 41.2L614.7 38.2L609.4 35.5L604.3 33.1L599.2 30.8L594.2 28.8M541.1 93.6L547.2 87.4L553.2 81.4L559.2 75.7L565.0 70.3L570.8 65.1L576.6 60.2L582.2 55.5L587.8 51.0L593.3 46.8L598.8 42.8L604.1 39.1L609.4 35.5L614.7 32.2L619.8 29.1L624.9 26.3M679.2 83.0L673.1 77.5L667.2 72.3L661.2 67.4L655.4 62.7L649.6 58.3L643.9 54.1L638.3 50.2L632.8 46.5L627.3 43.1L622.0 39.9L616.6 37.0L611.4 34.3L606.3 31.8L601.2 29.5L596.2 27.5M539.3 92.8L545.3 86.6L551.3 80.7L557.3 74.9L563.1 69.5L568.9 64.3L574.6 59.3L580.3 54.6L585.9 50.1L591.4 45.9L596.8 41.9L602.2 38.1L607.5 34.6L612.7 31.3L617.9 28.2L623.0 25.3M681.1 82.0L675.1 76.5L669.1 71.3L663.2 66.3L657.3 61.6L651.6 57.2L645.9 53.0L640.3 49.1L634.8 45.4L629.3 41.9L623.9 38.7L618.6 35.8L613.4 33.0L608.2 30.5L603.1 28.3L598.1 26.2M537.4 92.1L543.4 85.9L549.4 79.9L555.4 74.2L561.2 68.7L567.0 63.5L572.7 58.5L578.4 53.8L584.0 49.3L589.5 45.0L594.9 41.0L600.3 37.2L605.6 33.7L610.8 30.3L616.0 27.2L621.0 24.3M683.0 81.1L677.0 75.6L671.0 70.3L665.1 65.3L659.3 60.6L653.5 56.1L647.8 51.9L642.2 47.9L636.7 44.2L631.2 40.8L625.9 37.6L620.6 34.6L615.3 31.8L610.2 29.3L605.1 27.0L600.1 25.0M535.5 91.4L541.6 85.2L547.6 79.2L553.5 73.4L559.3 67.9L565.1 62.7L570.8 57.7L576.5 53.0L582.1 48.5L587.6 44.2L593.0 40.2L598.4 36.4L603.7 32.8L608.9 29.4L614.0 26.3L619.1 23.4M684.9 80.2L678.9 74.6L672.9 69.3L667.0 64.3L661.2 59.6L655.5 55.1L649.8 50.8L644.2 46.9L638.6 43.1L633.2 39.7L627.8 36.4L622.5 33.4L617.3 30.7L612.1 28.1L607.0 25.8L602.0 23.7M533.7 90.8L539.7 84.5L545.7 78.5L551.6 72.7L557.5 67.2L563.2 61.9L568.9 56.9L574.6 52.2L580.2 47.7L585.7 43.4L591.1 39.3L596.5 35.5L601.8 31.9L607.0 28.6L612.1 25.4L617.2 22.5M686.8 79.3L680.8 73.7L674.8 68.4L668.9 63.4L663.1 58.6L657.4 54.1L651.7 49.8L646.1 45.8L640.6 42.1L635.1 38.6L629.7 35.3L624.4 32.3L619.2 29.5L614.0 27.0L609.0 24.7L603.9 22.6M531.9 90.1L537.9 83.8L543.9 77.8L549.8 72.0L555.6 66.5L561.4 61.2L567.1 56.2L572.7 51.4L578.3 46.9L583.8 42.6L589.2 38.5L594.6 34.7L599.9 31.1L605.1 27.7L610.2 24.6L615.3 21.6M688.7 78.5L682.7 72.9L676.7 67.5L670.8 62.4L665.0 57.6L659.3 53.1L653.6 48.8L648.0 44.8L642.5 41.0L637.0 37.5L631.6 34.2L626.3 31.2L621.1 28.4L616.0 25.8L610.9 23.5L605.9 21.4M530.1 89.5L536.1 83.2L542.0 77.1L547.9 71.3L553.8 65.8L559.5 60.5L565.2 55.5L570.8 50.7L576.4 46.1L581.9 41.8L587.3 37.8L592.7 33.9L598.0 30.3L603.2 26.9L608.3 23.7L613.4 20.8M690.5 77.7L684.5 72.0L678.6 66.7L672.7 61.6L666.9 56.7L661.2 52.2L655.5 47.8L649.9 43.8L644.4 40.0L638.9 36.5L633.6 33.2L628.3 30.1L623.0 27.3L617.9 24.7L612.8 22.4L607.8 20.3M528.3 88.9L534.3 82.6L540.2 76.5L546.1 70.7L551.9 65.1L557.7 59.8L563.4 54.8L569.0 50.0L574.5 45.4L580.0 41.1L585.4 37.0L590.8 33.2L596.1 29.5L601.3 26.1L606.5 22.9L611.5 20.0M692.4 76.9L686.4 71.2L680.4 65.8L674.6 60.7L668.8 55.8L663.0 51.2L657.4 46.9L651.8 42.8L646.3 39.0L640.8 35.5L635.5 32.2L630.2 29.1L624.9 26.3L619.8 23.7L614.7 21.3L609.7 19.2M526.5 88.3L532.5 82.0L538.4 75.9L544.3 70.1L550.1 64.5L555.8 59.2L561.5 54.1L567.1 49.3L572.7 44.7L578.2 40.4L583.6 36.3L588.9 32.4L594.2 28.8L599.4 25.4L604.6 22.2L609.7 19.2" fill="none" stroke="#000" stroke-opacity="0.75" stroke-width="0.6"/>
<path d="M529.5 144.3L523.4 33.0L609.7 14.2L694.0 33.0L689.8 144.3" fill="none" stroke="#555" stroke-width="0.9"/>
<text x="486.1" y="19.7" class="pl">c)</text>
<text x="520.6" y="39.6" class="tk" text-anchor="end" textLength="7.52" lengthAdjust="spacingAndGlyphs">2.5</text>
<text x="521.4" y="60.1" class="tk" text-anchor="end" textLength="13.54" lengthAdjust="spacingAndGlyphs">2.025</text>
<path d="M523.3 53.8H524.8" stroke="#222" stroke-width="0.9"/>
<text x="522.3" y="81.8" class="tk" text-anchor="end" textLength="10.53" lengthAdjust="spacingAndGlyphs">1.55</text>
<path d="M524.5 75.5H526.0" stroke="#222" stroke-width="0.9"/>
<text x="523.1" y="102.0" class="tk" text-anchor="end" textLength="13.54" lengthAdjust="spacingAndGlyphs">1.075</text>
<path d="M525.6 95.8H527.1" stroke="#222" stroke-width="0.9"/>
<text x="523.9" y="123.6" class="tk" text-anchor="end" textLength="7.52" lengthAdjust="spacingAndGlyphs">0.6</text>
<path d="M526.8 117.4H528.3" stroke="#222" stroke-width="0.9"/>
<text x="518.6" y="150.7" class="tk" text-anchor="middle" textLength="13.54" lengthAdjust="spacingAndGlyphs">1.000</text>
<text x="538.3" y="160.1" class="tk" text-anchor="middle" textLength="13.54" lengthAdjust="spacingAndGlyphs">0.500</text>
<text x="558.0" y="169.4" class="tk" text-anchor="middle" textLength="13.54" lengthAdjust="spacingAndGlyphs">0.000</text>
<text x="577.8" y="178.8" class="tk" text-anchor="middle" textLength="13.54" lengthAdjust="spacingAndGlyphs">0.500</text>
<text x="597.5" y="188.2" class="tk" text-anchor="middle" textLength="15.34" lengthAdjust="spacingAndGlyphs">-1.000</text>
<text x="619.9" y="187.9" class="tk" text-anchor="middle" textLength="15.34" lengthAdjust="spacingAndGlyphs">-1.000</text>
<text x="640.0" y="178.7" class="tk" text-anchor="middle" textLength="15.34" lengthAdjust="spacingAndGlyphs">-0.500</text>
<text x="660.1" y="169.6" class="tk" text-anchor="middle" textLength="13.54" lengthAdjust="spacingAndGlyphs">0.000</text>
<text x="680.3" y="160.4" class="tk" text-anchor="middle" textLength="13.54" lengthAdjust="spacingAndGlyphs">0.500</text>
<text x="700.4" y="151.2" class="tk" text-anchor="middle" textLength="13.54" lengthAdjust="spacingAndGlyphs">1.000</text>
<text x="535.2" y="187.6" class="tt" text-anchor="middle" textLength="72.3" lengthAdjust="spacingAndGlyphs">D: Extract Percent</text>
<text x="680.4" y="182.0" class="tt" text-anchor="middle" textLength="47.2" lengthAdjust="spacingAndGlyphs">A: Ag Conc.</text>
<text x="502.4" y="90.5" class="tt" text-anchor="middle" style="font-size:10px;fill:#222" transform="rotate(-90 502.4 90.5)">A</text>
<path d="M609.3 61.5V69.6" stroke="#222" stroke-width="0.8"/>
<circle cx="609.3" cy="61.5" r="1.4" fill="#b00606" stroke="#500" stroke-width="0.3"/>
<circle cx="609.3" cy="64.0" r="1.4" fill="#b00606" stroke="#500" stroke-width="0.3"/>
<circle cx="609.3" cy="67.0" r="1.4" fill="#e8c0cc" stroke="#500" stroke-width="0.3"/>
<path d="M48.9 364.7L128.8 404.3L209.0 363.9L129.0 333.4Z" fill="#ffff00" stroke="#3a3a20" stroke-width="0.8"/>
<path d="M149.7 393.9L147.3 394.3L144.3 394.8L140.9 395.4L138.6 395.7L135.1 396.2L132.7 396.4L129.0 396.8L126.4 397.0L123.7 397.2L120.3 397.4L117.1 397.6L115.5 397.6M206.8 363.2L204.9 364.5L203.4 365.5L201.3 366.8L199.2 368.1L197.5 369.1L195.2 370.4L192.8 371.6L190.4 372.8L187.8 374.1L185.8 375.0L183.1 376.1L180.2 377.3L178.0 378.2L175.0 379.3L172.6 380.1L169.4 381.1L166.9 381.9L164.3 382.7L161.6 383.4L158.9 384.1L156.1 384.8L153.2 385.4L150.2 386.0L147.2 386.6L144.5 387.1L141.8 387.5L138.5 388.0L136.2 388.3L132.7 388.7L130.3 388.9L127.2 389.2L124.0 389.4L121.3 389.6L118.6 389.7L115.8 389.8L112.9 389.8L110.0 389.8L107.0 389.8L103.8 389.7L100.6 389.5L98.9 389.4M197.1 359.5L195.7 360.4L193.6 361.7L192.0 362.6L189.8 363.9L187.5 365.1L185.1 366.3L182.6 367.5L180.0 368.6L177.3 369.8L175.2 370.6L172.3 371.7L170.1 372.5L167.0 373.5L164.6 374.3L162.1 375.0L159.5 375.7L156.7 376.4L154.0 377.1L151.4 377.6L148.5 378.2L145.5 378.8L142.4 379.3L140.3 379.6L137.0 380.0L134.5 380.3L131.2 380.7L128.8 380.9L125.9 381.1L122.7 381.3L119.9 381.4L117.1 381.4L114.3 381.4L111.3 381.4L108.6 381.3L106.0 381.2L103.5 381.0L100.0 380.8L97.7 380.5L94.5 380.2L92.2 379.9L89.1 379.4L86.1 378.8L83.7 378.4L81.1 377.8L78.3 377.1L75.4 376.3L73.0 375.6L70.7 374.8L67.8 373.8L65.3 372.8M58.3 369.3L56.2 368.0L54.2 366.6L52.9 365.6L51.6 364.5L50.9 363.8M186.0 355.2L183.9 356.4L182.3 357.3L180.1 358.5L177.8 359.7L175.4 360.8L172.8 361.9L170.4 362.9L168.1 363.8L165.2 364.8L162.9 365.5L160.5 366.3L157.4 367.2L154.8 367.8L152.2 368.4L149.5 369.0L146.7 369.6L144.3 370.0L141.8 370.4L138.7 370.9L136.4 371.2L133.3 371.5L131.0 371.7L127.9 371.9L124.9 372.1L122.3 372.2L119.6 372.2L116.8 372.2L113.9 372.1L111.4 372.0L109.1 371.9L105.8 371.6L103.5 371.3L100.3 370.9L98.2 370.6L95.4 370.1L92.7 369.6L90.1 369.0L87.6 368.3L84.5 367.4L82.3 366.6L79.6 365.6L77.0 364.4L74.7 363.2L72.6 362.0L71.1 361.0L69.3 359.7L68.1 358.6L67.1 357.5M171.9 349.8L170.4 350.7L168.2 351.8L165.8 352.9L163.3 354.0L160.7 355.0L158.7 355.7L155.8 356.6L153.5 357.3L151.1 357.9L148.6 358.5L146.0 359.1L143.3 359.6L140.4 360.1L137.9 360.4L135.3 360.7L132.8 360.9L129.7 361.1L127.2 361.2L124.6 361.2L121.9 361.2L119.2 361.1L117.0 361.0L114.1 360.7L111.7 360.4L108.9 360.0L106.2 359.5L103.7 358.9L101.4 358.2L98.5 357.3L96.6 356.5L94.8 355.7L92.7 354.5L91.3 353.5L89.9 352.4L88.9 351.4L88.0 350.3L87.5 349.5" fill="none" stroke="#5ee030" stroke-width="0.75"/>
<path d="M129.0 333.4L128.7 234.9" stroke="#555" stroke-width="0.9"/>
<path d="M128.9 355.5L133.6 351.1L128.9 345.7L124.1 350.1Z" fill="#00e648" stroke="#00e648" stroke-width="0.4"/>
<path d="M124.1 350.1L128.9 345.7L124.2 340.5L119.5 344.9ZM133.6 351.1L138.2 346.9L133.5 341.5L128.9 345.7ZM138.2 346.9L142.8 343.0L138.1 337.5L133.5 341.5Z" fill="#00e639" stroke="#00e639" stroke-width="0.4"/>
<path d="M119.5 344.9L124.2 340.5L119.6 335.6L114.8 340.0ZM128.9 345.7L133.5 341.5L128.8 336.3L124.2 340.5ZM142.8 343.0L147.4 339.2L142.7 333.8L138.1 337.5Z" fill="#00e62b" stroke="#00e62b" stroke-width="0.4"/>
<path d="M114.8 340.0L119.6 335.6L115.0 331.0L110.3 335.4ZM124.2 340.5L128.8 336.3L124.2 331.4L119.6 335.6ZM133.5 341.5L138.1 337.5L133.5 332.3L128.8 336.3ZM138.1 337.5L142.7 333.8L138.0 328.6L133.5 332.3ZM147.4 339.2L151.9 335.7L147.2 330.2L142.7 333.8ZM151.9 335.7L156.3 332.3L151.6 326.8L147.2 330.2Z" fill="#00e61d" stroke="#00e61d" stroke-width="0.4"/>
<path d="M110.3 335.4L115.0 331.0L110.5 326.6L105.7 331.0ZM119.6 335.6L124.2 331.4L119.7 326.8L115.0 331.0ZM128.8 336.3L133.5 332.3L128.8 327.4L124.2 331.4ZM142.7 333.8L147.2 330.2L142.5 325.0L138.0 328.6ZM156.3 332.3L160.6 329.2L156.0 323.7L151.6 326.8Z" fill="#00e60e" stroke="#00e60e" stroke-width="0.4"/>
<path d="M105.7 331.0L110.5 326.6L106.0 322.5L101.3 326.9ZM101.3 326.9L106.0 322.5L101.6 318.7L96.9 323.1ZM96.9 323.1L101.6 318.7L97.2 315.1L92.5 319.5ZM92.5 319.5L97.2 315.1L92.9 311.8L88.2 316.2ZM88.2 316.2L92.9 311.8L88.7 308.8L84.0 313.1ZM84.0 313.1L88.7 308.8L84.5 306.0L79.8 310.3ZM79.8 310.3L84.5 306.0L80.4 303.4L75.7 307.7ZM75.7 307.7L80.4 303.4L76.3 301.1L71.6 305.4ZM115.0 331.0L119.7 326.8L115.1 322.4L110.5 326.6ZM110.5 326.6L115.1 322.4L110.7 318.3L106.0 322.5ZM106.0 322.5L110.7 318.3L106.3 314.5L101.6 318.7ZM101.6 318.7L106.3 314.5L101.9 310.9L97.2 315.1ZM97.2 315.1L101.9 310.9L97.6 307.7L92.9 311.8ZM92.9 311.8L97.6 307.7L93.3 304.6L88.7 308.8ZM124.2 331.4L128.8 327.4L124.3 322.8L119.7 326.8ZM119.7 326.8L124.3 322.8L119.8 318.4L115.1 322.4ZM115.1 322.4L119.8 318.4L115.3 314.3L110.7 318.3ZM110.7 318.3L115.3 314.3L110.9 310.5L106.3 314.5ZM106.3 314.5L110.9 310.5L106.5 307.0L101.9 310.9ZM101.9 310.9L106.5 307.0L102.2 303.7L97.6 307.7ZM133.5 332.3L138.0 328.6L133.4 323.6L128.8 327.4ZM128.8 327.4L133.4 323.6L128.8 319.0L124.3 322.8ZM124.3 322.8L128.8 319.0L124.3 314.7L119.8 318.4ZM119.8 318.4L124.3 314.7L119.9 310.6L115.3 314.3ZM115.3 314.3L119.9 310.6L115.4 306.8L110.9 310.5ZM138.0 328.6L142.5 325.0L137.9 320.1L133.4 323.6ZM133.4 323.6L137.9 320.1L133.3 315.4L128.8 319.0ZM128.8 319.0L133.3 315.4L128.8 311.1L124.3 314.7ZM124.3 314.7L128.8 311.1L124.4 307.0L119.9 310.6ZM147.2 330.2L151.6 326.8L147.0 321.6L142.5 325.0ZM142.5 325.0L147.0 321.6L142.4 316.7L137.9 320.1ZM137.9 320.1L142.4 316.7L137.8 312.1L133.3 315.4ZM133.3 315.4L137.8 312.1L133.3 307.7L128.8 311.1ZM128.8 311.1L133.3 307.7L128.8 303.6L124.4 307.0ZM151.6 326.8L156.0 323.7L151.3 318.5L147.0 321.6ZM147.0 321.6L151.3 318.5L146.7 313.5L142.4 316.7ZM142.4 316.7L146.7 313.5L142.2 308.9L137.8 312.1ZM137.8 312.1L142.2 308.9L137.7 304.5L133.3 307.7ZM160.6 329.2L165.0 326.2L160.3 320.7L156.0 323.7ZM156.0 323.7L160.3 320.7L155.7 315.5L151.3 318.5ZM151.3 318.5L155.7 315.5L151.1 310.5L146.7 313.5ZM146.7 313.5L151.1 310.5L146.5 305.9L142.2 308.9ZM165.0 326.2L169.2 323.5L164.6 317.9L160.3 320.7ZM160.3 320.7L164.6 317.9L159.9 312.7L155.7 315.5ZM155.7 315.5L159.9 312.7L155.4 307.7L151.1 310.5ZM151.1 310.5L155.4 307.7L150.8 303.1L146.5 305.9ZM169.2 323.5L173.4 320.9L168.8 315.4L164.6 317.9ZM164.6 317.9L168.8 315.4L164.2 310.1L159.9 312.7ZM159.9 312.7L164.2 310.1L159.6 305.1L155.4 307.7ZM155.4 307.7L159.6 305.1L155.1 300.5L150.8 303.1ZM173.4 320.9L177.5 318.5L172.9 313.0L168.8 315.4ZM168.8 315.4L172.9 313.0L168.3 307.7L164.2 310.1ZM164.2 310.1L168.3 307.7L163.8 302.7L159.6 305.1ZM177.5 318.5L181.6 316.3L177.0 310.7L172.9 313.0ZM172.9 313.0L177.0 310.7L172.4 305.5L168.3 307.7ZM168.3 307.7L172.4 305.5L167.9 300.5L163.8 302.7ZM181.6 316.3L185.6 314.3L181.0 308.7L177.0 310.7ZM177.0 310.7L181.0 308.7L176.4 303.4L172.4 305.5ZM172.4 305.5L176.4 303.4L171.9 298.4L167.9 300.5ZM185.6 314.3L189.5 312.5L185.0 306.9L181.0 308.7ZM181.0 308.7L185.0 306.9L180.4 301.6L176.4 303.4ZM176.4 303.4L180.4 301.6L175.9 296.5L171.9 298.4ZM189.5 312.5L193.4 310.8L188.9 305.2L185.0 306.9ZM185.0 306.9L188.9 305.2L184.4 299.9L180.4 301.6ZM180.4 301.6L184.4 299.9L179.9 294.8L175.9 296.5ZM193.4 310.8L197.3 309.3L192.7 303.7L188.9 305.2ZM188.9 305.2L192.7 303.7L188.2 298.3L184.4 299.9ZM197.3 309.3L201.0 308.0L196.5 302.3L192.7 303.7ZM192.7 303.7L196.5 302.3L192.0 297.0L188.2 298.3ZM201.0 308.0L204.7 306.8L200.3 301.2L196.5 302.3ZM196.5 302.3L200.3 301.2L195.8 295.8L192.0 297.0ZM204.7 306.8L208.4 305.8L203.9 300.1L200.3 301.2ZM200.3 301.2L203.9 300.1L199.5 294.8L195.8 295.8ZM195.8 295.8L199.5 294.8L195.0 289.7L191.3 290.7ZM208.4 305.8L212.0 305.0L207.5 299.3L203.9 300.1ZM203.9 300.1L207.5 299.3L203.1 293.9L199.5 294.8ZM199.5 294.8L203.1 293.9L198.7 288.8L195.0 289.7Z" fill="#00e600" stroke="#00e600" stroke-width="0.4"/>
<path d="M71.6 305.4L76.3 301.1L72.3 299.1L67.6 303.3ZM67.6 303.3L72.3 299.1L68.3 297.2L63.7 301.5ZM63.7 301.5L68.3 297.2L64.5 295.6L59.8 299.8ZM59.8 299.8L64.5 295.6L60.6 294.3L56.0 298.4ZM56.0 298.4L60.6 294.3L56.9 293.1L52.2 297.3ZM52.2 297.3L56.9 293.1L53.2 292.2L48.6 296.3ZM48.6 296.3L53.2 292.2L49.5 291.5L44.9 295.6ZM88.7 308.8L93.3 304.6L89.1 301.8L84.5 306.0ZM84.5 306.0L89.1 301.8L85.0 299.3L80.4 303.4ZM80.4 303.4L85.0 299.3L80.9 297.0L76.3 301.1ZM97.6 307.7L102.2 303.7L97.9 300.7L93.3 304.6ZM110.9 310.5L115.4 306.8L111.1 303.2L106.5 307.0ZM106.5 307.0L111.1 303.2L106.8 299.9L102.2 303.7ZM119.9 310.6L124.4 307.0L120.0 303.2L115.4 306.8ZM115.4 306.8L120.0 303.2L115.6 299.6L111.1 303.2ZM124.4 307.0L128.8 303.6L124.4 299.8L120.0 303.2ZM133.3 307.7L137.7 304.5L133.2 300.4L128.8 303.6ZM142.2 308.9L146.5 305.9L142.0 301.5L137.7 304.5ZM146.5 305.9L150.8 303.1L146.3 298.7L142.0 301.5ZM159.6 305.1L163.8 302.7L159.2 298.0L155.1 300.5ZM163.8 302.7L167.9 300.5L163.4 295.8L159.2 298.0ZM167.9 300.5L171.9 298.4L167.4 293.7L163.4 295.8ZM184.4 299.9L188.2 298.3L183.7 293.3L179.9 294.8ZM188.2 298.3L192.0 297.0L187.6 291.9L183.7 293.3ZM192.0 297.0L195.8 295.8L191.3 290.7L187.6 291.9Z" fill="#0ee600" stroke="#0ee600" stroke-width="0.4"/>
<path d="M76.3 301.1L80.9 297.0L76.9 295.0L72.3 299.1ZM72.3 299.1L76.9 295.0L73.0 293.2L68.3 297.2ZM68.3 297.2L73.0 293.2L69.1 291.6L64.5 295.6ZM64.5 295.6L69.1 291.6L65.2 290.3L60.6 294.3ZM60.6 294.3L65.2 290.3L61.4 289.2L56.9 293.1ZM56.9 293.1L61.4 289.2L57.7 288.3L53.2 292.2ZM53.2 292.2L57.7 288.3L54.1 287.7L49.5 291.5ZM93.3 304.6L97.9 300.7L93.7 297.9L89.1 301.8ZM89.1 301.8L93.7 297.9L89.6 295.4L85.0 299.3ZM85.0 299.3L89.6 295.4L85.5 293.1L80.9 297.0ZM102.2 303.7L106.8 299.9L102.5 296.9L97.9 300.7ZM97.9 300.7L102.5 296.9L98.3 294.2L93.7 297.9ZM111.1 303.2L115.6 299.6L111.3 296.4L106.8 299.9ZM120.0 303.2L124.4 299.8L120.1 296.3L115.6 299.6ZM128.8 303.6L133.2 300.4L128.8 296.6L124.4 299.8ZM137.7 304.5L142.0 301.5L137.6 297.4L133.2 300.4ZM142.0 301.5L146.3 298.7L141.9 294.6L137.6 297.4ZM150.8 303.1L155.1 300.5L150.6 296.1L146.3 298.7ZM155.1 300.5L159.2 298.0L154.8 293.7L150.6 296.1ZM159.2 298.0L163.4 295.8L158.9 291.4L154.8 293.7ZM171.9 298.4L175.9 296.5L171.4 291.8L167.4 293.7ZM175.9 296.5L179.9 294.8L175.4 290.1L171.4 291.8ZM179.9 294.8L183.7 293.3L179.3 288.6L175.4 290.1ZM183.7 293.3L187.6 291.9L183.1 287.2L179.3 288.6ZM187.6 291.9L191.3 290.7L186.9 286.0L183.1 287.2ZM191.3 290.7L195.0 289.7L190.6 284.9L186.9 286.0ZM195.0 289.7L198.7 288.8L194.3 284.0L190.6 284.9Z" fill="#1de600" stroke="#1de600" stroke-width="0.4"/>
<path d="M80.9 297.0L85.5 293.1L81.5 291.1L76.9 295.0ZM76.9 295.0L81.5 291.1L77.5 289.3L73.0 293.2ZM73.0 293.2L77.5 289.3L73.6 287.8L69.1 291.6ZM69.1 291.6L73.6 287.8L69.8 286.5L65.2 290.3ZM65.2 290.3L69.8 286.5L66.0 285.4L61.4 289.2ZM61.4 289.2L66.0 285.4L62.3 284.6L57.7 288.3ZM57.7 288.3L62.3 284.6L58.6 284.0L54.1 287.7ZM93.7 297.9L98.3 294.2L94.2 291.7L89.6 295.4ZM89.6 295.4L94.2 291.7L90.1 289.4L85.5 293.1ZM62.3 284.6L66.7 281.0L63.1 280.4L58.6 284.0ZM106.8 299.9L111.3 296.4L107.0 293.4L102.5 296.9ZM102.5 296.9L107.0 293.4L102.8 290.6L98.3 294.2ZM115.6 299.6L120.1 296.3L115.7 293.0L111.3 296.4ZM111.3 296.4L115.7 293.0L111.5 290.0L107.0 293.4ZM124.4 299.8L128.8 296.6L124.5 293.1L120.1 296.3ZM120.1 296.3L124.5 293.1L120.2 289.8L115.7 293.0ZM133.2 300.4L137.6 297.4L133.2 293.6L128.8 296.6ZM128.8 296.6L133.2 293.6L128.8 290.1L124.5 293.1ZM137.6 297.4L141.9 294.6L137.5 290.8L133.2 293.6ZM146.3 298.7L150.6 296.1L146.1 292.0L141.9 294.6ZM150.6 296.1L154.8 293.7L150.3 289.5L146.1 292.0ZM154.8 293.7L158.9 291.4L154.5 287.3L150.3 289.5ZM163.4 295.8L167.4 293.7L163.0 289.3L158.9 291.4ZM167.4 293.7L171.4 291.8L167.0 287.4L163.0 289.3ZM171.4 291.8L175.4 290.1L171.0 285.7L167.0 287.4ZM175.4 290.1L179.3 288.6L174.9 284.1L171.0 285.7ZM179.3 288.6L183.1 287.2L178.7 282.7L174.9 284.1ZM183.1 287.2L186.9 286.0L182.5 281.5L178.7 282.7ZM186.9 286.0L190.6 284.9L186.3 280.5L182.5 281.5ZM190.6 284.9L194.3 284.0L189.9 279.5L186.3 280.5Z" fill="#2be600" stroke="#2be600" stroke-width="0.4"/>
<path d="M85.5 293.1L90.1 289.4L86.0 287.4L81.5 291.1ZM81.5 291.1L86.0 287.4L82.1 285.7L77.5 289.3ZM77.5 289.3L82.1 285.7L78.1 284.2L73.6 287.8ZM73.6 287.8L78.1 284.2L74.3 282.9L69.8 286.5ZM69.8 286.5L74.3 282.9L70.5 281.9L66.0 285.4ZM66.0 285.4L70.5 281.9L66.7 281.0L62.3 284.6ZM98.3 294.2L102.8 290.6L98.7 288.1L94.2 291.7ZM94.2 291.7L98.7 288.1L94.6 285.9L90.1 289.4ZM90.1 289.4L94.6 285.9L90.5 283.9L86.0 287.4ZM66.7 281.0L71.2 277.7L67.5 277.1L63.1 280.4ZM107.0 293.4L111.5 290.0L107.3 287.3L102.8 290.6ZM102.8 290.6L107.3 287.3L103.1 284.8L98.7 288.1ZM115.7 293.0L120.2 289.8L115.9 286.8L111.5 290.0ZM124.5 293.1L128.8 290.1L124.5 286.8L120.2 289.8ZM133.2 293.6L137.5 290.8L133.1 287.3L128.8 290.1ZM141.9 294.6L146.1 292.0L141.7 288.2L137.5 290.8ZM137.5 290.8L141.7 288.2L137.4 284.6L133.1 287.3ZM146.1 292.0L150.3 289.5L145.9 285.7L141.7 288.2ZM150.3 289.5L154.5 287.3L150.1 283.5L145.9 285.7ZM158.9 291.4L163.0 289.3L158.6 285.2L154.5 287.3ZM163.0 289.3L167.0 287.4L162.6 283.3L158.6 285.2ZM167.0 287.4L171.0 285.7L166.6 281.6L162.6 283.3ZM171.0 285.7L174.9 284.1L170.5 280.0L166.6 281.6ZM174.9 284.1L178.7 282.7L174.3 278.6L170.5 280.0ZM178.7 282.7L182.5 281.5L178.2 277.4L174.3 278.6ZM182.5 281.5L186.3 280.5L181.9 276.3L178.2 277.4ZM186.3 280.5L189.9 279.5L185.6 275.4L181.9 276.3Z" fill="#39e600" stroke="#39e600" stroke-width="0.4"/>
<path d="M86.0 287.4L90.5 283.9L86.5 282.2L82.1 285.7ZM82.1 285.7L86.5 282.2L82.6 280.7L78.1 284.2ZM78.1 284.2L82.6 280.7L78.8 279.5L74.3 282.9ZM74.3 282.9L78.8 279.5L74.9 278.5L70.5 281.9ZM70.5 281.9L74.9 278.5L71.2 277.7L66.7 281.0ZM98.7 288.1L103.1 284.8L99.0 282.6L94.6 285.9ZM94.6 285.9L99.0 282.6L95.0 280.6L90.5 283.9ZM90.5 283.9L95.0 280.6L91.0 278.9L86.5 282.2ZM86.5 282.2L91.0 278.9L87.0 277.4L82.6 280.7ZM82.6 280.7L87.0 277.4L83.2 276.2L78.8 279.5ZM78.8 279.5L83.2 276.2L79.4 275.2L74.9 278.5ZM74.9 278.5L79.4 275.2L75.6 274.5L71.2 277.7ZM71.2 277.7L75.6 274.5L71.9 273.9L67.5 277.1ZM111.5 290.0L115.9 286.8L111.7 284.1L107.3 287.3ZM107.3 287.3L111.7 284.1L107.5 281.6L103.1 284.8ZM120.2 289.8L124.5 286.8L120.3 283.8L115.9 286.8ZM115.9 286.8L120.3 283.8L116.0 281.1L111.7 284.1ZM128.8 290.1L133.1 287.3L128.8 284.0L124.5 286.8ZM124.5 286.8L128.8 284.0L124.6 281.0L120.3 283.8ZM133.1 287.3L137.4 284.6L133.1 281.4L128.8 284.0ZM141.7 288.2L145.9 285.7L141.6 282.2L137.4 284.6ZM145.9 285.7L150.1 283.5L145.7 279.9L141.6 282.2ZM154.5 287.3L158.6 285.2L154.2 281.4L150.1 283.5ZM158.6 285.2L162.6 283.3L158.2 279.5L154.2 281.4ZM162.6 283.3L166.6 281.6L162.2 277.7L158.2 279.5ZM166.6 281.6L170.5 280.0L166.1 276.1L162.2 277.7ZM170.5 280.0L174.3 278.6L170.0 274.7L166.1 276.1ZM174.3 278.6L178.2 277.4L173.8 273.5L170.0 274.7ZM178.2 277.4L181.9 276.3L177.6 272.4L173.8 273.5ZM181.9 276.3L185.6 275.4L181.3 271.5L177.6 272.4Z" fill="#48e600" stroke="#48e600" stroke-width="0.4"/>
<path d="M103.1 284.8L107.5 281.6L103.4 279.4L99.0 282.6ZM99.0 282.6L103.4 279.4L99.4 277.5L95.0 280.6ZM95.0 280.6L99.4 277.5L95.4 275.8L91.0 278.9ZM91.0 278.9L95.4 275.8L91.4 274.4L87.0 277.4ZM87.0 277.4L91.4 274.4L87.6 273.1L83.2 276.2ZM83.2 276.2L87.6 273.1L83.7 272.2L79.4 275.2ZM79.4 275.2L83.7 272.2L80.0 271.5L75.6 274.5ZM75.6 274.5L80.0 271.5L76.3 271.0L71.9 273.9ZM111.7 284.1L116.0 281.1L111.9 278.7L107.5 281.6ZM107.5 281.6L111.9 278.7L107.8 276.5L103.4 279.4ZM120.3 283.8L124.6 281.0L120.4 278.3L116.0 281.1ZM116.0 281.1L120.4 278.3L116.2 275.9L111.9 278.7ZM128.8 284.0L133.1 281.4L128.8 278.4L124.6 281.0ZM124.6 281.0L128.8 278.4L124.6 275.7L120.4 278.3ZM137.4 284.6L141.6 282.2L137.3 278.9L133.1 281.4ZM133.1 281.4L137.3 278.9L133.0 276.0L128.8 278.4ZM141.6 282.2L145.7 279.9L141.4 276.7L137.3 278.9ZM150.1 283.5L154.2 281.4L149.8 277.8L145.7 279.9ZM145.7 279.9L149.8 277.8L145.6 274.6L141.4 276.7ZM154.2 281.4L158.2 279.5L153.9 275.9L149.8 277.8ZM158.2 279.5L162.2 277.7L157.9 274.2L153.9 275.9ZM162.2 277.7L166.1 276.1L161.8 272.6L157.9 274.2ZM166.1 276.1L170.0 274.7L165.7 271.2L161.8 272.6ZM170.0 274.7L173.8 273.5L169.5 269.9L165.7 271.2ZM173.8 273.5L177.6 272.4L173.3 268.8L169.5 269.9ZM177.6 272.4L181.3 271.5L177.0 267.9L173.3 268.8Z" fill="#56e600" stroke="#56e600" stroke-width="0.4"/>
<path d="M103.4 279.4L107.8 276.5L103.7 274.6L99.4 277.5ZM99.4 277.5L103.7 274.6L99.7 272.9L95.4 275.8ZM95.4 275.8L99.7 272.9L95.8 271.4L91.4 274.4ZM91.4 274.4L95.8 271.4L91.9 270.3L87.6 273.1ZM87.6 273.1L91.9 270.3L88.1 269.3L83.7 272.2ZM83.7 272.2L88.1 269.3L84.3 268.6L80.0 271.5ZM80.0 271.5L84.3 268.6L80.6 268.1L76.3 271.0ZM111.9 278.7L116.2 275.9L112.1 273.7L107.8 276.5ZM120.4 278.3L124.6 275.7L120.5 273.3L116.2 275.9ZM128.8 278.4L133.0 276.0L128.8 273.3L124.6 275.7ZM137.3 278.9L141.4 276.7L137.2 273.7L133.0 276.0ZM149.8 277.8L153.9 275.9L149.6 272.7L145.6 274.6ZM153.9 275.9L157.9 274.2L153.6 270.9L149.6 272.7Z" fill="#64e600" stroke="#64e600" stroke-width="0.4"/>
<path d="M107.8 276.5L112.1 273.7L108.0 271.8L103.7 274.6ZM103.7 274.6L108.0 271.8L104.0 270.1L99.7 272.9ZM88.1 269.3L92.3 266.6L88.6 265.9L84.3 268.6ZM84.3 268.6L88.6 265.9L84.8 265.5L80.6 268.1ZM116.2 275.9L120.5 273.3L116.3 271.1L112.1 273.7ZM124.6 275.7L128.8 273.3L124.7 270.8L120.5 273.3ZM133.0 276.0L137.2 273.7L133.0 271.0L128.8 273.3ZM141.4 276.7L145.6 274.6L141.3 271.6L137.2 273.7ZM145.6 274.6L149.6 272.7L145.4 269.7L141.3 271.6ZM157.9 274.2L161.8 272.6L157.5 269.3L153.6 270.9ZM161.8 272.6L165.7 271.2L161.4 267.9L157.5 269.3ZM165.7 271.2L169.5 269.9L165.3 266.6L161.4 267.9ZM169.5 269.9L173.3 268.8L169.1 265.5L165.3 266.6ZM173.3 268.8L177.0 267.9L172.8 264.6L169.1 265.5Z" fill="#73e600" stroke="#73e600" stroke-width="0.4"/>
<path d="M99.7 272.9L104.0 270.1L100.1 268.7L95.8 271.4ZM95.8 271.4L100.1 268.7L96.2 267.5L91.9 270.3ZM91.9 270.3L96.2 267.5L92.3 266.6L88.1 269.3ZM112.1 273.7L116.3 271.1L112.3 269.2L108.0 271.8ZM108.0 271.8L112.3 269.2L108.3 267.5L104.0 270.1ZM92.3 266.6L96.6 264.1L92.8 263.4L88.6 265.9ZM88.6 265.9L92.8 263.4L89.1 263.0L84.8 265.5ZM120.5 273.3L124.7 270.8L120.6 268.7L116.3 271.1ZM128.8 273.3L133.0 271.0L128.8 268.6L124.7 270.8ZM137.2 273.7L141.3 271.6L137.1 268.9L133.0 271.0ZM149.6 272.7L153.6 270.9L149.4 267.9L145.4 269.7ZM153.6 270.9L157.5 269.3L153.3 266.3L149.4 267.9ZM157.5 269.3L161.4 267.9L157.2 264.9L153.3 266.3Z" fill="#81e600" stroke="#81e600" stroke-width="0.4"/>
<path d="M104.0 270.1L108.3 267.5L104.3 266.1L100.1 268.7ZM100.1 268.7L104.3 266.1L100.4 265.0L96.2 267.5ZM96.2 267.5L100.4 265.0L96.6 264.1L92.3 266.6ZM116.3 271.1L120.6 268.7L116.5 266.8L112.3 269.2ZM112.3 269.2L116.5 266.8L112.5 265.1L108.3 267.5ZM96.6 264.1L100.8 261.7L97.0 261.1L92.8 263.4ZM92.8 263.4L97.0 261.1L93.2 260.7L89.1 263.0ZM124.7 270.8L128.8 268.6L124.7 266.4L120.6 268.7ZM133.0 271.0L137.1 268.9L132.9 266.5L128.8 268.6ZM141.3 271.6L145.4 269.7L141.2 267.0L137.1 268.9ZM145.4 269.7L149.4 267.9L145.2 265.2L141.2 267.0ZM161.4 267.9L165.3 266.6L161.1 263.7L157.2 264.9ZM165.3 266.6L169.1 265.5L164.9 262.6L161.1 263.7ZM169.1 265.5L172.8 264.6L168.6 261.6L164.9 262.6Z" fill="#8fe600" stroke="#8fe600" stroke-width="0.4"/>
<path d="M108.3 267.5L112.5 265.1L108.5 263.8L104.3 266.1ZM104.3 266.1L108.5 263.8L104.6 262.6L100.4 265.0ZM100.4 265.0L104.6 262.6L100.8 261.7L96.6 264.1ZM120.6 268.7L124.7 266.4L120.7 264.5L116.5 266.8ZM116.5 266.8L120.7 264.5L116.6 262.9L112.5 265.1ZM100.8 261.7L104.9 259.5L101.1 258.9L97.0 261.1ZM97.0 261.1L101.1 258.9L97.4 258.5L93.2 260.7ZM128.8 268.6L132.9 266.5L128.8 264.3L124.7 266.4ZM137.1 268.9L141.2 267.0L137.0 264.6L132.9 266.5ZM141.2 267.0L145.2 265.2L141.0 262.8L137.0 264.6ZM149.4 267.9L153.3 266.3L149.1 263.6L145.2 265.2ZM153.3 266.3L157.2 264.9L153.0 262.2L149.1 263.6ZM157.2 264.9L161.1 263.7L156.9 261.0L153.0 262.2ZM161.1 263.7L164.9 262.6L160.7 259.8L156.9 261.0ZM164.9 262.6L168.6 261.6L164.4 258.9L160.7 259.8Z" fill="#9ee600" stroke="#9ee600" stroke-width="0.4"/>
<path d="M112.5 265.1L116.6 262.9L112.7 261.5L108.5 263.8ZM108.5 263.8L112.7 261.5L108.8 260.4L104.6 262.6ZM104.6 262.6L108.8 260.4L104.9 259.5L100.8 261.7ZM124.7 266.4L128.8 264.3L124.8 262.5L120.7 264.5ZM120.7 264.5L124.8 262.5L120.8 260.8L116.6 262.9ZM116.6 262.9L120.8 260.8L116.8 259.5L112.7 261.5ZM108.8 260.4L112.9 258.4L109.0 257.5L104.9 259.5ZM104.9 259.5L109.0 257.5L105.2 256.9L101.1 258.9ZM101.1 258.9L105.2 256.9L101.5 256.5L97.4 258.5ZM132.9 266.5L137.0 264.6L132.9 262.4L128.8 264.3ZM128.8 264.3L132.9 262.4L128.8 260.5L124.8 262.5ZM105.2 256.9L109.3 255.1L105.5 254.7L101.5 256.5ZM137.0 264.6L141.0 262.8L136.9 260.7L132.9 262.4ZM145.2 265.2L149.1 263.6L145.0 261.2L141.0 262.8ZM149.1 263.6L153.0 262.2L148.9 259.8L145.0 261.2ZM153.0 262.2L156.9 261.0L152.7 258.5L148.9 259.8ZM156.9 261.0L160.7 259.8L156.6 257.4L152.7 258.5ZM160.7 259.8L164.4 258.9L160.3 256.5L156.6 257.4Z" fill="#ace600" stroke="#ace600" stroke-width="0.4"/>
<path d="M112.7 261.5L116.8 259.5L112.9 258.4L108.8 260.4ZM124.8 262.5L128.8 260.5L124.8 258.9L120.8 260.8ZM120.8 260.8L124.8 258.9L120.9 257.6L116.8 259.5ZM116.8 259.5L120.9 257.6L116.9 256.5L112.9 258.4ZM112.9 258.4L116.9 256.5L113.1 255.6L109.0 257.5ZM109.0 257.5L113.1 255.6L109.3 255.1L105.2 256.9ZM132.9 262.4L136.9 260.7L132.8 258.8L128.8 260.5ZM128.8 260.5L132.8 258.8L128.8 257.2L124.8 258.9ZM109.3 255.1L113.3 253.4L109.5 253.0L105.5 254.7ZM141.0 262.8L145.0 261.2L140.9 259.1L136.9 260.7ZM136.9 260.7L140.9 259.1L136.8 257.2L132.8 258.8ZM145.0 261.2L148.9 259.8L144.8 257.7L140.9 259.1ZM148.9 259.8L152.7 258.5L148.7 256.4L144.8 257.7ZM152.7 258.5L156.6 257.4L152.5 255.3L148.7 256.4ZM156.6 257.4L160.3 256.5L156.2 254.3L152.5 255.3Z" fill="#bae600" stroke="#bae600" stroke-width="0.4"/>
<path d="M124.8 258.9L128.8 257.2L124.9 255.9L120.9 257.6ZM120.9 257.6L124.9 255.9L121.0 254.8L116.9 256.5ZM116.9 256.5L121.0 254.8L117.1 253.9L113.1 255.6ZM113.1 255.6L117.1 253.9L113.3 253.4L109.3 255.1ZM132.8 258.8L136.8 257.2L132.8 255.6L128.8 257.2ZM128.8 257.2L132.8 255.6L128.8 254.3L124.9 255.9ZM124.9 255.9L128.8 254.3L124.9 253.2L121.0 254.8ZM121.0 254.8L124.9 253.2L121.1 252.4L117.1 253.9ZM117.1 253.9L121.1 252.4L117.2 251.8L113.3 253.4ZM113.3 253.4L117.2 251.8L113.5 251.5L109.5 253.0ZM140.9 259.1L144.8 257.7L140.7 255.8L136.8 257.2ZM136.8 257.2L140.7 255.8L136.7 254.2L132.8 255.6ZM132.8 255.6L136.7 254.2L132.8 252.9L128.8 254.3ZM128.8 254.3L132.8 252.9L128.8 251.8L124.9 253.2ZM124.9 253.2L128.8 251.8L125.0 251.0L121.1 252.4ZM121.1 252.4L125.0 251.0L121.2 250.4L117.2 251.8ZM117.2 251.8L121.2 250.4L117.4 250.1L113.5 251.5ZM144.8 257.7L148.7 256.4L144.6 254.5L140.7 255.8ZM140.7 255.8L144.6 254.5L140.6 252.9L136.7 254.2ZM136.7 254.2L140.6 252.9L136.6 251.6L132.8 252.9ZM132.8 252.9L136.6 251.6L132.7 250.6L128.8 251.8ZM128.8 251.8L132.7 250.6L128.8 249.7L125.0 251.0ZM125.0 251.0L128.8 249.7L125.0 249.2L121.2 250.4ZM121.2 250.4L125.0 249.2L121.3 248.9L117.4 250.1ZM148.7 256.4L152.5 255.3L148.4 253.4L144.6 254.5ZM144.6 254.5L148.4 253.4L144.4 251.8L140.6 252.9ZM140.6 252.9L144.4 251.8L140.5 250.5L136.6 251.6ZM136.6 251.6L140.5 250.5L136.5 249.4L132.7 250.6ZM132.7 250.6L136.5 249.4L132.7 248.7L128.8 249.7ZM128.8 249.7L132.7 248.7L128.9 248.1L125.0 249.2ZM125.0 249.2L128.9 248.1L125.1 247.8L121.3 248.9ZM152.5 255.3L156.2 254.3L152.2 252.5L148.4 253.4ZM148.4 253.4L152.2 252.5L148.2 250.9L144.4 251.8ZM144.4 251.8L148.2 250.9L144.2 249.5L140.5 250.5ZM140.5 250.5L144.2 249.5L140.3 248.5L136.5 249.4ZM136.5 249.4L140.3 248.5L136.5 247.7L132.7 248.7ZM132.7 248.7L136.5 247.7L132.6 247.2L128.9 248.1ZM128.9 248.1L132.6 247.2L128.9 246.9L125.1 247.8Z" fill="#c9e600" stroke="#c9e600" stroke-width="0.4"/>
<path d="M128.9 355.5L122.6 348.3L116.4 341.6L110.3 335.4L104.2 329.6L98.3 324.3L92.5 319.5L86.8 315.1L81.2 311.2L75.7 307.7L70.3 304.7L65.0 302.0L59.8 299.8L54.7 298.0L49.8 296.6L44.9 295.6M128.9 355.5L135.1 349.7L141.3 344.3L147.4 339.2L153.3 334.5L159.2 330.2L165.0 326.2L170.6 322.6L176.1 319.3L181.6 316.3L186.9 313.7L192.1 311.3L197.3 309.3L202.3 307.6L207.2 306.1L212.0 305.0M131.2 353.3L124.9 346.1L118.7 339.4L112.6 333.1L106.6 327.4L100.7 322.1L94.9 317.3L89.2 312.9L83.5 309.0L78.0 305.5L72.6 302.5L67.3 299.9L62.1 297.7L57.1 295.9L52.1 294.5L47.2 293.5M126.5 352.7L132.8 346.9L138.9 341.5L145.0 336.5L151.0 331.8L156.9 327.4L162.6 323.4L168.3 319.8L173.8 316.5L179.3 313.5L184.6 310.8L189.9 308.5L195.0 306.5L200.0 304.7L204.9 303.3L209.8 302.1M133.6 351.1L127.3 343.9L121.1 337.2L115.0 331.0L109.0 325.2L103.0 319.9L97.2 315.1L91.5 310.8L85.9 306.9L80.4 303.4L75.0 300.4L69.7 297.8L64.5 295.6L59.4 293.9L54.4 292.5L49.5 291.5M124.1 350.1L130.4 344.2L136.6 338.8L142.7 333.8L148.6 329.1L154.5 324.7L160.3 320.7L166.0 317.1L171.5 313.7L177.0 310.7L182.3 308.1L187.6 305.7L192.7 303.7L197.8 301.9L202.7 300.5L207.5 299.3M135.9 349.0L129.6 341.8L123.4 335.1L117.3 328.8L111.3 323.1L105.4 317.8L99.6 313.0L93.8 308.7L88.2 304.8L82.7 301.3L77.3 298.3L72.0 295.8L66.8 293.6L61.7 291.9L56.7 290.5L51.8 289.6M121.8 347.4L128.1 341.6L134.3 336.2L140.3 331.1L146.3 326.4L152.2 322.1L158.0 318.1L163.7 314.4L169.2 311.1L174.7 308.1L180.1 305.4L185.3 303.0L190.5 301.0L195.5 299.2L200.5 297.7L205.3 296.6M138.2 346.9L132.0 339.7L125.8 333.0L119.7 326.8L113.6 321.0L107.7 315.7L101.9 310.9L96.2 306.6L90.5 302.7L85.0 299.3L79.6 296.3L74.3 293.8L69.1 291.6L64.0 289.9L59.0 288.6L54.1 287.7M119.5 344.9L125.7 339.1L131.9 333.6L138.0 328.6L144.0 323.8L149.9 319.5L155.7 315.5L161.4 311.8L166.9 308.5L172.4 305.5L177.8 302.8L183.1 300.4L188.2 298.3L193.3 296.6L198.2 295.1L203.1 293.9M140.5 344.9L134.3 337.7L128.1 331.0L122.0 324.8L116.0 319.0L110.0 313.7L104.2 308.9L98.5 304.6L92.8 300.7L87.3 297.3L81.9 294.4L76.6 291.8L71.3 289.7L66.2 288.0L61.2 286.7L56.3 285.8M117.1 342.4L123.4 336.6L129.6 331.1L135.7 326.1L141.7 321.4L147.6 317.0L153.4 313.0L159.1 309.3L164.6 306.0L170.1 302.9L175.5 300.2L180.8 297.9L186.0 295.8L191.0 294.0L196.0 292.5L200.9 291.3M142.8 343.0L136.6 335.8L130.4 329.0L124.3 322.8L118.3 317.0L112.3 311.8L106.5 307.0L100.8 302.7L95.1 298.8L89.6 295.4L84.2 292.4L78.8 289.9L73.6 287.8L68.5 286.1L63.5 284.8L58.6 284.0M114.8 340.0L121.1 334.2L127.3 328.7L133.4 323.6L139.4 318.9L145.3 314.6L151.1 310.5L156.8 306.9L162.4 303.5L167.9 300.5L173.3 297.8L178.5 295.4L183.7 293.3L188.8 291.5L193.8 290.0L198.7 288.8M145.1 341.1L138.8 333.8L132.7 327.1L126.6 320.9L120.5 315.1L114.6 309.9L108.8 305.1L103.1 300.8L97.4 296.9L91.9 293.5L86.5 290.6L81.1 288.0L75.9 286.0L70.8 284.3L65.7 283.0L60.8 282.2M112.5 337.6L118.8 331.8L125.0 326.4L131.1 321.3L137.1 316.6L143.0 312.2L148.8 308.2L154.5 304.5L160.1 301.1L165.6 298.1L171.0 295.4L176.3 293.0L181.5 290.9L186.6 289.1L191.6 287.6L196.5 286.4M147.4 339.2L141.1 332.0L134.9 325.3L128.8 319.0L122.8 313.3L116.9 308.0L111.1 303.2L105.3 298.9L99.7 295.1L94.2 291.7L88.7 288.7L83.4 286.2L78.1 284.2L73.0 282.5L68.0 281.3L63.1 280.4M110.3 335.4L116.5 329.5L122.7 324.1L128.8 319.0L134.8 314.3L140.7 309.9L146.5 305.9L152.3 302.2L157.9 298.8L163.4 295.8L168.8 293.1L174.1 290.7L179.3 288.6L184.4 286.8L189.4 285.3L194.3 284.0M149.6 337.4L143.4 330.2L137.2 323.4L131.1 317.2L125.1 311.4L119.2 306.2L113.3 301.4L107.6 297.1L102.0 293.3L96.4 289.9L91.0 287.0L85.6 284.5L80.4 282.4L75.2 280.8L70.2 279.6L65.3 278.8M108.0 333.1L114.3 327.3L120.5 321.9L126.6 316.8L132.6 312.1L138.5 307.7L144.3 303.7L150.0 300.0L155.6 296.6L161.1 293.6L166.5 290.8L171.9 288.4L177.1 286.3L182.2 284.5L187.2 283.0L192.1 281.7M151.9 335.7L145.6 328.4L139.4 321.7L133.3 315.4L127.3 309.7L121.4 304.4L115.6 299.6L109.8 295.3L104.2 291.5L98.7 288.1L93.2 285.2L87.9 282.8L82.6 280.7L77.5 279.1L72.4 277.9L67.5 277.1M105.7 331.0L112.0 325.2L118.2 319.7L124.3 314.7L130.3 309.9L136.2 305.5L142.0 301.5L147.8 297.8L153.4 294.4L158.9 291.4L164.3 288.7L169.6 286.2L174.9 284.1L180.0 282.3L185.0 280.8L189.9 279.5M154.1 334.0L147.8 326.7L141.7 320.0L135.6 313.7L129.6 308.0L123.7 302.7L117.8 297.9L112.1 293.6L106.4 289.8L100.9 286.5L95.4 283.5L90.1 281.1L84.8 279.1L79.7 277.5L74.6 276.3L69.7 275.5M103.5 328.9L109.8 323.1L116.0 317.7L122.1 312.6L128.1 307.9L134.0 303.5L139.8 299.4L145.5 295.7L151.2 292.4L156.7 289.3L162.1 286.6L167.4 284.1L172.7 282.0L177.8 280.2L182.8 278.7L187.8 277.4M156.3 332.3L150.0 325.1L143.9 318.3L137.8 312.1L131.8 306.3L125.9 301.0L120.1 296.3L114.3 292.0L108.7 288.2L103.1 284.8L97.7 281.9L92.3 279.5L87.0 277.4L81.9 275.9L76.8 274.7L71.9 273.9M101.3 326.9L107.6 321.1L113.8 315.7L119.9 310.6L125.9 305.8L131.8 301.5L137.6 297.4L143.3 293.7L148.9 290.3L154.5 287.3L159.9 284.6L165.2 282.1L170.5 280.0L175.6 278.2L180.7 276.6L185.6 275.4M158.5 330.7L152.2 323.5L146.1 316.7L140.0 310.4L134.0 304.7L128.1 299.4L122.3 294.7L116.5 290.4L110.9 286.5L105.3 283.2L99.9 280.3L94.5 277.9L89.2 275.9L84.1 274.3L79.0 273.2L74.1 272.4M99.1 324.9L105.3 319.1L111.5 313.7L117.6 308.6L123.6 303.9L129.6 299.5L135.4 295.5L141.1 291.8L146.7 288.4L152.3 285.3L157.7 282.6L163.1 280.2L168.3 278.0L173.5 276.2L178.5 274.6L183.5 273.4M160.6 329.2L154.4 321.9L148.3 315.1L142.2 308.9L136.2 303.1L130.3 297.9L124.5 293.1L118.7 288.8L113.1 285.0L107.5 281.6L102.1 278.8L96.7 276.3L91.4 274.4L86.3 272.8L81.2 271.7L76.3 271.0M96.9 323.1L103.1 317.3L109.3 311.8L115.4 306.8L121.4 302.0L127.4 297.7L133.2 293.6L138.9 289.9L144.6 286.5L150.1 283.5L155.5 280.7L160.9 278.3L166.1 276.1L171.3 274.3L176.3 272.8L181.3 271.5M162.8 327.7L156.6 320.4L150.4 313.6L144.4 307.4L138.4 301.6L132.5 296.3L126.7 291.6L120.9 287.3L115.3 283.5L109.7 280.1L104.2 277.3L98.9 274.9L93.6 272.9L88.4 271.3L83.4 270.2L78.4 269.5M94.7 321.2L101.0 315.5L107.1 310.0L113.2 305.0L119.3 300.2L125.2 295.9L131.0 291.8L136.7 288.1L142.4 284.7L147.9 281.7L153.4 278.9L158.7 276.5L164.0 274.3L169.1 272.5L174.2 270.9L179.2 269.6M165.0 326.2L158.7 318.9L152.6 312.2L146.5 305.9L140.6 300.1L134.6 294.9L128.8 290.1L123.1 285.8L117.4 282.0L111.9 278.7L106.4 275.8L101.0 273.4L95.8 271.4L90.6 269.9L85.5 268.8L80.6 268.1M92.5 319.5L98.8 313.7L105.0 308.3L111.1 303.2L117.1 298.5L123.0 294.1L128.8 290.1L134.6 286.4L140.2 283.0L145.7 279.9L151.2 277.2L156.6 274.7L161.8 272.6L167.0 270.7L172.1 269.2L177.0 267.9M167.1 324.8L160.9 317.5L154.8 310.7L148.7 304.5L142.7 298.7L136.8 293.4L131.0 288.7L125.2 284.4L119.6 280.6L114.0 277.3L108.6 274.4L103.2 272.0L97.9 270.1L92.8 268.5L87.7 267.5L82.7 266.8M90.4 317.8L96.6 312.0L102.8 306.6L108.9 301.5L114.9 296.8L120.8 292.5L126.7 288.4L132.4 284.7L138.0 281.3L143.6 278.3L149.0 275.5L154.4 273.1L159.7 270.9L164.9 269.1L169.9 267.5L174.9 266.2M169.2 323.5L163.0 316.2L156.9 309.4L150.8 303.1L144.9 297.3L139.0 292.0L133.1 287.3L127.4 283.0L121.8 279.2L116.2 275.9L110.7 273.0L105.3 270.6L100.1 268.7L94.9 267.2L89.8 266.1L84.8 265.5M88.2 316.2L94.5 310.4L100.7 305.0L106.8 299.9L112.8 295.2L118.7 290.9L124.5 286.8L130.3 283.1L135.9 279.7L141.4 276.7L146.9 273.9L152.3 271.5L157.5 269.3L162.7 267.5L167.8 265.9L172.8 264.6M171.3 322.2L165.1 314.8L159.0 308.0L153.0 301.8L147.0 296.0L141.1 290.7L135.3 285.9L129.5 281.7L123.9 277.9L118.3 274.6L112.9 271.7L107.5 269.3L102.2 267.4L97.0 265.9L91.9 264.9L86.9 264.2M86.1 314.6L92.4 308.8L98.5 303.4L104.6 298.4L110.6 293.7L116.5 289.3L122.4 285.3L128.1 281.6L133.8 278.2L139.3 275.2L144.8 272.4L150.1 270.0L155.4 267.8L160.6 265.9L165.7 264.4L170.7 263.1M173.4 320.9L167.2 313.6L161.1 306.8L155.1 300.5L149.1 294.7L143.2 289.4L137.4 284.6L131.7 280.4L126.0 276.6L120.5 273.3L115.0 270.4L109.6 268.1L104.3 266.1L99.1 264.7L94.0 263.6L89.1 263.0M84.0 313.1L90.2 307.4L96.4 302.0L102.5 296.9L108.5 292.2L114.4 287.9L120.3 283.8L126.0 280.1L131.6 276.8L137.2 273.7L142.7 271.0L148.0 268.5L153.3 266.3L158.5 264.5L163.6 262.9L168.6 261.6M175.5 319.7L169.3 312.3L163.2 305.5L157.2 299.2L151.2 293.4L145.3 288.2L139.5 283.4L133.8 279.1L128.1 275.3L122.6 272.0L117.1 269.2L111.7 266.8L106.4 264.9L101.2 263.5L96.1 262.4L91.1 261.8M81.9 311.7L88.1 305.9L94.3 300.6L100.4 295.5L106.4 290.8L112.3 286.5L118.1 282.5L123.9 278.8L129.5 275.4L135.1 272.3L140.6 269.6L145.9 267.1L151.2 265.0L156.4 263.1L161.5 261.5L166.5 260.2M177.5 318.5L171.4 311.2L165.3 304.3L159.2 298.0L153.3 292.3L147.4 287.0L141.6 282.2L135.9 277.9L130.2 274.1L124.7 270.8L119.2 268.0L113.8 265.7L108.5 263.8L103.3 262.3L98.2 261.3L93.2 260.7M79.8 310.3L86.1 304.6L92.2 299.2L98.3 294.2L104.3 289.5L110.2 285.1L116.0 281.1L121.8 277.4L127.4 274.1L133.0 271.0L138.5 268.3L143.8 265.8L149.1 263.6L154.3 261.8L159.4 260.2L164.4 258.9M179.6 317.4L173.4 310.0L167.3 303.2L161.3 296.9L155.4 291.1L149.5 285.8L143.7 281.0L138.0 276.8L132.3 273.0L126.8 269.7L121.3 266.9L115.9 264.5L110.6 262.6L105.4 261.2L100.3 260.2L95.3 259.6M77.7 309.0L84.0 303.3L90.1 297.9L96.2 292.9L102.2 288.2L108.1 283.9L114.0 279.9L119.7 276.2L125.3 272.8L130.9 269.8L136.4 267.0L141.8 264.6L147.0 262.4L152.2 260.5L157.4 259.0L162.4 257.6M181.6 316.3L175.5 309.0L169.4 302.1L163.4 295.8L157.4 290.0L151.5 284.7L145.7 279.9L140.0 275.7L134.4 271.9L128.8 268.6L123.4 265.8L118.0 263.4L112.7 261.5L107.5 260.1L102.4 259.1L97.4 258.5M75.7 307.7L81.9 302.0L88.1 296.7L94.2 291.7L100.1 287.0L106.1 282.7L111.9 278.7L117.6 275.0L123.3 271.6L128.8 268.6L134.3 265.8L139.7 263.4L145.0 261.2L150.2 259.4L155.3 257.8L160.3 256.5M183.6 315.3L177.5 307.9L171.4 301.1L165.4 294.7L159.5 288.9L153.6 283.6L147.8 278.9L142.1 274.6L136.4 270.8L130.9 267.5L125.4 264.7L120.0 262.4L114.7 260.5L109.5 259.1L104.4 258.1L99.4 257.5M73.6 306.5L79.9 300.8L86.0 295.5L92.1 290.5L98.1 285.9L104.0 281.5L109.8 277.5L115.6 273.9L121.2 270.5L126.8 267.5L132.2 264.7L137.6 262.3L142.9 260.1L148.1 258.3L153.2 256.7L158.3 255.4M185.6 314.3L179.5 306.9L173.4 300.1L167.4 293.7L161.5 287.9L155.6 282.6L149.8 277.8L144.1 273.6L138.5 269.8L132.9 266.5L127.5 263.7L122.1 261.3L116.8 259.5L111.6 258.1L106.5 257.1L101.5 256.5M71.6 305.4L77.9 299.7L84.0 294.4L90.1 289.4L96.1 284.8L102.0 280.5L107.8 276.5L113.5 272.8L119.2 269.5L124.7 266.4L130.2 263.7L135.6 261.2L140.9 259.1L146.1 257.2L151.2 255.6L156.2 254.3M187.6 313.4L181.5 306.0L175.4 299.1L169.4 292.8L163.5 286.9L157.7 281.6L151.9 276.9L146.2 272.6L140.5 268.8L135.0 265.5L129.5 262.7L124.1 260.4L118.8 258.5L113.6 257.1L108.5 256.1L103.5 255.6M69.6 304.3L75.8 298.7L82.0 293.4L88.0 288.4L94.0 283.8L99.9 279.5L105.7 275.5L111.5 271.8L117.1 268.5L122.7 265.4L128.2 262.7L133.5 260.3L138.8 258.1L144.0 256.3L149.2 254.7L154.2 253.4M189.5 312.5L183.5 305.1L177.4 298.2L171.4 291.8L165.5 286.0L159.7 280.7L153.9 275.9L148.2 271.6L142.6 267.9L137.0 264.6L131.5 261.8L126.2 259.4L120.9 257.6L115.6 256.2L110.5 255.2L105.5 254.7M67.6 303.3L73.8 297.7L80.0 292.4L86.0 287.4L92.0 282.8L97.9 278.5L103.7 274.6L109.4 270.9L115.1 267.6L120.7 264.5L126.1 261.8L131.5 259.4L136.8 257.2L142.0 255.4L147.2 253.8L152.2 252.5M191.5 311.6L185.4 304.2L179.4 297.3L173.4 291.0L167.5 285.1L161.7 279.8L155.9 275.0L150.2 270.7L144.6 267.0L139.0 263.7L133.5 260.9L128.2 258.6L122.9 256.7L117.7 255.3L112.5 254.4L107.5 253.8M65.7 302.4L71.9 296.7L78.0 291.5L84.0 286.5L90.0 281.9L95.9 277.6L101.7 273.7L107.4 270.0L113.1 266.7L118.6 263.7L124.1 261.0L129.5 258.5L134.8 256.4L140.0 254.5L145.1 252.9L150.2 251.6M193.4 310.8L187.4 303.4L181.4 296.5L175.4 290.1L169.5 284.3L163.7 279.0L157.9 274.2L152.2 269.9L146.6 266.1L141.0 262.8L135.5 260.0L130.2 257.7L124.9 255.9L119.7 254.5L114.5 253.5L109.5 253.0M63.7 301.5L69.9 295.9L76.0 290.6L82.1 285.7L88.0 281.1L93.9 276.8L99.7 272.9L105.4 269.2L111.1 265.9L116.6 262.9L122.1 260.2L127.5 257.8L132.8 255.6L138.0 253.8L143.1 252.2L148.2 250.9M195.4 310.0L189.3 302.6L183.3 295.7L177.3 289.3L171.5 283.5L165.6 278.2L159.9 273.4L154.2 269.1L148.5 265.3L143.0 262.0L137.5 259.2L132.2 256.9L126.9 255.0L121.7 253.7L116.5 252.7L111.5 252.2M61.7 300.6L67.9 295.0L74.1 289.8L80.1 284.9L86.1 280.3L91.9 276.1L97.7 272.1L103.5 268.5L109.1 265.2L114.7 262.2L120.1 259.5L125.5 257.1L130.8 254.9L136.0 253.1L141.2 251.5L146.2 250.2M197.3 309.3L191.2 301.9L185.2 294.9L179.3 288.6L173.4 282.7L167.6 277.4L161.8 272.6L156.1 268.3L150.5 264.5L145.0 261.2L139.5 258.4L134.1 256.1L128.8 254.3L123.6 252.9L118.5 252.0L113.5 251.5M59.8 299.8L66.0 294.3L72.1 289.1L78.1 284.2L84.1 279.6L90.0 275.4L95.8 271.4L101.5 267.8L107.1 264.5L112.7 261.5L118.2 258.8L123.5 256.4L128.8 254.3L134.1 252.4L139.2 250.9L144.2 249.5M199.2 308.6L193.1 301.2L187.1 294.2L181.2 287.9L175.3 282.0L169.5 276.7L163.8 271.9L158.1 267.6L152.5 263.8L146.9 260.5L141.5 257.7L136.1 255.4L130.8 253.6L125.6 252.2L120.5 251.3L115.4 250.8M57.9 299.1L64.1 293.6L70.2 288.4L76.2 283.5L82.2 279.0L88.0 274.7L93.8 270.8L99.5 267.2L105.2 263.9L110.7 260.9L116.2 258.2L121.6 255.8L126.9 253.7L132.1 251.9L137.2 250.3L142.3 249.0M201.0 308.0L195.0 300.5L189.0 293.6L183.1 287.2L177.3 281.3L171.5 276.0L165.7 271.2L160.0 266.9L154.4 263.1L148.9 259.8L143.4 257.0L138.1 254.7L132.8 252.9L127.5 251.5L122.4 250.6L117.4 250.1M56.0 298.4L62.2 292.9L68.3 287.7L74.3 282.9L80.2 278.4L86.1 274.2L91.9 270.3L97.6 266.7L103.2 263.4L108.8 260.4L114.2 257.7L119.6 255.3L124.9 253.2L130.1 251.4L135.3 249.8L140.3 248.5M202.9 307.4L196.9 299.9L190.9 293.0L185.0 286.6L179.2 280.7L173.4 275.4L167.6 270.5L162.0 266.2L156.4 262.4L150.8 259.2L145.4 256.4L140.0 254.1L134.7 252.2L129.5 250.9L124.4 250.0L119.3 249.5M54.1 297.8L60.3 292.3L66.4 287.2L72.4 282.3L78.3 277.8L84.2 273.6L90.0 269.8L95.7 266.2L101.3 262.9L106.8 259.9L112.3 257.3L117.7 254.9L123.0 252.8L128.2 250.9L133.3 249.4L138.4 248.1M204.7 306.8L198.8 299.3L192.8 292.4L186.9 286.0L181.1 280.1L175.3 274.7L169.5 269.9L163.9 265.6L158.3 261.8L152.7 258.5L147.3 255.7L141.9 253.4L136.6 251.6L131.4 250.3L126.3 249.4L121.3 248.9M52.2 297.3L58.4 291.8L64.5 286.7L70.5 281.9L76.4 277.4L82.3 273.2L88.1 269.3L93.8 265.8L99.4 262.5L104.9 259.5L110.4 256.9L115.8 254.5L121.1 252.4L126.3 250.6L131.4 249.0L136.5 247.7M206.6 306.3L200.6 298.8L194.7 291.9L188.8 285.4L182.9 279.5L177.2 274.2L171.4 269.4L165.8 265.0L160.2 261.3L154.7 258.0L149.2 255.2L143.8 252.9L138.6 251.0L133.3 249.7L128.2 248.8L123.2 248.3M50.4 296.8L56.5 291.3L62.6 286.2L68.6 281.4L74.5 276.9L80.4 272.8L86.2 268.9L91.9 265.4L97.5 262.1L103.0 259.2L108.5 256.5L113.8 254.2L119.1 252.1L124.4 250.3L129.5 248.7L134.5 247.4M208.4 305.8L202.4 298.3L196.5 291.4L190.6 284.9L184.8 279.0L179.0 273.7L173.3 268.8L167.7 264.5L162.1 260.7L156.6 257.4L151.1 254.6L145.7 252.3L140.5 250.5L135.2 249.2L130.1 248.3L125.1 247.8M48.6 296.3L54.7 290.9L60.8 285.8L66.7 281.0L72.7 276.6L78.5 272.4L84.3 268.6L90.0 265.1L95.6 261.8L101.1 258.9L106.6 256.3L111.9 253.9L117.2 251.8L122.5 250.0L127.6 248.5L132.6 247.2M210.2 305.4L204.3 297.9L198.3 290.9L192.5 284.5L186.7 278.6L180.9 273.2L175.2 268.3L169.5 264.0L164.0 260.2L158.4 256.9L153.0 254.1L147.6 251.8L142.4 250.0L137.1 248.7L132.0 247.8L127.0 247.3M46.7 295.9L52.9 290.5L58.9 285.5L64.9 280.7L70.8 276.3L76.7 272.2L82.4 268.3L88.1 264.8L93.7 261.6L99.2 258.7L104.7 256.1L110.1 253.7L115.4 251.6L120.6 249.8L125.7 248.3L130.7 247.0M212.0 305.0L206.1 297.5L200.2 290.5L194.3 284.0L188.5 278.1L182.7 272.7L177.0 267.9L171.4 263.6L165.8 259.8L160.3 256.5L154.9 253.7L149.5 251.4L144.2 249.5L139.0 248.2L133.9 247.3L128.9 246.9M44.9 295.6L51.0 290.2L57.1 285.2L63.1 280.4L69.0 276.0L74.8 271.9L80.6 268.1L86.2 264.6L91.8 261.4L97.4 258.5L102.8 255.9L108.2 253.6L113.5 251.5L118.7 249.7L123.8 248.2L128.9 246.9" fill="none" stroke="#000" stroke-opacity="0.75" stroke-width="0.6"/>
<path d="M48.9 364.7L42.7 254.6L128.7 234.9L214.7 254.6L209.0 363.9" fill="none" stroke="#555" stroke-width="0.9"/>
<text x="0.5" y="233.9" class="pl">d)</text>
<text x="39.9" y="261.2" class="tk" text-anchor="end" textLength="7.52" lengthAdjust="spacingAndGlyphs">2.1</text>
<text x="40.7" y="281.7" class="tk" text-anchor="end" textLength="13.54" lengthAdjust="spacingAndGlyphs">1.825</text>
<path d="M42.7 275.4H44.2" stroke="#222" stroke-width="0.9"/>
<text x="41.6" y="303.4" class="tk" text-anchor="end" textLength="10.53" lengthAdjust="spacingAndGlyphs">1.55</text>
<path d="M43.9 297.1H45.4" stroke="#222" stroke-width="0.9"/>
<text x="42.4" y="323.7" class="tk" text-anchor="end" textLength="13.54" lengthAdjust="spacingAndGlyphs">1.275</text>
<path d="M45.0 317.4H46.5" stroke="#222" stroke-width="0.9"/>
<text x="43.2" y="345.2" class="tk" text-anchor="end" textLength="3.01" lengthAdjust="spacingAndGlyphs">1</text>
<path d="M46.3 339.0H47.8" stroke="#222" stroke-width="0.9"/>
<text x="38.0" y="371.1" class="tk" text-anchor="middle" textLength="13.54" lengthAdjust="spacingAndGlyphs">1.000</text>
<text x="57.8" y="380.8" class="tk" text-anchor="middle" textLength="13.54" lengthAdjust="spacingAndGlyphs">0.500</text>
<text x="77.7" y="390.4" class="tk" text-anchor="middle" textLength="13.54" lengthAdjust="spacingAndGlyphs">0.000</text>
<text x="97.5" y="400.1" class="tk" text-anchor="middle" textLength="15.34" lengthAdjust="spacingAndGlyphs">-0.500</text>
<text x="117.3" y="409.8" class="tk" text-anchor="middle" textLength="15.34" lengthAdjust="spacingAndGlyphs">-1.000</text>
<text x="139.7" y="409.5" class="tk" text-anchor="middle" textLength="15.34" lengthAdjust="spacingAndGlyphs">-1.000</text>
<text x="159.7" y="399.8" class="tk" text-anchor="middle" textLength="15.34" lengthAdjust="spacingAndGlyphs">-0.500</text>
<text x="179.7" y="390.1" class="tk" text-anchor="middle" textLength="13.54" lengthAdjust="spacingAndGlyphs">0.000</text>
<text x="199.6" y="380.5" class="tk" text-anchor="middle" textLength="13.54" lengthAdjust="spacingAndGlyphs">0.500</text>
<text x="219.6" y="370.8" class="tk" text-anchor="middle" textLength="13.54" lengthAdjust="spacingAndGlyphs">1.000</text>
<text x="56.4" y="403.7" class="tt" text-anchor="middle" textLength="35.2" lengthAdjust="spacingAndGlyphs">C: Temp.</text>
<text x="199.9" y="403.7" class="tt" text-anchor="middle" textLength="31.0" lengthAdjust="spacingAndGlyphs">B: Time</text>
<text x="21.7" y="312.1" class="tt" text-anchor="middle" style="font-size:10px;fill:#222" transform="rotate(-90 21.7 312.1)">A</text>
<path d="M128.9 271.5V284.1" stroke="#222" stroke-width="0.8"/>
<circle cx="128.9" cy="271.5" r="1.4" fill="#b00606" stroke="#500" stroke-width="0.3"/>
<circle cx="128.9" cy="276.5" r="1.4" fill="#b00606" stroke="#500" stroke-width="0.3"/>
<circle cx="128.9" cy="281.5" r="1.4" fill="#e8c0cc" stroke="#500" stroke-width="0.3"/>
<path d="M281.2 365.1L361.9 404.3L442.8 365.5L362.4 334.7Z" fill="#ffff00" stroke="#3a3a20" stroke-width="0.8"/>
<path d="M387.3 392.1L384.8 392.6L381.6 393.2L378.4 393.7L375.4 394.2L372.9 394.6L369.5 395.1L366.9 395.4L363.7 395.8L360.9 396.1L357.6 396.5L355.1 396.7L351.6 397.0L348.6 397.2L347.3 397.2M440.5 364.5L438.9 365.5L436.6 366.6L434.3 367.8L431.9 369.0L429.3 370.1L426.7 371.3L424.7 372.1L422.0 373.2L419.1 374.3L417.0 375.1L413.9 376.1L411.6 376.9L408.5 377.9L406.0 378.7L403.5 379.4L400.8 380.2L397.5 381.0L394.8 381.7L392.1 382.3L389.2 383.0L386.4 383.6L383.7 384.1L381.3 384.6L378.3 385.1L375.2 385.6L372.2 386.1L369.8 386.5L366.5 386.9L364.0 387.2L360.7 387.6L358.3 387.8L354.7 388.1L352.1 388.3L349.5 388.5L346.1 388.7L343.0 388.8L340.3 388.9L337.5 389.0L334.6 389.0L331.7 389.0L330.2 388.9M427.7 359.6L425.5 360.8L423.2 362.0L420.8 363.1L418.3 364.2L415.7 365.3L413.1 366.4L410.3 367.4L408.1 368.2L405.2 369.2L402.9 369.9L400.1 370.8L397.4 371.6L394.9 372.3L392.3 372.9L389.7 373.6L387.0 374.2L384.3 374.8L381.5 375.4L378.6 375.9L375.7 376.4L372.6 377.0L370.3 377.3L367.4 377.7L364.2 378.1L361.9 378.4L358.6 378.7L356.1 379.0L353.3 379.2L350.0 379.4L347.5 379.5L344.9 379.6L342.1 379.7L339.2 379.8L336.3 379.8L333.5 379.8L330.8 379.7L327.9 379.6L324.8 379.5L321.9 379.3L319.5 379.1L316.3 378.8L313.8 378.5L310.8 378.2L308.4 377.8L306.8 377.6M413.1 354.0L410.9 355.2L409.1 356.0L406.7 357.1L404.2 358.2L402.3 358.9L399.6 359.9L396.8 360.9L394.6 361.6L391.6 362.5L389.2 363.2L386.8 363.9L384.2 364.5L381.3 365.2L378.6 365.8L376.1 366.3L373.6 366.7L370.7 367.2L367.8 367.7L365.1 368.1L362.6 368.4L359.4 368.7L357.1 369.0L354.2 369.2L351.3 369.4L348.9 369.5L346.3 369.7L343.4 369.7L340.6 369.8L337.8 369.8L335.2 369.7L332.6 369.6L329.7 369.5L326.6 369.3L324.3 369.1L321.5 368.8L318.9 368.5L315.9 368.1L313.8 367.8L310.9 367.4L308.2 366.8L305.5 366.3L303.0 365.7L300.6 365.0L298.2 364.4L295.3 363.5L293.1 362.7L290.4 361.7M395.0 347.1L393.3 347.9L391.1 349.0L388.6 350.0L386.0 351.0L384.0 351.7L381.2 352.6L379.0 353.3L375.9 354.1L373.4 354.7L370.9 355.2L368.3 355.7L365.5 356.2L363.4 356.5L360.7 356.9L357.7 357.2L355.5 357.4L352.7 357.7L349.9 357.8L347.5 357.9L345.0 358.0L342.5 358.0L339.8 358.0L336.9 357.9L334.1 357.7L331.9 357.5L329.0 357.3L326.7 357.0L323.8 356.6L321.3 356.2L319.0 355.7L316.4 355.2L313.7 354.5L311.5 353.8" fill="none" stroke="#5ee030" stroke-width="0.75"/>
<path d="M362.4 334.7L362.6 234.9" stroke="#555" stroke-width="0.9"/>
<path d="M361.8 358.3L366.5 354.3L361.9 349.1L357.1 353.1ZM366.5 354.3L371.2 350.5L366.5 345.4L361.9 349.1Z" fill="#00e639" stroke="#00e639" stroke-width="0.4"/>
<path d="M357.1 353.1L361.9 349.1L357.2 344.1L352.5 348.1ZM352.5 348.1L357.2 344.1L352.6 339.4L347.9 343.3ZM361.9 349.1L366.5 345.4L361.9 340.4L357.2 344.1ZM371.2 350.5L375.8 346.9L371.2 341.7L366.5 345.4ZM375.8 346.9L380.4 343.4L375.7 338.3L371.2 341.7Z" fill="#00e62b" stroke="#00e62b" stroke-width="0.4"/>
<path d="M347.9 343.3L352.6 339.4L348.1 334.8L343.3 338.7ZM357.2 344.1L361.9 340.4L357.3 335.6L352.6 339.4ZM366.5 345.4L371.2 341.7L366.5 336.8L361.9 340.4ZM371.2 341.7L375.7 338.3L371.1 333.3L366.5 336.8ZM380.4 343.4L384.9 340.1L380.2 335.0L375.7 338.3ZM384.9 340.1L389.3 337.0L384.7 331.8L380.2 335.0ZM389.3 337.0L393.7 333.9L389.1 328.8L384.7 331.8Z" fill="#00e61d" stroke="#00e61d" stroke-width="0.4"/>
<path d="M343.3 338.7L348.1 334.8L343.6 330.4L338.8 334.3ZM352.6 339.4L357.3 335.6L352.8 331.1L348.1 334.8ZM361.9 340.4L366.5 336.8L361.9 332.0L357.3 335.6ZM357.3 335.6L361.9 332.0L357.4 327.5L352.8 331.1ZM366.5 336.8L371.1 333.3L366.5 328.6L361.9 332.0ZM375.7 338.3L380.2 335.0L375.6 330.1L371.1 333.3ZM380.2 335.0L384.7 331.8L380.1 326.9L375.6 330.1ZM384.7 331.8L389.1 328.8L384.5 324.0L380.1 326.9ZM393.7 333.9L398.1 331.1L393.4 326.0L389.1 328.8ZM398.1 331.1L402.4 328.4L397.7 323.3L393.4 326.0ZM402.4 328.4L406.6 325.8L402.0 320.8L397.7 323.3Z" fill="#00e60e" stroke="#00e60e" stroke-width="0.4"/>
<path d="M338.8 334.3L343.6 330.4L339.1 326.2L334.4 330.1ZM334.4 330.1L339.1 326.2L334.7 322.3L330.0 326.1ZM330.0 326.1L334.7 322.3L330.4 318.5L325.6 322.4ZM325.6 322.4L330.4 318.5L326.1 314.9L321.3 318.8ZM348.1 334.8L352.8 331.1L348.3 326.7L343.6 330.4ZM343.6 330.4L348.3 326.7L343.8 322.5L339.1 326.2ZM339.1 326.2L343.8 322.5L339.4 318.6L334.7 322.3ZM334.7 322.3L339.4 318.6L335.1 314.8L330.4 318.5ZM352.8 331.1L357.4 327.5L352.9 323.1L348.3 326.7ZM348.3 326.7L352.9 323.1L348.4 319.0L343.8 322.5ZM343.8 322.5L348.4 319.0L344.0 315.0L339.4 318.6ZM361.9 332.0L366.5 328.6L362.0 324.1L357.4 327.5ZM357.4 327.5L362.0 324.1L357.5 319.7L352.9 323.1ZM352.9 323.1L357.5 319.7L353.0 315.6L348.4 319.0ZM371.1 333.3L375.6 330.1L371.0 325.3L366.5 328.6ZM366.5 328.6L371.0 325.3L366.5 320.8L362.0 324.1ZM362.0 324.1L366.5 320.8L362.0 316.5L357.5 319.7ZM375.6 330.1L380.1 326.9L375.5 322.2L371.0 325.3ZM371.0 325.3L375.5 322.2L371.0 317.7L366.5 320.8ZM366.5 320.8L371.0 317.7L366.5 313.4L362.0 316.5ZM380.1 326.9L384.5 324.0L379.9 319.3L375.5 322.2ZM375.5 322.2L379.9 319.3L375.4 314.8L371.0 317.7ZM389.1 328.8L393.4 326.0L388.8 321.1L384.5 324.0ZM384.5 324.0L388.8 321.1L384.3 316.5L379.9 319.3ZM379.9 319.3L384.3 316.5L379.8 312.0L375.4 314.8ZM393.4 326.0L397.7 323.3L393.1 318.5L388.8 321.1ZM388.8 321.1L393.1 318.5L388.6 313.8L384.3 316.5ZM397.7 323.3L402.0 320.8L397.4 315.9L393.1 318.5ZM393.1 318.5L397.4 315.9L392.9 311.3L388.6 313.8ZM406.6 325.8L410.8 323.4L406.2 318.4L402.0 320.8ZM402.0 320.8L406.2 318.4L401.6 313.6L397.4 315.9ZM397.4 315.9L401.6 313.6L397.1 308.9L392.9 311.3ZM410.8 323.4L414.9 321.1L410.3 316.1L406.2 318.4ZM406.2 318.4L410.3 316.1L405.7 311.3L401.6 313.6ZM414.9 321.1L418.9 319.0L414.4 314.0L410.3 316.1ZM410.3 316.1L414.4 314.0L409.8 309.2L405.7 311.3ZM418.9 319.0L423.0 317.0L418.4 312.0L414.4 314.0ZM414.4 314.0L418.4 312.0L413.9 307.3L409.8 309.2ZM423.0 317.0L426.9 315.1L422.4 310.2L418.4 312.0ZM418.4 312.0L422.4 310.2L417.8 305.5L413.9 307.3ZM426.9 315.1L430.8 313.3L426.3 308.5L422.4 310.2ZM422.4 310.2L426.3 308.5L421.8 303.8L417.8 305.5ZM430.8 313.3L434.7 311.7L430.1 306.9L426.3 308.5ZM426.3 308.5L430.1 306.9L425.6 302.2L421.8 303.8ZM434.7 311.7L438.5 310.3L433.9 305.4L430.1 306.9ZM430.1 306.9L433.9 305.4L429.5 300.8L425.6 302.2ZM438.5 310.3L442.2 308.9L437.7 304.1L433.9 305.4ZM433.9 305.4L437.7 304.1L433.2 299.5L429.5 300.8ZM442.2 308.9L445.9 307.7L441.4 302.9L437.7 304.1ZM437.7 304.1L441.4 302.9L436.9 298.3L433.2 299.5Z" fill="#00e600" stroke="#00e600" stroke-width="0.4"/>
<path d="M321.3 318.8L326.1 314.9L321.8 311.6L317.1 315.4ZM317.1 315.4L321.8 311.6L317.6 308.4L312.9 312.2ZM312.9 312.2L317.6 308.4L313.5 305.4L308.7 309.2ZM308.7 309.2L313.5 305.4L309.4 302.6L304.6 306.4ZM304.6 306.4L309.4 302.6L305.3 300.0L300.6 303.8ZM300.6 303.8L305.3 300.0L301.3 297.5L296.6 301.3ZM296.6 301.3L301.3 297.5L297.4 295.3L292.7 299.1ZM292.7 299.1L297.4 295.3L293.5 293.2L288.8 297.0ZM330.4 318.5L335.1 314.8L330.7 311.3L326.1 314.9ZM326.1 314.9L330.7 311.3L326.5 307.9L321.8 311.6ZM321.8 311.6L326.5 307.9L322.3 304.7L317.6 308.4ZM317.6 308.4L322.3 304.7L318.1 301.7L313.5 305.4ZM313.5 305.4L318.1 301.7L314.0 298.9L309.4 302.6ZM309.4 302.6L314.0 298.9L310.0 296.3L305.3 300.0ZM339.4 318.6L344.0 315.0L339.7 311.3L335.1 314.8ZM335.1 314.8L339.7 311.3L335.4 307.7L330.7 311.3ZM330.7 311.3L335.4 307.7L331.1 304.4L326.5 307.9ZM326.5 307.9L331.1 304.4L326.9 301.2L322.3 304.7ZM322.3 304.7L326.9 301.2L322.8 298.3L318.1 301.7ZM318.1 301.7L322.8 298.3L318.6 295.5L314.0 298.9ZM348.4 319.0L353.0 315.6L348.6 311.7L344.0 315.0ZM344.0 315.0L348.6 311.7L344.3 307.9L339.7 311.3ZM339.7 311.3L344.3 307.9L340.0 304.4L335.4 307.7ZM335.4 307.7L340.0 304.4L335.7 301.1L331.1 304.4ZM331.1 304.4L335.7 301.1L331.5 297.9L326.9 301.2ZM357.5 319.7L362.0 316.5L357.6 312.4L353.0 315.6ZM353.0 315.6L357.6 312.4L353.2 308.5L348.6 311.7ZM348.6 311.7L353.2 308.5L348.8 304.7L344.3 307.9ZM344.3 307.9L348.8 304.7L344.5 301.2L340.0 304.4ZM340.0 304.4L344.5 301.2L340.2 297.9L335.7 301.1ZM362.0 316.5L366.5 313.4L362.1 309.3L357.6 312.4ZM357.6 312.4L362.1 309.3L357.7 305.4L353.2 308.5ZM353.2 308.5L357.7 305.4L353.3 301.7L348.8 304.7ZM348.8 304.7L353.3 301.7L349.0 298.2L344.5 301.2ZM371.0 317.7L375.4 314.8L370.9 310.5L366.5 313.4ZM366.5 313.4L370.9 310.5L366.5 306.4L362.1 309.3ZM362.1 309.3L366.5 306.4L362.1 302.5L357.7 305.4ZM357.7 305.4L362.1 302.5L357.7 298.8L353.3 301.7ZM375.4 314.8L379.8 312.0L375.3 307.7L370.9 310.5ZM370.9 310.5L375.3 307.7L370.9 303.7L366.5 306.4ZM366.5 306.4L370.9 303.7L366.5 299.8L362.1 302.5ZM362.1 302.5L366.5 299.8L362.1 296.1L357.7 298.8ZM384.3 316.5L388.6 313.8L384.1 309.4L379.8 312.0ZM379.8 312.0L384.1 309.4L379.6 305.1L375.3 307.7ZM375.3 307.7L379.6 305.1L375.2 301.1L370.9 303.7ZM370.9 303.7L375.2 301.1L370.8 297.2L366.5 299.8ZM388.6 313.8L392.9 311.3L388.4 306.9L384.1 309.4ZM384.1 309.4L388.4 306.9L383.9 302.6L379.6 305.1ZM379.6 305.1L383.9 302.6L379.5 298.6L375.2 301.1ZM375.2 301.1L379.5 298.6L375.1 294.8L370.8 297.2ZM392.9 311.3L397.1 308.9L392.6 304.5L388.4 306.9ZM388.4 306.9L392.6 304.5L388.1 300.3L383.9 302.6ZM383.9 302.6L388.1 300.3L383.7 296.3L379.5 298.6ZM401.6 313.6L405.7 311.3L401.2 306.7L397.1 308.9ZM397.1 308.9L401.2 306.7L396.7 302.3L392.6 304.5ZM392.6 304.5L396.7 302.3L392.3 298.1L388.1 300.3ZM388.1 300.3L392.3 298.1L387.9 294.1L383.7 296.3ZM405.7 311.3L409.8 309.2L405.3 304.7L401.2 306.7ZM401.2 306.7L405.3 304.7L400.8 300.3L396.7 302.3ZM396.7 302.3L400.8 300.3L396.4 296.1L392.3 298.1ZM392.3 298.1L396.4 296.1L392.0 292.1L387.9 294.1ZM409.8 309.2L413.9 307.3L409.4 302.7L405.3 304.7ZM405.3 304.7L409.4 302.7L404.9 298.4L400.8 300.3ZM400.8 300.3L404.9 298.4L400.5 294.2L396.4 296.1ZM396.4 296.1L400.5 294.2L396.1 290.3L392.0 292.1ZM413.9 307.3L417.8 305.5L413.3 300.9L409.4 302.7ZM409.4 302.7L413.3 300.9L408.9 296.6L404.9 298.4ZM404.9 298.4L408.9 296.6L404.5 292.5L400.5 294.2ZM417.8 305.5L421.8 303.8L417.3 299.3L413.3 300.9ZM413.3 300.9L417.3 299.3L412.8 295.0L408.9 296.6ZM408.9 296.6L412.8 295.0L408.4 290.9L404.5 292.5ZM421.8 303.8L425.6 302.2L421.2 297.7L417.3 299.3ZM417.3 299.3L421.2 297.7L416.7 293.5L412.8 295.0ZM412.8 295.0L416.7 293.5L412.3 289.4L408.4 290.9ZM425.6 302.2L429.5 300.8L425.0 296.4L421.2 297.7ZM421.2 297.7L425.0 296.4L420.6 292.1L416.7 293.5ZM416.7 293.5L420.6 292.1L416.2 288.0L412.3 289.4ZM429.5 300.8L433.2 299.5L428.8 295.1L425.0 296.4ZM425.0 296.4L428.8 295.1L424.4 290.9L420.6 292.1ZM420.6 292.1L424.4 290.9L420.0 286.8L416.2 288.0ZM433.2 299.5L436.9 298.3L432.5 293.9L428.8 295.1ZM428.8 295.1L432.5 293.9L428.1 289.7L424.4 290.9ZM424.4 290.9L428.1 289.7L423.7 285.7L420.0 286.8Z" fill="#0ee600" stroke="#0ee600" stroke-width="0.4"/>
<path d="M288.8 297.0L293.5 293.2L289.6 291.3L285.0 295.1ZM285.0 295.1L289.6 291.3L285.8 289.6L281.2 293.4ZM281.2 293.4L285.8 289.6L282.1 288.0L277.5 291.8ZM305.3 300.0L310.0 296.3L306.0 293.9L301.3 297.5ZM301.3 297.5L306.0 293.9L302.0 291.7L297.4 295.3ZM314.0 298.9L318.6 295.5L314.6 292.9L310.0 296.3ZM326.9 301.2L331.5 297.9L327.3 294.9L322.8 298.3ZM335.7 301.1L340.2 297.9L336.0 294.7L331.5 297.9ZM344.5 301.2L349.0 298.2L344.7 294.9L340.2 297.9ZM353.3 301.7L357.7 298.8L353.4 295.3L349.0 298.2ZM357.7 298.8L362.1 296.1L357.8 292.6L353.4 295.3ZM366.5 299.8L370.8 297.2L366.5 293.5L362.1 296.1ZM379.5 298.6L383.7 296.3L379.3 292.5L375.1 294.8ZM383.7 296.3L387.9 294.1L383.5 290.3L379.3 292.5ZM400.5 294.2L404.5 292.5L400.1 288.5L396.1 290.3ZM404.5 292.5L408.4 290.9L404.0 286.9L400.1 288.5ZM408.4 290.9L412.3 289.4L408.0 285.5L404.0 286.9ZM412.3 289.4L416.2 288.0L411.8 284.2L408.0 285.5ZM416.2 288.0L420.0 286.8L415.6 283.0L411.8 284.2ZM420.0 286.8L423.7 285.7L419.4 281.9L415.6 283.0Z" fill="#1de600" stroke="#1de600" stroke-width="0.4"/>
<path d="M297.4 295.3L302.0 291.7L298.1 289.6L293.5 293.2ZM293.5 293.2L298.1 289.6L294.3 287.7L289.6 291.3ZM289.6 291.3L294.3 287.7L290.5 286.0L285.8 289.6ZM310.0 296.3L314.6 292.9L310.6 290.4L306.0 293.9ZM322.8 298.3L327.3 294.9L323.2 292.2L318.6 295.5ZM331.5 297.9L336.0 294.7L331.9 291.8L327.3 294.9ZM340.2 297.9L344.7 294.9L340.5 291.7L336.0 294.7ZM349.0 298.2L353.4 295.3L349.2 292.0L344.7 294.9ZM362.1 296.1L366.5 293.5L362.2 290.1L357.8 292.6ZM370.8 297.2L375.1 294.8L370.7 291.1L366.5 293.5ZM375.1 294.8L379.3 292.5L375.0 288.8L370.7 291.1ZM387.9 294.1L392.0 292.1L387.6 288.3L383.5 290.3ZM392.0 292.1L396.1 290.3L391.7 286.5L387.6 288.3Z" fill="#2be600" stroke="#2be600" stroke-width="0.4"/>
<path d="M285.8 289.6L290.5 286.0L286.7 284.4L282.1 288.0ZM306.0 293.9L310.6 290.4L306.6 288.2L302.0 291.7ZM302.0 291.7L306.6 288.2L302.7 286.1L298.1 289.6ZM318.6 295.5L323.2 292.2L319.2 289.6L314.6 292.9ZM314.6 292.9L319.2 289.6L315.1 287.2L310.6 290.4ZM327.3 294.9L331.9 291.8L327.7 289.0L323.2 292.2ZM336.0 294.7L340.5 291.7L336.4 288.8L331.9 291.8ZM344.7 294.9L349.2 292.0L345.0 288.9L340.5 291.7ZM353.4 295.3L357.8 292.6L353.6 289.3L349.2 292.0ZM366.5 293.5L370.7 291.1L366.5 287.6L362.2 290.1ZM379.3 292.5L383.5 290.3L379.2 286.7L375.0 288.8ZM383.5 290.3L387.6 288.3L383.3 284.7L379.2 286.7ZM396.1 290.3L400.1 288.5L395.7 284.8L391.7 286.5ZM400.1 288.5L404.0 286.9L399.7 283.2L395.7 284.8ZM404.0 286.9L408.0 285.5L403.6 281.8L399.7 283.2ZM408.0 285.5L411.8 284.2L407.5 280.5L403.6 281.8ZM411.8 284.2L415.6 283.0L411.3 279.3L407.5 280.5ZM415.6 283.0L419.4 281.9L415.1 278.2L411.3 279.3Z" fill="#39e600" stroke="#39e600" stroke-width="0.4"/>
<path d="M298.1 289.6L302.7 286.1L298.8 284.3L294.3 287.7ZM294.3 287.7L298.8 284.3L295.0 282.5L290.5 286.0ZM290.5 286.0L295.0 282.5L291.3 281.0L286.7 284.4ZM310.6 290.4L315.1 287.2L311.2 284.9L306.6 288.2ZM323.2 292.2L327.7 289.0L323.7 286.4L319.2 289.6ZM331.9 291.8L336.4 288.8L332.2 286.0L327.7 289.0ZM340.5 291.7L345.0 288.9L340.8 286.0L336.4 288.8ZM349.2 292.0L353.6 289.3L349.3 286.2L345.0 288.9ZM357.8 292.6L362.2 290.1L357.9 286.8L353.6 289.3ZM362.2 290.1L366.5 287.6L362.2 284.4L357.9 286.8ZM370.7 291.1L375.0 288.8L370.7 285.4L366.5 287.6ZM375.0 288.8L379.2 286.7L374.9 283.3L370.7 285.4ZM387.6 288.3L391.7 286.5L387.4 282.9L383.3 284.7ZM391.7 286.5L395.7 284.8L391.4 281.2L387.4 282.9ZM395.7 284.8L399.7 283.2L395.4 279.7L391.4 281.2Z" fill="#48e600" stroke="#48e600" stroke-width="0.4"/>
<path d="M306.6 288.2L311.2 284.9L307.3 282.9L302.7 286.1ZM302.7 286.1L307.3 282.9L303.4 281.0L298.8 284.3ZM298.8 284.3L303.4 281.0L299.6 279.3L295.0 282.5ZM319.2 289.6L323.7 286.4L319.7 284.0L315.1 287.2ZM315.1 287.2L319.7 284.0L315.7 281.8L311.2 284.9ZM327.7 289.0L332.2 286.0L328.2 283.5L323.7 286.4ZM336.4 288.8L340.8 286.0L336.7 283.2L332.2 286.0ZM345.0 288.9L349.3 286.2L345.2 283.3L340.8 286.0ZM353.6 289.3L357.9 286.8L353.7 283.7L349.3 286.2ZM366.5 287.6L370.7 285.4L366.4 282.1L362.2 284.4ZM379.2 286.7L383.3 284.7L379.0 281.3L374.9 283.3ZM383.3 284.7L387.4 282.9L383.1 279.5L379.0 281.3ZM399.7 283.2L403.6 281.8L399.3 278.2L395.4 279.7ZM403.6 281.8L407.5 280.5L403.2 277.0L399.3 278.2ZM407.5 280.5L411.3 279.3L407.0 275.8L403.2 277.0ZM411.3 279.3L415.1 278.2L410.8 274.8L407.0 275.8Z" fill="#56e600" stroke="#56e600" stroke-width="0.4"/>
<path d="M295.0 282.5L299.6 279.3L295.8 277.7L291.3 281.0ZM311.2 284.9L315.7 281.8L311.8 279.8L307.3 282.9ZM307.3 282.9L311.8 279.8L307.9 277.9L303.4 281.0ZM303.4 281.0L307.9 277.9L304.1 276.2L299.6 279.3ZM323.7 286.4L328.2 283.5L324.1 281.1L319.7 284.0ZM319.7 284.0L324.1 281.1L320.2 278.8L315.7 281.8ZM332.2 286.0L336.7 283.2L332.6 280.6L328.2 283.5ZM340.8 286.0L345.2 283.3L341.1 280.5L336.7 283.2ZM349.3 286.2L353.7 283.7L349.5 280.8L345.2 283.3ZM357.9 286.8L362.2 284.4L358.0 281.3L353.7 283.7ZM353.7 283.7L358.0 281.3L353.8 278.4L349.5 280.8ZM362.2 284.4L366.4 282.1L362.2 279.1L358.0 281.3ZM370.7 285.4L374.9 283.3L370.6 280.0L366.4 282.1ZM374.9 283.3L379.0 281.3L374.8 278.1L370.6 280.0ZM379.0 281.3L383.1 279.5L378.9 276.3L374.8 278.1ZM387.4 282.9L391.4 281.2L387.1 277.8L383.1 279.5ZM391.4 281.2L395.4 279.7L391.1 276.3L387.1 277.8ZM395.4 279.7L399.3 278.2L395.1 274.9L391.1 276.3ZM399.3 278.2L403.2 277.0L399.0 273.6L395.1 274.9ZM403.2 277.0L407.0 275.8L402.8 272.5L399.0 273.6ZM407.0 275.8L410.8 274.8L406.6 271.5L402.8 272.5Z" fill="#64e600" stroke="#64e600" stroke-width="0.4"/>
<path d="M299.6 279.3L304.1 276.2L300.3 274.6L295.8 277.7ZM315.7 281.8L320.2 278.8L316.2 276.8L311.8 279.8ZM311.8 279.8L316.2 276.8L312.4 274.9L307.9 277.9ZM307.9 277.9L312.4 274.9L308.5 273.2L304.1 276.2ZM328.2 283.5L332.6 280.6L328.6 278.3L324.1 281.1ZM324.1 281.1L328.6 278.3L324.6 276.0L320.2 278.8ZM336.7 283.2L341.1 280.5L337.0 278.0L332.6 280.6ZM332.6 280.6L337.0 278.0L333.0 275.6L328.6 278.3ZM345.2 283.3L349.5 280.8L345.4 278.0L341.1 280.5ZM341.1 280.5L345.4 278.0L341.3 275.5L337.0 278.0ZM349.5 280.8L353.8 278.4L349.7 275.7L345.4 278.0ZM358.0 281.3L362.2 279.1L358.1 276.2L353.8 278.4ZM366.4 282.1L370.6 280.0L366.4 277.0L362.2 279.1ZM370.6 280.0L374.8 278.1L370.6 275.1L366.4 277.0ZM374.8 278.1L378.9 276.3L374.7 273.3L370.6 275.1ZM383.1 279.5L387.1 277.8L382.9 274.6L378.9 276.3ZM387.1 277.8L391.1 276.3L386.9 273.1L382.9 274.6ZM391.1 276.3L395.1 274.9L390.9 271.7L386.9 273.1ZM395.1 274.9L399.0 273.6L394.8 270.5L390.9 271.7ZM399.0 273.6L402.8 272.5L398.6 269.4L394.8 270.5ZM402.8 272.5L406.6 271.5L402.4 268.4L398.6 269.4Z" fill="#73e600" stroke="#73e600" stroke-width="0.4"/>
<path d="M304.1 276.2L308.5 273.2L304.7 271.7L300.3 274.6ZM320.2 278.8L324.6 276.0L320.7 274.0L316.2 276.8ZM316.2 276.8L320.7 274.0L316.8 272.2L312.4 274.9ZM312.4 274.9L316.8 272.2L312.9 270.5L308.5 273.2ZM308.5 273.2L312.9 270.5L309.1 268.9L304.7 271.7ZM328.6 278.3L333.0 275.6L329.0 273.4L324.6 276.0ZM324.6 276.0L329.0 273.4L325.0 271.4L320.7 274.0ZM337.0 278.0L341.3 275.5L337.3 273.1L333.0 275.6ZM345.4 278.0L349.7 275.7L345.6 273.1L341.3 275.5ZM353.8 278.4L358.1 276.2L353.9 273.5L349.7 275.7ZM362.2 279.1L366.4 277.0L362.3 274.1L358.1 276.2ZM358.1 276.2L362.3 274.1L358.1 271.4L353.9 273.5ZM366.4 277.0L370.6 275.1L366.4 272.2L362.3 274.1ZM370.6 275.1L374.7 273.3L370.5 270.4L366.4 272.2ZM378.9 276.3L382.9 274.6L378.7 271.6L374.7 273.3ZM382.9 274.6L386.9 273.1L382.7 270.1L378.7 271.6ZM386.9 273.1L390.9 271.7L386.7 268.8L382.7 270.1ZM390.9 271.7L394.8 270.5L390.6 267.5L386.7 268.8ZM394.8 270.5L398.6 269.4L394.4 266.4L390.6 267.5ZM398.6 269.4L402.4 268.4L398.2 265.5L394.4 266.4Z" fill="#81e600" stroke="#81e600" stroke-width="0.4"/>
<path d="M320.7 274.0L325.0 271.4L321.1 269.5L316.8 272.2ZM316.8 272.2L321.1 269.5L317.3 267.9L312.9 270.5ZM312.9 270.5L317.3 267.9L313.5 266.3L309.1 268.9ZM333.0 275.6L337.3 273.1L333.3 270.9L329.0 273.4ZM329.0 273.4L333.3 270.9L329.4 268.9L325.0 271.4ZM325.0 271.4L329.4 268.9L325.5 267.1L321.1 269.5ZM341.3 275.5L345.6 273.1L341.6 270.8L337.3 273.1ZM337.3 273.1L341.6 270.8L337.6 268.6L333.3 270.9ZM349.7 275.7L353.9 273.5L349.9 271.0L345.6 273.1ZM345.6 273.1L349.9 271.0L345.8 268.6L341.6 270.8ZM353.9 273.5L358.1 271.4L354.1 268.9L349.9 271.0ZM362.3 274.1L366.4 272.2L362.3 269.5L358.1 271.4ZM366.4 272.2L370.5 270.4L366.4 267.8L362.3 269.5ZM374.7 273.3L378.7 271.6L374.6 268.8L370.5 270.4ZM370.5 270.4L374.6 268.8L370.5 266.1L366.4 267.8ZM378.7 271.6L382.7 270.1L378.6 267.3L374.6 268.8ZM382.7 270.1L386.7 268.8L382.5 266.0L378.6 267.3ZM386.7 268.8L390.6 267.5L386.4 264.8L382.5 266.0ZM390.6 267.5L394.4 266.4L390.3 263.7L386.4 264.8ZM394.4 266.4L398.2 265.5L394.1 262.7L390.3 263.7Z" fill="#8fe600" stroke="#8fe600" stroke-width="0.4"/>
<path d="M321.1 269.5L325.5 267.1L321.6 265.4L317.3 267.9ZM317.3 267.9L321.6 265.4L317.8 263.9L313.5 266.3ZM333.3 270.9L337.6 268.6L333.7 266.6L329.4 268.9ZM329.4 268.9L333.7 266.6L329.8 264.8L325.5 267.1ZM325.5 267.1L329.8 264.8L325.9 263.1L321.6 265.4ZM341.6 270.8L345.8 268.6L341.8 266.4L337.6 268.6ZM337.6 268.6L341.8 266.4L337.9 264.4L333.7 266.6ZM349.9 271.0L354.1 268.9L350.0 266.6L345.8 268.6ZM345.8 268.6L350.0 266.6L346.0 264.4L341.8 266.4ZM358.1 271.4L362.3 269.5L358.2 267.0L354.1 268.9ZM354.1 268.9L358.2 267.0L354.2 264.7L350.0 266.6ZM362.3 269.5L366.4 267.8L362.3 265.3L358.2 267.0ZM366.4 267.8L370.5 266.1L366.4 263.7L362.3 265.3ZM374.6 268.8L378.6 267.3L374.5 264.7L370.5 266.1ZM370.5 266.1L374.5 264.7L370.4 262.2L366.4 263.7ZM378.6 267.3L382.5 266.0L378.4 263.3L374.5 264.7ZM382.5 266.0L386.4 264.8L382.3 262.1L378.4 263.3ZM386.4 264.8L390.3 263.7L386.2 261.1L382.3 262.1ZM390.3 263.7L394.1 262.7L390.0 260.2L386.2 261.1Z" fill="#9ee600" stroke="#9ee600" stroke-width="0.4"/>
<path d="M321.6 265.4L325.9 263.1L322.1 261.6L317.8 263.9ZM333.7 266.6L337.9 264.4L334.0 262.6L329.8 264.8ZM329.8 264.8L334.0 262.6L330.1 261.0L325.9 263.1ZM325.9 263.1L330.1 261.0L326.3 259.5L322.1 261.6ZM341.8 266.4L346.0 264.4L342.1 262.4L337.9 264.4ZM337.9 264.4L342.1 262.4L338.2 260.6L334.0 262.6ZM350.0 266.6L354.2 264.7L350.2 262.5L346.0 264.4ZM346.0 264.4L350.2 262.5L346.3 260.6L342.1 262.4ZM358.2 267.0L362.3 265.3L358.3 263.0L354.2 264.7ZM354.2 264.7L358.3 263.0L354.3 260.8L350.2 262.5ZM362.3 265.3L366.4 263.7L362.4 261.4L358.3 263.0ZM358.3 263.0L362.4 261.4L358.4 259.3L354.3 260.8ZM366.4 263.7L370.4 262.2L366.4 259.9L362.4 261.4ZM374.5 264.7L378.4 263.3L374.4 260.9L370.4 262.2ZM370.4 262.2L374.4 260.9L370.3 258.6L366.4 259.9ZM378.4 263.3L382.3 262.1L378.3 259.7L374.4 260.9ZM374.4 260.9L378.3 259.7L374.3 257.5L370.3 258.6ZM382.3 262.1L386.2 261.1L382.2 258.7L378.3 259.7ZM378.3 259.7L382.2 258.7L378.1 256.4L374.3 257.5ZM386.2 261.1L390.0 260.2L386.0 257.8L382.2 258.7ZM382.2 258.7L386.0 257.8L382.0 255.5L378.1 256.4Z" fill="#ace600" stroke="#ace600" stroke-width="0.4"/>
<path d="M334.0 262.6L338.2 260.6L334.3 259.0L330.1 261.0ZM330.1 261.0L334.3 259.0L330.5 257.5L326.3 259.5ZM342.1 262.4L346.3 260.6L342.4 258.8L338.2 260.6ZM338.2 260.6L342.4 258.8L338.5 257.1L334.3 259.0ZM334.3 259.0L338.5 257.1L334.7 255.7L330.5 257.5ZM350.2 262.5L354.3 260.8L350.4 258.9L346.3 260.6ZM346.3 260.6L350.4 258.9L346.5 257.1L342.4 258.8ZM342.4 258.8L346.5 257.1L342.6 255.4L338.5 257.1ZM354.3 260.8L358.4 259.3L354.4 257.3L350.4 258.9ZM350.4 258.9L354.4 257.3L350.5 255.5L346.5 257.1ZM362.4 261.4L366.4 259.9L362.4 257.8L358.4 259.3ZM358.4 259.3L362.4 257.8L358.4 255.9L354.4 257.3ZM366.4 259.9L370.3 258.6L366.4 256.5L362.4 257.8ZM362.4 257.8L366.4 256.5L362.4 254.6L358.4 255.9ZM370.3 258.6L374.3 257.5L370.3 255.4L366.4 256.5ZM374.3 257.5L378.1 256.4L374.2 254.4L370.3 255.4ZM378.1 256.4L382.0 255.5L378.0 253.5L374.2 254.4Z" fill="#bae600" stroke="#bae600" stroke-width="0.4"/>
<path d="M338.5 257.1L342.6 255.4L338.8 254.0L334.7 255.7ZM346.5 257.1L350.5 255.5L346.7 253.9L342.6 255.4ZM342.6 255.4L346.7 253.9L342.9 252.4L338.8 254.0ZM354.4 257.3L358.4 255.9L354.5 254.1L350.5 255.5ZM350.5 255.5L354.5 254.1L350.7 252.5L346.7 253.9ZM346.7 253.9L350.7 252.5L346.9 251.0L342.9 252.4ZM358.4 255.9L362.4 254.6L358.5 252.8L354.5 254.1ZM354.5 254.1L358.5 252.8L354.7 251.2L350.7 252.5ZM366.4 256.5L370.3 255.4L366.3 253.5L362.4 254.6ZM362.4 254.6L366.3 253.5L362.4 251.7L358.5 252.8ZM358.5 252.8L362.4 251.7L358.6 250.1L354.7 251.2ZM370.3 255.4L374.2 254.4L370.2 252.5L366.3 253.5ZM366.3 253.5L370.2 252.5L366.3 250.7L362.4 251.7ZM362.4 251.7L366.3 250.7L362.5 249.1L358.6 250.1ZM374.2 254.4L378.0 253.5L374.1 251.6L370.2 252.5ZM370.2 252.5L374.1 251.6L370.2 249.9L366.3 250.7ZM366.3 250.7L370.2 249.9L366.3 248.3L362.5 249.1Z" fill="#c9e600" stroke="#c9e600" stroke-width="0.4"/>
<path d="M350.7 252.5L354.7 251.2L350.8 249.8L346.9 251.0ZM354.7 251.2L358.6 250.1L354.8 248.7L350.8 249.8ZM358.6 250.1L362.5 249.1L358.7 247.7L354.8 248.7ZM362.5 249.1L366.3 248.3L362.5 246.9L358.7 247.7Z" fill="#d7e600" stroke="#d7e600" stroke-width="0.4"/>
<path d="M361.8 358.3L355.6 351.4L349.4 344.9L343.3 338.7L337.3 332.9L331.4 327.4L325.6 322.4L319.9 317.6L314.3 313.3L308.7 309.2L303.3 305.5L297.9 302.1L292.7 299.1L287.5 296.3L282.4 293.9L277.5 291.8M361.8 358.3L368.1 353.1L374.3 348.1L380.4 343.4L386.4 339.0L392.3 334.9L398.1 331.1L403.8 327.5L409.4 324.2L414.9 321.1L420.3 318.3L425.6 315.7L430.8 313.3L435.9 311.2L441.0 309.4L445.9 307.7M364.2 356.3L357.9 349.4L351.8 342.9L345.7 336.7L339.7 330.9L333.8 325.5L328.0 320.4L322.3 315.7L316.7 311.3L311.1 307.3L305.7 303.6L300.3 300.2L295.0 297.2L289.9 294.4L284.8 292.0L279.8 289.9M359.5 355.7L365.8 350.4L371.9 345.5L378.0 340.8L384.0 336.5L389.9 332.4L395.8 328.5L401.5 324.9L407.1 321.6L412.6 318.6L418.0 315.8L423.3 313.2L428.5 310.9L433.7 308.8L438.7 306.9L443.6 305.3M366.5 354.3L360.3 347.5L354.1 340.9L348.1 334.8L342.1 329.0L336.2 323.6L330.4 318.5L324.6 313.8L319.0 309.4L313.5 305.4L308.0 301.7L302.6 298.3L297.4 295.3L292.2 292.6L287.1 290.1L282.1 288.0M357.1 353.1L363.4 347.9L369.6 342.9L375.7 338.3L381.7 333.9L387.6 329.8L393.4 326.0L399.2 322.4L404.8 319.2L410.3 316.1L415.7 313.3L421.0 310.8L426.3 308.5L431.4 306.4L436.4 304.5L441.4 302.9M368.9 352.4L362.6 345.5L356.5 339.0L350.4 332.9L344.4 327.1L338.5 321.7L332.7 316.6L327.0 311.9L321.4 307.6L315.8 303.5L310.3 299.9L305.0 296.5L299.7 293.4L294.5 290.7L289.4 288.3L284.4 286.2M354.8 350.6L361.1 345.3L367.3 340.4L373.4 335.8L379.4 331.4L385.3 327.4L391.1 323.5L396.9 320.0L402.5 316.7L408.0 313.7L413.4 310.9L418.8 308.4L424.0 306.1L429.2 304.0L434.2 302.2L439.2 300.6M371.2 350.5L365.0 343.7L358.8 337.2L352.8 331.1L346.8 325.3L340.9 319.9L335.1 314.8L329.3 310.1L323.7 305.8L318.1 301.7L312.7 298.1L307.3 294.7L302.0 291.7L296.8 288.9L291.7 286.5L286.7 284.4M352.5 348.1L358.8 342.9L365.0 338.0L371.1 333.3L377.1 329.0L383.0 324.9L388.8 321.1L394.6 317.6L400.2 314.3L405.7 311.3L411.2 308.6L416.5 306.0L421.8 303.8L426.9 301.7L432.0 299.9L436.9 298.3M373.5 348.7L367.3 341.9L361.1 335.4L355.1 329.2L349.1 323.5L343.2 318.1L337.4 313.0L331.6 308.3L326.0 304.0L320.4 300.0L315.0 296.3L309.6 292.9L304.3 289.9L299.1 287.2L294.0 284.8L289.0 282.7M350.2 345.6L356.5 340.5L362.7 335.6L368.8 330.9L374.8 326.6L380.7 322.6L386.6 318.8L392.3 315.3L397.9 312.0L403.5 309.0L408.9 306.3L414.3 303.8L419.5 301.5L424.7 299.5L429.7 297.7L434.7 296.1M375.8 346.9L369.6 340.1L363.5 333.6L357.4 327.5L351.4 321.7L345.5 316.3L339.7 311.3L334.0 306.6L328.3 302.3L322.8 298.3L317.3 294.6L311.9 291.2L306.6 288.2L301.4 285.5L296.3 283.1L291.3 281.0M347.9 343.3L354.2 338.1L360.4 333.2L366.5 328.6L372.5 324.3L378.5 320.2L384.3 316.5L390.0 313.0L395.7 309.7L401.2 306.7L406.7 304.0L412.0 301.5L417.3 299.3L422.4 297.3L427.5 295.5L432.5 293.9M378.1 345.2L371.9 338.3L365.8 331.9L359.7 325.8L353.7 320.0L347.8 314.6L342.0 309.6L336.3 304.9L330.6 300.6L325.1 296.6L319.6 292.9L314.2 289.6L308.9 286.5L303.7 283.8L298.6 281.4L293.6 279.3M345.6 341.0L351.9 335.8L358.1 330.9L364.2 326.3L370.3 322.0L376.2 318.0L382.0 314.2L387.8 310.7L393.4 307.5L399.0 304.5L404.4 301.8L409.8 299.3L415.1 297.1L420.2 295.1L425.3 293.3L430.3 291.8M380.4 343.4L374.2 336.6L368.0 330.2L362.0 324.1L356.0 318.3L350.1 313.0L344.3 307.9L338.5 303.3L332.9 298.9L327.3 294.9L321.9 291.3L316.5 287.9L311.2 284.9L306.0 282.2L300.8 279.8L295.8 277.7M343.3 338.7L349.6 333.5L355.9 328.7L362.0 324.1L368.0 319.8L373.9 315.7L379.8 312.0L385.5 308.5L391.2 305.3L396.7 302.3L402.2 299.6L407.6 297.2L412.8 295.0L418.0 293.0L423.1 291.3L428.1 289.7M382.6 341.8L376.4 334.9L370.3 328.5L364.2 322.4L358.3 316.7L352.4 311.3L346.6 306.3L340.8 301.7L335.2 297.3L329.6 293.3L324.1 289.7L318.7 286.3L313.4 283.3L308.2 280.6L303.1 278.3L298.1 276.2M341.1 336.5L347.4 331.3L353.6 326.5L359.7 321.9L365.8 317.6L371.7 313.6L377.5 309.8L383.3 306.4L388.9 303.2L394.5 300.2L400.0 297.5L405.3 295.1L410.6 292.9L415.8 290.9L420.9 289.2L425.9 287.7M384.9 340.1L378.7 333.3L372.6 326.9L366.5 320.8L360.5 315.1L354.6 309.7L348.8 304.7L343.1 300.1L337.4 295.8L331.9 291.8L326.4 288.1L321.0 284.8L315.7 281.8L310.5 279.1L305.3 276.7L300.3 274.6M338.8 334.3L345.1 329.2L351.4 324.3L357.5 319.7L363.5 315.5L369.5 311.5L375.3 307.7L381.1 304.3L386.7 301.1L392.3 298.1L397.8 295.5L403.1 293.0L408.4 290.9L413.6 288.9L418.7 287.2L423.7 285.7M387.1 338.5L380.9 331.7L374.8 325.3L368.7 319.2L362.8 313.5L356.9 308.2L351.1 303.2L345.3 298.6L339.7 294.2L334.1 290.3L328.6 286.6L323.2 283.3L317.9 280.3L312.7 277.6L307.6 275.2L302.5 273.2M336.6 332.2L342.9 327.0L349.1 322.2L355.3 317.6L361.3 313.4L367.2 309.4L373.1 305.7L378.8 302.2L384.5 299.0L390.1 296.1L395.5 293.5L400.9 291.0L406.2 288.9L411.4 286.9L416.5 285.2L421.6 283.8M389.3 337.0L383.1 330.2L377.0 323.8L371.0 317.7L365.0 312.0L359.1 306.7L353.3 301.7L347.6 297.1L341.9 292.8L336.4 288.8L330.9 285.2L325.5 281.8L320.2 278.8L314.9 276.2L309.8 273.8L304.7 271.7M334.4 330.1L340.7 325.0L346.9 320.2L353.0 315.6L359.1 311.3L365.0 307.4L370.9 303.7L376.6 300.2L382.3 297.1L387.9 294.1L393.4 291.5L398.7 289.1L404.0 286.9L409.3 285.0L414.4 283.3L419.4 281.9M391.5 335.4L385.4 328.7L379.2 322.3L373.2 316.2L367.2 310.6L361.3 305.2L355.5 300.2L349.8 295.6L344.1 291.3L338.6 287.4L333.1 283.7L327.7 280.4L322.4 277.4L317.1 274.7L312.0 272.4L306.9 270.3M332.2 328.1L338.5 323.0L344.7 318.2L350.8 313.6L356.9 309.4L362.8 305.4L368.7 301.7L374.4 298.3L380.1 295.1L385.7 292.2L391.2 289.6L396.6 287.2L401.9 285.0L407.1 283.1L412.2 281.5L417.2 280.0M393.7 333.9L387.6 327.2L381.4 320.8L375.4 314.8L369.4 309.1L363.6 303.8L357.7 298.8L352.0 294.2L346.4 289.9L340.8 286.0L335.3 282.3L329.9 279.0L324.6 276.0L319.4 273.4L314.2 271.0L309.1 268.9M330.0 326.1L336.3 321.0L342.5 316.2L348.6 311.7L354.7 307.4L360.6 303.5L366.5 299.8L372.2 296.4L377.9 293.2L383.5 290.3L389.0 287.7L394.4 285.3L399.7 283.2L404.9 281.3L410.1 279.7L415.1 278.2M395.9 332.5L389.7 325.8L383.6 319.4L377.6 313.4L371.6 307.7L365.7 302.4L359.9 297.4L354.2 292.8L348.6 288.5L343.0 284.6L337.5 281.0L332.1 277.7L326.8 274.7L321.5 272.0L316.4 269.7L311.3 267.6M327.8 324.2L334.1 319.1L340.3 314.3L346.4 309.8L352.5 305.5L358.4 301.6L364.3 297.9L370.1 294.5L375.7 291.4L381.3 288.5L386.8 285.9L392.2 283.5L397.5 281.4L402.8 279.5L407.9 277.9L413.0 276.5M398.1 331.1L391.9 324.4L385.8 318.0L379.8 312.0L373.8 306.3L367.9 301.1L362.1 296.1L356.4 291.5L350.7 287.2L345.2 283.3L339.7 279.7L334.3 276.4L329.0 273.4L323.7 270.7L318.6 268.4L313.5 266.3M325.6 322.4L331.9 317.3L338.2 312.5L344.3 307.9L350.3 303.7L356.3 299.8L362.1 296.1L367.9 292.7L373.6 289.6L379.2 286.7L384.7 284.1L390.1 281.8L395.4 279.7L400.6 277.8L405.8 276.2L410.8 274.8M400.2 329.7L394.1 323.0L388.0 316.7L381.9 310.7L376.0 305.0L370.1 299.7L364.3 294.8L358.6 290.2L352.9 285.9L347.4 282.0L341.9 278.4L336.5 275.1L331.1 272.1L325.9 269.5L320.7 267.1L315.7 265.1M323.5 320.6L329.8 315.5L336.0 310.7L342.1 306.1L348.2 301.9L354.1 298.0L360.0 294.3L365.7 290.9L371.4 287.8L377.0 285.0L382.5 282.4L387.9 280.0L393.3 278.0L398.5 276.1L403.6 274.5L408.7 273.1M402.4 328.4L396.2 321.7L390.1 315.3L384.1 309.4L378.1 303.7L372.3 298.5L366.5 293.5L360.7 288.9L355.1 284.7L349.5 280.8L344.0 277.2L338.6 273.9L333.3 270.9L328.1 268.3L322.9 265.9L317.8 263.9M321.3 318.8L327.6 313.7L333.8 308.9L340.0 304.4L346.0 300.2L352.0 296.3L357.8 292.6L363.6 289.2L369.3 286.1L374.9 283.3L380.4 280.7L385.8 278.4L391.1 276.3L396.4 274.5L401.5 272.9L406.6 271.5M404.5 327.1L398.3 320.4L392.2 314.1L386.2 308.1L380.3 302.5L374.4 297.2L368.6 292.3L362.9 287.7L357.2 283.5L351.7 279.6L346.2 276.0L340.8 272.7L335.5 269.7L330.2 267.1L325.1 264.8L320.0 262.7M319.2 317.1L325.5 312.0L331.7 307.2L337.8 302.7L343.9 298.5L349.8 294.6L355.7 290.9L361.5 287.6L367.2 284.5L372.8 281.6L378.3 279.1L383.7 276.8L389.0 274.7L394.3 272.9L399.4 271.3L404.5 269.9M406.6 325.8L400.4 319.1L394.4 312.8L388.4 306.9L382.4 301.3L376.5 296.0L370.7 291.1L365.0 286.5L359.4 282.3L353.8 278.4L348.3 274.8L342.9 271.6L337.6 268.6L332.4 266.0L327.2 263.6L322.1 261.6M317.1 315.4L323.4 310.3L329.6 305.5L335.7 301.1L341.7 296.9L347.7 292.9L353.6 289.3L359.3 286.0L365.0 282.9L370.6 280.0L376.1 277.5L381.6 275.2L386.9 273.1L392.2 271.3L397.3 269.7L402.4 268.4M408.7 324.6L402.5 317.9L396.5 311.6L390.5 305.7L384.5 300.1L378.7 294.9L372.9 290.0L367.2 285.4L361.5 281.2L355.9 277.3L350.5 273.7L345.1 270.4L339.7 267.5L334.5 264.9L329.3 262.5L324.2 260.5M315.0 313.8L321.3 308.7L327.5 303.9L333.6 299.5L339.6 295.3L345.6 291.4L351.5 287.7L357.2 284.4L362.9 281.3L368.5 278.5L374.0 275.9L379.5 273.6L384.8 271.6L390.1 269.8L395.2 268.2L400.3 266.9M410.8 323.4L404.6 316.7L398.6 310.5L392.6 304.5L386.6 299.0L380.8 293.7L375.0 288.8L369.3 284.3L363.6 280.1L358.1 276.2L352.6 272.6L347.2 269.4L341.8 266.4L336.6 263.8L331.4 261.5L326.3 259.5M312.9 312.2L319.2 307.1L325.4 302.4L331.5 297.9L337.5 293.7L343.5 289.8L349.3 286.2L355.1 282.9L360.8 279.8L366.4 277.0L371.9 274.4L377.4 272.2L382.7 270.1L388.0 268.3L393.2 266.8L398.2 265.5M412.8 322.2L406.7 315.6L400.6 309.3L394.7 303.4L388.7 297.9L382.9 292.6L377.1 287.8L371.4 283.2L365.7 279.0L360.2 275.1L354.7 271.6L349.3 268.3L343.9 265.4L338.7 262.8L333.5 260.5L328.4 258.5M310.8 310.7L317.1 305.6L323.3 300.9L329.4 296.4L335.4 292.2L341.4 288.3L347.3 284.7L353.0 281.4L358.7 278.3L364.3 275.5L369.9 273.0L375.3 270.7L380.6 268.7L385.9 266.9L391.1 265.4L396.2 264.1M414.9 321.1L408.8 314.5L402.7 308.2L396.7 302.3L390.8 296.8L385.0 291.6L379.2 286.7L373.5 282.2L367.8 278.0L362.3 274.1L356.8 270.6L351.4 267.3L346.0 264.4L340.8 261.8L335.6 259.5L330.5 257.5M308.7 309.2L315.0 304.2L321.2 299.4L327.3 294.9L333.4 290.8L339.3 286.9L345.2 283.3L351.0 280.0L356.7 276.9L362.3 274.1L367.8 271.6L373.2 269.3L378.6 267.3L383.8 265.5L389.0 264.0L394.1 262.7M416.9 320.0L410.8 313.4L404.8 307.2L398.8 301.3L392.9 295.8L387.0 290.6L381.2 285.7L375.5 281.2L369.9 277.0L364.3 273.1L358.9 269.6L353.5 266.4L348.1 263.5L342.9 260.9L337.7 258.6L332.6 256.5M306.7 307.8L313.0 302.7L319.2 298.0L325.3 293.5L331.3 289.4L337.2 285.5L343.1 281.9L348.9 278.6L354.6 275.5L360.2 272.7L365.7 270.2L371.2 268.0L376.5 266.0L381.8 264.2L387.0 262.7L392.1 261.4M418.9 319.0L412.8 312.4L406.8 306.2L400.8 300.3L394.9 294.8L389.1 289.6L383.3 284.7L377.6 280.2L372.0 276.1L366.4 272.2L360.9 268.7L355.5 265.5L350.2 262.5L344.9 260.0L339.8 257.7L334.7 255.7M304.6 306.4L310.9 301.4L317.1 296.6L323.2 292.2L329.2 288.0L335.2 284.1L341.1 280.5L346.8 277.2L352.5 274.2L358.1 271.4L363.7 268.9L369.1 266.7L374.5 264.7L379.7 262.9L384.9 261.4L390.0 260.2M421.0 317.9L414.9 311.4L408.8 305.2L402.9 299.3L397.0 293.8L391.1 288.6L385.4 283.8L379.7 279.3L374.0 275.1L368.5 271.3L363.0 267.8L357.6 264.6L352.3 261.7L347.0 259.1L341.8 256.8L336.7 254.8M302.6 305.1L308.9 300.0L315.1 295.3L321.2 290.8L327.2 286.7L333.2 282.8L339.0 279.2L344.8 275.9L350.5 272.9L356.1 270.1L361.6 267.6L367.1 265.4L372.4 263.4L377.7 261.7L382.9 260.2L388.0 258.9M423.0 317.0L416.9 310.4L410.8 304.2L404.9 298.4L399.0 292.9L393.2 287.7L387.4 282.9L381.7 278.4L376.1 274.3L370.5 270.4L365.0 266.9L359.6 263.7L354.3 260.8L349.1 258.2L343.9 256.0L338.8 254.0M300.6 303.8L306.9 298.7L313.1 294.0L319.2 289.6L325.2 285.4L331.1 281.6L337.0 278.0L342.8 274.7L348.5 271.7L354.1 268.9L359.6 266.4L365.0 264.2L370.4 262.2L375.7 260.5L380.9 259.0L386.0 257.8M424.9 316.0L418.9 309.5L412.8 303.3L406.9 297.5L401.0 292.0L395.2 286.8L389.4 282.0L383.7 277.6L378.1 273.4L372.5 269.6L367.1 266.1L361.7 262.9L356.3 260.0L351.1 257.4L345.9 255.2L340.8 253.2M298.6 302.5L304.9 297.5L311.0 292.8L317.1 288.3L323.2 284.2L329.1 280.3L335.0 276.8L340.7 273.5L346.4 270.5L352.0 267.7L357.6 265.2L363.0 263.0L368.4 261.1L373.7 259.3L378.9 257.9L384.0 256.6M426.9 315.1L420.8 308.6L414.8 302.4L408.9 296.6L403.0 291.1L397.2 286.0L391.4 281.2L385.7 276.7L380.1 272.6L374.6 268.8L369.1 265.3L363.7 262.1L358.4 259.3L353.1 256.7L347.9 254.4L342.9 252.4M296.6 301.3L302.9 296.3L309.0 291.6L315.1 287.2L321.2 283.0L327.1 279.2L333.0 275.6L338.7 272.3L344.4 269.3L350.0 266.6L355.6 264.1L361.0 261.9L366.4 259.9L371.7 258.2L376.8 256.8L382.0 255.5M428.9 314.2L422.8 307.7L416.8 301.6L410.9 295.8L405.0 290.3L399.2 285.2L393.4 280.4L387.7 276.0L382.1 271.8L376.6 268.0L371.1 264.6L365.7 261.4L360.4 258.5L355.1 256.0L350.0 253.7L344.9 251.7M294.6 300.2L300.9 295.2L307.1 290.4L313.1 286.0L319.2 281.9L325.1 278.0L331.0 274.5L336.7 271.2L342.4 268.2L348.0 265.5L353.6 263.0L359.0 260.8L364.4 258.9L369.7 257.2L374.9 255.7L380.0 254.5M430.8 313.3L424.8 306.9L418.8 300.8L412.8 295.0L407.0 289.5L401.1 284.4L395.4 279.7L389.7 275.2L384.1 271.1L378.6 267.3L373.1 263.8L367.7 260.7L362.4 257.8L357.1 255.3L352.0 253.0L346.9 251.0M292.7 299.1L298.9 294.1L305.1 289.3L311.2 284.9L317.2 280.8L323.1 277.0L329.0 273.4L334.7 270.1L340.4 267.1L346.0 264.4L351.6 262.0L357.0 259.8L362.4 257.8L367.7 256.1L372.9 254.7L378.0 253.5M432.7 312.5L426.7 306.1L420.7 300.0L414.8 294.2L408.9 288.8L403.1 283.7L397.4 278.9L391.7 274.5L386.1 270.4L380.6 266.6L375.1 263.2L369.7 260.0L364.4 257.2L359.1 254.6L354.0 252.4L348.9 250.4M290.7 298.0L297.0 293.0L303.1 288.3L309.2 283.9L315.2 279.7L321.1 275.9L327.0 272.4L332.8 269.1L338.5 266.1L344.1 263.4L349.6 261.0L355.0 258.8L360.4 256.8L365.7 255.1L370.9 253.7L376.0 252.5M434.7 311.7L428.6 305.3L422.6 299.2L416.7 293.5L410.9 288.1L405.1 283.0L399.3 278.2L393.7 273.8L388.1 269.7L382.5 266.0L377.1 262.5L371.7 259.4L366.4 256.5L361.1 254.0L355.9 251.8L350.8 249.8M288.8 297.0L295.0 292.0L301.2 287.3L307.3 282.9L313.3 278.7L319.2 274.9L325.0 271.4L330.8 268.1L336.5 265.1L342.1 262.4L347.6 260.0L353.1 257.8L358.4 255.9L363.7 254.2L368.9 252.8L374.1 251.6M436.6 311.0L430.5 304.6L424.6 298.5L418.7 292.8L412.8 287.4L407.0 282.3L401.3 277.6L395.6 273.2L390.0 269.1L384.5 265.3L379.0 261.9L373.6 258.8L368.3 255.9L363.1 253.4L357.9 251.2L352.8 249.2M286.9 296.0L293.1 291.0L299.2 286.3L305.3 281.9L311.3 277.8L317.2 274.0L323.1 270.4L328.8 267.2L334.5 264.2L340.1 261.5L345.7 259.1L351.1 256.9L356.5 255.0L361.8 253.3L367.0 251.9L372.1 250.7M438.5 310.3L432.4 303.9L426.5 297.8L420.6 292.1L414.7 286.7L408.9 281.7L403.2 277.0L397.6 272.6L392.0 268.5L386.4 264.8L381.0 261.3L375.6 258.2L370.3 255.4L365.0 252.9L359.9 250.6L354.8 248.7M285.0 295.1L291.2 290.1L297.3 285.4L303.4 281.0L309.4 276.9L315.3 273.1L321.1 269.5L326.9 266.3L332.6 263.3L338.2 260.6L343.7 258.2L349.2 256.0L354.5 254.1L359.8 252.4L365.0 251.0L370.2 249.9M440.3 309.6L434.3 303.2L428.4 297.2L422.5 291.5L416.6 286.1L410.9 281.1L405.1 276.4L399.5 272.0L393.9 267.9L388.4 264.2L382.9 260.8L377.5 257.7L372.2 254.9L367.0 252.3L361.8 250.1L356.7 248.2M283.1 294.2L289.3 289.2L295.4 284.5L301.5 280.1L307.5 276.0L313.4 272.2L319.2 268.7L325.0 265.4L330.7 262.5L336.3 259.8L341.8 257.3L347.2 255.2L352.6 253.3L357.9 251.6L363.1 250.2L368.2 249.1M442.2 308.9L436.2 302.6L430.3 296.5L424.4 290.9L418.5 285.5L412.8 280.5L407.0 275.8L401.4 271.4L395.8 267.4L390.3 263.7L384.8 260.3L379.5 257.2L374.2 254.4L368.9 251.9L363.8 249.7L358.7 247.7M281.2 293.4L287.4 288.4L293.5 283.7L299.6 279.3L305.6 275.2L311.5 271.4L317.3 267.9L323.1 264.6L328.7 261.7L334.3 259.0L339.9 256.5L345.3 254.4L350.7 252.5L356.0 250.9L361.2 249.5L366.3 248.3M444.0 308.3L438.1 302.0L432.1 295.9L426.2 290.3L420.4 284.9L414.6 279.9L408.9 275.3L403.3 270.9L397.7 266.9L392.2 263.2L386.8 259.8L381.4 256.7L376.1 253.9L370.8 251.4L365.7 249.2L360.6 247.3M279.3 292.6L285.5 287.6L291.6 282.9L297.7 278.5L303.7 274.4L309.6 270.6L315.4 267.1L321.2 263.8L326.8 260.9L332.4 258.2L338.0 255.8L343.4 253.6L348.8 251.8L354.1 250.1L359.3 248.7L364.4 247.6M445.9 307.7L439.9 301.4L434.0 295.4L428.1 289.7L422.3 284.4L416.5 279.4L410.8 274.8L405.2 270.4L399.6 266.4L394.1 262.7L388.7 259.3L383.3 256.3L378.0 253.5L372.8 251.0L367.6 248.8L362.5 246.9M277.5 291.8L283.7 286.8L289.8 282.1L295.8 277.7L301.8 273.6L307.7 269.8L313.5 266.3L319.3 263.1L324.9 260.2L330.5 257.5L336.1 255.1L341.5 252.9L346.9 251.0L352.2 249.4L357.4 248.0L362.5 246.9" fill="none" stroke="#000" stroke-opacity="0.75" stroke-width="0.6"/>
<path d="M281.2 365.1L275.5 254.6L362.6 234.9L448.6 255.0L442.8 365.5" fill="none" stroke="#555" stroke-width="0.9"/>
<text x="234.7" y="232.8" class="pl">e)</text>
<text x="272.7" y="261.2" class="tk" text-anchor="end" textLength="7.52" lengthAdjust="spacingAndGlyphs">2.2</text>
<text x="273.5" y="281.7" class="tk" text-anchor="end" textLength="7.52" lengthAdjust="spacingAndGlyphs">1.9</text>
<path d="M275.4 275.4H276.9" stroke="#222" stroke-width="0.9"/>
<text x="274.4" y="303.4" class="tk" text-anchor="end" textLength="7.52" lengthAdjust="spacingAndGlyphs">1.6</text>
<path d="M276.5 297.1H278.0" stroke="#222" stroke-width="0.9"/>
<text x="275.2" y="323.7" class="tk" text-anchor="end" textLength="7.52" lengthAdjust="spacingAndGlyphs">1.3</text>
<path d="M277.5 317.4H279.0" stroke="#222" stroke-width="0.9"/>
<text x="276.0" y="345.2" class="tk" text-anchor="end" textLength="3.01" lengthAdjust="spacingAndGlyphs">1</text>
<path d="M278.7 339.0H280.2" stroke="#222" stroke-width="0.9"/>
<text x="270.3" y="371.5" class="tk" text-anchor="middle" textLength="13.54" lengthAdjust="spacingAndGlyphs">1.000</text>
<text x="290.3" y="381.1" class="tk" text-anchor="middle" textLength="13.54" lengthAdjust="spacingAndGlyphs">0.500</text>
<text x="310.4" y="390.6" class="tk" text-anchor="middle" textLength="13.54" lengthAdjust="spacingAndGlyphs">0.000</text>
<text x="330.4" y="400.2" class="tk" text-anchor="middle" textLength="13.54" lengthAdjust="spacingAndGlyphs">0.500</text>
<text x="350.4" y="409.8" class="tk" text-anchor="middle" textLength="15.34" lengthAdjust="spacingAndGlyphs">-1.000</text>
<text x="372.8" y="409.5" class="tk" text-anchor="middle" textLength="15.34" lengthAdjust="spacingAndGlyphs">-1.000</text>
<text x="392.9" y="400.2" class="tk" text-anchor="middle" textLength="15.34" lengthAdjust="spacingAndGlyphs">-0.500</text>
<text x="413.1" y="390.9" class="tk" text-anchor="middle" textLength="13.54" lengthAdjust="spacingAndGlyphs">0.000</text>
<text x="433.2" y="381.7" class="tk" text-anchor="middle" textLength="13.54" lengthAdjust="spacingAndGlyphs">0.500</text>
<text x="453.4" y="372.4" class="tk" text-anchor="middle" textLength="13.54" lengthAdjust="spacingAndGlyphs">1.000</text>
<text x="280.6" y="404.6" class="tt" text-anchor="middle" textLength="72.3" lengthAdjust="spacingAndGlyphs">D: Extract Percent</text>
<text x="433.6" y="403.6" class="tt" text-anchor="middle" textLength="31.0" lengthAdjust="spacingAndGlyphs">B: Time</text>
<text x="254.5" y="312.1" class="tt" text-anchor="middle" style="font-size:10px;fill:#222" transform="rotate(-90 254.5 312.1)">A</text>
<path d="M362.2 277.7V289.5" stroke="#222" stroke-width="0.8"/>
<circle cx="362.2" cy="277.7" r="1.4" fill="#b00606" stroke="#500" stroke-width="0.3"/>
<circle cx="362.2" cy="281.8" r="1.4" fill="#b00606" stroke="#500" stroke-width="0.3"/>
<circle cx="362.2" cy="286.9" r="1.4" fill="#e8c0cc" stroke="#500" stroke-width="0.3"/>
<path d="M529.8 365.1L609.3 404.3L689.4 365.7L609.8 334.9Z" fill="#ffff00" stroke="#3a3a20" stroke-width="0.8"/>
<path d="M628.9 394.8L625.5 395.1L622.9 395.2L620.3 395.4L617.1 395.5L614.0 395.6L611.0 395.6L608.0 395.6L605.2 395.5L602.4 395.4L599.7 395.3L596.4 395.1L593.2 394.9L590.7 394.7L589.4 394.5M662.5 378.6L660.0 379.4L657.6 380.2L654.9 380.9L651.8 381.7L648.9 382.4L646.3 383.0L643.8 383.5L641.2 384.0L638.1 384.5L635.0 385.0L632.8 385.3L629.4 385.7L627.1 385.9L623.8 386.2L621.1 386.4L618.6 386.5L615.6 386.6L612.5 386.7L609.6 386.8L606.7 386.8L603.9 386.7L601.2 386.6L598.6 386.5L595.5 386.3L592.3 386.1L589.9 385.9L586.9 385.6L584.1 385.3L581.3 385.0L578.6 384.6L575.4 384.1L573.1 383.7L570.3 383.2L567.4 382.7L564.5 382.1L563.9 382.0M689.1 365.5L687.6 366.5M676.1 360.5L674.7 361.4L672.6 362.7L670.9 363.7L668.8 364.8L666.4 365.9L663.9 367.1L661.3 368.2L659.3 369.0L656.4 370.0L654.2 370.7L651.1 371.7L648.7 372.4L646.2 373.0L643.6 373.7L640.9 374.3L638.1 374.8L635.2 375.3L632.2 375.8L630.1 376.1L627.0 376.5L624.5 376.8L621.4 377.1L619.0 377.2L616.1 377.4L613.0 377.6L610.2 377.6L607.5 377.7L604.8 377.7L601.9 377.6L599.1 377.5L596.6 377.4L594.1 377.3L591.0 377.0L588.3 376.8L585.9 376.5L582.7 376.2L580.3 375.9L577.5 375.5L574.5 375.0L572.1 374.6L569.6 374.1L566.9 373.6L564.2 373.0L561.5 372.4L559.0 371.8L556.5 371.1L553.9 370.4L550.9 369.5L548.6 368.8L546.4 368.1L543.5 367.1L541.4 366.4L538.7 365.4L536.1 364.3L534.1 363.6M661.4 354.8L659.9 355.7L657.8 356.9L655.5 358.0L653.1 359.1L650.6 360.1L647.9 361.2L645.1 362.1L642.8 362.8L640.5 363.5L637.8 364.2L635.0 364.8L632.5 365.3L630.1 365.8L627.4 366.2L624.4 366.7L622.1 366.9L619.2 367.3L616.8 367.5L613.6 367.7L611.1 367.8L608.6 367.9L606.1 367.9L603.4 367.9L600.7 367.9L597.8 367.8L594.8 367.7L592.4 367.5L590.1 367.3L586.8 367.0L584.7 366.8L581.6 366.4L579.4 366.1L576.7 365.7L573.9 365.2L571.2 364.7L568.6 364.1L566.0 363.6L563.5 363.0L561.1 362.4L558.8 361.7L556.6 361.1L553.7 360.1L551.6 359.4L548.8 358.5L548.2 358.2M643.1 347.7L641.2 348.8L639.4 349.7L637.0 350.7L634.5 351.7L632.5 352.4L629.6 353.3L627.3 353.9L624.8 354.4L622.3 354.9L619.6 355.4L616.7 355.8L614.8 356.0L611.6 356.3L609.5 356.5L606.9 356.6L604.1 356.7L601.4 356.7L598.9 356.7L596.5 356.6L594.2 356.5L591.1 356.3L588.8 356.1L586.1 355.8L583.8 355.5L581.0 355.1L578.4 354.7L576.1 354.2L573.7 353.7L570.9 353.1L568.6 352.4L566.4 351.8L565.7 351.6" fill="none" stroke="#5ee030" stroke-width="0.75"/>
<path d="M609.8 334.9L609.6 234.9" stroke="#555" stroke-width="0.9"/>
<path d="M609.0 363.6L613.7 358.7L609.0 353.9L604.4 358.8Z" fill="#00e68f" stroke="#00e68f" stroke-width="0.4"/>
<path d="M604.4 358.8L609.0 353.9L604.5 349.3L599.8 354.3ZM613.7 358.7L618.3 354.1L613.6 349.3L609.0 353.9Z" fill="#00e681" stroke="#00e681" stroke-width="0.4"/>
<path d="M599.8 354.3L604.5 349.3L599.9 344.9L595.3 349.8Z" fill="#00e673" stroke="#00e673" stroke-width="0.4"/>
<path d="M609.0 353.9L613.6 349.3L609.1 344.6L604.5 349.3ZM618.3 354.1L622.8 349.7L618.2 344.9L613.6 349.3Z" fill="#00e664" stroke="#00e664" stroke-width="0.4"/>
<path d="M595.3 349.8L599.9 344.9L595.4 340.6L590.8 345.6ZM604.5 349.3L609.1 344.6L604.5 340.2L599.9 344.9ZM613.6 349.3L618.2 344.9L613.6 340.2L609.1 344.6ZM622.8 349.7L627.3 345.6L622.7 340.7L618.2 344.9Z" fill="#00e656" stroke="#00e656" stroke-width="0.4"/>
<path d="M590.8 345.6L595.4 340.6L591.0 336.6L586.4 341.6ZM599.9 344.9L604.5 340.2L600.0 335.9L595.4 340.6ZM609.1 344.6L613.6 340.2L609.1 335.7L604.5 340.2ZM618.2 344.9L622.7 340.7L618.1 336.0L613.6 340.2ZM627.3 345.6L631.8 341.6L627.2 336.7L622.7 340.7Z" fill="#00e648" stroke="#00e648" stroke-width="0.4"/>
<path d="M586.4 341.6L591.0 336.6L586.6 332.7L582.0 337.7ZM595.4 340.6L600.0 335.9L595.6 331.8L591.0 336.6ZM622.7 340.7L627.2 336.7L622.6 332.0L618.1 336.0ZM631.8 341.6L636.2 337.9L631.6 333.0L627.2 336.7Z" fill="#00e639" stroke="#00e639" stroke-width="0.4"/>
<path d="M582.0 337.7L586.6 332.7L582.3 328.9L577.7 334.0ZM591.0 336.6L595.6 331.8L591.2 327.9L586.6 332.7ZM604.5 340.2L609.1 335.7L604.6 331.4L600.0 335.9ZM613.6 340.2L618.1 336.0L613.6 331.4L609.1 335.7ZM627.2 336.7L631.6 333.0L627.0 328.2L622.6 332.0ZM636.2 337.9L640.6 334.4L635.9 329.5L631.6 333.0Z" fill="#00e62b" stroke="#00e62b" stroke-width="0.4"/>
<path d="M577.7 334.0L582.3 328.9L578.0 325.4L573.4 330.5ZM586.6 332.7L591.2 327.9L586.9 324.1L582.3 328.9ZM600.0 335.9L604.6 331.4L600.2 327.3L595.6 331.8ZM609.1 335.7L613.6 331.4L609.1 327.1L604.6 331.4ZM618.1 336.0L622.6 332.0L618.1 327.4L613.6 331.4ZM631.6 333.0L635.9 329.5L631.4 324.7L627.0 328.2ZM640.6 334.4L644.9 331.2L640.3 326.2L635.9 329.5ZM644.9 331.2L649.1 328.1L644.5 323.1L640.3 326.2Z" fill="#00e61d" stroke="#00e61d" stroke-width="0.4"/>
<path d="M573.4 330.5L578.0 325.4L573.8 322.0L569.2 327.1ZM569.2 327.1L573.8 322.0L569.6 318.8L565.0 323.9ZM582.3 328.9L586.9 324.1L582.6 320.6L578.0 325.4ZM595.6 331.8L600.2 327.3L595.8 323.3L591.2 327.9ZM591.2 327.9L595.8 323.3L591.4 319.6L586.9 324.1ZM604.6 331.4L609.1 327.1L604.7 323.0L600.2 327.3ZM613.6 331.4L618.1 327.4L613.6 323.1L609.1 327.1ZM622.6 332.0L627.0 328.2L622.5 323.6L618.1 327.4ZM618.1 327.4L622.5 323.6L618.0 319.3L613.6 323.1ZM627.0 328.2L631.4 324.7L626.8 320.1L622.5 323.6ZM635.9 329.5L640.3 326.2L635.7 321.4L631.4 324.7ZM640.3 326.2L644.5 323.1L640.0 318.3L635.7 321.4ZM649.1 328.1L653.3 325.3L648.7 320.3L644.5 323.1ZM653.3 325.3L657.4 322.7L652.9 317.6L648.7 320.3ZM657.4 322.7L661.5 320.3L657.0 315.2L652.9 317.6Z" fill="#00e60e" stroke="#00e60e" stroke-width="0.4"/>
<path d="M565.0 323.9L569.6 318.8L565.5 315.8L560.9 320.9ZM560.9 320.9L565.5 315.8L561.4 312.9L556.8 318.0ZM556.8 318.0L561.4 312.9L557.4 310.2L552.8 315.3ZM552.8 315.3L557.4 310.2L553.4 307.6L548.9 312.7ZM548.9 312.7L553.4 307.6L549.5 305.2L545.0 310.3ZM545.0 310.3L549.5 305.2L545.6 303.0L541.1 308.1ZM541.1 308.1L545.6 303.0L541.8 300.9L537.3 306.0ZM537.3 306.0L541.8 300.9L538.1 298.9L533.6 304.1ZM578.0 325.4L582.6 320.6L578.4 317.2L573.8 322.0ZM573.8 322.0L578.4 317.2L574.2 314.0L569.6 318.8ZM569.6 318.8L574.2 314.0L570.0 310.9L565.5 315.8ZM565.5 315.8L570.0 310.9L566.0 308.0L561.4 312.9ZM561.4 312.9L566.0 308.0L561.9 305.3L557.4 310.2ZM557.4 310.2L561.9 305.3L557.9 302.7L553.4 307.6ZM586.9 324.1L591.4 319.6L587.1 316.0L582.6 320.6ZM582.6 320.6L587.1 316.0L582.9 312.6L578.4 317.2ZM578.4 317.2L582.9 312.6L578.7 309.3L574.2 314.0ZM574.2 314.0L578.7 309.3L574.6 306.3L570.0 310.9ZM600.2 327.3L604.7 323.0L600.3 319.0L595.8 323.3ZM595.8 323.3L600.3 319.0L595.9 315.2L591.4 319.6ZM591.4 319.6L595.9 315.2L591.6 311.6L587.1 316.0ZM587.1 316.0L591.6 311.6L587.4 308.2L582.9 312.6ZM609.1 327.1L613.6 323.1L609.1 318.9L604.7 323.0ZM604.7 323.0L609.1 318.9L604.7 314.9L600.3 319.0ZM600.3 319.0L604.7 314.9L600.4 311.1L595.9 315.2ZM595.9 315.2L600.4 311.1L596.1 307.5L591.6 311.6ZM613.6 323.1L618.0 319.3L613.5 315.1L609.1 318.9ZM609.1 318.9L613.5 315.1L609.2 311.1L604.7 314.9ZM604.7 314.9L609.2 311.1L604.8 307.3L600.4 311.1ZM622.5 323.6L626.8 320.1L622.4 315.7L618.0 319.3ZM618.0 319.3L622.4 315.7L617.9 311.5L613.5 315.1ZM613.5 315.1L617.9 311.5L613.5 307.5L609.2 311.1ZM631.4 324.7L635.7 321.4L631.2 316.8L626.8 320.1ZM626.8 320.1L631.2 316.8L626.7 312.3L622.4 315.7ZM622.4 315.7L626.7 312.3L622.2 308.1L617.9 311.5ZM635.7 321.4L640.0 318.3L635.4 313.6L631.2 316.8ZM631.2 316.8L635.4 313.6L631.0 309.2L626.7 312.3ZM644.5 323.1L648.7 320.3L644.2 315.4L640.0 318.3ZM640.0 318.3L644.2 315.4L639.7 310.8L635.4 313.6ZM635.4 313.6L639.7 310.8L635.2 306.3L631.0 309.2ZM648.7 320.3L652.9 317.6L648.3 312.8L644.2 315.4ZM644.2 315.4L648.3 312.8L643.8 308.1L639.7 310.8ZM652.9 317.6L657.0 315.2L652.4 310.3L648.3 312.8ZM648.3 312.8L652.4 310.3L647.9 305.6L643.8 308.1ZM661.5 320.3L665.6 318.1L661.0 313.0L657.0 315.2ZM657.0 315.2L661.0 313.0L656.5 308.1L652.4 310.3ZM652.4 310.3L656.5 308.1L652.0 303.4L647.9 305.6ZM665.6 318.1L669.5 316.1L665.0 311.0L661.0 313.0ZM661.0 313.0L665.0 311.0L660.5 306.1L656.5 308.1ZM669.5 316.1L673.5 314.3L668.9 309.2L665.0 311.0ZM665.0 311.0L668.9 309.2L664.4 304.3L660.5 306.1ZM673.5 314.3L677.3 312.7L672.8 307.6L668.9 309.2ZM668.9 309.2L672.8 307.6L668.3 302.6L664.4 304.3ZM677.3 312.7L681.1 311.3L676.6 306.2L672.8 307.6ZM672.8 307.6L676.6 306.2L672.2 301.2L668.3 302.6ZM681.1 311.3L684.9 310.1L680.4 305.0L676.6 306.2ZM676.6 306.2L680.4 305.0L676.0 300.0L672.2 301.2ZM684.9 310.1L688.6 309.1L684.1 303.9L680.4 305.0ZM680.4 305.0L684.1 303.9L679.7 299.0L676.0 300.0ZM688.6 309.1L692.2 308.3L687.8 303.1L684.1 303.9ZM684.1 303.9L687.8 303.1L683.4 298.1L679.7 299.0Z" fill="#00e600" stroke="#00e600" stroke-width="0.4"/>
<path d="M533.6 304.1L538.1 298.9L534.4 297.2L529.9 302.3ZM529.9 302.3L534.4 297.2L530.7 295.5L526.2 300.6ZM553.4 307.6L557.9 302.7L554.0 300.3L549.5 305.2ZM549.5 305.2L554.0 300.3L550.1 298.1L545.6 303.0ZM545.6 303.0L550.1 298.1L546.3 296.0L541.8 300.9ZM570.0 310.9L574.6 306.3L570.5 303.4L566.0 308.0ZM566.0 308.0L570.5 303.4L566.4 300.7L561.9 305.3ZM582.9 312.6L587.4 308.2L583.2 305.0L578.7 309.3ZM578.7 309.3L583.2 305.0L579.0 301.9L574.6 306.3ZM591.6 311.6L596.1 307.5L591.8 304.1L587.4 308.2ZM600.4 311.1L604.8 307.3L600.5 303.7L596.1 307.5ZM609.2 311.1L613.5 307.5L609.2 303.7L604.8 307.3ZM617.9 311.5L622.2 308.1L617.9 304.1L613.5 307.5ZM626.7 312.3L631.0 309.2L626.5 305.0L622.2 308.1ZM631.0 309.2L635.2 306.3L630.8 302.1L626.5 305.0ZM639.7 310.8L643.8 308.1L639.4 303.6L635.2 306.3ZM643.8 308.1L647.9 305.6L643.5 301.2L639.4 303.6ZM656.5 308.1L660.5 306.1L656.0 301.4L652.0 303.4ZM660.5 306.1L664.4 304.3L660.0 299.5L656.0 301.4ZM664.4 304.3L668.3 302.6L663.9 297.9L660.0 299.5ZM668.3 302.6L672.2 301.2L667.7 296.5L663.9 297.9ZM672.2 301.2L676.0 300.0L671.5 295.2L667.7 296.5ZM676.0 300.0L679.7 299.0L675.3 294.2L671.5 295.2ZM679.7 299.0L683.4 298.1L679.0 293.4L675.3 294.2Z" fill="#0ee600" stroke="#0ee600" stroke-width="0.4"/>
<path d="M541.8 300.9L546.3 296.0L542.5 294.1L538.1 298.9ZM538.1 298.9L542.5 294.1L538.8 292.3L534.4 297.2ZM534.4 297.2L538.8 292.3L535.1 290.7L530.7 295.5ZM561.9 305.3L566.4 300.7L562.4 298.1L557.9 302.7ZM557.9 302.7L562.4 298.1L558.5 295.7L554.0 300.3ZM554.0 300.3L558.5 295.7L554.6 293.5L550.1 298.1ZM574.6 306.3L579.0 301.9L574.9 299.0L570.5 303.4ZM570.5 303.4L574.9 299.0L570.9 296.3L566.4 300.7ZM587.4 308.2L591.8 304.1L587.6 300.8L583.2 305.0ZM583.2 305.0L587.6 300.8L583.5 297.8L579.0 301.9ZM596.1 307.5L600.5 303.7L596.2 300.2L591.8 304.1ZM604.8 307.3L609.2 303.7L604.9 300.0L600.5 303.7ZM613.5 307.5L617.9 304.1L613.5 300.3L609.2 303.7ZM622.2 308.1L626.5 305.0L622.1 300.9L617.9 304.1ZM626.5 305.0L630.8 302.1L626.4 298.0L622.1 300.9ZM635.2 306.3L639.4 303.6L634.9 299.4L630.8 302.1ZM639.4 303.6L643.5 301.2L639.1 296.9L634.9 299.4ZM647.9 305.6L652.0 303.4L647.6 298.9L643.5 301.2ZM652.0 303.4L656.0 301.4L651.6 296.9L647.6 298.9ZM656.0 301.4L660.0 299.5L655.6 295.0L651.6 296.9ZM660.0 299.5L663.9 297.9L659.5 293.4L655.6 295.0ZM663.9 297.9L667.7 296.5L663.3 291.9L659.5 293.4ZM667.7 296.5L671.5 295.2L667.1 290.7L663.3 291.9ZM671.5 295.2L675.3 294.2L670.9 289.7L667.1 290.7ZM675.3 294.2L679.0 293.4L674.6 288.8L670.9 289.7Z" fill="#1de600" stroke="#1de600" stroke-width="0.4"/>
<path d="M550.1 298.1L554.6 293.5L550.8 291.4L546.3 296.0ZM546.3 296.0L550.8 291.4L547.0 289.5L542.5 294.1ZM542.5 294.1L547.0 289.5L543.2 287.7L538.8 292.3ZM538.8 292.3L543.2 287.7L539.6 286.1L535.1 290.7ZM566.4 300.7L570.9 296.3L566.9 293.7L562.4 298.1ZM562.4 298.1L566.9 293.7L562.9 291.3L558.5 295.7ZM579.0 301.9L583.5 297.8L579.4 294.9L574.9 299.0ZM574.9 299.0L579.4 294.9L575.3 292.1L570.9 296.3ZM591.8 304.1L596.2 300.2L592.0 296.9L587.6 300.8ZM587.6 300.8L592.0 296.9L587.9 293.9L583.5 297.8ZM600.5 303.7L604.9 300.0L600.6 296.6L596.2 300.2ZM609.2 303.7L613.5 300.3L609.2 296.6L604.9 300.0ZM617.9 304.1L622.1 300.9L617.8 297.1L613.5 300.3ZM622.1 300.9L626.4 298.0L622.0 294.1L617.8 297.1ZM630.8 302.1L634.9 299.4L630.6 295.3L626.4 298.0ZM634.9 299.4L639.1 296.9L634.7 292.8L630.6 295.3ZM643.5 301.2L647.6 298.9L643.1 294.6L639.1 296.9ZM647.6 298.9L651.6 296.9L647.2 292.5L643.1 294.6ZM651.6 296.9L655.6 295.0L651.2 290.7L647.2 292.5ZM655.6 295.0L659.5 293.4L655.1 289.1L651.2 290.7ZM659.5 293.4L663.3 291.9L659.0 287.6L655.1 289.1ZM663.3 291.9L667.1 290.7L662.8 286.4L659.0 287.6ZM667.1 290.7L670.9 289.7L666.6 285.3L662.8 286.4ZM670.9 289.7L674.6 288.8L670.3 284.5L666.6 285.3Z" fill="#2be600" stroke="#2be600" stroke-width="0.4"/>
<path d="M558.5 295.7L562.9 291.3L559.0 289.1L554.6 293.5ZM554.6 293.5L559.0 289.1L555.2 287.0L550.8 291.4ZM550.8 291.4L555.2 287.0L551.4 285.1L547.0 289.5ZM547.0 289.5L551.4 285.1L547.6 283.3L543.2 287.7ZM570.9 296.3L575.3 292.1L571.3 289.6L566.9 293.7ZM566.9 293.7L571.3 289.6L567.3 287.2L562.9 291.3ZM583.5 297.8L587.9 293.9L583.8 290.9L579.4 294.9ZM579.4 294.9L583.8 290.9L579.7 288.2L575.3 292.1ZM596.2 300.2L600.6 296.6L596.4 293.3L592.0 296.9ZM592.0 296.9L596.4 293.3L592.2 290.2L587.9 293.9ZM604.9 300.0L609.2 296.6L604.9 293.1L600.6 296.6ZM600.6 296.6L604.9 293.1L600.7 289.9L596.4 293.3ZM613.5 300.3L617.8 297.1L613.5 293.4L609.2 296.6ZM609.2 296.6L613.5 293.4L609.2 289.9L604.9 293.1ZM617.8 297.1L622.0 294.1L617.7 290.5L613.5 293.4ZM626.4 298.0L630.6 295.3L626.2 291.4L622.0 294.1ZM630.6 295.3L634.7 292.8L630.4 288.9L626.2 291.4ZM639.1 296.9L643.1 294.6L638.8 290.5L634.7 292.8ZM643.1 294.6L647.2 292.5L642.8 288.4L638.8 290.5ZM647.2 292.5L651.2 290.7L646.8 286.6L642.8 288.4ZM651.2 290.7L655.1 289.1L650.7 284.9L646.8 286.6ZM666.6 285.3L670.3 284.5L666.0 280.3L662.2 281.2Z" fill="#39e600" stroke="#39e600" stroke-width="0.4"/>
<path d="M543.2 287.7L547.6 283.3L543.9 281.7L539.6 286.1ZM562.9 291.3L567.3 287.2L563.4 284.9L559.0 289.1ZM559.0 289.1L563.4 284.9L559.6 282.9L555.2 287.0ZM555.2 287.0L559.6 282.9L555.8 280.9L551.4 285.1ZM575.3 292.1L579.7 288.2L575.7 285.6L571.3 289.6ZM571.3 289.6L575.7 285.6L571.7 283.2L567.3 287.2ZM587.9 293.9L592.2 290.2L588.1 287.3L583.8 290.9ZM583.8 290.9L588.1 287.3L584.1 284.5L579.7 288.2ZM596.4 293.3L600.7 289.9L596.6 286.8L592.2 290.2ZM604.9 293.1L609.2 289.9L605.0 286.7L600.7 289.9ZM613.5 293.4L617.7 290.5L613.5 287.0L609.2 289.9ZM622.0 294.1L626.2 291.4L621.9 287.7L617.7 290.5ZM626.2 291.4L630.4 288.9L626.1 285.2L621.9 287.7ZM634.7 292.8L638.8 290.5L634.4 286.6L630.4 288.9ZM638.8 290.5L642.8 288.4L638.5 284.5L634.4 286.6ZM642.8 288.4L646.8 286.6L642.5 282.7L638.5 284.5ZM646.8 286.6L650.7 284.9L646.4 281.0L642.5 282.7ZM655.1 289.1L659.0 287.6L654.6 283.5L650.7 284.9ZM659.0 287.6L662.8 286.4L658.5 282.3L654.6 283.5ZM662.8 286.4L666.6 285.3L662.2 281.2L658.5 282.3ZM662.2 281.2L666.0 280.3L661.7 276.4L658.0 277.3Z" fill="#48e600" stroke="#48e600" stroke-width="0.4"/>
<path d="M551.4 285.1L555.8 280.9L552.0 279.2L547.6 283.3ZM547.6 283.3L552.0 279.2L548.3 277.6L543.9 281.7ZM567.3 287.2L571.7 283.2L567.8 281.0L563.4 284.9ZM563.4 284.9L567.8 281.0L563.9 278.9L559.6 282.9ZM559.6 282.9L563.9 278.9L560.1 277.0L555.8 280.9ZM579.7 288.2L584.1 284.5L580.0 282.0L575.7 285.6ZM575.7 285.6L580.0 282.0L576.1 279.6L571.7 283.2ZM592.2 290.2L596.6 286.8L592.4 283.8L588.1 287.3ZM588.1 287.3L592.4 283.8L588.4 281.1L584.1 284.5ZM600.7 289.9L605.0 286.7L600.8 283.6L596.6 286.8ZM596.6 286.8L600.8 283.6L596.7 280.6L592.4 283.8ZM609.2 289.9L613.5 287.0L609.2 283.7L605.0 286.7ZM605.0 286.7L609.2 283.7L605.1 280.6L600.8 283.6ZM617.7 290.5L621.9 287.7L617.7 284.2L613.5 287.0ZM613.5 287.0L617.7 284.2L613.4 280.9L609.2 283.7ZM621.9 287.7L626.1 285.2L621.8 281.7L617.7 284.2ZM630.4 288.9L634.4 286.6L630.2 282.9L626.1 285.2ZM626.1 285.2L630.2 282.9L625.9 279.4L621.8 281.7ZM634.4 286.6L638.5 284.5L634.2 280.8L630.2 282.9ZM638.5 284.5L642.5 282.7L638.2 279.0L634.2 280.8ZM642.5 282.7L646.4 281.0L642.2 277.3L638.2 279.0ZM650.7 284.9L654.6 283.5L650.3 279.6L646.4 281.0ZM654.6 283.5L658.5 282.3L654.2 278.3L650.3 279.6ZM658.5 282.3L662.2 281.2L658.0 277.3L654.2 278.3Z" fill="#56e600" stroke="#56e600" stroke-width="0.4"/>
<path d="M555.8 280.9L560.1 277.0L556.3 275.3L552.0 279.2ZM552.0 279.2L556.3 275.3L552.6 273.7L548.3 277.6ZM571.7 283.2L576.1 279.6L572.1 277.3L567.8 281.0ZM567.8 281.0L572.1 277.3L568.3 275.3L563.9 278.9ZM584.1 284.5L588.4 281.1L584.3 278.5L580.0 282.0ZM592.4 283.8L596.7 280.6L592.6 277.9L588.4 281.1ZM600.8 283.6L605.1 280.6L601.0 277.7L596.7 280.6ZM609.2 283.7L613.4 280.9L609.3 277.8L605.1 280.6ZM617.7 284.2L621.8 281.7L617.6 278.4L613.4 280.9ZM630.2 282.9L634.2 280.8L630.0 277.3L625.9 279.4ZM634.2 280.8L638.2 279.0L634.0 275.5L630.0 277.3ZM646.4 281.0L650.3 279.6L646.1 275.9L642.2 277.3ZM650.3 279.6L654.2 278.3L649.9 274.6L646.1 275.9ZM654.2 278.3L658.0 277.3L653.7 273.6L649.9 274.6ZM658.0 277.3L661.7 276.4L657.5 272.7L653.7 273.6Z" fill="#64e600" stroke="#64e600" stroke-width="0.4"/>
<path d="M563.9 278.9L568.3 275.3L564.4 273.4L560.1 277.0ZM560.1 277.0L564.4 273.4L560.7 271.7L556.3 275.3ZM556.3 275.3L560.7 271.7L556.9 270.1L552.6 273.7ZM580.0 282.0L584.3 278.5L580.4 276.1L576.1 279.6ZM576.1 279.6L580.4 276.1L576.4 273.9L572.1 277.3ZM588.4 281.1L592.6 277.9L588.6 275.3L584.3 278.5ZM596.7 280.6L601.0 277.7L596.9 274.9L592.6 277.9ZM605.1 280.6L609.3 277.8L605.1 274.9L601.0 277.7ZM613.4 280.9L617.6 278.4L613.4 275.3L609.3 277.8ZM621.8 281.7L625.9 279.4L621.7 276.1L617.6 278.4ZM625.9 279.4L630.0 277.3L625.8 274.0L621.7 276.1ZM638.2 279.0L642.2 277.3L637.9 273.8L634.0 275.5ZM642.2 277.3L646.1 275.9L641.8 272.4L637.9 273.8ZM646.1 275.9L649.9 274.6L645.7 271.1L641.8 272.4ZM649.9 274.6L653.7 273.6L649.5 270.1L645.7 271.1ZM653.7 273.6L657.5 272.7L653.3 269.2L649.5 270.1Z" fill="#73e600" stroke="#73e600" stroke-width="0.4"/>
<path d="M572.1 277.3L576.4 273.9L572.6 271.9L568.3 275.3ZM568.3 275.3L572.6 271.9L568.7 270.0L564.4 273.4ZM564.4 273.4L568.7 270.0L564.9 268.2L560.7 271.7ZM584.3 278.5L588.6 275.3L584.6 272.9L580.4 276.1ZM580.4 276.1L584.6 272.9L580.7 270.7L576.4 273.9ZM592.6 277.9L596.9 274.9L592.8 272.3L588.6 275.3ZM601.0 277.7L605.1 274.9L601.1 272.2L596.9 274.9ZM609.3 277.8L613.4 275.3L609.3 272.4L605.1 274.9ZM617.6 278.4L621.7 276.1L617.5 273.0L613.4 275.3ZM621.7 276.1L625.8 274.0L621.6 270.9L617.5 273.0ZM630.0 277.3L634.0 275.5L629.8 272.2L625.8 274.0ZM634.0 275.5L637.9 273.8L633.7 270.5L629.8 272.2ZM637.9 273.8L641.8 272.4L637.6 269.0L633.7 270.5ZM641.8 272.4L645.7 271.1L641.5 267.8L637.6 269.0ZM645.7 271.1L649.5 270.1L645.3 266.7L641.5 267.8ZM649.5 270.1L653.3 269.2L649.1 265.9L645.3 266.7Z" fill="#81e600" stroke="#81e600" stroke-width="0.4"/>
<path d="M560.7 271.7L564.9 268.2L561.2 266.7L556.9 270.1ZM576.4 273.9L580.7 270.7L576.8 268.7L572.6 271.9ZM572.6 271.9L576.8 268.7L573.0 266.8L568.7 270.0ZM588.6 275.3L592.8 272.3L588.9 270.0L584.6 272.9ZM584.6 272.9L588.9 270.0L584.9 267.7L580.7 270.7ZM596.9 274.9L601.1 272.2L597.0 269.6L592.8 272.3ZM605.1 274.9L609.3 272.4L605.2 269.6L601.1 272.2ZM613.4 275.3L617.5 273.0L613.4 270.1L609.3 272.4ZM617.5 273.0L621.6 270.9L617.5 268.0L613.4 270.1ZM625.8 274.0L629.8 272.2L625.6 269.0L621.6 270.9ZM629.8 272.2L633.7 270.5L629.6 267.4L625.6 269.0ZM633.7 270.5L637.6 269.0L633.5 265.9L629.6 267.4ZM637.6 269.0L641.5 267.8L637.4 264.7L633.5 265.9ZM641.5 267.8L645.3 266.7L641.2 263.6L637.4 264.7ZM645.3 266.7L649.1 265.9L645.0 262.8L641.2 263.6Z" fill="#8fe600" stroke="#8fe600" stroke-width="0.4"/>
<path d="M568.7 270.0L573.0 266.8L569.2 265.1L564.9 268.2ZM564.9 268.2L569.2 265.1L565.4 263.5L561.2 266.7ZM580.7 270.7L584.9 267.7L581.0 265.7L576.8 268.7ZM576.8 268.7L581.0 265.7L577.2 263.8L573.0 266.8ZM592.8 272.3L597.0 269.6L593.0 267.2L588.9 270.0ZM588.9 270.0L593.0 267.2L589.1 265.0L584.9 267.7ZM601.1 272.2L605.2 269.6L601.2 267.1L597.0 269.6ZM597.0 269.6L601.2 267.1L597.2 264.7L593.0 267.2ZM609.3 272.4L613.4 270.1L609.3 267.3L605.2 269.6ZM605.2 269.6L609.3 267.3L605.3 264.8L601.2 267.1ZM613.4 270.1L617.5 268.0L613.4 265.2L609.3 267.3ZM621.6 270.9L625.6 269.0L621.5 266.1L617.5 268.0ZM625.6 269.0L629.6 267.4L625.5 264.5L621.5 266.1ZM629.6 267.4L633.5 265.9L629.4 263.0L625.5 264.5ZM633.5 265.9L637.4 264.7L633.3 261.8L629.4 263.0ZM637.4 264.7L641.2 263.6L637.1 260.7L633.3 261.8ZM641.2 263.6L645.0 262.8L640.9 259.9L637.1 260.7Z" fill="#9ee600" stroke="#9ee600" stroke-width="0.4"/>
<path d="M573.0 266.8L577.2 263.8L573.4 262.1L569.2 265.1ZM569.2 265.1L573.4 262.1L569.6 260.6L565.4 263.5ZM584.9 267.7L589.1 265.0L585.2 263.0L581.0 265.7ZM581.0 265.7L585.2 263.0L581.4 261.1L577.2 263.8ZM593.0 267.2L597.2 264.7L593.2 262.5L589.1 265.0ZM601.2 267.1L605.3 264.8L601.3 262.4L597.2 264.7ZM609.3 267.3L613.4 265.2L609.4 262.7L605.3 264.8ZM617.5 268.0L621.5 266.1L617.4 263.4L613.4 265.2ZM613.4 265.2L617.4 263.4L613.4 260.8L609.4 262.7ZM621.5 266.1L625.5 264.5L621.4 261.7L617.4 263.4ZM625.5 264.5L629.4 263.0L625.3 260.3L621.4 261.7ZM629.4 263.0L633.3 261.8L629.2 259.0L625.3 260.3ZM633.3 261.8L637.1 260.7L633.0 258.0L629.2 259.0ZM637.1 260.7L640.9 259.9L636.8 257.2L633.0 258.0Z" fill="#ace600" stroke="#ace600" stroke-width="0.4"/>
<path d="M577.2 263.8L581.4 261.1L577.6 259.4L573.4 262.1ZM573.4 262.1L577.6 259.4L573.8 257.9L569.6 260.6ZM589.1 265.0L593.2 262.5L589.3 260.5L585.2 263.0ZM585.2 263.0L589.3 260.5L585.5 258.6L581.4 261.1ZM581.4 261.1L585.5 258.6L581.7 256.9L577.6 259.4ZM597.2 264.7L601.3 262.4L597.4 260.2L593.2 262.5ZM593.2 262.5L597.4 260.2L593.4 258.2L589.3 260.5ZM605.3 264.8L609.4 262.7L605.4 260.3L601.3 262.4ZM601.3 262.4L605.4 260.3L601.4 258.1L597.4 260.2ZM609.4 262.7L613.4 260.8L609.4 258.5L605.4 260.3ZM617.4 263.4L621.4 261.7L617.3 259.2L613.4 260.8ZM621.4 261.7L625.3 260.3L621.3 257.7L617.3 259.2ZM625.3 260.3L629.2 259.0L625.2 256.5L621.3 257.7ZM629.2 259.0L633.0 258.0L629.0 255.5L625.2 256.5ZM633.0 258.0L636.8 257.2L632.8 254.7L629.0 255.5Z" fill="#bae600" stroke="#bae600" stroke-width="0.4"/>
<path d="M577.6 259.4L581.7 256.9L577.9 255.4L573.8 257.9ZM589.3 260.5L593.4 258.2L589.6 256.4L585.5 258.6ZM585.5 258.6L589.6 256.4L585.8 254.7L581.7 256.9ZM597.4 260.2L601.4 258.1L597.5 256.1L593.4 258.2ZM593.4 258.2L597.5 256.1L593.6 254.3L589.6 256.4ZM605.4 260.3L609.4 258.5L605.4 256.3L601.4 258.1ZM601.4 258.1L605.4 256.3L601.5 254.3L597.5 256.1ZM613.4 260.8L617.3 259.2L613.4 256.8L609.4 258.5ZM609.4 258.5L613.4 256.8L609.4 254.7L605.4 256.3ZM617.3 259.2L621.3 257.7L617.3 255.4L613.4 256.8ZM621.3 257.7L625.2 256.5L621.2 254.2L617.3 255.4ZM625.2 256.5L629.0 255.5L625.0 253.2L621.2 254.2ZM629.0 255.5L632.8 254.7L628.8 252.4L625.0 253.2Z" fill="#c9e600" stroke="#c9e600" stroke-width="0.4"/>
<path d="M581.7 256.9L585.8 254.7L582.0 253.2L577.9 255.4ZM589.6 256.4L593.6 254.3L589.8 252.7L585.8 254.7ZM585.8 254.7L589.8 252.7L586.1 251.2L582.0 253.2ZM597.5 256.1L601.5 254.3L597.7 252.5L593.6 254.3ZM593.6 254.3L597.7 252.5L593.8 250.8L589.8 252.7ZM605.4 256.3L609.4 254.7L605.5 252.7L601.5 254.3ZM601.5 254.3L605.5 252.7L601.6 250.9L597.7 252.5ZM613.4 256.8L617.3 255.4L613.3 253.2L609.4 254.7ZM609.4 254.7L613.3 253.2L609.4 251.3L605.5 252.7ZM617.3 255.4L621.2 254.2L617.2 252.0L613.3 253.2ZM613.3 253.2L617.2 252.0L613.3 250.1L609.4 251.3ZM621.2 254.2L625.0 253.2L621.1 251.0L617.2 252.0ZM617.2 252.0L621.1 251.0L617.2 249.1L613.3 250.1ZM625.0 253.2L628.8 252.4L624.9 250.2L621.1 251.0ZM621.1 251.0L624.9 250.2L621.0 248.3L617.2 249.1Z" fill="#d7e600" stroke="#d7e600" stroke-width="0.4"/>
<path d="M589.8 252.7L593.8 250.8L590.1 249.4L586.1 251.2ZM597.7 252.5L601.6 250.9L597.8 249.2L593.8 250.8ZM593.8 250.8L597.8 249.2L594.1 247.8L590.1 249.4ZM605.5 252.7L609.4 251.3L605.6 249.5L601.6 250.9ZM601.6 250.9L605.6 249.5L601.8 247.9L597.8 249.2ZM597.8 249.2L601.8 247.9L598.0 246.4L594.1 247.8ZM609.4 251.3L613.3 250.1L609.5 248.3L605.6 249.5ZM605.6 249.5L609.5 248.3L605.6 246.7L601.8 247.9ZM613.3 250.1L617.2 249.1L613.3 247.3L609.5 248.3ZM609.5 248.3L613.3 247.3L609.5 245.7L605.6 246.7ZM617.2 249.1L621.0 248.3L617.1 246.5L613.3 247.3ZM613.3 247.3L617.1 246.5L613.3 245.0L609.5 245.7Z" fill="#e6e600" stroke="#e6e600" stroke-width="0.4"/>
<path d="M601.8 247.9L605.6 246.7L601.9 245.3L598.0 246.4ZM605.6 246.7L609.5 245.7L605.7 244.3L601.9 245.3ZM609.5 245.7L613.3 245.0L609.5 243.6L605.7 244.3Z" fill="#e6d700" stroke="#e6d700" stroke-width="0.4"/>
<path d="M609.0 363.6L602.9 357.3L596.8 351.3L590.8 345.6L584.9 340.3L579.1 335.2L573.4 330.5L567.8 326.0L562.3 321.9L556.8 318.0L551.5 314.4L546.3 311.1L541.1 308.1L536.1 305.3L531.1 302.8L526.2 300.6M609.0 363.6L615.2 357.2L621.3 351.2L627.3 345.6L633.3 340.4L639.1 335.6L644.9 331.2L650.5 327.2L656.1 323.5L661.5 320.3L666.9 317.4L672.2 314.9L677.3 312.7L682.4 310.9L687.4 309.4L692.2 308.3M611.3 361.1L605.2 354.8L599.1 348.8L593.1 343.1L587.2 337.7L581.4 332.7L575.7 327.9L570.1 323.4L564.6 319.3L559.1 315.4L553.8 311.8L548.5 308.5L543.4 305.5L538.3 302.7L533.4 300.3L528.5 298.0M606.7 361.2L612.9 354.7L619.0 348.7L625.0 343.1L630.9 337.9L636.8 333.1L642.5 328.6L648.2 324.6L653.8 321.0L659.2 317.7L664.6 314.8L669.9 312.3L675.1 310.1L680.2 308.3L685.1 306.8L690.0 305.7M613.7 358.7L607.5 352.4L601.4 346.3L595.4 340.6L589.5 335.2L583.7 330.2L578.0 325.4L572.4 320.9L566.9 316.8L561.4 312.9L556.1 309.3L550.8 306.0L545.6 303.0L540.6 300.2L535.6 297.7L530.7 295.5M604.4 358.8L610.6 352.4L616.7 346.3L622.7 340.7L628.6 335.4L634.5 330.6L640.3 326.2L645.9 322.1L651.5 318.5L657.0 315.2L662.3 312.3L667.6 309.8L672.8 307.6L677.9 305.7L682.9 304.3L687.8 303.1M616.0 356.4L609.8 350.0L603.7 344.0L597.7 338.2L591.8 332.8L586.0 327.7L580.3 323.0L574.7 318.5L569.1 314.3L563.7 310.4L558.3 306.8L553.1 303.5L547.9 300.5L542.8 297.7L537.8 295.3L532.9 293.1M602.1 356.5L608.3 350.0L614.4 343.9L620.4 338.3L626.4 333.0L632.2 328.2L638.0 323.7L643.6 319.7L649.2 316.0L654.7 312.7L660.1 309.8L665.4 307.3L670.6 305.1L675.7 303.2L680.7 301.8L685.6 300.6M618.3 354.1L612.1 347.7L606.0 341.6L600.0 335.9L594.1 330.5L588.3 325.4L582.6 320.6L577.0 316.1L571.4 311.9L566.0 308.0L560.6 304.4L555.3 301.1L550.1 298.1L545.0 295.3L540.0 292.9L535.1 290.7M599.8 354.3L606.0 347.7L612.1 341.6L618.1 336.0L624.1 330.7L629.9 325.8L635.7 321.4L641.4 317.3L646.9 313.6L652.4 310.3L657.8 307.4L663.1 304.8L668.3 302.6L673.4 300.8L678.5 299.3L683.4 298.1M620.6 351.9L614.4 345.5L608.3 339.4L602.3 333.6L596.4 328.2L590.6 323.1L584.9 318.2L579.2 313.8L573.7 309.6L568.2 305.7L562.8 302.1L557.6 298.8L552.4 295.7L547.3 293.0L542.3 290.5L537.4 288.3M597.5 352.0L603.7 345.5L609.8 339.4L615.9 333.7L621.8 328.4L627.7 323.5L633.4 319.0L639.1 315.0L644.7 311.3L650.2 307.9L655.6 305.0L660.9 302.4L666.1 300.2L671.2 298.4L676.2 296.9L681.2 295.7M622.8 349.7L616.7 343.3L610.6 337.2L604.6 331.4L598.7 325.9L592.9 320.8L587.1 316.0L581.5 311.5L575.9 307.3L570.5 303.4L565.1 299.8L559.8 296.5L554.6 293.5L549.5 290.7L544.5 288.3L539.6 286.1M595.3 349.8L601.5 343.3L607.6 337.2L613.6 331.4L619.5 326.1L625.4 321.2L631.2 316.8L636.8 312.7L642.4 309.0L647.9 305.6L653.3 302.7L658.7 300.1L663.9 297.9L669.0 296.0L674.0 294.5L679.0 293.4M625.1 347.6L618.9 341.1L612.8 335.0L606.9 329.2L600.9 323.8L595.1 318.6L589.4 313.8L583.7 309.3L578.2 305.1L572.7 301.2L567.3 297.6L562.0 294.3L556.8 291.2L551.7 288.5L546.7 286.0L541.8 283.9M593.0 347.7L599.2 341.1L605.3 335.0L611.3 329.3L617.3 323.9L623.1 319.0L628.9 314.5L634.6 310.4L640.2 306.7L645.7 303.4L651.1 300.4L656.4 297.8L661.7 295.6L666.8 293.8L671.8 292.2L676.8 291.1M627.3 345.6L621.2 339.1L615.1 332.9L609.1 327.1L603.2 321.6L597.4 316.5L591.6 311.6L586.0 307.1L580.4 302.9L574.9 299.0L569.5 295.4L564.2 292.1L559.0 289.1L553.9 286.3L548.9 283.9L543.9 281.7M590.8 345.6L597.0 339.0L603.1 332.9L609.1 327.1L615.0 321.8L620.9 316.9L626.7 312.3L632.4 308.2L638.0 304.5L643.5 301.2L648.9 298.2L654.2 295.6L659.5 293.4L664.6 291.5L669.7 290.0L674.6 288.8M629.6 343.6L623.4 337.1L617.3 330.9L611.3 325.1L605.4 319.6L599.6 314.4L593.9 309.6L588.2 305.0L582.6 300.8L577.2 296.9L571.8 293.3L566.5 290.0L561.2 287.0L556.1 284.2L551.1 281.8L546.1 279.6M588.6 343.6L594.8 337.0L600.9 330.8L606.9 325.0L612.8 319.7L618.7 314.7L624.5 310.2L630.2 306.1L635.8 302.3L641.3 299.0L646.7 296.0L652.0 293.4L657.3 291.2L662.4 289.3L667.5 287.8L672.4 286.6M631.8 341.6L625.6 335.1L619.6 328.9L613.6 323.1L607.7 317.6L601.8 312.4L596.1 307.5L590.4 303.0L584.9 298.8L579.4 294.9L574.0 291.2L568.7 287.9L563.4 284.9L558.3 282.2L553.3 279.8L548.3 277.6M586.4 341.6L592.5 334.9L598.6 328.7L604.7 323.0L610.6 317.6L616.5 312.7L622.2 308.1L627.9 304.0L633.5 300.2L639.1 296.9L644.5 293.9L649.8 291.3L655.1 289.1L660.2 287.2L665.3 285.7L670.3 284.5M634.0 339.7L627.8 333.2L621.8 327.0L615.8 321.1L609.9 315.6L604.0 310.4L598.3 305.6L592.6 301.0L587.1 296.8L581.6 292.9L576.2 289.3L570.9 286.0L565.6 282.9L560.5 280.2L555.4 277.8L550.5 275.6M584.2 339.6L590.3 333.0L596.4 326.8L602.5 321.0L608.4 315.6L614.3 310.6L620.0 306.1L625.7 301.9L631.4 298.2L636.9 294.8L642.3 291.8L647.7 289.2L652.9 287.0L658.1 285.1L663.1 283.6L668.1 282.4M636.2 337.9L630.0 331.4L624.0 325.1L618.0 319.3L612.1 313.7L606.2 308.5L600.5 303.7L594.8 299.1L589.3 294.9L583.8 290.9L578.4 287.3L573.0 284.0L567.8 281.0L562.7 278.3L557.6 275.9L552.6 273.7M582.0 337.7L588.2 331.0L594.3 324.8L600.3 319.0L606.2 313.6L612.1 308.7L617.9 304.1L623.5 299.9L629.2 296.2L634.7 292.8L640.1 289.8L645.5 287.2L650.7 284.9L655.9 283.1L661.0 281.5L666.0 280.3M638.4 336.1L632.2 329.6L626.2 323.3L620.2 317.5L614.3 311.9L608.4 306.7L602.7 301.8L597.0 297.2L591.4 293.0L585.9 289.1L580.5 285.5L575.2 282.2L570.0 279.2L564.8 276.4L559.8 274.0L554.8 271.9M579.8 335.8L586.0 329.2L592.1 322.9L598.1 317.1L604.0 311.7L609.9 306.7L615.7 302.1L621.4 298.0L627.0 294.2L632.5 290.8L638.0 287.8L643.3 285.2L648.6 283.0L653.8 281.1L658.8 279.5L663.8 278.4M640.6 334.4L634.4 327.8L628.3 321.6L622.4 315.7L616.4 310.1L610.6 304.9L604.9 300.0L599.2 295.4L593.6 291.2L588.1 287.3L582.7 283.7L577.4 280.4L572.1 277.3L567.0 274.6L561.9 272.2L556.9 270.1M577.7 334.0L583.8 327.3L589.9 321.1L595.9 315.2L601.9 309.8L607.7 304.8L613.5 300.3L619.2 296.1L624.8 292.3L630.4 288.9L635.8 285.9L641.2 283.3L646.4 281.0L651.6 279.1L656.7 277.6L661.7 276.4M642.7 332.8L636.6 326.2L630.5 319.9L624.5 314.0L618.6 308.4L612.8 303.2L607.0 298.3L601.4 293.7L595.8 289.5L590.3 285.5L584.9 281.9L579.5 278.6L574.3 275.6L569.1 272.9L564.1 270.5L559.1 268.4M575.5 332.2L581.7 325.5L587.8 319.3L593.8 313.4L599.7 308.0L605.6 303.0L611.3 298.4L617.0 294.2L622.7 290.4L628.2 287.0L633.7 284.0L639.0 281.4L644.3 279.1L649.5 277.3L654.6 275.7L659.6 274.5M644.9 331.2L638.7 324.5L632.7 318.3L626.7 312.3L620.8 306.8L614.9 301.5L609.2 296.6L603.5 292.0L597.9 287.8L592.4 283.8L587.0 280.2L581.7 276.9L576.4 273.9L571.3 271.2L566.2 268.8L561.2 266.7M573.4 330.5L579.5 323.8L585.6 317.5L591.6 311.6L597.6 306.2L603.4 301.2L609.2 296.6L614.9 292.4L620.5 288.6L626.1 285.2L631.5 282.2L636.9 279.6L642.2 277.3L647.3 275.4L652.4 273.9L657.5 272.7M647.0 329.6L640.9 323.0L634.8 316.7L628.8 310.7L622.9 305.2L617.1 299.9L611.3 295.0L605.7 290.4L600.1 286.1L594.6 282.2L589.2 278.6L583.8 275.3L578.6 272.3L573.4 269.6L568.3 267.2L563.3 265.1M571.3 328.8L577.4 322.0L583.5 315.8L589.5 309.9L595.4 304.5L601.3 299.5L607.1 294.8L612.8 290.6L618.4 286.8L623.9 283.4L629.4 280.4L634.8 277.8L640.0 275.5L645.2 273.6L650.3 272.1L655.4 270.9M649.1 328.1L643.0 321.5L636.9 315.2L631.0 309.2L625.1 303.6L619.2 298.3L613.5 293.4L607.8 288.8L602.2 284.6L596.7 280.6L591.3 277.0L586.0 273.7L580.7 270.7L575.5 268.0L570.4 265.6L565.4 263.5M569.2 327.1L575.3 320.4L581.4 314.1L587.4 308.2L593.3 302.8L599.2 297.7L604.9 293.1L610.6 288.9L616.3 285.1L621.8 281.7L627.3 278.7L632.6 276.1L637.9 273.8L643.1 271.9L648.2 270.4L653.3 269.2M651.2 326.7L645.1 320.0L639.0 313.7L633.1 307.7L627.2 302.1L621.4 296.8L615.6 291.9L609.9 287.3L604.3 283.1L598.8 279.1L593.4 275.5L588.1 272.2L582.8 269.2L577.6 266.5L572.5 264.1L567.5 262.0M567.1 325.5L573.2 318.7L579.3 312.4L585.3 306.6L591.2 301.1L597.0 296.1L602.8 291.5L608.5 287.3L614.2 283.5L619.7 280.0L625.2 277.0L630.5 274.4L635.8 272.1L641.0 270.2L646.1 268.7L651.2 267.5M653.3 325.3L647.2 318.6L641.2 312.3L635.2 306.3L629.3 300.7L623.5 295.4L617.7 290.5L612.1 285.9L606.5 281.6L601.0 277.7L595.5 274.0L590.2 270.7L584.9 267.7L579.7 265.1L574.6 262.7L569.6 260.6M565.0 323.9L571.1 317.2L577.2 310.9L583.2 305.0L589.1 299.5L595.0 294.5L600.7 289.9L606.4 285.6L612.0 281.8L617.6 278.4L623.1 275.4L628.4 272.8L633.7 270.5L638.9 268.6L644.1 267.1L649.1 265.9M655.4 324.0L649.3 317.3L643.2 310.9L637.3 304.9L631.4 299.3L625.6 294.0L619.8 289.1L614.2 284.5L608.6 280.2L603.1 276.2L597.6 272.6L592.3 269.3L587.0 266.3L581.8 263.7L576.7 261.3L571.7 259.2M563.0 322.4L569.1 315.6L575.1 309.3L581.1 303.4L587.0 298.0L592.9 292.9L598.6 288.3L604.3 284.1L610.0 280.3L615.5 276.8L621.0 273.8L626.3 271.2L631.6 268.9L636.9 267.0L642.0 265.5L647.0 264.3M657.4 322.7L651.3 316.0L645.3 309.6L639.4 303.6L633.5 298.0L627.7 292.7L621.9 287.7L616.2 283.1L610.7 278.8L605.1 274.9L599.7 271.3L594.4 268.0L589.1 265.0L583.9 262.3L578.8 260.0L573.8 257.9M560.9 320.9L567.0 314.1L573.1 307.8L579.0 301.9L584.9 296.4L590.8 291.4L596.6 286.8L602.3 282.5L607.9 278.7L613.4 275.3L618.9 272.3L624.3 269.6L629.6 267.4L634.8 265.5L639.9 264.0L645.0 262.8M659.5 321.5L653.4 314.7L647.4 308.4L641.4 302.4L635.5 296.7L629.7 291.4L624.0 286.4L618.3 281.8L612.7 277.6L607.2 273.6L601.8 270.0L596.4 266.7L591.2 263.7L586.0 261.1L580.9 258.7L575.9 256.6M558.9 319.4L565.0 312.7L571.0 306.3L577.0 300.4L582.9 295.0L588.7 289.9L594.5 285.3L600.2 281.1L605.8 277.2L611.4 273.8L616.8 270.8L622.2 268.2L627.5 265.9L632.7 264.0L637.9 262.5L642.9 261.3M661.5 320.3L655.5 313.5L649.4 307.2L643.5 301.2L637.6 295.5L631.8 290.2L626.1 285.2L620.4 280.6L614.8 276.3L609.3 272.4L603.9 268.8L598.5 265.5L593.2 262.5L588.1 259.8L582.9 257.5L577.9 255.4M556.8 318.0L562.9 311.2L569.0 304.9L574.9 299.0L580.8 293.5L586.7 288.5L592.4 283.8L598.1 279.6L603.8 275.8L609.3 272.4L614.8 269.3L620.2 266.7L625.5 264.5L630.7 262.6L635.8 261.1L640.9 259.9M663.6 319.2L657.5 312.4L651.5 306.0L645.5 300.0L639.7 294.3L633.8 289.0L628.1 284.0L622.5 279.4L616.9 275.1L611.4 271.2L605.9 267.6L600.6 264.3L595.3 261.3L590.1 258.7L585.0 256.3L580.0 254.3M554.8 316.6L560.9 309.9L566.9 303.5L572.9 297.6L578.8 292.1L584.6 287.1L590.4 282.4L596.1 278.2L601.7 274.4L607.3 271.0L612.7 268.0L618.1 265.3L623.4 263.1L628.6 261.2L633.8 259.7L638.8 258.5M665.6 318.1L659.5 311.3L653.5 304.9L647.6 298.9L641.7 293.2L635.9 287.9L630.2 282.9L624.5 278.3L618.9 274.0L613.4 270.1L608.0 266.5L602.6 263.2L597.4 260.2L592.2 257.6L587.0 255.2L582.0 253.2M552.8 315.3L558.9 308.5L564.9 302.2L570.9 296.3L576.8 290.8L582.6 285.7L588.4 281.1L594.1 276.9L599.7 273.0L605.2 269.6L610.7 266.6L616.1 264.0L621.4 261.7L626.6 259.8L631.8 258.3L636.8 257.2M667.6 317.1L661.5 310.3L655.5 303.9L649.6 297.8L643.7 292.2L637.9 286.8L632.2 281.9L626.5 277.2L621.0 272.9L615.4 269.0L610.0 265.4L604.7 262.1L599.4 259.1L594.2 256.5L589.1 254.2L584.0 252.2M550.9 314.0L556.9 307.2L562.9 300.9L568.9 295.0L574.8 289.5L580.6 284.4L586.3 279.8L592.0 275.6L597.7 271.7L603.2 268.3L608.7 265.3L614.1 262.7L619.4 260.4L624.6 258.6L629.7 257.1L634.8 255.9M669.5 316.1L663.5 309.3L657.5 302.9L651.6 296.9L645.7 291.2L639.9 285.8L634.2 280.8L628.6 276.2L623.0 271.9L617.5 268.0L612.0 264.4L606.7 261.1L601.4 258.1L596.2 255.5L591.1 253.2L586.1 251.2M548.9 312.7L554.9 306.0L560.9 299.6L566.9 293.7L572.8 288.2L578.6 283.2L584.3 278.5L590.0 274.3L595.6 270.5L601.2 267.1L606.6 264.1L612.0 261.4L617.3 259.2L622.6 257.3L627.7 255.8L632.8 254.7M671.5 315.2L665.5 308.4L659.5 302.0L653.6 295.9L647.7 290.2L641.9 284.9L636.2 279.9L630.6 275.3L625.0 271.0L619.5 267.0L614.1 263.4L608.7 260.1L603.4 257.2L598.2 254.6L593.1 252.3L588.1 250.3M546.9 311.5L553.0 304.7L559.0 298.4L564.9 292.5L570.8 287.0L576.6 281.9L582.3 277.3L588.0 273.1L593.6 269.3L599.2 265.9L604.6 262.8L610.0 260.2L615.3 258.0L620.6 256.1L625.7 254.6L630.8 253.5M673.5 314.3L667.4 307.5L661.5 301.1L655.6 295.0L649.7 289.3L643.9 284.0L638.2 279.0L632.6 274.3L627.0 270.1L621.5 266.1L616.1 262.5L610.7 259.2L605.4 256.3L600.2 253.7L595.1 251.4L590.1 249.4M545.0 310.3L551.0 303.6L557.0 297.2L562.9 291.3L568.8 285.8L574.6 280.8L580.4 276.1L586.0 271.9L591.7 268.1L597.2 264.7L602.7 261.7L608.0 259.1L613.4 256.8L618.6 255.0L623.7 253.5L628.8 252.4M675.4 313.5L669.4 306.7L663.4 300.2L657.5 294.2L651.7 288.5L645.9 283.1L640.2 278.1L634.5 273.5L629.0 269.2L623.5 265.3L618.1 261.7L612.7 258.4L607.4 255.5L602.2 252.8L597.1 250.5L592.1 248.6M543.0 309.2L549.1 302.4L555.1 296.1L561.0 290.2L566.8 284.7L572.6 279.6L578.4 275.0L584.1 270.8L589.7 267.0L595.2 263.6L600.7 260.6L606.1 258.0L611.4 255.7L616.6 253.9L621.8 252.4L626.8 251.3M677.3 312.7L671.3 305.9L665.4 299.5L659.5 293.4L653.6 287.7L647.9 282.3L642.2 277.3L636.5 272.7L631.0 268.4L625.5 264.5L620.0 260.9L614.7 257.6L609.4 254.7L604.2 252.1L599.1 249.8L594.1 247.8M541.1 308.1L547.1 301.3L553.1 295.0L559.0 289.1L564.9 283.6L570.7 278.5L576.4 273.9L582.1 269.7L587.7 265.9L593.2 262.5L598.7 259.5L604.1 256.9L609.4 254.7L614.6 252.8L619.8 251.3L624.9 250.2M679.3 312.0L673.2 305.2L667.3 298.7L661.4 292.6L655.6 286.9L649.8 281.6L644.1 276.6L638.5 271.9L632.9 267.6L627.4 263.7L622.0 260.1L616.7 256.9L611.4 253.9L606.2 251.3L601.1 249.1L596.0 247.1M539.2 307.0L545.2 300.3L551.2 293.9L557.1 288.0L563.0 282.5L568.8 277.5L574.5 272.9L580.2 268.7L585.8 264.9L591.3 261.5L596.8 258.5L602.1 255.9L607.5 253.6L612.7 251.8L617.8 250.3L622.9 249.2M681.1 311.3L675.2 304.5L669.2 298.0L663.3 291.9L657.5 286.2L651.8 280.9L646.1 275.9L640.4 271.2L634.9 266.9L629.4 263.0L624.0 259.4L618.6 256.2L613.3 253.2L608.1 250.7L603.0 248.4L598.0 246.4M537.3 306.0L543.3 299.2L549.3 292.9L555.2 287.0L561.0 281.5L566.8 276.5L572.6 271.9L578.2 267.7L583.8 263.9L589.3 260.5L594.8 257.5L600.2 254.9L605.5 252.7L610.7 250.8L615.9 249.4L621.0 248.3M683.0 310.7L677.0 303.9L671.1 297.4L665.2 291.3L659.4 285.6L653.7 280.2L648.0 275.2L642.4 270.6L636.8 266.3L631.3 262.4L625.9 258.8L620.6 255.5L615.3 252.6L610.1 250.0L605.0 247.8L599.9 245.8M535.4 305.0L541.4 298.2L547.4 291.9L553.3 286.0L559.1 280.6L564.9 275.5L570.6 270.9L576.3 266.7L581.9 262.9L587.4 259.5L592.9 256.5L598.3 254.0L603.6 251.8L608.8 249.9L614.0 248.5L619.0 247.4M684.9 310.1L678.9 303.3L673.0 296.8L667.1 290.7L661.3 285.0L655.6 279.6L649.9 274.6L644.3 270.0L638.7 265.7L633.3 261.8L627.8 258.2L622.5 254.9L617.2 252.0L612.0 249.5L606.9 247.2L601.9 245.3M533.6 304.1L539.6 297.3L545.5 291.0L551.4 285.1L557.2 279.6L563.0 274.6L568.7 270.0L574.4 265.8L580.0 262.0L585.5 258.6L590.9 255.6L596.3 253.1L601.6 250.9L606.9 249.1L612.0 247.6L617.1 246.5M686.8 309.6L680.8 302.8L674.9 296.3L669.0 290.2L663.2 284.4L657.5 279.1L651.8 274.1L646.2 269.4L640.7 265.2L635.2 261.2L629.8 257.6L624.4 254.4L619.2 251.5L614.0 248.9L608.8 246.7L603.8 244.8M531.7 303.1L537.7 296.4L543.6 290.1L549.5 284.2L555.3 278.7L561.1 273.7L566.8 269.1L572.5 264.9L578.1 261.1L583.6 257.8L589.0 254.8L594.4 252.2L599.7 250.0L605.0 248.2L610.1 246.8L615.2 245.7M688.6 309.1L682.7 302.3L676.7 295.8L670.9 289.7L665.1 283.9L659.4 278.6L653.7 273.6L648.1 268.9L642.6 264.7L637.1 260.7L631.7 257.2L626.3 253.9L621.1 251.0L615.9 248.5L610.8 246.2L605.7 244.3M529.9 302.3L535.8 295.5L541.8 289.2L547.6 283.3L553.5 277.9L559.2 272.8L564.9 268.2L570.6 264.1L576.2 260.3L581.7 256.9L587.1 254.0L592.5 251.4L597.8 249.2L603.1 247.5L608.2 246.0L613.3 245.0M690.4 308.7L684.5 301.8L678.6 295.3L672.8 289.2L667.0 283.5L661.3 278.1L655.6 273.1L650.0 268.5L644.5 264.2L639.0 260.3L633.6 256.7L628.2 253.5L623.0 250.6L617.8 248.1L612.7 245.8L607.6 243.9M528.1 301.4L534.0 294.7L539.9 288.4L545.8 282.5L551.6 277.1L557.4 272.0L563.1 267.4L568.7 263.3L574.3 259.5L579.8 256.2L585.2 253.2L590.6 250.7L595.9 248.5L601.2 246.7L606.3 245.3L611.4 244.3M692.2 308.3L686.3 301.4L680.4 294.9L674.6 288.8L668.8 283.1L663.1 277.7L657.5 272.7L651.9 268.1L646.3 263.8L640.9 259.9L635.5 256.3L630.1 253.1L624.9 250.2L619.7 247.7L614.6 245.5L609.5 243.6M526.2 300.6L532.2 293.9L538.1 287.6L543.9 281.7L549.7 276.3L555.5 271.3L561.2 266.7L566.8 262.5L572.4 258.8L577.9 255.4L583.4 252.5L588.7 250.0L594.1 247.8L599.3 246.0L604.4 244.6L609.5 243.6" fill="none" stroke="#000" stroke-opacity="0.75" stroke-width="0.6"/>
<path d="M529.8 365.1L523.6 254.6L609.6 234.9L694.8 254.6L689.4 365.7" fill="none" stroke="#555" stroke-width="0.9"/>
<text x="491.0" y="240.6" class="pl">f)</text>
<text x="520.8" y="261.2" class="tk" text-anchor="end" textLength="7.52" lengthAdjust="spacingAndGlyphs">2.2</text>
<text x="521.6" y="281.7" class="tk" text-anchor="end" textLength="7.52" lengthAdjust="spacingAndGlyphs">1.9</text>
<path d="M523.6 275.4H525.1" stroke="#222" stroke-width="0.9"/>
<text x="522.5" y="303.4" class="tk" text-anchor="end" textLength="7.52" lengthAdjust="spacingAndGlyphs">1.6</text>
<path d="M524.8 297.1H526.3" stroke="#222" stroke-width="0.9"/>
<text x="523.3" y="323.7" class="tk" text-anchor="end" textLength="7.52" lengthAdjust="spacingAndGlyphs">1.3</text>
<path d="M525.9 317.4H527.4" stroke="#222" stroke-width="0.9"/>
<text x="524.1" y="345.2" class="tk" text-anchor="end" textLength="3.01" lengthAdjust="spacingAndGlyphs">1</text>
<path d="M527.1 339.0H528.6" stroke="#222" stroke-width="0.9"/>
<text x="518.9" y="371.5" class="tk" text-anchor="middle" textLength="13.54" lengthAdjust="spacingAndGlyphs">1.000</text>
<text x="538.6" y="381.1" class="tk" text-anchor="middle" textLength="13.54" lengthAdjust="spacingAndGlyphs">0.500</text>
<text x="558.3" y="390.6" class="tk" text-anchor="middle" textLength="13.54" lengthAdjust="spacingAndGlyphs">0.000</text>
<text x="578.1" y="400.2" class="tk" text-anchor="middle" textLength="13.54" lengthAdjust="spacingAndGlyphs">0.500</text>
<text x="597.8" y="409.8" class="tk" text-anchor="middle" textLength="15.34" lengthAdjust="spacingAndGlyphs">-1.000</text>
<text x="620.2" y="409.5" class="tk" text-anchor="middle" textLength="15.34" lengthAdjust="spacingAndGlyphs">-1.000</text>
<text x="640.1" y="400.3" class="tk" text-anchor="middle" textLength="15.34" lengthAdjust="spacingAndGlyphs">-0.500</text>
<text x="660.1" y="391.0" class="tk" text-anchor="middle" textLength="13.54" lengthAdjust="spacingAndGlyphs">0.000</text>
<text x="680.0" y="381.8" class="tk" text-anchor="middle" textLength="13.54" lengthAdjust="spacingAndGlyphs">0.500</text>
<text x="700.0" y="372.6" class="tk" text-anchor="middle" textLength="13.54" lengthAdjust="spacingAndGlyphs">1.000</text>
<text x="532.6" y="404.9" class="tt" text-anchor="middle" textLength="72.3" lengthAdjust="spacingAndGlyphs">D: Extract Percent</text>
<text x="681.0" y="404.2" class="tt" text-anchor="middle" textLength="35.2" lengthAdjust="spacingAndGlyphs">C: Temp.</text>
<text x="502.6" y="312.1" class="tt" text-anchor="middle" style="font-size:10px;fill:#222" transform="rotate(-90 502.6 312.1)">A</text>
<path d="M609.4 277.7V289.5" stroke="#222" stroke-width="0.8"/>
<circle cx="609.4" cy="277.7" r="1.4" fill="#b00606" stroke="#500" stroke-width="0.3"/>
<circle cx="609.4" cy="281.8" r="1.4" fill="#b00606" stroke="#500" stroke-width="0.3"/>
<circle cx="609.4" cy="286.9" r="1.4" fill="#e8c0cc" stroke="#500" stroke-width="0.3"/>
</svg></body></html>
